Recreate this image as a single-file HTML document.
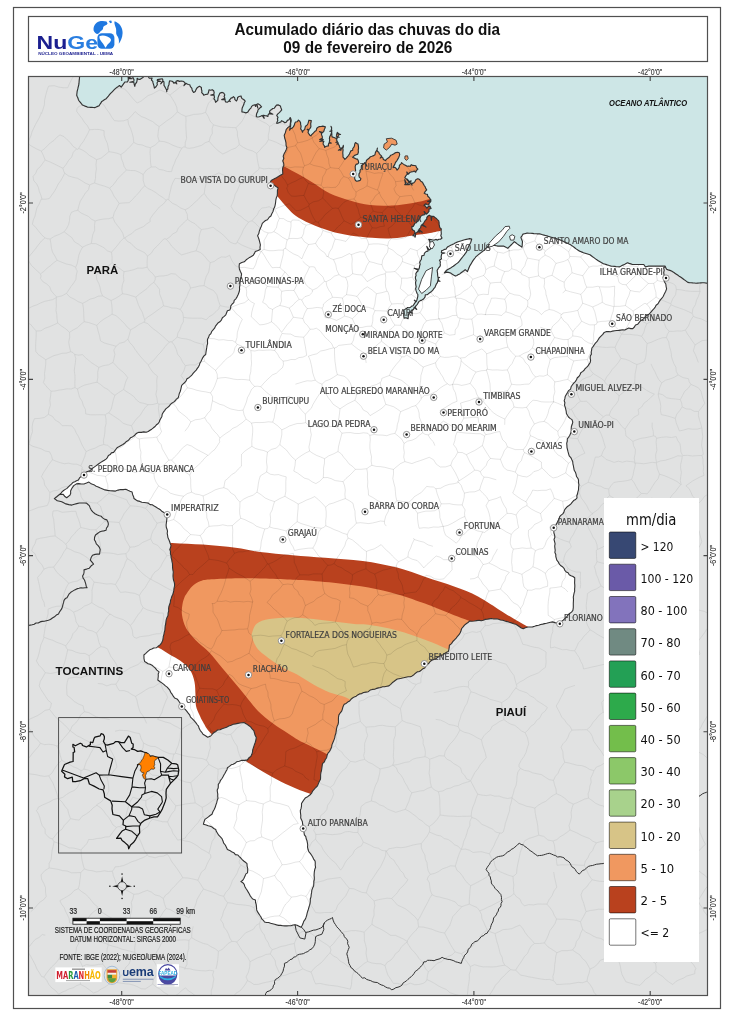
<!DOCTYPE html><html><head><meta charset="utf-8"><title>Acumulado diário das chuvas do dia</title>
<style>html,body{margin:0;padding:0;background:#fff;}svg{display:block}.lb{font-family:"DejaVu Sans","Liberation Sans",sans-serif;font-size:8px;fill:#3f3f3f;font-stretch:condensed;stroke:#3f3f3f;stroke-width:0.18px}.ar{font-family:"Liberation Sans",Arial,sans-serif}</style></head><body>
<svg width="736" height="1024" viewBox="0 0 736 1024">
<defs>
<clipPath id="frame"><rect x="28.5" y="76.5" width="679.5" height="919"/></clipPath>
<clipPath id="ma"><path d="M293 100 L664 100 L664.4 263.8 L665.5 266.5 L663.6 267.7 L664.2 270.2 L663.7 272.7 L664.1 275.2 L663.1 277.3 L663.9 279.5 L664.5 282 L665.8 284 L666.1 286.5 L666.6 288.9 L665.6 291.5 L664.3 293.9 L663.3 296.2 L661.9 298.2 L660.2 300.1 L659 301.9 L658 303.8 L656.1 305.2 L655.2 307.1 L654 308.7 L652.6 310.1 L651.3 311.7 L650 313.2 L648.6 314.6 L646.6 315.5 L645.3 317 L643.9 318.4 L642.4 319.8 L640.6 320.7 L639.2 322.4 L637.8 324.2 L635.5 325 L634.4 327 L632.8 328.6 L630.8 328.6 L628.7 328 L626.7 328.9 L624.8 330 L622.7 329.8 L620.7 330.1 L618.8 330.4 L616.7 330.5 L614.7 330.8 L612.6 331.1 L610.7 331.7 L608.6 331.6 L606.5 331.6 L604.2 332.4 L602.8 334.4 L601 336.1 L599.3 337.9 L598 340 L596.9 341.7 L595.4 343.1 L594.3 344.7 L593.2 346.4 L591.9 348 L591.6 350 L591.2 352 L591.4 354.1 L590.3 356 L590.2 358.2 L590.6 360.4 L590.2 362.5 L589.1 364.1 L588 365.9 L586.6 367.4 L585 368.7 L584.1 370.3 L582.5 371.6 L580.8 372.7 L580 374.7 L578.9 376.5 L577.3 377.8 L576.5 379.7 L575.3 381.6 L573.7 383.2 L572.3 385 L571.1 386.8 L570.6 389.1 L568.6 390.6 L567.5 392.6 L566.3 394.5 L565.2 396.5 L564.8 398.9 L564.2 400.7 L564.9 402.7 L564.5 405.1 L565.2 407.1 L565.7 409.2 L566.2 411.3 L566.4 413.5 L567.4 415.3 L568.5 417 L570 418.4 L572 419.6 L572.8 422.1 L572.2 424.3 L571.4 426.5 L571.2 428.8 L571.2 431.1 L570.7 433.3 L569.7 435.5 L568.4 437.5 L567.3 438.9 L567.3 441 L566.7 443.3 L566.9 445.4 L567 447.5 L567.5 449.6 L568 451.7 L568.6 453.8 L569.2 455.9 L570.8 457.6 L571.7 459.6 L572.7 461.5 L572.9 463.8 L573.4 465.9 L573.8 468.1 L574.2 470.3 L575.4 472.2 L576.1 474.3 L576.5 476.5 L577.8 478.3 L578.5 479.9 L578.5 482.4 L578.9 484.9 L578.6 487.4 L578.5 489.9 L577.9 491.8 L577.5 493.8 L576.8 495.7 L577 497.8 L575.6 499.5 L573.6 500.6 L572.1 502.3 L570.7 504.1 L569 505.5 L567.1 506.8 L565.7 508.4 L564.5 510 L563.9 512.1 L562.8 513.9 L561.1 515.1 L559.7 516.7 L559 518.9 L557.9 521 L557 523.1 L555.8 525.1 L554 526.5 L554.1 528.6 L553.8 530.8 L553.9 533 L554.6 535.1 L554.9 537.3 L554 539.5 L554.6 541.7 L555.1 543.8 L554.7 546 L554.9 548.1 L555.2 550.2 L554.9 552.4 L555.8 554.4 L555.8 556.5 L556.4 558.6 L556.8 560.2 L558.2 561.8 L559.2 563.9 L560.6 565.5 L562.4 566.7 L564 568.3 L564.8 570.4 L566.2 571.9 L568.1 572.8 L569.2 574.7 L571 575.7 L573 576.5 L574.7 577.8 L574.7 580.3 L574.6 582.9 L574.8 585 L574.8 587 L574.6 589.1 L574.7 591.2 L574.1 593.1 L573.7 595 L573.3 597.1 L573.5 599.2 L573.4 601.3 L573.3 603.4 L573.3 605.5 L573.3 607.6 L572.9 610.3 L571.5 612.1 L569.6 613.5 L567.9 615 L566.7 617 L565 618.4 L563.2 620.2 L561.1 621.7 L559.9 623.6 L557.4 623.1 L554.9 622.6 L552.5 621.9 L550.5 622.2 L548.5 622.7 L546.6 623.3 L544.6 623.6 L542.7 624.1 L540.6 624.5 L538.7 625.3 L536.6 625.6 L534.6 626.3 L532.6 626.9 L530.6 627 L527.9 627 L525.3 627.7 L523.3 628.8 L521.3 628 L519.5 626.7 L517.7 625.5 L515.8 624.3 L513.7 623.7 L511.5 622.9 L509.3 622.3 L507.1 621.6 L504.9 621 L502.8 620.2 L500.4 620 L498.7 619.3 L496.2 618.8 L493.8 619 L491.3 618.5 L489.1 618.9 L487.1 619.3 L485.1 619.4 L483.2 620.2 L481.2 620.8 L479.1 620.2 L476.7 620.6 L474.3 621 L471.8 621.2 L469.6 621.1 L468 622.5 L466.2 623.8 L464.5 625.1 L463.1 626.9 L461.7 628.5 L461 630.7 L460.2 632.8 L459 634.7 L457.5 636.3 L456.2 638.1 L454.5 639.8 L452.8 641.5 L451.5 643.6 L449.4 645.3 L449.2 647.4 L448.9 649.4 L448.4 651.4 L446.5 652.2 L444.8 653.4 L443.1 654.7 L441.2 655.6 L439.2 656.3 L437.5 657.5 L435.8 658.7 L433.8 659.4 L431.8 660.3 L430.1 661.5 L428.9 663.3 L427.3 664.6 L425.7 666 L424.7 667.9 L422.8 668.8 L421.2 670.2 L419.5 671.5 L417.2 671.9 L415.5 673.2 L413.9 674.7 L412.2 675.9 L410.4 676.8 L408.1 676.8 L405.8 677.2 L403.6 677.8 L401.4 678.3 L399.1 678.7 L397.3 679 L395.5 680.2 L393.9 681.5 L392.2 682.8 L390.7 684.3 L388.9 685.9 L386.8 686.2 L384.7 686.7 L382.6 686.7 L380.6 687.5 L378.5 687.9 L376.5 688.4 L374.6 689.3 L372.4 689.4 L370.2 690.1 L368.3 691.7 L366 692.1 L363.6 692.5 L361.6 693.6 L359.5 693.9 L357.7 694.9 L356.2 696.2 L354.3 696.9 L352.5 698 L351 699.2 L349.7 701 L347.7 702.1 L346.1 703.4 L344.2 704.3 L343.1 706.4 L342.5 708.6 L341.8 710.9 L340.3 712.8 L338.9 714.9 L338.5 717.2 L338.4 719.5 L338.5 721.9 L338.1 724.2 L337.1 726.3 L336.6 728.5 L336.2 730.9 L335.9 733.3 L335.1 735.5 L334.7 737.9 L333.9 740.1 L333 742.3 L332 744.6 L331.6 746.9 L330.7 749.2 L329.6 751.3 L328 753.1 L327.1 755.3 L326.6 757.7 L325.2 759.7 L324.4 761.9 L322.5 763.7 L322.1 766.2 L321.8 768.4 L321.5 770.5 L320.9 772.6 L320.6 774.8 L320.6 777 L320.5 779.3 L319.3 781.4 L318.4 783.6 L317.5 785.8 L315.8 787.5 L314.3 789.2 L312.8 790.8 L311.8 792.8 L310.5 794.5 L308.8 795.8 L307.1 797.1 L305.2 798.1 L303.9 799.8 L302.7 801.6 L301.5 803.5 L301.5 806 L301.1 808.4 L300.3 810.6 L300.5 813.1 L300.8 815.5 L300.7 817.9 L301.6 819.9 L302.4 821.8 L302.6 824 L303.2 826 L303.1 828.1 L303.6 830.1 L304 832.5 L304.4 834.9 L305.8 836.7 L306.2 838.8 L307 840.8 L307.4 842.9 L307.7 845 L307.5 847.2 L308 849.3 L308.8 851.6 L310.3 853.4 L311.6 855.3 L312.8 857.2 L313.8 859.4 L315.1 861.1 L315.3 863.1 L315.2 865.2 L315.6 867.3 L314.8 869.3 L314.4 871.3 L314.2 873.3 L314.1 875.4 L314.3 877.4 L314.3 879.5 L313.8 881.5 L313.8 883.7 L313.6 886 L312.6 888.1 L311.8 890.2 L311.6 892.4 L311.2 894.6 L311 896.8 L310.3 899 L310.3 901.1 L310.1 903.1 L309.6 905.2 L309 907 L308.4 909.2 L307.7 911.2 L307.1 913.4 L306.6 915.6 L305.9 917.7 L305 919.7 L303.7 921.3 L303.1 923.3 L302.3 925.2 L301 927.2 L299 926.2 L297.1 925.2 L295.1 924.8 L293 925 L291 925.7 L288.9 925.7 L286.8 925.9 L284.8 925.9 L282.7 925.8 L280.7 925.4 L278.7 925.4 L276.6 924.9 L274.6 924.3 L272.6 923.8 L270.6 923.3 L268.6 922.5 L266.5 922.5 L264.5 922 L263.4 920.3 L261.7 918.9 L261 917 L259.8 915.3 L258.7 913.6 L257.6 911.9 L256.7 909.9 L256.5 907.4 L256.3 904.9 L255.6 902.5 L255.4 899.9 L252.7 899 L251.3 897.3 L250.1 895.6 L249.2 893.7 L248.1 891.9 L247 890 L245.8 888.3 L244.8 886.4 L244.2 884.3 L242.8 882.7 L240.9 881.6 L242.8 880.2 L244 878.2 L245 876.1 L245.9 873.9 L247.5 872.9 L247.7 870.6 L247.7 868.3 L247.1 866.2 L247 863.6 L245.4 862.3 L243.7 861 L242.2 859.6 L240.8 858 L239.3 856.6 L237.9 855 L235.4 854.6 L233.8 852.7 L231.6 851.8 L229.7 850.4 L227.4 849.4 L226.4 847.2 L225.3 845 L223.7 843.1 L222.9 840.8 L222 838.6 L220.4 836.9 L218.7 835.2 L217.5 833.2 L216.3 831.3 L215.7 829.4 L213.8 828.5 L212.1 827.1 L210.2 826.3 L208.2 825.8 L206.2 825 L203.4 824.2 L204 822 L204.9 819.4 L206.7 818.1 L208.4 816.9 L210.1 815.5 L212 814.3 L212.9 811.8 L214.2 809.5 L215.3 807.1 L215.9 804.9 L216.7 802.7 L217.2 800.5 L218 798.3 L217.7 796.2 L217.8 794.1 L217.4 792 L217.2 790 L218.2 788.1 L218.3 786 L218.3 784.3 L219.7 782.5 L220.5 780.3 L222 778.5 L223 776.8 L223.9 775 L225 773.2 L225.9 771.4 L227 769.7 L227.4 767.8 L229.4 766.4 L231.2 764.8 L233.2 764.3 L235 763.3 L236.6 761.8 L239.3 761.3 L241.9 760.3 L244.7 760.4 L247.4 759.9 L248.9 757.7 L250.8 756.5 L251.8 754.3 L252.5 752.1 L252.7 749.8 L253.6 747.1 L254.5 744.4 L255.3 742.2 L255.9 740 L256.3 737.4 L255.1 735.3 L254.5 733 L253.8 730.6 L252.1 728.8 L250.6 726.9 L248.7 725.5 L246.4 723.9 L244 722.6 L241.9 722.7 L239.9 723 L237.9 723.4 L235.6 723.9 L233.3 724.3 L231.1 725.2 L228.8 726 L226.6 727.2 L224.3 728 L222.1 728.7 L220 729.8 L217.5 730 L215.9 731.4 L214 732.5 L212.5 733.9 L210.7 736 L207.7 737.3 L205.5 735.8 L203 734.3 L201.8 732.3 L200.3 730.6 L199.2 728.6 L198.5 726.2 L197.1 724.5 L195.8 722.6 L194.1 720.7 L192.4 718.8 L190.5 717.1 L189.6 714.8 L188 712.9 L186.7 711.1 L185.2 709.3 L183.4 707.8 L182.2 706.1 L180.9 704.4 L179.7 702.5 L178.5 700.7 L177 698.9 L174.6 698 L173.3 696.1 L172.1 694.2 L170.7 692.3 L169.8 690.2 L168.5 688.6 L167.2 687.1 L165.4 685.9 L164.1 684.6 L162.2 683.1 L160.1 681.8 L157.8 680 L158.1 678 L158.3 676 L158.2 674 L159.1 671.9 L156.9 670.1 L155.1 667.9 L153.5 666.6 L152 665.2 L150.1 664.3 L148.1 663.7 L146.3 662.5 L144.6 661.5 L144 658.7 L143.9 655 L145.8 653.4 L147.6 651.7 L149.7 649.8 L151.8 649.1 L153.7 648 L156.3 647.8 L158.1 646.3 L160 644.9 L161.5 643.1 L162.5 641 L163.1 638.7 L163.3 636.4 L164 634.1 L164.3 632.1 L164.9 630.1 L165 628 L165.2 626 L165.7 624 L165.9 621.9 L166.2 619.9 L166.9 617.7 L168 615.5 L168.1 613.2 L168.7 611 L168.6 608.6 L168.9 606.5 L169.6 604.5 L170.3 602.5 L170.5 600.4 L171.2 598.4 L171.8 596.4 L172.7 594.5 L173.4 592.5 L173.8 590.4 L174 588.3 L174.5 586.2 L174.6 584.1 L174.2 582.1 L173.5 580.1 L173.2 578.1 L173 576.1 L173.1 574 L173.3 572 L172.9 570.1 L172.6 568 L172.5 565.9 L172.5 563.8 L172 561.7 L171.7 559.7 L171.1 557.7 L171 555.6 L170.4 553.6 L170.5 551.5 L169.8 549.5 L170.6 547.5 L171 545.4 L170.2 543.5 L169.6 541.5 L168.8 539.5 L167.9 537.6 L167.6 535.4 L167.2 533.4 L167.5 531.2 L167 529.2 L166.3 527.2 L166.1 525 L166.4 522.8 L166.7 520.5 L166.9 518.3 L166.3 516 L166.3 514.2 L164.3 512.8 L162.2 511.6 L160.4 509.8 L158.3 508.6 L156.3 507.3 L154.2 506.1 L152.3 504.8 L150.1 504.6 L148.3 503.1 L146.2 502.8 L144.1 502.5 L141.8 502.3 L139.9 501.4 L137.7 500.9 L135.8 499.8 L134 498.5 L133.5 496.4 L132.6 494.4 L132.1 492 L130 491.2 L127.9 490.3 L125.8 489.3 L123.2 489.6 L120.6 489.5 L118.1 490.1 L115.5 491.1 L112.7 490.9 L110.1 490.8 L107.6 490.4 L105 489.9 L102.7 488.9 L100.4 488.1 L98.2 486.9 L96.2 486.2 L94.5 485.1 L92.5 484.3 L90.6 483.4 L88.9 482.1 L86.5 483.1 L84 484 L81.3 484 L78.9 483.6 L76.4 483.9 L73.8 485.6 L72.5 487.3 L71.4 489.2 L70.6 491 L70.7 493.2 L70 495.1 L66.7 497.8 L64.6 496.2 L63.2 494.3 L59.4 494.5 L57.8 495.9 L56 497.2 L54.4 498.6 L56.1 497.4 L57.6 496 L59.2 494.8 L60.8 493.5 L62 491.9 L63.6 490.5 L65.3 489.4 L67 488.4 L68.4 486.8 L69.9 485.4 L71.4 484.1 L72.8 482.6 L74.8 481.8 L76.5 480.8 L78.4 479.9 L79.5 477.9 L81 476.6 L83.1 475.9 L84.3 474.3 L85.6 472.6 L87.4 471.6 L89.5 470.9 L91.2 469.8 L92.5 468.2 L94.2 467.1 L95.9 465.9 L97.5 464.7 L99.1 463.5 L100.8 462.4 L102.6 461.3 L104.3 460.3 L106 459.1 L107.4 457.6 L108.4 455.6 L110.2 454.6 L111.4 452.9 L113.6 452.4 L114.9 450.7 L116.1 449 L117.4 447.4 L119.3 446.5 L121.1 445.5 L122.9 444.5 L124.6 443.3 L126 441.8 L127.8 440.8 L129.2 439.4 L130.5 437.8 L132.4 436.9 L134.2 435.8 L135.5 434.3 L137.1 433 L138.9 432.2 L141.3 432.4 L143.8 431.9 L146.2 432.3 L148.2 431.5 L150 430.3 L151.7 429.2 L153.4 427.8 L155.1 426.5 L156.4 424.8 L158 423.7 L159.2 422 L159.9 420 L160.9 418.2 L161.9 416.4 L162.2 414.2 L163.2 412.4 L164.6 410.6 L165.8 408.9 L167.4 407.6 L169.1 406.3 L170.3 404.6 L171.8 403.2 L173.6 402.1 L175.2 400.8 L176.4 399.1 L178.2 397.8 L178.8 395.7 L179.3 393.5 L180.2 391.5 L180.8 389.3 L181.3 387.1 L181.7 385.3 L183.2 383.9 L184.8 382.5 L186.1 380.8 L187 378.8 L188.9 377.7 L190.5 376.3 L192 374.8 L193.3 373.2 L194.7 371.6 L196.2 370.1 L197.3 368.4 L198.5 366.8 L199.4 364.9 L200 363 L201.1 361.2 L201.9 359.4 L202.8 357.6 L204 355.9 L205.7 354.5 L206 352.2 L206.3 350.1 L206.7 347.9 L207 345.7 L207.6 343.6 L207.5 341.3 L207.5 339.2 L208.6 337.3 L209.3 335.2 L210.9 333.6 L211.7 331.5 L213.1 329.8 L214.6 328.2 L215.5 326.1 L216.9 324.4 L218.3 322.7 L220.2 321.5 L221.5 319.8 L222.4 317.7 L224.2 316.4 L225.8 314.9 L226.6 312.8 L227.4 310.7 L229.8 310 L230.6 308.1 L230.8 305.8 L232.2 304 L233.8 302.6 L234.2 300.3 L235.9 298.8 L237.2 296.6 L238.3 294.2 L239.2 291.8 L239.6 289.6 L239.5 287.4 L239.9 285.2 L240 283 L240.2 280.8 L240.6 278.6 L241.2 276.4 L241.6 274 L240.3 271.3 L239.4 269 L239.1 266.3 L239.4 263.8 L241.8 262.6 L244.3 261.8 L246.2 259.8 L247.9 258.6 L249.6 257.4 L251.4 256.5 L253.3 255.2 L254.4 253.4 L255.3 251.6 L257.5 250.8 L260.2 249.6 L260 247.2 L260.4 244.9 L259.8 242.4 L259.2 240 L258.4 237.6 L257.6 235.8 L258.8 233.6 L259.3 231.1 L260.2 228.8 L261.4 226.1 L262.3 223.3 L263.9 221.9 L265.5 220.5 L267.5 219.7 L269.2 217.3 L270.9 216 L271.8 213.7 L273 211.5 L273.6 209.1 L274.7 207 L275.2 204.8 L275.6 202.5 L275.8 200.2 L276.3 197.9 L277.2 195.7 L277.4 193.3 L277.4 190.6 L278.1 187.9 L276 186.5 L274.2 185.1 L272.3 183.7 L270.2 182.7 L271.2 180.4 L273.8 179.1 L276.4 177.7 L278.4 176.5 L280.4 175.2 L282.8 174.1 L282.7 171.8 L282.5 169.4 L282.9 167.2 L283.9 165.2 L283.6 163 L282.7 160.9 L283.8 158.6 L283.2 156.3 L284 154.1 L285.1 152 L286.1 149.9 L286.9 147.6 L286 145.3 L286 142.9 L285.5 140.6 L284.7 138 L284.2 135.3 L285.4 132.6 L286.2 129.5 L287.8 127.6 L290 126 Z"/></clipPath>
</defs>
<rect x="13.5" y="7.5" width="707" height="1001" fill="#fff" stroke="#505050" stroke-width="1.2"/>
<rect x="28.5" y="16.5" width="679" height="45" fill="#fff" stroke="#505050" stroke-width="1.2"/>
<text class="ar" x="367.3" y="34.8" text-anchor="middle" font-size="15.8" font-weight="bold" fill="#111" textLength="265.5" lengthAdjust="spacingAndGlyphs">Acumulado diário das chuvas do dia</text>
<text class="ar" x="367.8" y="53" text-anchor="middle" font-size="15.8" font-weight="bold" fill="#111" textLength="169" lengthAdjust="spacingAndGlyphs">09 de fevereiro de 2026</text>
<text x="36.6" y="49" style="font-family:'Liberation Sans',Arial,sans-serif;font-weight:bold" font-size="17.5" textLength="61.5" lengthAdjust="spacingAndGlyphs"><tspan fill="#1b1f8f">Nu</tspan><tspan fill="#2a7ee0">Ge</tspan></text>
<path d="M93.6 30.5 C93.2 26 95.5 22.8 99 21.6 C101.5 20.8 104.5 21 106.5 21.6 L107.6 23.5 C106.5 25.5 104.8 25.2 103.6 26.6 C102.6 28 103.8 29.6 101.6 30.4 C100.2 31 99.8 32.6 98.6 33.6 C97 34.6 95 33.6 93.6 30.5 Z" fill="#1f78e0"/>
<path d="M108.8 21 L111.2 20.6 L112 22.4 L110.2 23.2 Z" fill="#1f78e0"/>
<path d="M114.6 21.2 C119.2 22.6 122.8 27.4 122.6 33 C122.4 38 120.6 41.4 118.8 43.8 C119.4 40 118.6 37.2 116.8 35.2 C115.6 33.4 116.6 31.4 116 28.6 C115.4 26 113.8 23.2 114.6 21.2 Z" fill="#1f78e0"/>
<rect x="97.4" y="33.3" width="17" height="15.4" rx="4.5" fill="#1f78e0"/>
<path d="M99.4 36.2 C101.5 35 104.5 35.2 107.2 36.4 C109.2 37.3 111.2 38.2 111 40.2 C110.6 42.2 108.6 43.4 107.4 44.8 C106.6 46 106.1 47.3 105.4 47.8 C104.6 46 103.6 44 102.1 42.4 C100.6 40.6 99.1 38.5 99.4 36.2 Z" fill="#fff"/>
<text x="38.2" y="54.6" style="font-family:'Liberation Sans',Arial,sans-serif;font-weight:bold;fill:#1b1f8f" font-size="4" textLength="75" lengthAdjust="spacingAndGlyphs">NÚCLEO GEOAMBIENTAL - UEMA</text>
<g clip-path="url(#frame)">
<rect x="28" y="76" width="681" height="921" fill="#e1e2e2"/>
<path d="M117.5 982.6l4 0.6 4.1 0.6 4.1 0.3 3.9 1.1 3.8 1.5 3.7 2 4.1 0.3M685.8 673.3l2.9-3.8 2-4.5 3.3-3.5 2.6-4 3.3-3.5M43.4 382.6l1.4-4.5 -0.3-4.7 0.7-4.5 0.5-4.6 0.1-4.6M45.8 359.7l-3.6-2.5 -3.6-2.4 -2.8-3.3M117.5 982.6l0.5-0.5 -0.6 0.5M117.4 982.6l-4.6 0.2 -4.1 1.6 -3.6 2.6 -3.9 2 -3.6 2.6 -4.1 1.4M145.2 989l3.8-2.4 3.7-2.5M170.8 998l-3-3.5 -4.1-2.2 -3.4-3.1 -4.1-2.2 -3.5-2.9M85.7 413.9l4.9 0.9 4.9 0 4.9-0.1 4.8 0.2M105.2 414.9l0.8 4.3 0.1 4.2 -1 4.2 -0.2 4.2 -0.5 4.3 -1 4.1 0.3 4.3M72 425.9l2.6 3.3 1.7 3.9 2.2 3.5 1.7 3.9 1.6 3.9 2 3.6 2.3 3.6M86.1 451.6l4.3-2 4.6-1.4 4.1-2.3 4.6-1.4M58.6 994.2l3.5-2 3.7-1.5 3.5-1.9 3.9-1 3.4-2.2 3.9-1.2M93.5 993l-4.1-3.2 -4.2-3 -4.7-2.4M247.4 980.6l-2.1 3.8 -2.6 3.4 -2.8 3.2 -3.9 2.2 -2.6 3.4 -3 3.1 -2.7 3.2 -3.7 2.4 -2.3 3.7 -3.2 2.8 -2.6 3.4M247.4 980.6l3.4 1.7 3.1 2.2M253.9 984.5l4.4-0.1 4.1-1.3 4.2-0.9 4.2-0.8 4.2-1.2 4.3-0.2M350.3 989.2l-4.3-1.1 -4.3-0.9 -4.3-1 -4.3-0.5 -4.4-0.5 -4.3-0.8 -4.3-1 -4.5 0.5M703.3 454.2l-0.7-4.4 -1-4.3 0.4-4.4 0.8-4.5 -0.6-4.4 -0.3-4.4M717 616.7l-4.4-1.4 -4.2-1.7 -4-2.2 -4.5-1 -4-2.2 -4.1-2 -3.8-2.4M688 603.8l0.9-4 0-4.2 1.9-3.6 0.6-4 0.9-3.9 2.1-3.6M713.5 101.3l-3.8-2.5 -4.1-2 -4.1-1.8M701.5 95l-4.6 1 -4.8-0.3 -4.6 1.6M680 75.7l1.3 4.4 1.2 4.4 2.5 4 0.9 4.5 1.6 4.3M702.3 125.1l1.9-3.9 2.2-3.8 2.2-3.8 1.4-4.2 2.5-3.7 1-4.4M703 130.8l0.1 4.1 1 4 0.7 4 0.2 4.1 0.7 4.1 1.8 3.8M117 767l-3 3.7 -3 3.8 -4 2.8M108.9 790.9l-0.3-4.6 -0.5-4.5 -1.1-4.5M106.4 742.4l2.6 3.8 1.7 4.1 2.2 3.9 1.9 4.1 1.1 4.3 1.1 4.4M106.4 742.4l-5.7 1.6 -5.5 1.9M107 777.3l-4-0.8 -3.6-2.1 -3.9-1.3 -3.8-1.4 -3.8-1.7 -4-0.9M95.2 745.9l-2.3 3.7 -2.2 3.7 -1.8 3.9 -2.3 3.7 -1.5 4.1 -1.2 4.1M18.9 773.2l4.2 0.7 4.4-0.3 4.2 0.6 4.3 0.5 4.2 1 4.3 0.7 4.3-0.6M38.2 807.3l3.8-2.1 3.9-1.7 4-1.7 3.7-2.3 4.3-1M57.9 798.5l-0.7-4.1 -1.4-3.9 -1.4-3.8 -1.5-3.8 -2.2-3.5 -1.9-3.6M18.2 772.7l2.5-3.3 1.9-3.6 2.7-3.1 2.5-3.2 2.5-3.3 2.5-3.2 2.7-3.2 2.8-3 2.1-3.5M40.4 743.3l4.1 1.3 4.3-0.3 4.2 0.4 4.1 1.4M57.1 746.1l2 4.6 1.2 4.9 1.5 4.8M48.8 775.8l3.1-2.7 2.1-3.5 2.2-3.4 2.5-3.1 3.1-2.7M270.3 953.9l2.7 3.3 2.2 3.5 0.6 4.4 1.7 3.7 1.7 3.8 2.4 3.4M270.3 953.9l-4.4 0.6 -3.9 1.9 -4.2 1.3 -3.9 2 -3.9 2M247.4 980.6l-0.5-1.9 -0.9-1.7M279.3 980l0.5-2.3 1.8-1.7M250 961.7l-0.3 5.4 -1.3 5.1 -2.4 4.8M117.4 982.6l0-0.5 -0.1-0.5M152.7 984.1l0.6-4.3 2.5-3.8 0.3-4.4 1.2-4.1M117.3 981.6l2.3-3.6 2.6-3.3 1.9-3.8 1.8-3.8 3.2-3 1.3-4.1 2.1-3.7 2.7-3.3M135.2 953l4.2 1.7 4 2 4.4 1 4.4 1.1M152.2 958.8l2.8 4.2 2.3 4.5M28.9 444l3.8 2.3 4.3 1.2 4.2 1.3 3.9 2.2 4.4 0.8M28.9 444l1.2-4.1 1-4.2 1.4-4.1 -0.4-4.6 0.7-4.2 1.6-4.1M62.2 425.7l-3-3.4 -4-2.2 -2.7-3.7 -4.1-2M34.4 418.7l5.1-0.3 4.8-0.9 4.1-3.1M41.5 476.6l1.8-3.7 2.2-3.3 2.2-3.4 2.3-3.3 2.5-3.2M52.5 459.7l-1-4.1 -2-3.8M52.5 459.7l3.9 1.7 3.9 1.3 4 1 4.4-0.5 4 0.9 4.2 0.1 3.9 1.7M80.8 465.9l2-4.6 1.9-4.8 1.4-4.9M72 425.9l-4.9-0.3 -4.9 0.1M43.4 382.6l3.6 4.5 4 4.1M51 391.2l-0.4 4.7 -0.7 4.6 0.5 4.7 -1.4 4.5 -0.6 4.7M171.6 460.1l3.2 3.5 3.5 3.3 4.2 2.3 3.4 3.3 4 2.6M171.6 460.1l3-3.3 3.2-3 2.6-3.6 3.2-3.1 3.5-2.6M189.9 475.1l1.9-4.3 3.3-2.9 3.4-3 3.2-3.1 2.8-3.5 3.3-3M187.1 444.5l4.5 1.6 3.9 2.6 4.1 2.2 4.1 2.1 4.1 2.3M171.6 460.1l-1.4-0.1 -1.4 0.2M161.5 431.5l-1.8 3.2 -2.9 2.3M156.8 437l1.4 4.1 2.9 3.5 1.2 4.2 2.2 3.8 2.2 3.8 2.1 3.8M274.5 501.6l5.1-2.9 5.3-2.4M274.5 501.6l-1.3 4.2 -1 4.1 -2.1 4 0.5 4.5 -0.2 4.3 -0.8 4.3M297.2 521.7l0.1-4.4 0.4-4.5 0.4-4.4 0.1-4.4M297.2 521.7l-3.8 3 -3.4 3.4 -4 2.8M286 530.9l-4.1-1 -4.1-1.1 -4.2-0.6 -4-1.2M284.9 496.3l4.3 2.6 4.6 2.4 4.4 2.7M295.5 460l-3.4-2.9 -2.8-3.3 -2.7-3.6 -3.4-2.8 -3.4-2.8M295.5 460l-0.5 5.6 -1.2 5.5M286.2 476.8l-3.9-0.9 -3.8-1.3 -4.2 0.3 -4-0.7 -3.6-2.2M266.7 472l0.5-5 -0.7-5 0.3-4.9 0.7-5M267.5 452.1l3.9-2.7 4.9-1.3 3.5-3.5M284.9 496.3l0.9-4.8 0-4.9 0-4.9 0.4-4.9M298.2 504l4.2-1.8 4-2.1 4.3-1.6 4-1.9M315.9 483.6l-3.8-1.8 -3.5-2.5 -4.2-1.2 -3.4-2.5 -3.5-2.6 -3.7-1.9M274.4 720.7l5-1.8 5.3-0.5 5-1.5M274.4 720.7l-1.5-4 -0.8-4.1 -1.1-4 -0.1-4.3 -1.3-4 -1.5-3.9 -0.2-4.3 -1.8-3.9 -0.6-4.1M289.7 716.9l2.6-3.3 1.2-3.9 1.4-3.8 1.6-3.7 1.7-3.7 1.5-3.8 2.2-3.5M301.9 691.2l-1.2-3.9 -1.7-3.7M299 683.6l-4-1 -4.3 0 -4-1.3 -4.2-0.4 -4-1.3 -4.1-1 -4.2-0.3M556.5 984.5l-1.3-2.1 -1.8-1.8M553.4 980.6l-4-1.2 -4.3 0.2 -4.1-0.6 -4.1-0.7 -4.1-0.8 -4.1-0.7 -4.1-1 -4.1-0.7M556.5 984.5l4.4-0.1 4.4-0.4 4.4-0.1 4.3-0.8 4.3-0.7 4.4 0.3 4.3-1.6M587 981.1l3 3.4 2.4 3.7 1.6 4.2 3 3.4 1.7 4.2 2 4M714 926.3l-4.1 1 -3.6 2.6 -3.8 1.9 -3.9 1.7 -4.4 0.3 -4.4 0.1 -4.1 0.9 -3.6 2.6 -4.2 0.8M677.9 938.2l-0.4 2.5 0 2.5M677.5 943.2l2.7 3.5 2.6 3.7 2.8 3.5 2.9 3.4 1.9 4.2 3.1 3.2 2.3 3.8M694.8 973.7l0-2.7 1-2.5M423.1 983.4l-4.3 1.1 -4.2 0.2 -4.3-1.5 -4.2 1.7 -4.3-0.1 -4.2-1.4 -4.2 0M97 804.5l-0.4 0.4 0.3 0.4M96.9 805.3l-3.8 2.6 -3.2 3.4 -3.7 2.7 -4.1 2.3 -2.9 3.8M77.3 787.7l-3.3 2.9 -4 1.7 -3.6 2.3 -3.5 2.7 -4.2 1.4M58.7 798.7l3.4 3.4 2.6 3.9 3 3.5 1.2 4.7 1.6 4.5M70.5 818.7l4.3 0.8 4.4 0.6M108.9 790.9l-2.2 4.1 -2.6 3.8 -3 3.3 -4.1 2.4M83.9 769.1l-1.3 1 -1.6 0.4M81 770.5l-0.3 4.4 -1 4.3 -0.4 4.4 -2 4.1M57.9 798.5l0.3 0.6 0.5-0.4M81 770.5l-3.7-2.2 -4.1-1.6 -3.7-2.3 -3.9-1.9 -3.8-2.1M314.5 882.5l-2.2 3.4 -2.1 3.6 -1.8 3.6 -2.4 3.3M314.5 882.5l4.4-0.7 4.3-1 4.2-1.6 4.3-0.6 4.4-0.5 4.4-0.7M306 896.4l2.2 4.2 2.3 4.1 2.7 3.8 2.4 4.1M333.2 912.4l-4.4 0.1 -4.4 0 -4.4 0.5 -4.4-0.4M333.2 912.4l3-3 1.4-4 2.7-3.2 2.6-3.2 2.8-3.1 1.9-3.7 1.8-3.8M349.4 888.4l-3-3.6 -2.9-3.7 -3-3.7M315.5 839.2l2.7 3.5 3.1 3.2 2 4.1 2.6 3.5 2.8 3.5 3.2 3.1 3.5 2.8 2.6 3.6 2.6 3.6M315.5 839.2l-3.7 3 -2.1 4.1 -2.3 4.1 -2.9 3.5 -2 4.3 -3 3.4M299.5 861.6l2.8 3.3 2.4 3.6 2.7 3.3 2.8 3.3 2.5 3.5 1.8 3.9M730.6 702.5l-4.2 2.3 -4.6 1.4 -4.3 2.1 -4.2 2.5 -4.2 2.1M685.8 673.3l-2.1 0.6 -2.1 0.7M681.6 674.6l-1.6 4.2 -0.3 4.7 -2.2 3.9 -1 4.4 -2.6 3.8 -1.7 4.1 -2.6 3.7M697 642.5l-3.7-2.3 -4-1.5 -3.9-1.7 -3.5-2.5 -4-1.6 -3.7-2.1M697 642.5l1.2 5.8 1.7 5.7M654.2 654.7l2.2-4 1.9-4.2 2.2-4.1 1.4-4.4 3-3.7M674.2 630.8l-4.5 2 -4.8 1.5M697 642.5l2.6-3.2 2.4-3.2 2.5-3.3 2.1-3.5 2.9-3 2.2-3.4 3-2.8 2.3-3.4M688 603.8l-1.3 1.1 -1.6 0.1M694.4 580.5l0.1-1.1 -0.9-0.7M693.6 578.7l1.8-3.7 0.9-4 0.2-4.1 0.9-3.9 1.2-3.9M729.4 261.3l-3.8-2.3 -4.2-1.5 -4.1-1.8 -3.6-2.7 -4.2-1.7 -4-1.8 -4.1-1.9M701.4 247.6l-1-4.5 1.1-4.3 1.4-4.3M722.5 223l-3.8 2.6 -4.3 1.6 -3.7 2.7 -3.9 2.3 -3.9 2.3M697.4 206l3.5 2.5 4.1 1.7 3.9 2 3.7 2.3 2.9 3.4 3.3 2.8 3.7 2.3M697.4 206l1.6-3.7 0.3-3.9M714.1 187.2l-3.4 3.2 -3.7 2.8 -4 2.4 -3.7 2.8M689.7 253.2l-1.6-4.7 -2.9-3.8 -2.2-4.2 -2.5-4.1 -2.2-4.2M702.9 234.5l-4.5-2.2 -4.3-2.5 -3.6-3.5 -4-3M678.3 232.2l3.3-2.4 2.6-3.1 2.3-3.4M686.5 223.3l-0.1-5.3 1.6-5.1M703 130.8l-4.2 2.3 -4.1 2.3 -4.5 1.6 -4.2 2 -4.5 1.5M707.5 154.9l-3.3 2.7 -3.6 2.3 -3.8 2M681.5 140.5l2.1 3.9 2.8 3.4 2.8 3.4 3.1 3.2 2.2 3.8 2.3 3.7M686.9 185.4l3.1 3.3 2.7 3.6 3.4 2.9 3.2 3.2M686.9 185.4l-0.4-4.9 1.6-4.4 1.8-4.4 1-4.6M714.1 187.2l-2.2-3.6 -2-3.9 -1.8-4 -3.6-2.5 -2.9-3.1 -2.8-3.2 -2.9-3.1M690.9 167.1l3-0.9 2-2.4M696.8 161.9l-0.4 1 -0.5 0.9M58.6 994.2l-2.9-3.5 -3.8-2.7 -3-3.4 -2.1-4.1 -2.9-3.4M41.7 976.7l1.1 0.1 1.1 0.3M41.7 976.7l-2.3-3.9 -2.5-3.8 -1.7-4.3 -2.1-4 -2.2-4 -2.4-3.9 -2-4.1M26.5 948.7l3.3-2.7 2.6-3.4 2.9-3.2 3.9-2 3.1-2.9M59.8 957.5l-2.4 3.5 -2.7 3.2 -3.2 2.8 -2.7 3.2 -2.6 3.4 -2.3 3.5M42.3 934.5l1.4 0.4 1.5 0.3M52.6 838.9l-2.6-0.7 -2.1-1.6M52.6 838.9l0.6 1.5 0.8 1.4M54 841.8l-0.8 4.3 -1.1 4.4 -0.5 4.4 -0.4 4.4 -2.1 4.2 0.1 4.5M41.1 874.9l3.5-4.1 4.6-2.8M36.4 810.6l1.3-1.4 0.5-1.9M36.4 810.6l2.2 3.5 1.3 3.8 1 4 1.4 3.8 2.8 3.3 0.1 4.3 2.7 3.3M70.5 818.7l-2.9 3.4 -3.2 3.2 -2.4 3.9 -3.8 2.7 -2.8 3.5 -2.8 3.5M88.6 839.5l-1.6 4.1 -3.2 3 -2.7 3.4M81.1 850l-3.9-1.1 -3.9-0.9 -4.2-0.1 -3.7-1.9 -3.7-1.6 -3.8-1.4 -3.9-1.2M81.1 850l0.2 4.8 0.6 4.8 1.1 4.6 1.3 4.7M84.3 868.9l-1.7 1.9 -1.9 1.7M80.7 872.5l-4.6 0.2 -4.6 0.1 -4.4-1.8 -4.5-0.4 -4.4-1.2 -4.5-0.8 -4.5-0.6M46.2 896.5l-2.7 3.4 -3.8 2.4 -2.8 3.2 -2.9 3.3 -3.2 2.9M46.2 896.5l-0.7-4.4 0-4.5 -1.7-4.2 -2.2-4 -0.5-4.5M143.5 743l-0.4 4.3 -1.6 4 0.2 4.4 -1.2 4.1 -1.3 4 -2.5 3.8M143.5 743l3.6 1.9 3.7 1.4 4.3 0.2 3.6 1.8 3.5 2.2 3.7 1.7 3.8 1.5 4.1 0.4M136.7 767.6l3.6 2.5 4.4 0.8 4.1 1.3 3.5 2.9 4.5 0.4 4.4 0.7 3.8 2.2M173.8 754.1l-1 4.2 -1.1 4.2 -1.7 4 -0.7 4.3 -0.4 4.4M132.8 797.2l4.3 1.3 4.3 1.2 4.4 0.9M135.7 768.3l0.3-0.7 0.7 0M145.8 800.6l4.2-2.6 4.3-2.6 3.6-3.6 4.7-2M162.6 789.8l1.7-5.6 0.7-5.8M270.3 953.9l0.8-2.1 1.1-2.1M250 961.7l-2.2-4.3 -3-3.7 -3.1-3.7 -2.5-4 -2.5-4.1M236.7 941.9l3.2-2.7 2.8-3.2 2.9-3.2 4-1.7 3.9-1.9 2.5-3.7 3.6-2.2M259.6 923.3l0.3 4.4 1.8 3.8 2.6 3.4 1.3 4 2.5 3.5 1.4 4 2.7 3.3M102.6 964l1-3.9 0.9-3.9 2.4-3.5 0.3-4 1.2-3.9M102.6 964l-4 0.4 -4 0.8 -4.1 0.1 -4.1-0.7 -3.9 1.8M82.5 937l-2.5 3.3 -1.7 3.8 -1.9 3.6 -0.4 4.3 -1.3 3.9M82.5 937l4.2 1.3 4.5 0.3 3.9 2.7 4.4 0.3 4.3 1.3 4.2 1.3M108 944.2l-0.2 0.5 0.6 0.1M82.5 966.4l-1.9-4 -2.3-3.7 -3.6-2.8M117.3 981.6l-2.1-4.2 -3.9-2.8 -2.7-3.7 -3.1-3.4 -2.9-3.5M135.2 953l-0.3-0.2 -0.1-0.4M134.8 952.4l-4.4-1.1 -4.5-1.2 -4.4-1 -4.3-1.8 -4.5-1.1 -4.3-1.4M80.5 984.4l-0.4-4.6 0.8-4.5 1.1-4.4 0.5-4.5M137.1 925.4l-4-2.7 -3.2-3.6M137.1 925.4l-0.1 4.5 -0.2 4.5 -0.7 4.5 -0.7 4.5 -0.7 4.5 0.1 4.5M115.1 921.7l5-0.4 4.9-1.2 4.9-1M115.1 921.7l-1.5 4.5 -1 4.6 -2.1 4.3 -1.7 4.4 -0.8 4.7M59.8 957.5l4.9-1.1 5 0.1 5-0.6M137.1 925.4l4.7-0.7 4.7-0.8 4.7-0.6 4.8-0.3M152.2 958.8l2.7-3.3 2-3.9 2.2-3.6 1.9-3.9 2.7-3.4M170.8 998l4.1-1.9 3.7-2.5 3.3-3.2 3.7-2.6M215.9 1015.2l-2.2-4 -1.5-4.3M212.2 1006.9l-2.6-3.5 -3.5-2 -2.7-3.3 -4-1.5 -4.3-1 -3.2-2.6 -3.5-2.1 -2.8-3.1M396.4 565.9l-4.3 1.7 -4.3 1.6 -4.6 0.9 -4.3 1.9 -4.2 2M396.4 565.9l0.4 4.2 1.5 3.9 0.2 4.2 2.2 3.6 1.7 3.8 0.6 4.1 1.4 3.9M374.7 574l1.3 4 1 4.1 -0.7 4.4 1 4.1 1 4.1M378.3 594.7l4.2 1.2 4.2-1.5 4.1-0.5 4.2-0.1 4.2 0.8 4.2 0M404.4 593.6l-0.5 0.5 -0.5 0.5M297.2 521.7l3.8 1.8 4 1.2 4 1.2 3.9 1.4 4.2 0.4 4.2 0.6M325.6 507.1l0.6 4.7 0 4.6 -0.5 4.7 0.1 4.7M325.6 507.1l-3.4-3.7 -3.6-3.6 -3.9-3.2M321.3 528.3l2.4-0.9 2.1-1.6M506.2 664.2l2.4 3.8 2.6 3.9 2.8 3.7 1.1 4.5 1.3 4.5M516.4 684.6l3.4-2.6 3.8-1.9 3.5-2.4 3.7-1.9 4.1-1.5 3.9-1.6 3.2-2.9 3.5-2.5M522.8 644.3l4 0.8 3.9 1.3 4 0.9 4.1 0.6 3.7 1.9 3.6 2.2M545.5 667.3l0.6-5.1 -0.2-5.1 0.2-5.1M485 625.7l4.1-0.3 3.9-1.8 4.1-0.3 4.1-0.5 4.1 0.3 4.2 0.2 4-1.2M485 625.7l-2.3 2.8 -2.2 2.8M513.5 622.1l1.4 3.8 1.7 3.6 1.6 3.7 1.8 3.6 1.4 3.8 1.4 3.7M506.2 664.2l-4.1-1.2 -4-1.3 -3.8-1.8 -4.2-0.8M490.1 659.1l-0.9-4.1 -2-3.8 -1.6-3.9 -1.1-4 -1.1-4.1 -1.3-4 -1.6-3.9M490.1 659.1l-3 3.3 -3.1 3.2 -3.1 3.2 -3 3.3 -3.8 2.5 -2.5 3.8 -3.2 3M480.5 631.3l-3.9 1.1 -4.3-0.7 -3.9 1.2 -3.9 1.2M447.2 654.5l2.7-3.6 2.8-3.4 3.4-3 3.2-3.1 3.2-3.1 2-4.2M461 597.7l-2.8 3.9 -3.1 3.5 -3.7 3 -2.6 4 -3.3 3.3M461 597.7l4.2 2.1 3.9 2.8 4.2 2.2 4.1 2.5 3.9 2.7M481.3 610l1.7 3.7 0.7 4 1.5 3.8 -0.2 4.2M464.5 634.1l-3.1-3.1 -2.9-3.5 -3.2-3 -2.8-3.5 -3.7-2.6 -3.3-3M676.9 518.8l-0.3-4.4 -1.2-4.2 -2-3.8 -2.3-3.8 -1.3-4.1M676.9 518.8l-4.7-0.4 -4.6 1.8 -4.6 0.5 -4.7-0.5 -4.7 0M653.6 520.2l0.2-4.6 -0.5-4.5 -0.6-4.5 -1-4.5 0.1-4.5M592 513.9l-3.7 3.4 -2.9 4M607.5 521.6l0.9 4.1 0.8 4 1.4 4 -0.1 4.1 0.2 4.2M610.7 542l-4.3 2.7 -4.3 2.7 -4.7 2.1M585.4 521.3l2 3.9 1.7 4 2.1 3.9 1.8 4 2.6 3.6 1.4 4.2 0.4 4.6M478.1 576.8l2.7 3.6 2.3 3.8 3.1 3.3 2.6 3.6M478.1 576.8l-3.9 1.8 -4.2 0.4M461 597.7l-0.8-0.4 0.5-0.7M481.3 610l2-3.6 0.6-4.1 1.9-3.6 1.2-3.9 1.8-3.7M432 604.3l2.5-3.7 3.5-2.8 2.2-4 3-3.2 1.9-4.1M432 604.3l2 4.6 1.5 4.8M435.5 613.7l4.9 1.1 5.1 0.6M460.7 596.6l-3.7-2.8 -3.6-3 -4.4-1.7 -3.9-2.6M243.1 410.1l-4.3 0.5 -3.9-0.8 -4-0.8 -3.7-1.6 -3.5-2.1 -3.9-1 -3.7-1.8 -3.6-1.7M243.1 410.1l1 4.7 2 4.3M204.8 417.7l2.6-3.9 3.3-3.6 0.7-4.8 1.1-4.6M204.8 417.7l2 3.7 3 3.1 2.1 3.8 2.6 3.2 3 3.1 2.4 3.5M219.9 438.1l3.1-2.6 3.3-2.3 3.4-2.2 3.1-2.7 3.9-1.6 3.2-2.4 3.3-2.3 2.9-2.9M272.7 422.2l4.8 3.5 4.3 4.1M272.7 422.2l-4.2-0.4 -4.3 0.6 -4.2 0.2 -4.3-0.1 -4.2 0.5M281.8 429.8l0 5 -1 4.9 -1 4.9M267.5 452.1l-3.8-1.6 -4.1-0.8 -4-1.2 -3.7-2.1M251.9 446.4l-0.1-4.7 0.4-4.6 0.5-4.7 0-4.7 -1.2-4.7M135.4 436.6l1.7 1.5 2.2 0.8M135.4 436.6l-3.3 2.4 -3.6 2.1 -3.1 2.6 -3.1 2.8 -3.6 1.9 -4.1 1.2M139.3 438.9l0.3 4.5 0.2 4.4 1.2 4.4 -0.4 4.5 0.5 4.5 0.2 4.4 0.9 4.4M114.6 449.6l1.2 4.4 0.7 4.5 0.4 4.5 1.5 4.3M118.4 467.3l4.1 1.3 4.2 1.2 4.3 0.8 3.9 2M142.2 470l-3.6 1.4 -3.7 1.2M105.2 414.9l1.6-1.4 2-0.6M103.7 444.5l4 0.9 3.2 2.7 3.7 1.5M108.8 412.9l3.7 2.4 3.6 2.4 3.6 2.4 3.3 3.1 4.1 1.5 4.4 1M131.5 425.7l1.9 5.5 2 5.4M156.8 437l-4.3 0.7 -4.5 0.2 -4.4 0.3 -4.3 0.7M168.8 460.2l-2.9 2.8 -2.9 2.7 -3.4 2.1 -2.6 3.2 -3.1 2.5M153.9 473.5l-4-0.9 -3.9-1.1 -3.8-1.5M80.8 465.9l1.5 1.2 -0.4 1.9M81.9 469l3.6 2.3 4 1.1 3.9 1.4 3.9 1.6 4.2 0.4 4.1 0.6M105.6 476.4l4.2-3.2 3.8-3.6 4.8-2.3M108.9 493.4l4.5 1.4 4.4 1.8 4.5 1.6 4.4 1.6M108.9 493.4l-1-4.2 -0.1-4.4 -1.4-4.2 -0.8-4.2M130.3 505.8l-2.1-2.8 -1.5-3.2M130.3 505.8l5.2 0.4 5.1 0.6 5 1.6M153.9 473.5l0.5 4.5 1.6 4.1 2.6 3.8M145.6 508.4l2.4-3.6 1.4-4.2 2.5-3.6 2-3.8 2.4-3.7 2.3-3.6M43.7 636.6l0.8-4.6 0.6-4.6 1.3-4.5 0.5-4.6 1.2-4.5 0-4.7M115 731.2l4.2-0.9 4.1 0.2 4.2 0.1 4 1.1 4 1.2 4.1 0.7M146.6 723.4l-1.7-3.8 -1.9-3.7 -2.6-3.5 -1.5-3.8 -1.1-4.1 -0.8-4.2 -1.5-3.9M135.5 696.4l-3.8-1.9 -3.6-2.5 -4.1-1.4 -4.6 0.1M143.5 743l-2.4-4.5 -1.5-4.9M160.7 682.6l1 4 1.6 3.7 2.6 3.2 1.7 3.7M160.7 682.6l-3.6 2.1 -3.4 2.3 -4.2 0.8 -3.6 2 -3.4 2.3 -3.5 2.1 -3.5 2.2M157.5 719.3l2.5-3.3 1.9-3.6 1.1-3.9 1.4-3.8 1.5-3.8 1.7-3.7M160.7 682.6l0.8-5.6 1.3-5.6M141.3 661.5l4.2 2.2 4.9 0.5 4.1 2.6 4.2 2.1 4.1 2.5M141.3 661.5l-3.2 3 -3.8 1.6 -3.9 1.6 -3.5 2.3 -3.5 2.2 -3.7 2M119.7 674.2l-0.8 5.4 -3 4.6M115.9 684.2l1.5 3.4 2 3.1M43.7 636.6l0 0.4 0.4 0.2M36.4 660.9l1.6-3.9 1.1-4 0.9-4 0.8-4.1 1.8-3.8 1.5-3.9M40.4 743.3l-2.6-3.3 -3.2-2.8 -2-3.7 -2.3-3.5 -2-3.8 -2.4-3.3M130.3 505.8l-3.1 3.9 -3.1 4 -2.3 4.5 -2.6 4.3M108.9 493.4l-4 3.1 -3.7 3.6 -4.2 2.9M119.2 522.5l-5-0.4 -4.9-0.4 -5-0.1M97 503l3.4 3 1.1 3.8 1.4 3.8 1 3.9 0.4 4.1M85.7 413.9l-0.3-4.5 -2.1-4 -1.2-4.2 -2.5-3.8 -1.1-4.2 -1.1-4.3M114.9 395.3l-1.5 4.4 -1 4.6 -1.1 4.6 -2.5 4M114.9 395.3l-3.7-2.5 -3.1-3.3 -4-2 -3.4-2.9 -3.7-2.4M97 382.2l-4.1 0.8 -4 1.1 -4.1 0.9 -3.8 1.7 -3.6 2.2M51 391.2l4-0.2 4-0.9 4-0.5 4-0.8 4.1 0.2 3.9-1.5M75 387.5l1.1 0.8 1.3 0.6M190.8 421.9l4.4-2.1 4.9-0.6 4.7-1.5M190.8 421.9l-2.7-3.2 -3.1-2.7 -3.4-2.6 -3.3-2.6 -2-3.8 -2.7-3.1M212.5 400.8l0.1-4.2 -2.1-3.7M210.5 392.9l-4.7-1 -4.7-0.7 -4.6-1 -4.5-1.5 -4.6-0.9M187.4 387.8l-2.7 3.3 -2.5 3.4 -2.8 3.2 -3.2 2.9 -2.6 3.3M161.5 431.5l-1.6-4.5 0-4.6 -0.2-4.5 -0.7-4.6 -0.6-4.5 0.6-4.7M184.9 431.3l3.4-4.4 2.5-5M173.6 403.9l-4.9-0.2 -4.8 0.3 -4.9 0.1M65.7 645.8l-4.3-1.9 -4.4-1.5 -4.2-2.1 -4.4-1.3 -4.3-1.8M65.7 645.8l2.9-3.7 2.7-3.9 1.7-4.6 3.4-3.4 2.4-4.1M61.3 606.1l-4.6 0.2 -4.4 1.1 -4.2 1.7M61.3 606.1l4.2 1.8 4.3 1.6 3.8 2.6M78.8 626.1l-2.7-4.2 -0.9-5 -1.6-4.8M157.5 719.3l4.1 1.4 4.1 1.4 4.3 1 3.8 2.3 3.9 1.9 3.8 2.3M173.8 754.1l1.1 0 0.4-1M175.3 753.1l1.3-3.9 1.6-3.7 1-3.9 1-4 0.2-4.1 1.1-3.9M189.9 475.1l0.8 4.3 0 4.3 0.2 4.3 0.7 4.2M158.6 485.9l3.9 2.4 4.1 1.7 3.6 3.1 4.3 1.4 4.5 1 4.6 0.7M191.6 492.2l-4.3 1.4 -3.7 2.6M145.6 508.4l3.2 3.4 3.2 3.5 2.2 4.1 2.8 3.8M157 523.2l4.2-1 4.3-0.4 4.1-1 4.1-1.3M183.6 496.2l-2.4 3.5 -1.4 4 -2 3.8 -1.4 4 -1.3 4 -1.4 4M157 523.2l-1.4 4 -2.5 3.5 -1.6 4 -0.8 4.2M119.2 522.5l1.6 4.2 1.6 4.2 1.9 4 1 4.5 2.4 3.9 2.2 3.9M150.7 538.9l-4.1 1.8 -4.1 1.8 -3.7 2.8 -4.2 1.5 -4.7 0.4M104.3 521.6l-4.2 4.1 -4.1 4.1M96 529.8l1.7 4.5 1.3 4.5 1.1 4.6 0.6 4.7 0.5 4.7M101.2 552.8l4.1 0 4.2 0.2 4.1 0.5 4.1 1.1 4.2-0.6 4.1-0.3M129.9 547.2l-1.3 3.7 -2.6 2.8M203.1 495.9l0.7 4.4 0.1 4.5 0.8 4.3 2 4.2 0.1 4.5 1.6 4.2 0.6 4.4M203.1 495.9l4.1-1.8 4-2 3.9-2.2 4.2-1.4 4.5-0.8M209 526.4l4.6-0.5 4.7-0.2 4.6-0.9 4.7 1 4.7-0.2M232.3 525.6l4.2-3.8 4.3-3.5M240.8 518.3l-1-4 -0.2-4.1 0.3-4 0-4.1M239.9 502.1l-2.9-3.2 -2.4-3.8 -3.8-2.2 -2.7-3.5 -4.3-1.7M274.5 501.6l-4.8-1.6 -4.5-2 -4-3.2 -4.2-2.7M269.6 527l-2.2 1.5 -2.6 0.4M264.8 528.9l-4.3-1.2 -4.1-1.5 -3.5-2.7 -4-1.8 -3.9-2 -4.2-1.4M239.9 502.1l3.9-3.1 4.5-2.2 4.8-1.6 3.9-3.1M266.7 472l-3.2 1.9 -3.2 2M260.3 475.9l-1.2 4 -0.8 4 -0.5 4.1 -0.8 4.1M416.1 592l-5.9 0.7 -5.8 0.9M403.4 594.6l1 4.2 -0.6 4.1 0.6 4.2 -1.1 4.1 -1.1 4 -0.5 4.2M435.5 613.7l-3.3 3.4 -3.5 3.1 -3.2 3.4 -3.9 2.7 -2.5 4.1 -2.3 4.1M401.7 619.4l2.8 3.3 2.7 3.3 2.8 3.2 3.8 2.3 3 3M430.5 655.2l4.1-0.5 4.2-0.2 4.2 0.1 4.2-0.1M430.5 655.2l-3-4 -2.9-4.1 -4.4-2.8 -3.2-3.8M416.8 634.5l0.1 3 0.1 3M313.9 779.5l0.6-4.6 0.3-4.6 1-4.6 0.6-4.6 0.9-4.5 -0.6-4.8M285.9 751.5l3.9-2.2 4.5-1.1 4.1-1.9 4-2.1 3.9-2.2M285.9 751.5l-0.3 4.8 -0.2 4.9 -0.7 4.8M284.7 766l3.9 1.3 3.9 1.5 3.2 2.5 3.7 1.6 3.7 1.7 2.6 3.4 3.4 2.2M316.7 751.8l-3.1-3.6 -3.1-3.7 -4.2-2.5M360.4 721.4l-3.9 1.6 -4.1 1 -3.8 1.6 -3.6 2 -4.1 0.9 -3.5 2.5M360.4 721.4l-0.7-4 -0.6-4 0-4 -0.2-4.1 0.2-4M346.4 690.8l-4 1.8 -3.9 1.9 -3.2 3.1 -3 3.4 -4.1 1.7 -4 1.8M337.4 731l-3.3-3.4 -3.7-2.8 -4.1-2.4 -3.5-3.1M324.2 704.5l-0.1 4.9 -1.3 4.9 0 5M312.4 665.4l3.7 1.6 4 1.2 3.8 1.3 3.6 2 3.3 2.5 3.4 2.2 3.4 2.5 4.1 0.9 3.5 1.9M301.9 691.2l3.8 2 3.6 2.5 4 1.7 3.6 2.4 3.2 3.1 4.1 1.6M345.2 681.5l-0.2 4.7 1.4 4.6M335.5 745.9l1.2-4.9 -0.2-5.1 0.9-4.9M335.5 745.9l-4.4 2.4 -4.5 1.9 -5.1 0.3 -4.8 1.3M307.3 728.6l0.9 4.6 -1.2 4.4 -0.7 4.4M307.3 728.6l4-2.1 4.1-2 3.6-2.9 3.8-2.3M249.1 653.2l-4.2 2.2 -4.1 2.3 -4.4 1.5 -4.2 2.2 -4.7 0.8M249.1 653.2l1.1-4.2 1-4.4 1.3-4.2 0.1-4.5M252.6 635.9l-3.7-2.8 -1.2-4.3M247.7 628.8l-4.3 0.4 -4.4 0 -4.3 0.7 -4.3 0.2 -4.3 0.3 -4.3 0.1M221.8 630.5l-1.6 4 -3.4 3.1 -1.6 4 -1.6 4 -2.4 3.6M227.5 662.2l-3.7-3.3 -3.8-3.2 -4.4-2.4 -4.2-2.7M269.2 672.6l-3-3.6 -3.4-3.2 -3.4-3.1 -3.8-2.8 -3.4-3.2 -3.1-3.5M269.2 672.6l0.9 2.8 0.1 2.9M265.5 684.1l-4.7 1.5 -4.6 2 -5 1M251.2 688.6l-4.2-1.6 -4.3-1.4 -4-1.9 -3-3.4 -2.8-3.8 -3.7-2.3M252.5 602.2l-4.4-0.9 -4.5 0.6 -4.4-0.4 -4.4-0.1 -4.5 0.7 -4.4-1.3 -4.4 0.7 -4.4-0.3M252.5 602.2l-0.8 4.5 -1.1 4.3 -1 4.4 -0.2 4.5 -0.7 4.5 -1 4.4M212.6 603.7l2.6-0.5 1.9-2M212.6 603.7l0.4 4.1 0 4.3 2.1 3.6 2.3 3.5 1.4 3.7 1.3 3.9 1.7 3.7M189.3 634.2l3.5 2.7 4 2 3.1 3.4 3.7 2.3 3.5 2.7 4.1 1.9M189.3 634.2l-3.7 1.7 -3.5 2.3 -3.5 2 -3.9 1.2 -3.7 1.8M192.1 670.5l-4.6-1 -4.7-0.3 -4.5-1.2 -4.7-0.6 -4.7-0.3M192.1 670.5l3.1-3.4 2.3-4.3 3.6-2.9 4.2-2.4 3.7-2.9 2.4-4M171 643.2l-1 3.9 1.1 4.1 0.2 4.1 -0.9 3.9 -0.8 4 -0.7 3.9M386.5 669.6l-2.4 3.9 -1.3 4.2 -0.7 4.5 -1.5 4.1 -0.7 4.5 -1.9 4M386.5 669.6l3.5 2.3 3.7 2 3.9 1.4 3.8 1.6 4.2 1 3.2 2.8 3.4 2.5 4 1.2M378 694.8l3.8 2.2 4 1.9 3.4 2.8 3.4 2.8 4 1.9 3.8 2.3M416.2 684.4l-2.4 3.4 -2.6 3.2 -2 3.7 -2.8 3.1 -2.5 3.3 -1.8 3.8 -1.7 3.8M353.4 667.1l4.3-1.1 4.3-1.7 4.4-0.3 4.2-1.3 4.5-0.2 4.5 0.9 4.4 0.2M384 663.6l0.8 3.2 1.7 2.8M359.1 701.3l4.8-1.4 4.3-2.8 4.8-1.3 5-1M420.9 682.8l0-4.5 1.2-4 1.1-4 2.8-3.4 0.2-4.3 1.7-3.8 2.6-3.6M420.9 682.8l-2.4 0.6 -2.3 1M384 663.6l2.1-4 0.7-4.5M386.8 655.1l4-1.2 3.3-3 3.5-2.3 3.9-1.6 3.5-2.4 3.9-1.5 4.1-1.3 4-1.3M515.7 970.1l-2.5 0 -2.5-0.5M515.7 970.1l2.4 2.5 2.4 2.5M510.7 969.6l-3.4 2.8 -2.9 3.2 -3.3 2.9 -2.5 3.5 -3.1 3.1 -2 3.7 -2.3 3.7 -2.4 3.6 -3.1 3 -2.7 3.4 -1.7 4 -2 3.9 -1.8 3.9 -2.4 3.6M145.8 800.6l0.1 5.2 2.1 4.5 2 4.6 2.5 4.3M175.8 805.8l-2.7-3.2 -2.5-3.3 -2.4-3.4 -2.2-3.5 -3.4-2.6M175.8 805.8l-1.1 4.5 -3 3.5 -2.2 4 -1.9 4.1M167.6 821.9l-5.1-0.2 -5-1.2 -5-1.3M288.5 806.2l-4.5-1.4 -4.7-1.3 -4.7-0.8 -4.5-1.9M284.7 766l-4.3 1.8 -4 2.2 -3.5 3.1M270.1 800.8l0.2-4.7 -0.1-4.6 -0.1-4.7 1.5-4.5 -0.3-4.7 1.6-4.5M298.3 823.5l-4.7 1 -3.6 2.7 -3.5 2.8 -3.6 2.7 -3.5 2.9 -3.5 2.8 -3.7 2.5M298.3 823.5l-2.8-4.1 -2.9-4.1 -1.7-4.7 -2.4-4.4M272.2 840.9l-5.2-1.8 -5.1-2.1M261.9 837l-1-4.2 0.4-4.2 0.6-4.1 0.6-4.1 0.1-4.1 -0.4-4.2 0.6-4.1 0.5-4.1M270.1 800.8l-3.5 1.4 -3.3 1.7M175.8 805.8l4.8-0.7 4.8-1.1 4.9-0.6 4.9-0.5M168.9 775.2l4.2 2.1 4.4 1.4 4.2 1.9 4.4 1.5 4.7 0.6M190.8 782.7l0.9 4 0.9 4 1 4.1 1 4 0.6 4.1M299.5 861.6l-4.4 0.6 -4.3 1.3 -4.3 0.9 -4.5 0.4M282 864.8l-2.5 3.5 -2.4 3.5 -2.4 3.6M306 896.4l-4.9-1.3 -4.8 1.5 -4.8 0.4M291.5 897l-3.9-2.7 -2.1-4.2 -2.6-3.7 -2.3-4 -3.7-2.9 -2.2-4.1M406.9 942.2l-3.2 2.4 -2.7 3 -2.1 3.6 -3.3 2.4 -2.1 3.5 -2.6 3 -3.6 2.1 -2.3 3.4M406.9 942.2l1-0.4 -0.9-0.5M385 965.6l-4.1-1.8 -4.6-0.2 -4.5-0.6 -4.2-1.5M371.9 924.3l3.6 2.4 4 1.8 3.8 2 3.7 2.4 3.6 2.5 4.8 0 4 1.8 3.9 1.8 3.7 2.3M371.9 924.3l-3.9 3.9 -3.8 4M364.2 932.2l0.2 4.2 0 4.3 1.2 4.1 0.9 4.1 -0.5 4.3 0.7 4.1 0.9 4.2M350.3 989.2l1.2-4.5 0.3-4.8 0.7-4.7 2-4.4M385 965.6l1.3 4.8 1.6 4.7 2.8 4.1 2.7 4.2M367.6 961.5l-3.5 2 -3.1 2.7 -3.1 2.4 -3.4 2.2M311.1 972.1l-4.3-1.4 -4-1.9M311.1 972.1l2.8-3.5 3.5-3 3.7-2.7 3-3.3 2.9-3.6 3.1-3.2M302.8 968.8l-2.5-3.8 -1.3-4.3 -1.4-4.2 -1.8-4.1 -0.8-4.5 -0.7-4.4M330.1 952.8l0.9-2.9 -1.1-2.9M329.9 947l-3.3-2.5 -3.5-2.2 -3.5-2.3 -3.3-2.4 -3.2-2.7 -3.4-2.4 -4.2-1M294.3 943.5l2.2-5.3 3-4.8M305.5 931.5l-3.3 0.1 -2.7 1.8M315.6 983.9l-1.7-3.8 -1.3-4.1 -1.5-3.9M281.6 976l4.4-1 4.2-1.7 4.4-1 4.2-1.5 4-2M354.5 970.8l-3-3.2 -4.2-1.7 -3.3-2.8 -3.9-2 -2.9-3.3 -4-1.9 -3.1-3.1M272.2 949.7l4.3-1.4 4.3-1.8 4.5-0.8 4.5-1.3 4.5-0.9M342.9 932l-3.2 3.8 -3.2 3.8 -3 4 -3.6 3.4M342.9 932l4.3-0.5 4.2-0.9 4.3 0 4.3 0.6 4.2 1M259.6 923.3l0.8-2.4 0.6-2.4M279.5 915.9l-4.7 0.2 -4.6 0.8 -4.5 1.5 -4.7 0.1M279.5 915.9l4.1 2 3.5 2.8 3.1 3.1 2.9 3.4 3 3.3 3.4 2.9M291.5 897l-2.4 3.8 -3.4 3.2 -2.3 3.8 -1.7 4.2 -2.2 3.9M468.2 687l-4.5-0.6 -4.4 0.5 -4.2 1 -4.3 1.2 -4.1 1.7 -4.4 0.1 -4.3 0.9 -4.3 0.9M468.2 687l1.5 2.3 1.2 2.5M470.9 691.8l-1.6 3.8 -1.1 4 -1.3 3.9 -2.2 3.6 -1.5 3.9 -2 3.7 -1 4 -1.4 3.8 -0.6 4.2M435.7 719.4l4.8 0.7 4.3 1.9 4.2 2.5 4.7 0.8 4.5 1.4M468.4 681.4l0.3 2.8 -0.5 2.8M402.1 720.5l4.4 2.1 4.7 1 4.5 1.6 4.5 1.5M402.1 720.5l-0.7-5.9 -1-5.9M516.4 684.6l0.5 1.8 -1.1 1.6M470.9 691.8l3.9 1 3.8 1.8 3.7 1.5 4 1.2 3.6 2 3.9 1 4 1.1 3.9 1.2M515.8 688l-2.5 3.1 -2.4 3.5 -2.3 3.4 -3.4 2.4 -3.5 2.2M402.1 720.5l-3.3 3.4 -3.6 2.9M360.4 721.4l2.6 3.1 3 2.7M366 727.2l4.2-0.4 4.1-0.1 4.2-1.1 4.2-0.3 4.1 0.9 4.2 0.3 4.2 0.3M418.6 926.9l-0.4-3.2 -0.4-3.3M418.6 926.9l4.6 0.2 4.3 1 4.3 1.1 4.1 1.7 4.3 1.4 4.4 0.7M444.6 933l2.5-3.7 2.6-3.8 1.6-4.3 1.4-4.5 3.1-3.4 3.1-3.4 3.1-3.3M462 906.6l-3.8-1.2 -3-3.5 -3.8-1.4 -3.8-1.4 -3.9-0.9 -4-1.1 -4-0.7 -3.7-1.7M417.8 920.4l2.3-3.5 1.9-3.8 1.9-3.7 2-3.7 2-3.7 1.8-3.8 2.3-3.5M703.3 454.2l-0.6 0.7 -0.8 0.5M701.9 427.8l0 0 -0.1 0M701.8 427.8l-4.4 1.3 -4.6 0.1 -4.6-0.5 -4.4 1.3 -4.4 1M701.9 455.4l-4.8 0.3 -4.8 0.3 -4.8-0.7 -4.8 0.3M682.7 455.6l-1.8-3.6 -0.3-4.2 -0.6-4 -2.4-3.4 -1.4-3.8M682.3 456.1l-4.6-0.3 -4.2 1.8 -4.2 1.4 -4.2 1.3 -4.4 0.6 -4.2 1.5M676.2 436.6l-4.9 0.9 -5-0.6 -4.9 0.4 -4.9 1M656.5 438.3l-0.4 4 0.4 4 0.4 4 -1.2 4.1 0.1 4 0.7 4M679.5 520.7l-1.1-1.2 -1.5-0.7M679.5 520.7l1.3 0.2 1.3-0.5M680.8 484.6l0.3 0.3 0-0.4M680.8 484.6l-2.8 3.4 -2.5 3.7 -3.2 3.1 -2.5 3.7M682.1 520.4l2.9-3.7 3.9-2.9 2.4-4.3 3.1-3.6 3.4-3.3M697.8 502.6l-2.2-3.5 -3-2.9 -1.6-3.9 -1.9-3.7 -3.2-2.8M681.1 484.5l-0.8-4.1 0.5-4.1 0.6-4 -0.8-4.1 0.1-4 1-4 0.6-4.1M701.9 455.4l1.1 3.9 0 4.1 0.7 3.9 -0.6 4.1 0.9 4M704 475.4l-3.9 1.5 -3.7 2 -3.7 2 -3.4 2.5 -3.4 2.4M654.2 654.7l-3 1.2 -3.1 0.6M648.1 656.5l-1.8 3.7 -2 3.5 -1.7 3.7 -2 3.5 -1.5 3.8 -2.6 3.2 -2.1 3.5M669.6 703.4l-4.1-0.6 -3.9-2 -4-1.1 -4.2 0 -4.3 0.2 -4-0.9M634.4 681.4l2.6 3.3 1.6 3.8 1.5 3.9 3.2 2.9 1.8 3.7M680 75.7l-4.2 1 -4 1.7 -3.9 1.9 -4.1 1.3 -4.3 0.6M345.6 277.3l-3.6-0.6 -3-2.1M345.6 277.3l1.8 4.3 0.5 4.3 -0.7 4.4 -0.7 4.4M332.5 297.3l5 0.2 4.9 0.5M332.5 297.3l-1.4-4 -2.5-3.5 -1.8-3.9 -0.7-4.2M346.5 294.7l-2.1 1.5 -2 1.8M326.1 281.7l4.4-2.2 3.8-3.3 4.7-1.6M159.1 126.6l-3.3-2.4 -3.1-2.6 -3.7-1.7 -3.6-1.9 -3.9-1.4 -3.3-2.3 -3-2.7M159.1 126.6l3.8-2.8 3.7-2.9 4-2.6 3.6-3 3.2-3.5M177.4 111.8l-0.7-4.7 -1.8-4.2 -2.4-3.9 -2.5-3.9M159.9 89.9l5.3 2.2 4.8 3M159.9 89.9l-3.9 2 -3.8 2.2 -4.2 1.5 -3.4 2.7 -3.5 2.8 -3.9 1.9M606.8 218.6l5.1 0.5 5.1 0.6 5.1 1M606.8 218.6l-3.5 3.9 -3.1 4.2 -2.1 4.8M598.1 231.5l4.2 2.4 4.2 2.6 3.6 3.2M624.2 223.8l-1.8-1 -0.3-2.1M688 212.9l-4.3-2.8 -4.5-2.1 -4.7-1.8M667.1 229.5l4 0.8 3.3 2.5M667.1 229.5l-1.5-4.1 -2.1-3.8 -1.2-4.3M674.5 206.2l-2.6 3.3 -3 2.8 -3.2 2.7 -3.4 2.3M78.3 888.7l3.3 2.9 3.8 2.4 3.2 3.1 2.8 3.5 2.8 3.5 3.5 2.7M78.3 888.7l-4.1 1.8 -3 3.4 -3.7 2.4 -3.8 2.2 -3.8 2.1M59.9 900.6l1.7 3.7 2.6 3.3 1.4 3.8 1.9 3.6 1.7 3.7 0.5 4.2M97.8 908.9l-1-1 0.9-1.1M97.8 908.9l-3.7 2.5 -3.2 2.8 -2.5 3.6 -3.5 2.6 -2.3 3.8 -3.2 2.8M79.4 927l-4.7-2.4 -5-1.7M84.3 868.9l3.9 1.4 4 0.4 4 1.1 4-0.2 4.1-0.8 4 0.7 4.1-0.3M80.7 872.5l-0.2 4.2 -0.7 4 -0.4 4.1 -1.1 3.9M112.4 871.2l1 4.5 1.7 4.3 1.3 4.4M115.1 921.7l-2.9-3.3 -3.8-2.1 -3.6-2.3 -3.7-2.3 -3.3-2.8M129.9 919.1l0.6-4.1 1-4.1 0.4-4.2 -0.6-4.3 1.7-4 0.8-4.1M133.8 894.3l-4.3-2.5 -4.5-2.4 -4.5-2.2 -4.1-2.8M82.5 937l-1.5-5 -1.6-5M57.1 746.1l3.3-3.7 3.1-3.9 3.3-3.7 3.2-3.9M25.9 722.9l3.2-3.5 4.2-1.9 4.2-1.9 3.9-2.4 3.6-2.8 4.6-1M49.6 709.4l2.6 3.4 2.5 3.4 3.1 2.9 3.3 2.7 3.2 2.8 3 3.1 2.7 3.2M97.8 683.5l4.5 0.4 4.5 2 4.5-1.6 4.6-0.1M109.6 719.5l-4.3-0.9 -4.4-0.6 -4.3-1 -3.9-2.1 -3.9-2.3 -4.3-0.9M84.5 711.7l-0.9-2.9 -0.5-3M95.2 745.9l-3.4-2.4 -3.6-2.2 -3.8-1.7 -3.6-2.1 -3.8-1.7 -3.3-2.5 -3.4-2.5M84.5 711.7l-3.8 3.1 -2.1 4.4 -2.9 3.8 -3.7 3.2 -1.7 4.6M70.3 730.8l-0.2-0.2 -0.1 0.3M68.4 678.3l-1.2 4.1 -0.6 4.3 0.2 4.3 0.2 4.2M60.9 671l-5.1 1.5 -5.2 1 -5.3-0.8M51.4 703l-3.4-2.7 -2.3-3.6 -2.3-3.5 -2.3-3.5 -1.9-3.8M45.3 672.7l-2.3 4.2 -2.6 4.2 -1.2 4.8M67.7 649.8l-1 4.4 -1 4.3 -1.2 4.3 -1.4 4.3 -2.2 3.9M67.7 649.8l4.4 0.6 4.1 1.9 4.3 1.1 4.6 0.1 4 2.2M89.1 655.7l0.6 4.9 -0.8 4.9 -0.4 4.8 0.1 5M88.6 675.3l-4 1.1 -3.9 1.4 -4.2-0.7 -4.1 0.5 -4 0.7M83.1 705.8l-4.6-1.8 -4.1-2.5 -3.6-3.3 -3.8-3M65.7 645.8l0.7 2.1 1.3 1.9M36.4 660.9l2.5 4.3 3.5 3.5 2.9 4M49.6 709.4l1.2-3.1 0.6-3.3M261.9 837l-4 1.1 -3.5 2.6 -4.3 0.2 -3.8 1.7M239 804.8l3.6-2.2 3.8-2M239 804.8l-1.2 4.6 -1.4 4.5 0.4 5 -1.6 4.5 -1.5 4.5M263.3 803.9l-4.2-0.9 -4.1-1.6 -4.3-0.3 -4.3-0.5M246.3 842.6l-2.7-4.1 -2.9-3.8 -3.9-3.1 -3.1-3.7M202.9 816.2l3 3.8 3.3 3.4 3.4 3.2 3.7 3.1M202.9 816.2l-0.1-4.5 -0.6-4.4M239 804.8l-4.4-1.4 -4.3-1.9 -4.2-2.4 -4.5-1.6 -5.1 1.2M216.5 798.7l-3.8 1.8 -3.3 2.6 -3.4 2.4 -3.8 1.8M191.6 937.6l-1.2 1.5 -1.4 1.2M191.6 937.6l3.7 2.3 3.9 1.8 4 1.7 4.3 1 3.6 2.4 3.9 1.8 3.4 2.7M189 940.3l-0.3 4 0.1 4.1 -1.2 3.9 -0.5 4 -0.2 4 0.1 4 -1.9 3.8M218.4 951.3l-0.3 4.5 -0.4 4.4 -0.7 4.4 -1 4.3M185.1 968.1l-0.6 1 1.1-0.5M185.6 968.6l4 0.1 4 1.1 4 0.6 4.1 0.3 4 0.2 4.1-0.6 4 0.6M231.9 941.4l-2.1-3.4 -1.3-3.9 -1.9-3.6 -2.6-3.3 -1-4 -2.4-3.4M231.9 941.4l-3.7 2 -2.9 3.1 -3.1 2.9 -3.8 1.9M193.2 926.4l-1.3 5.5 -0.3 5.7M157.3 967.5l4.6 0 4.7-0.5 4.6 0.3 4.7-0.3 4.6-0.2 4.6 1.3M163.7 940.7l4.2 0.6 4.2-0.8 4.2-0.1 4.2-0.4 4.3-0.2 4.2 0.5M236.7 941.9l-2.4-0.4 -2.4-0.1M212.2 1006.9l0.3-4 -0.8-4 -0.4-4 -0.1-4.1 1.4-3.9 0.5-4 0.8-3.9 -1.3-4.1 1.2-4M416.1 592l3.2-3.8 2.1-4.4 2.1-4.5 2.6-4.1M426.1 575.2l4.4 1.1 4.1 2.5 4.5 0.6 4.7-0.5M443.8 578.9l2.7-3.1 2.9-2.9 2.7-3.2M366.4 551.4l0.1 4.4 -0.3 4.3 -0.3 4.4 0.1 4.3M366.4 551.4l3.8-1.4 4-1.1 3.5-2.1 3.5-2.2M366 568.8l4 3.2 4.7 2M396.4 565.9l0.7-2.3 1.4-1.9M398.5 561.7l-3-2.7 -2.9-2.8 -2.7-3.1 -3.2-2.6 -2.8-2.9 -2.7-3M423.8 567.9l-3.2-3.9 -3.4-3.5 -5-1.3 -4.3-2.2M398.5 561.7l4.8-2.2 4.6-2.5M423.8 567.9l2.9-3.2 3.2-2.8 3.1-3.1 3.2-2.8M452.1 569.7l-0.2-4.5 -0.1-4.5M451.8 560.7l-3.9-1 -4.3 0 -3.5-2.5 -3.9-1.2M407.9 557l0.6-4.7 2.1-4.2 1.6-4.4 2-4.2M414.2 539.5l4.8 1.5 4.8 1.2 4.3 2.7 4.8 1.4M627 509.1l-3.9-2.3 -3.5-2.6 -2.9-3.4 -3.4-3 -3.8-2.2M592 513.9l1.1-0.1 -1.1-0.2M607.5 521.6l3.7-2 4.3-0.5 3.8-2 3.5-2.3 4-1.4M609.5 495.6l-2.9 3 -2 3.9 -3.3 2.6 -2.4 3.6 -3.3 2.6 -3.6 2.3M500.5 589.1l-5.8 1.1 -5.9 0.9M500.5 589.1l3.4 3.2 3.5 3.1 2.8 3.8 3.1 3.5 4.4 2.2 2.8 3.8M513.5 622.1l2.5-3.2 2.7-3.1 2.3-3.4M520.5 608.7l0.4 1.8 0.1 1.9M596.3 551.2l0.2 5.2 0.4 5.2M594.3 566.4l1.6-2.2 1-2.6M580.6 572.1l-4.5-0.1 -4.2-1.3 -3.9-2.3M571.3 547.2l-3.4 3 -2.5 3.4 -1.3 4.1 -0.6 4.4M563.5 562.1l2.5 3 2 3.3M208.4 455.2l3.1-3.1 3.5-2.8 2.4-3.7 2.4-3.7M225.1 480.6l3.4-2.7 3-3.2 3.8-2.2 2.9-3.4 3.2-2.9M241.5 454.4l-0.1 5.9 0 5.9M207.8 455.3l0.3 0.1 0.3-0.2M219.9 438.1l-0.6 1.9 0.5 1.9M191.6 492.2l3.7 1.8 4 0.7 3.8 1.2M223.8 487.7l0.6-3.5 0.7-3.6M251.9 446.4l-3.7 2.4 -3.6 2.5 -3.1 3.1M251.5 423l-2.7-2 -2.7-1.9M66.7 547.9l4.1 1.8 4 2.1 4.5 1.2 4 2.1 3.8 2.5 3.4 3.1M66.7 547.9l-2.7 3.8 -2.2 4.1 -2.5 3.9 -2.8 3.7 -2.9 3.7M53.6 567.1l2.3 3.9 2.9 3.3 3.5 2.8 3.4 2.9 2.9 3.3M68.6 583.3l4.2-1.4 4.3-0.8 3.9-2.2 4.2-1.4 4.3-0.8M61.3 606.1l0.4-4.9 1.6-4.5 1.2-4.7 1.8-4.4 2.3-4.3M91.8 602.7l-3.6 2 -3.8 1.4 -3.3 2.6 -3.6 1.9 -3.9 1.5M91.8 602.7l0.2-4.1 0.1-4.2 -0.1-4.1 0.9-4.1 1.2-4M94.1 582.2l-2.1-2.9 -2.5-2.6M94.1 582.2l4.3 0.5 4.2 0.7 4.3 0.6 4.3-0.3 4.3 0.8M115.5 584.5l2-3.6 2.2-3.4 1.1-4 1.5-3.7 1.9-3.6 1.2-3.9 1.9-3.6M101.2 552.8l-3.4 2.8 -3.8 2.3 -3.5 2.8M127.3 558.7l-1-2.4 -0.3-2.6M31.6 550.9l3.5 2.9 1.5 4.3 2.5 3.6 3 3.3 1.9 4.1M37.6 577.4l3.5-4 2.9-4.3M36.2 539.3l-1 4.1 -2.2 3.6 -1.4 3.9M44.8 606.9l-0.7-4.3 -2-4 -0.9-4.3 -1-4.2 -0.7-4.3 -1-4.2 -0.9-4.2M53.6 567.1l-4.9 0.2 -4.7 1.8M45.8 359.7l3.9-2 4-2 4.2-1.1 4.1-1.3 4.5-0.2 4.2-1.4M75 387.5l-0.2-4.2 0.2-4.1 -0.1-4.1 -0.6-4.2 0.4-4.1 0.7-4.1 0.3-4.2 -1.1-4.1M70.7 351.7l2.3 0.9 1.6 1.8M114.9 395.3l4.2-3 4.5-2.8M131.5 425.7l2.6-3.6 2.6-3.6 3.4-3 2.3-3.9 2.5-3.7 3.2-3.2M123.6 389.5l3.4 2.4 3.4 2.2 3.4 2.4 2.7 3.5 3.3 2.5 4.3 0.9 4 1.3M159 404.1l-0.7-0.4 -0.7-0.5M148.1 404.7l4.8-0.2 4.7-1.3M162.8 671.4l3.2-1.9 2.9-2.4M136.4 638.2l3.9-1.6 4.2-0.4 4.1-0.5 4-1.1 4-0.8 4.2-0.1M207.7 726.5l3.3-3.3 2.8-3.7 1.6-4.5 2.6-3.8 3-3.6 3-3.5M195 721.6l-1.1-4.5 -1.1-4.5 -2.2-4.2 -0.2-4.7M190.4 703.7l2.5-3.7 2.6-3.7 1.9-4.2 2.2-3.9M199.6 688.2l4.2 0.4 4.3 0.2 4.4 0 4.2 1.4M216.7 690.2l2 4.8 2.2 4.8 3.1 4.3M181.5 729.6l4.2-3.2 4.5-2.7 4.8-2.1M192.1 670.5l2.7 4 1.6 4.6 1.7 4.5 1.5 4.6M229.2 674.2l-1.9 3.7 -2.5 3.2 -1.7 3.8 -2.9 2.9 -3.5 2.4M240.5 706.1l-4.1-1.1 -4.1-0.5 -4.2 0.3 -4.1-0.7M240.5 706.1l1.4-3.9 2.2-3.5 2.4-3.4 2.1-3.5 2.6-3.2M175.3 753.1l4.3 1.4 4.4 1.3 4.5 0.9 4.5 0.6 4.5 0.8 4.6 0.4 4.3 1.7M207.7 726.5l2.2 1.7 0.8 2.6M210.7 730.8l-0.9 4.1 0.3 4.4 -0.4 4.2 0.7 4.4 -1.4 4.1 -0.8 4.1 -1.8 4.1M190.8 782.7l3-3.1 3.2-2.8 3.1-3 2.8-3.3 2.8-3.1 3.1-3M216.5 798.7l0.9-4.2 0.1-4.2 0.7-4.2 0-4.2 -0.7-4.3 0.6-4.2 -0.1-4.2M202.2 807.3l-3.5-2.2 -3.5-2.2M218 769.2l-4.7-2.3 -4.5-2.5M246.4 800.6l-0.5-4.4 -2.2-4.1 -1.2-4.3 -0.1-4.4 -0.7-4.4 -0.9-4.3 -0.9-4.4 0.2-4.5M218 769.2l4.4-1 4.5 0.1 4.6 0.2 4.3-1 4.3-1.7M206.4 760.2l1.4 2 1 2.2M173.7 519.5l3.8 2.6 3.5 2.9 2.8 3.7 3.6 2.8 3.3 3.1M209 526.4l-3.5 2.5 -2.2 3.8 -3.1 2.8M200.2 535.5l-4.7-0.5 -4.8-0.4M166.8 555.8l-2.3-4.2 -3.9-2.7 -3-3.6 -4.7-2 -2.2-4.4M166.8 555.8l2.5-0.4 2.4 0.8M190.7 534.6l-3.1 2.7 -2.1 3.6 -3.5 2.4 -2.7 3.2 -3 2.8 -3 2.9 -1.6 4M189.3 634.2l-1.3-4.1 -1.2-4 -0.2-4.1 2-4 0.7-4M212.6 603.7l-0.2-0.7 -0.5 0.6M209.1 559.3l-3.3 3 -3.3 3 -3.4 2.8 -3.4 2.9 -2.8 3.5M209.1 559.3l-1-4.1 -1.7-3.9 -1.7-3.9 -1.6-3.9 -1.1-4.1 -1.8-3.9M171.7 556.2l3.5 2.6 2.8 3.2 3.3 2.7 2.7 3.4 3.4 2.6 2.1 3.9M189.5 574.6l1.7-0.2 1.7 0.1M243.1 410.1l1.7-4.1 1.6-4 1.1-4.4 2.1-3.8 1.8-4.1 3.2-3.3M217.4 378.4l-1.3 3.8 -1.4 3.8 -1.8 3.6 -2.4 3.3M217.4 378.4l4.1-0.6 4-0.3 4 0.7 4.1 0.9 4 0.5 4-0.2 4.1 0.3 4 0.5M254.6 386.4l-2.8-2.9 -2.1-3.3M272.7 422.2l1.5-4.4 0.6-4.6 1.4-4.5 0-4.6 0.4-4.6M276.6 399.5l-3.3-2.4 -3.4-2.2 -3.2-2.4 -2.9-2.9 -3-2.8M254.6 386.4l3.1-0.2 3.1 0.6M276.6 399.5l4.6 0 4.1-2 4.4-1.1M260.8 386.8l2.7-3.3 2.8-3 3.1-2.8 3-2.8 4-1.7 3-2.9 3.1-2.7M306.7 355.3l-3.7 1.8 -4.1 0.5 -3.7 2 -4.2-0.1 -3.8 1.2 -4.1 0.4M295.4 384.2l3.9-1.2 3.9-1.2 3.9-1 4.2 0.2 4-0.8M315.3 380.2l-1.5-3.9 -1.2-3.9 -0.6-4.2 -0.9-4.1 -1-4 -1.7-3.9M283.1 361.1l0.4 3.3 -1 3.2M286 530.9l1.6 4 1.6 4 1.4 4.1 2.4 3.7 1.6 3.9M321.3 528.3l-2.6 3.6 -1 4.3 -1 4.2 -1.7 3.9 -2.1 3.8M312.9 548.1l-4.6 0.1 -4.6 0.6 -4.6 0.6 -4.5 1.2M406.9 942.2l2.1 3.5 2.3 3.4 2.9 2.9 2.6 3.1 2.2 3.4 2.9 2.9 2 3.6 1.7 3.8 2.7 3M407 941.3l2.5-3.9 2.9-3.6 3.3-3.3 2.9-3.6M444.6 933l1.9 3.9 2 3.8 2 3.8 2.2 3.7 2.4 3.7M455.1 951.9l-3 2.9 -4 1.7 -3.5 2.2 -3.1 2.9 -4 1.6 -3.1 2.8 -2.8 3.3 -3.3 2.5M423.1 983.4l2.4-1.4 1.4-2.4M475.1 1017.9l-1-4.2 -2-3.7 -0.6-4.4 -2.4-3.6 -2.7-3.4M466.4 998.6l-4-1.9 -4.1-1.5 -4.4-1.1 -4.1-1.5 -3.4-3.1 -4-1.6 -4-2 -3.7-2.4 -3.8-2.1 -4-1.8M426.9 979.6l0.5-3.9 0.9-3.9M668.4 790.4l-4.3-0.3 -4.4 0.1 -4.2-0.8 -4.2-1.4 -4.2-1 -4.3-0.1 -4.3-0.1 -4.2-0.9 -4.5 1M668.4 790.4l-1.8 4.1 -2.3 3.7 -1.7 4.1 -2.1 3.8 -2.4 3.7 -1.8 4 -2.4 3.7M626.2 795.9l1.8-4.5 1.8-4.5M626.2 795.9l1.9 4.2 3.2 3.5 2.3 4 2.7 3.8 1.9 4.3 1.5 4.4M711.6 881.3l-3.4-2.4 -2.9-3.2 -3.5-2.4 -3.2-2.7 -3.3-2.6 -3.1-3 -3.8-1.9M705.4 844.3l-3.3 3 -3 3.4 -3.7 2.7 -3.5 2.7 -3.1 3.3M688.4 863.1l0.3-1.8 0.1-1.9M695.2 816.9l1.2 4 1.4 3.9 1.6 3.9 0.7 4.2 1.7 3.8 1.7 3.8 1.9 3.8M714 926.3l-3.2-3.1 -1.7-4 -1.9-3.9 -2.8-3.4 -1.9-3.8 -2.5-3.5 -2-3.8M698 900.8l2.5-4.1 2.6-4 2.4-4.1 3.2-3.5 2.9-3.8M694.1 816.4l0.8-0.4 0.3 0.9M694.1 816.4l-3 3.3 -3.6 2.3 -3.1 3.1 -3.7 2.3 -3.7 2.3 -3.7 2.3 -3.2 2.9M669.9 837.9l0-1.5 0.2-1.5M669.9 837.9l3.1 2.7 2.7 3.1 2.5 3.2 2.4 3.4 2.6 3.2 2.5 3.2 3.1 2.7M639.9 985.4l3-3.1 2.8-3.1 3.7-2.3 3-3 3.4-2.5M655.8 971.4l3.2 2.8 3.7 2.3 3.1 3.1 3.3 2.6 3.7 2.3M625.9 981.8l4.6 1.4 4.7 1.3 4.7 0.9M677.5 943.2l-3.9 2.1 -2.8 3.2 -3.1 2.9 -2.3 3.8 -3.4 2.6 -3.3 2.7 -3.2 2.8M694.8 973.7l-4 1.2 -4 1.1 -3.5 2.2 -3.8 1.4 -3.7 1.9 -3 3M655.5 963.3l0.7 4 -0.4 4.1M625.9 981.8l-2-3.7 -1.9-3.6 -1-4 -0.6-4 -1.1-3.9 -0.6-4.1 -2.3-3.5 -0.3-4.2M655.5 963.3l-3.7-2.2 -3.4-2.5 -4.2-1.4 -3.5-2.5 -3.7-2.2 -3.9-1.9 -2.2-4.3M630.9 946.3l-4.5 1.4 -4.6 1.1 -4.7-0.1M616.1 950.8l0.8-0.9 0.2-1.2M587 981.1l0.7-4 1.4-3.9 0.9-4.1M616.1 950.8l-3.6 2.8 -3.5 2.9 -4 2.2 -4.6 1.5 -2.8 3.9 -3.5 3 -4.1 2M137.5 833.6l1.5 4.5 2.1 4.2 1.7 4.4 1.8 4.4 2.8 3.9M137.5 833.6l-4.8-0.7 -4.2-2.2 -4.5-1.7 -4.2-2.3M109.4 836.8l3.5-4.7 3.6-4.7M115 866.9l4.4-0.4 4.3-1 3.9-1.7 3.9-2 4.1-1.2 4-1.7 4-1.5 3.8-2.4M116.5 827.4l1.6-0.8 1.7 0.1M132.8 797.2l-2.1 3.4 -1.5 3.8 -1.3 3.9 -1.1 3.9 -0.8 4 -1.7 3.7 -1.7 3.6 -2.8 3.2M152.5 819.2l-2.8 3.1 -1.8 4.2 -3.5 2.2 -3.3 2.7 -3.6 2.2M88.6 839.5l4.2 0 4.1-1 4.2-0.3 4.1-1.2 4.2-0.2M96.9 805.3l3.7 2.4 2.9 3.1 2.4 3.5 2.8 3.1 2.2 3.7 2 3.8 3.6 2.5M112.4 871.2l1.5-2 1.1-2.3M254 907.7l2.7-3.7 1.3-4.1 1.7-4.1 1.6-4 0.8-4.4 0.8-4.3 0.5-4.5M254 907.7l-4.2-1.9 -4.4-0.6 -4.5-0.5 -4.5-0.3 -4.3-1.2 -4.5-0.5M227.6 902.7l-2.3-2.9 -1.6-3.5M223.7 896.3l2.1-3.9 3.1-3.4 2-4 1.4-4.3 2.5-3.7 2.3-3.8 1.5-4.3 2.3-3.8M240.9 865.1l3.8 2.2 3.6 2.5 4.3 1.3 3.8 2.1 3.8 2.2 3.2 3.2M261 918.5l-3.3-3 -2.3-3.6 -1.4-4.2M274.7 875.4l-5.6 1.8 -5.7 1.4M220.6 919.8l1.9-4.2 1.1-4.5 2.2-4.2 1.8-4.2M272.2 840.9l0.5 4.5 1.3 4.1 2 3.8 1.9 3.9 2.5 3.6 1.6 4M246.3 842.6l-1.4 3.8 -1.8 3.6 -1.6 3.7 -0.9 3.9 -1.4 3.8M239.2 861.4l0.2 2.1 1.5 1.6M335.5 745.9l2.6 3.5 3.6 2.5 2.4 3.7 3.2 2.9 3.2 2.9M366 727.2l0.3 4.1 1.4 4.1 -1.6 4 -1.4 3.9 -0.1 4.1 0.1 4 -1 4.1 1 4M350.5 761.4l4.9 0.7 4.6-1.7 4.7-0.9M313.9 779.5l4.1 1.9 3.8 2.7 4.3 1.5 4.2 1.7M350.5 761.4l-2.5 3.3 -2.1 3.5 -3.5 2.5 -2.6 3.2 -2.3 3.4 -2.1 3.6 -1.7 3.8 -3.4 2.6M417.8 920.4l-2.7-3.5 -3.2-2.8 -3.2-2.8 -3.4-2.6 -4-1.9 -4-1.8 -2.8-3.4 -2.9-3.1M427.2 879.2l2.2 3.5 0.4 4.2 0.7 4 1.5 3.8M391.6 898.5l3-2.8 2.8-3.1 2.3-3.6 3.1-2.8 2.7-3.1 2.5-3.4M371.9 924.3l0.6-4.7 1.6-4.5 -0.2-4.8 0.9-4.6 -0.7-4.8M391.6 898.5l-4.5-0.3 -4.4 0.7 -4.3 0.8 -4.3 1.2M349.4 888.4l4.5 0.4 4 1.9 4.1 1.7 4.4 0.5M366.4 892.9l3.7 4.1 4 3.9M701.8 427.8l-1.1-4.1 -1.2-3.9 -1.1-4 0.1-4.3M704.8 403.2l-3.1 4.2 -3.2 4.1M675.3 418.4l-4.6-1.5 -4.6-1.3 -4.8-0.9M675.3 418.4l1.5-4.3 2.9-3.5 2.5-3.7M682.2 406.9l-0.5-3.7 -1.4-3.6M680.3 399.6l-4.5-0.6 -4.6-0.4 -4.5-0.8 -3.9-3 -4.3-1.3M661.3 414.7l-0.8-4.1 0.3-4.4 -0.6-4.1 -1.3-4.1 -0.9-4.2M658 393.8l0.8 0.5 -0.3-0.8M679.4 431l-1.6-4.1 -1.6-4.1 -0.9-4.4M698.5 411.5l-4.3-0.2 -3.8-2.1 -4.3-0.3 -3.9-2M704.8 403.2l-1.6-3.9 -1.2-4 -1-4.1 -2.6-3.4M698.4 387.8l-3.7-1.8 -3.8-1.6M690.9 384.4l-2.6 3.8 -3.6 3.1 -2.2 4.2 -2.2 4.1M627 509.1l2.8-3.1 3-3.1 2.3-3.6 3.3-2.8 2.9-3.1M653.6 520.2l-2.3 2.4 -2.3 2.4M626.8 513.4l3.2 4.1 2.5 4.6M649 525l-4-1.5 -4.3 0 -4.1-0.5 -4.1-0.9M641.3 493.4l2.9 0.1 2.9 0.4M680.8 484.6l-3.8-3.1 -4.2-2.1 -4.3-2 -4.4-1.8 -4.6-1.4M647.1 493.9l3-3.6 2.4-4 2.5-3.9 3-3.6 1.5-4.6M656.5 462.4l-0.3 0.1 0.1 0.3M659.5 474.2l-2.2-5.6 -1-5.8M681.7 263.4l1.6-0.7 1.7-0.4M685 262.3l2.9 3.5 3.4 2.8 4.5 1.5 2.9 3.4 3.2 3.2M673.4 283.7l2.4 2.4 0.5 3.4M676.3 289.5l4.7 0.3 4.7 1 4.6 0.5 4.7 0.1 4.8-0.1M701.9 276.7l-1.1 4.8 -1.1 4.8 0.1 5M729.4 261.3l-4.1 1.8 -4 2 -4 2.1 -2.9 4.2 -4.6 1 -3.4 3 -4.5 1.3M689.7 253.2l-2.7 4.4 -2 4.7M700 291.7l0.3-0.4 -0.5 0M700 291.7l-1.5 4.4 -2 4.1 -1.1 4.5 -2.5 4.1 -0.7 4.6M670.8 303.7l1.8-4.7 3-4.3 0.7-5.2M670.8 303.7l0.1 0.6 0.1 0.5M671 304.8l4.2 1.8 4.3 1.5 4.4 1.5 4.2 1.9 4.1 1.9M695.1 344.9l3.5-2.2 3.6-2.1 4.2-0.4 3.9-1.3 3.7-1.8 4-1 3.7-1.8 3.8-1.5 3.6-1.9 4-1.1 3.9-1.2M695.1 344.9l-2.6-3.5 -2.4-3.7 -2.6-3.6 -2.1-4M737 328.6l-4.1-0.6 -4.1-0.7 -4.4 0.3 -4.1-0.8 -4.1-0.4 -3.7-2.2 -3.9-1.5 -3.7-2 -3.8-1.9 -4-0.9 -3.9-1.5M685.4 330.1l3.1-4.2 1.9-5.1 2.8-4.4M693.2 316.4l-0.3-1.6 -0.7-1.4M699.2 502.7l2.9-2.9 2.5-3.5 3.5-2.1 3.7-1.8 4-1.4 3.4-2.2 3.2-2.4M699.1 530.7l-3.7-3.5 -4.4-2.4 -4.9-1.5 -4-2.9M697.8 502.6l0.7 0.5 0.7-0.4M701.8 541.5l-1.5-5.3 -1.2-5.5M701.8 541.5l-1.6 3.8 -2.2 3.4 -2.2 3.4M695.8 552.1l1.7 3.4 1.1 3.6M693.6 578.7l-4.5-0.4 -3.8-2.3 -4.3-0.6 -4.1-1.4 -4.1-1.5 -4.1-1.4M695.8 552.1l-4.5-0.8 -4.6-0.7 -4.5-0.9 -4.6 0.2 -4.5-1.3M668.7 571.1l0.6-4.6 2.6-4.1 -0.4-4.8 0.9-4.5 0.7-4.5M685.1 605l-4.5-2 -4.8-1.5 -4.7-1.5 -4.3-2.7M666.8 597.3l1.3-4.3 -0.6-4.3 0.7-4.3 -0.9-4.3 0.4-4.3 0.4-4.3M668.7 571.1l-0.1 0.4 -0.5 0M679.5 520.7l-0.8 4.4 -1.2 4.3 -1.6 4.1 -1.8 4.1 -1.1 4.3 -1.7 4.1M649 525l1.4 4.4 0.9 4.6 1.7 4.3 0.9 4.5M671.3 546l1.1 1.2 0.7 1.4M653.4 600.9l-1.9-3.9 -2.1-3.9 -1.5-4.2 -2.4-3.6 -2.5-3.7M653.4 600.9l-1.6 4.2 -1.6 4.2 -3.5 3.1M643 581.6l-4.2 2.9 -4.7 1.5 -4.9 0.9M629.3 615.3l-2-2.7 -2.2-2.7M666.8 597.3l-4.4 1.4 -4.4 1.3 -4.6 0.9M668.1 571.5l-4.3 0.9 -4.3 0.1 -4.3 1.3 -4.3-1.3 -4.4-0.8M646.5 571.7l-2.5 4.7 -1 5.2M664.9 634.3l-3.2-2.6 -2.5-3.2 -2.3-3.4 -2.8-3 -2.2-3.4 -2.6-3.2 -2.6-3.1M648.1 656.5l-3.3-2.4 -3.4-2.3 -2.5-3.6 -3.7-1.8 -2.9-2.9 -3.6-2 -3.4-2.3 -4.1-1.1M621.2 638.1l1.1-3.9 0.4-4.1 1.3-3.9 1.1-3.9 3-3.2 1.2-3.8M601 585.9l2.4 1.4 2.5 1M601 585.9l-4.4 2.9 -4.9 1.9 -4.3 2.9M605.9 588.3l1 4.1 1.1 4 1.5 3.9 0.9 4.1M587.4 593.6l-0.2 4 -0.6 4 -0.4 4 0.3 4 0.4 4 0 4M618.7 568.6l-4.4-1.3 -4.2-1.7 -4.2-1.9 -4.6-0.8 -4.4-1.3M618.7 568.6l0.1 4.1 0.6 4.1 -0.2 4.1M619.2 580.9l-4.8 1.9 -4.1 3.1 -4.4 2.4M594.3 566.4l1.2 4 0.8 4.1 1.7 3.7 1.3 4 1.7 3.7M580.2 588.4l0.5-4.1 -0.3-4.1 -0.1-4 0.3-4.1M619.2 580.9l5 3 5 3M625.1 609.9l-5-1.6 -4.8-1.9 -4.9-2M621.2 638.1l-5.1 1.2 -4.8 2M590 629.9l3.6 1.8 3.3 2.4 3.5 2 3.5 1.9 3.8 1.5 3.6 1.8M590 629.9l-2.6-4.9 -1.8-5.4M585.6 619.6l0.8-0.9 0.5-1.1M590 629.9l-2.8 3.3 -3.3 3 -2.4 3.6 -3.1 3 -1.7 4.1 -2 3.9M611.3 641.3l-1.2 3.8 -0.6 4 -1.8 3.7 -2.3 3.5 -0.9 3.9 -0.1 4.1M574.7 650.8l2.2 3.4 2.3 3.4 1.5 3.8 2 3.5 0.9 4.1M583.6 669l4.2-0.9 4.1-1.1 4.2-0.8 4.1-1 4.2-0.9M634.4 681.4l-4 1.2 -4 0.3 -4-1 -4-0.3M618.4 681.6l-3.1-3.2 -2.5-3.7 -3.2-3.1 -2.6-3.7 -2.6-3.6M709.1 712.9l-2.2 3.8 -2.3 3.7 -2.2 3.7 -1.8 3.9 -3 3.2 -1.5 4.1 -0.8 4.5 -1.8 3.9M670.5 705.1l-0.4 4.6 -0.4 4.6 -0.1 4.7 -0.2 4.6 -0.3 4.7M693.5 743.7l-3-3 -4-1.3 -3.4-2.3 -3.5-2.2 -3.1-2.8 -3.6-2.1 -3.8-1.7M645.1 699l-2.4 3.4 -2.7 3.3 -2.4 3.4 -2.3 3.4 -1.8 3.9 -2.7 3.2 -2.1 3.6M628.7 723.2l1 3.1 0.9 3M630.6 729.3l4 1.5 2.8 3.1 3.8 1.6 3.7 1.9 3.1 2.7 3.2 2.5M669.1 728.3l-3.7 2.7 -3.7 2.7 -3.8 2.7 -3.2 3.3 -3.5 2.9M668.9 790.1l-0.2-4.4 -0.5-4.4 -0.6-4.4 -0.2-4.4 -0.1-4.4M668.9 790.1l5.1 1.2 4.8 2.1 4.7 2M667.3 768.1l3.2-2.7 3.9-1.8 3.4-2.3 2.5-3.8 3.6-2.1 3.8-1.9 4.3-1 3.5-2.3M720.6 767.9l-3.5-2.7 -3.3-2.9 -3.6-2.4 -3.7-2.5 -3.3-2.9 -3.9-2 -3.8-2.3M668.4 790.4l0.4 0.2 0.1-0.5M629.8 786.9l-1.9-4.6 -1-4.8 -1.4-4.8M652.1 754l2.6 3.2 2.9 3 2.6 3.3 3.9 1.9 3.2 2.7M694.1 816.4l-2.2-4.1 -1.9-4.4 -1.9-4.3 -2.9-3.7 -1.7-4.5M670.1 834.9l-3.4-3.3 -3.3-3.5 -2.8-3.8 -3.3-3.5 -3.4-3.3M693.5 743.7l0.9 3.3 1.1 3.2M651.2 742.6l0.2 5.7 0.7 5.7M674.4 232.8l-1.6 4.3 -2.2 4.1 -2.3 4 -2.4 3.9M681.7 263.4l-3.8-1.9 -4.1-1M673.8 260.5l-2.8-3.7 -2.4-3.9 -2.7-3.8M667.1 229.5l-5.6 1.8 -5.5 2M654.5 248.3l5.7 0 5.7 0.8M654.5 248.3l-0.2-1 -0.9-0.3M653.4 247l0.3-4.7 0.8-4.6 1.5-4.4M702.3 125.1l-3.7-1.8 -3.9-1.2 -2.8-3.1 -3.5-2.1 -2.9-2.9 -3.6-1.8M681.5 140.5l-2.8-0.7 -2.8-0.9M675.9 138.9l1-4.4 0.7-4.5 1.1-4.5 1.5-4.3 0-4.7 1.7-4.3M687.5 97.3l-2.9 2.8 -3.2 2.5 -2.1 3.6M681.9 112.2l-1.1-3.1 -1.5-2.9M659.5 82.2l-0.8 2.5 -1.3 2.3M657.4 87l3.4 2.8 3.6 2.6 2.5 3.6 3.2 3 3.2 3 2.3 3.9M679.3 106.2l-1.9 0.1 -1.8-0.4M657.4 87l-0.6-0.1 -0.3 0.4M662.9 113.4l3.8-3.2 4.4-2.2 4.5-2.1M662.9 113.4l-4.4-0.8 -4.5-0.7 -4.1-2 -4.1-2M645.8 107.9l1.7-4.4 2.2-4.1 2.3-3.9 2.5-4 2-4.2M656.5 87.3l-4.8-0.6 -4.6-1.3 -4.9 0.1 -4.7-1.3M276.7 89.2l3.3 3.4 3 3.7M283 96.3l4-1.4 4.2-0.7 4-1.4 4.3 0 4.2-0.8 4.1-0.8M334.4 89.3l-3 2.7 -2.1 3.3M329.3 95.3l-4.8 1 -4.8 1 -4.9 0.2M307.8 91.2l3.8 2.9 3.2 3.4M238 96.7l-4.1 1.1 -4 0.1 -4-1 -3.9-1 -4-0.4 -4-0.4M238 96.7l3.1 4.6 4.5 3.3M246.8 112.2l-2.2 4.2 -2.2 4.3 -3 3.7 -3.5 3.3M246.8 112.2l0.2-3.9 -1.4-3.7M235.9 127.7l-4.6-0.2 -4.5-0.3 -4.5-0.1 -4.5-1 -4.4-1.3M214 95.1l-1.9 4.4 -3.5 3.6 -1.8 4.4 -1.2 4.8M205.6 112.3l2.6 4.2 1.9 4.6 3.3 3.7M211.6 90.5l1.7 2 0.7 2.6M276.7 89.2l-3.9 1.9 -3.9 1.9 -3.7 2.3 -3.4 3 -3.9 1.9 -4.4 0.9 -3.9 1.8 -4 1.7M190.2 82.1l-3.8 1.5 -3.7 1.6 -3.3 2.4 -3.1 2.5 -3.2 2.5 -3.1 2.5M185.9 116.4l-4.4-1.9 -4.1-2.7M185.9 116.4l3.9-0.9 3.9-1.1 4.1-0.2 4-0.5 3.8-1.4M41.1 113.5l0-0.7 0.5 0.5M41.6 113.3l1.5-4.2 1.3-4.3 0.2-4.6 1-4.3 1.1-4.4 1.4-4.2M49.8 86l-1.2 0.2 -0.5 1.1M57.7 323l-0.7-4.2 -0.2-4.2 -0.8-4.2 0.4-4.3 -0.2-4.2 0.2-4.3M57.7 323l-4.2 2 -4.2 1.8 -4.3 1.4 -4 2.6 -4.8 0.2M56.4 297.6l-3.7 2 -4.1 0.9 -4.1 0.9 -3.8 1.5 -3.7 1.9 -3.9 1.3 -3.7 1.8 -4 1.2 -3.6 2 -3.6 2.1M36.2 331l-2.8-3.2 -2.7-3.3 -3.7-2.2 -2.8-3.1 -2.7-3.4 -3.3-2.6M35.8 351.5l-0.2-4.1 0.1-4.1 0.3-4.1 0.2-4.1 0-4.1M70.7 351.7l-1.2-4.8 -0.8-4.8 1-4.9 -0.2-4.9M69.5 332.3l-3.7-3.4 -4.2-2.8 -3.9-3.1M40.4 278.3l2.5 3.4 3.7 2.2 3.1 2.8 1.5 4.1 2.7 3.2 2.8 3M56.7 297l-0.4 0.2 0.1 0.4M26.8 258.7l3.2-3.3 3-3.5 2.8-3.6 2.8-3.7 2.9-3.6 3.5-3.1M32.4 224.1l3.3 3.3 2.9 3.7 3 3.6 3.4 3.2M40.4 278.3l0.7-2.2 -0.6-2.2M40.5 273.9l-3.1-2.7 -2.9-2.9 -3-2.8 -2.3-3.6 -2.4-3.2M40.7 200.3l-1.6 3.9 -2.2 3.7 -1 4.1 -0.9 4.1 -1.7 3.9 -0.9 4.1M40.5 273.9l3.4-2.6 3.1-3 3.4-2.6 3.2-2.9 3.5-2.5M50.1 239l0.8 4.5 0.5 4.6 1.2 4.3 2.5 3.9 2 4M50.1 239l-2.6-0.3 -2.5-0.8M124.5 88.9l-4.5-0.7 -4.4 0.7 -4.4 0.8 -4.5-0.1 -4.5 0.3M102.2 89.9l-1-4.2 -2.6-3.7 -1-4.2 -1-4.2 -1.9-3.9 -1.3-4.1 -1.6-4 -1.1-4.2 -1.8-3.9M137.2 103l-3.4-3.4 -3-3.6 -3-3.7 -3.3-3.4M67.7 87.8l-4.5-0.1 -4.5-0.6 -4.4-1.4 -4.5 0.3M67.7 87.8l1.6-3.8 1.8-3.6 2-3.5 2-3.5 1.8-3.7 2.1-3.4 2.8-3 2.3-3.3 2.2-3.4 2.6-3.1M185.9 116.4l0.1 4.4 -0.2 4.4 0.2 4.3 0.3 4.4 0.3 4.4 -1.3 4.3 -0.2 4.4M209.2 141.3l1-4.1 2.2-3.9 -0.3-4.5 1.3-4M209.2 141.3l-4 1.4 -3.5 2.6 -4 1.2 -4 1.2 -4.3 0.6M189.4 148.3l-2.2-0.2 -2.1-1.1M159.1 126.6l-0.8 4.9 -0.5 4.9 1.4 4.8M159.2 141.2l4.9 0.4 4.5 1.5 4.3 2.2 4.5 1.7 4.5 1.2M185.1 147l-1.8 0 -1.4 1.2M33.1 176.4l2.6-3.1 1.5-3.9 3.2-2.8 2.3-3.3 2.4-3.3M45.1 160l-1.7-4.5 -2.1-4.4M41.3 151.1l-4.9-2.3 -4.6-2.5 -4.5-3M40.7 200.3l0.3-1 1-0.1M42 199.2l-1.1-3.9 -1.6-3.8 -0.9-4 -1.8-3.7 -2.9-3.2 -0.6-4.2M41.1 113.5l-1.6 3.8 -2 3.6 -2 3.6 -1.8 3.7 -1.7 3.7 -1.1 4 -1.7 3.8 -1.9 3.6M441.4 77.2l-4.6 2.3 -4.5 2.5 -3.8 3.7M397.8 72.7l3.7 2.7 4 2.4 3.2 3.4 3.3 3.2 3.7 2.8M428.5 85.7l-4.3 0.4 -4.2 0.6 -4.3 0.5M397.8 72.7l-3.1 3.1 -2.2 3.9 -3.3 3 -2.2 3.9M387 86.6l-4-1 -4 0.3 -4.1-0.4 -4 0.1 -4 0.4 -4 0.3 -3.9 1.8M334.4 89.3l4.7-0.1 4.8-0.4 4.7 0.7 4.7 0.1 4.7-0.2M359 88.1l-0.4 0.7 -0.6 0.6M662.3 217.3l-3.4-0.8 -3.4-1.2M656 233.3l-3.5-2.2 -3.4-2.2 -3.2-2.5M655.5 215.3l-3.9 3.1 -3.1 3.8 -2.6 4.2M634.2 245.9l2-0.2 1.4-1.4M634.2 245.9l-3.4-2.5 -3.1-2.9 -3.1-2.8 -3.2-2.6M624.2 223.8l4.2-1.3 4.4-0.3 4.2-0.8M637 221.4l3.1 3.4 4.2 1.8M637.6 244.3l5.3 0.6 5.3 0.7 5.2 1.4M644.3 226.6l0.8 0 0.8-0.2M686.9 185.4l-4.8-0.2 -4.6 1.6 -4.5 1.5 -4.7 0.9M674.5 206.2l-2-3.9 -2-4 -2.7-3.5M668.3 189.2l-0.5 2.8 0 2.8M655.5 215.3l-2.5-5.3 -2.4-5.4M667.8 194.8l-4.5 2.1 -4.8 1.7 -3.8 3.2 -4.1 2.8M640 206.5l-1.1 4.9 -0.3 5.1 -1.6 4.9M640 206.5l3.1-2.4 4-0.6M647.1 203.5l1.9 0 1.6 1.1M506.6 219.2l-1.6-4.3 -2.7-3.8 -2.3-4M506.6 219.2l4.7 0.4 4.4-1.3M515.7 218.3l1.7-4.4 0.7-4.7 1.5-4.5M519.6 204.7l-1.5-1 -1.5-1M516.6 202.7l-5.2 0.6 -5.3-0.6 -5.1 1.6M500 207.1l-0.6-1.8 1.6-1M515.7 218.3l2.8 3.2 2.9 3M519.6 204.7l4.3-0.9 4.3 0.3M521.4 224.5l5.8-0.6 5.6-1.9M532.8 222l1-4 2.4-3.4M536.2 214.6l-2.4-3.7 -2.5-3.6 -3.1-3.2M133.8 894.3l4.7-0.5 4.3-1.8 4.4-1.6M147.4 855l1.3 1.5 2 0.2M381.8 378.4l-0.3 2.2 -1.2 1.9M344.1 376.2l3.7 2.9 2.4 3.7 1.6 4.3 2 3.9 2.7 3.6M380.3 382.5l-3.9 2 -4.4 1.4 -3.9 2.1 -4 1.8 -3.6 3 -4 1.8M480.3 471.6l2.9-3 2.9-3.1 1.5-4 2.8-3.1M480.3 471.6l-2.7-1.2 -2.9-0.2M490.4 458.4l-2.8-4.3 -2.7-4.3 -2.5-4.3M474.7 470.2l-2-3.9 -2.5-3.6 -1.9-4 -1.9-4M482.4 445.5l-3.9 2.6 -3.9 2.5 -4.2 1.9 -4 2.2M384.4 521.4l1.3-5.2 2.5-4.7 1.1-5.2M384.4 521.4l0.2 2.6 1.7 2.1M408.4 502.3l-5.8-0.9 -5.8-0.7M408.4 502.3l3.8 3 2.6 4 2.8 3.9M417.6 513.2l-0.1 5.1 0.6 5 1 5M389.3 506.3l4.3-2.1 3.2-3.5M366.4 551.4l-3.8-2.4 -3.2-3.3 -3.5-2.9 -3.5-2.9 -4.3-1.9M356.4 523.1l4-0.4 4 0.4 4.1 0.5 4-0.6 3.9-0.9 4-1.1 4 0.4M356.4 523.1l-3.2 3.6 -3.8 3.2 -2.1 4.6M347.3 534.5l0.1 1.8 0.7 1.7M414.2 539.5l-0.6-0.7 0.3-0.8M585.4 521.3l-3.3 0.9 -3.3 0.9M597.4 549.5l-1 0.6 -0.1 1.1M571.3 547.2l-0.8-2.6 -1.1-2.4M578.8 523.1l-1.7 3.9 -2 3.8 -1.8 3.8 -2.4 3.5 -1.5 4.1M478.1 576.8l1-4.3 1.8-4.1 2.2-3.9M483.1 564.5l2.9-0.5 2.9-1M500.5 589.1l1.7-4.4 2.6-4 1.3-4.6 3.2-3.7M509.3 572.4l-4.1-1.8 -4.4-1.3 -3.9-2.4 -4-2.1 -4-1.8M127.7 377.6l-1.9 3.8 -1.1 4 -1.1 4.1M157.6 403.2l-0.6-4.5 -1.1-4.5 0.9-4.6 0.1-4.5 -0.2-4.5 0.7-4.6M148.4 365.4l2.4 4.1 2.9 3.7 3.7 2.8M187.4 387.8l-2-4.2 -1.7-4.2 -2.6-3.8M478.6 397.6l-2-3.6 -1.1-4.1 -2.6-3.3 -2.7-3.2M478.6 397.6l2.7 0.9 2.8 1M470.2 383.4l1.8-3.9 1.8-3.9 2.3-3.6M490.6 393l-0.4-4.6 -0.2-4.7 -1-4.5 -1.1-4.5 -1.4-4.4M476.1 372l5.1-1.2 5.3-0.5M476.1 372l-4.1-2.2 -3.8-2.9 -3.7-2.9 -3.4-3.2M486.6 353.8l-2.1-2.7 -2.7-2.2M486.6 353.8l0.2 5.1 0.1 5.2 0.6 5.2M481.8 348.9l-4.4 1.9 -4.4 1.5 -4.2 2.2 -3.8 3.1 -4.9 0.4M487.5 369.3l-1 0 0 1M461.1 360.8l0.1-1.7 -1.1-1.1M470.2 383.4l-4.3 1.2 -4.3 0.8 -4.4-1.1 -4.4 0M461.1 360.8l-0.5 4.2 -1.2 4 -1.3 4 -2 3.7 -1.9 3.7 -1.4 3.9M351.5 254.6l0.8 4.7 -0.4 4.8 0.2 4.8 0.6 4.8M351.5 254.6l4.3-1.7 4.3-1.2 4.6 0.5M364.7 252.2l1.9 4.9 2.7 4.5M352.7 273.7l4.4 0.9 4.5 0.4M361.6 275l3.3-4.1 1.7-4.9 2.7-4.4M520.5 608.7l2.7-4.3 1.3-4.8 1.8-4.6 1.3-4.9M512.3 571.3l4.9 1.4 4.7 1.6M521.9 574.3l0.8 4.2 0.3 4.3 1 4.2 3.6 3.1M519 764.6l2.1-4.1 2.7-3.8 2.2-4.1 1.2-4.5 1.5-4.3M528.7 743.8l-1.1-5.8 -2.5-5.3M525.1 732.7l-3.7-1.8 -3.2-2.8 -3.3-2.7 -4.1-1.2 -3.6-2.1 -3.3-2.5M503.9 719.6l-4.2 1.8 -3.5 2.5 -3.9 2.2 -2.1 4.1 -3.4 2.6 -3 3.1 -2.3 3.9M481.5 739.8l0.9 4.5 1.4 4.4 1.5 4.4 1 4.5M515.8 688l3.5 2.3 4 1.3 4 1.4 3 3 3.8 1.6 2.9 3.2 3.6 2.1 3.5 2.2 3.3 2.4M501.7 702.6l0.1 4.3 1.1 4.2 0.7 4.2 0.3 4.3M547.4 707.5l-2.2 3.6 -3.4 2.6 -1.8 4.1 -3.4 2.6 -2.3 3.6 -3.6 2.4 -2.5 3.4 -3.1 2.9M458.2 726.7l0.9 1.7 0.8 1.6M459.9 730l4.2 2.2 4.7 1.1 4.3 2 4.1 2.5 4.3 2M444.3 756l0.9-4.5 2.3-3.7 2.4-3.6 3.1-3.2 2.6-3.4 2.3-3.7 2-3.9M444.3 756l2.5 3.2 3.9 1.8 3 2.6 3.7 2 3.2 2.3 1.3 4.6 2.7 2.9 2.1 3.6 4 1.6M470.7 780.6l2.1-4.2 2.2-4.1 2.9-3.6 2.4-4 3-3.5 3-3.6M567.9 592l-2.9-3.2 -3.7-2.2M561.3 586.6l-5.7 0.9 -5.7 0.6M549.9 588.1l-0.1 4.5 -0.9 4.5 -0.6 4.5 -0.3 4.6 0.1 4.5 0.1 4.6M568.1 615.8l-4.5 1.7 -4.7 0.9 -4.6 1.1M554.3 619.5l-3-2.2 -3.1-2M585.6 619.6l-4.4-0.8 -4.3-1.2 -4.6-0.2 -4.2-1.6M568 568.4l-2.4 4.3 -0.4 5 -2.9 4.1 -1 4.8M547.6 586.3l-4 1 -3.8 1.6 -4.2-0.1 -3.8 1.4 -4.2-0.1M550.5 648l4.2-0.9 3.9 1.4 4 1.3 4.1-0.3 3.9 1.1 4.1 0.2M550.5 648l-0.1-4.1 0.3-4.1 0.6-4.1 1.5-4 -0.1-4.1 1.2-4 0.4-4.1M621.6 543.2l0.4 4.1 0.4 4.1 1.4 3.9 -0.3 4.2 1.4 3.9M625 541.2l4.3 1.6 4.1 2 4.8 0.2 4.3 1.6 3.9 2.5M624.9 563.4l4.8 0.3 4.7 0.3 4.5 2.4 4.8 0.3M643.7 566.7l0.7-4.4 1.6-4.3 -0.4-4.5 0.8-4.4M610.7 542l5.4 1.1 5.5 0.1M632.5 522.1l-3 3.3 -1.2 3.9 -1.2 4 -0.6 4.1 -1.5 3.8M618.7 568.6l3.1-2.5 3.1-2.7M653.9 542.8l-3.5 3.4 -4 2.9M646.5 571.7l-1.8-2.3 -1-2.7M41.5 476.6l2.4 3.8 0.8 4.6 2.6 3.7 2.5 3.8M81.9 469l-0.7 5.2 -1.9 4.9 -2.1 4.8M77.2 483.9l-3.8 1.4 -4 1 -4.2 0.3 -3.9 1.4 -3.6 2.3 -4.1 0.5 -3.8 1.7M97 503l-4.5-0.2 -4.4-0.8 -4.4-1.2M77.2 483.9l0.9 4.5 2.2 4 0.9 4.5 2.5 3.9M17.5 514.7l4.1-2 4.4-0.7 4.3-1.4 4.1-1.6 4.2-1.7 4.4-0.8 4.3-1M49.8 492.5l-0.2 4.5 -0.5 4.4 -1.8 4.1M80.8 527.5l-1-4.1 -1.3-4.1 -1.6-3.9 -1-4.1M80.8 527.5l-3.6 2.8 -2.8 3.5 -3.1 3.2 -2.4 3.9 -3.1 3.3M65.8 544.2l-3.4-3 -3.7-2.6 -3.6-2.7M55.1 535.9l-0.2-4.1 -0.5-4.2 -0.3-4.1 -0.5-4.2 -1.1-4.1 0.5-4.2M75.9 511.3l-4.6 0.1 -4.6 0.5 -4.5 0.4 -4.6-1.7 -4.6 0.4M96 529.8l-5.2 0 -5-1.2 -5-1.1M66.7 547.9l0.1-2 -1-1.7M36.2 539.3l4.6-1.2 4.8-0.7 4.7-1 4.8-0.5M97 382.2l0.8-4.9 -0.1-5.1 1.1-4.8M74.6 354.4l4 0.8 4-0.6M98.8 367.4l-3.5-2.2 -3.5-2.3 -3.2-2.6 -3.2-2.6 -2.8-3.1M127.7 377.6l-2.5-3.4 -3.1-2.9 -3.4-2.7 -2.8-3.1 -2.9-3.1M98.8 367.4l4.7-1.8 5.1-0.8 4.4-2.4M132.9 635.4l-0.6-5.2 -1.9-4.8M130.4 625.4l-3.4-3.3 -3.9-2.5 -4.5-1.4 -4.4-1.6 -3.8-2.6M96.5 633.1l2.9-3.6 3.2-3.5 1.7-4.5 2.5-3.8 3.1-3.6M96.5 633.1l1.4 4.5 1 4.7 2 4.3M109.9 614.1l0.4 0.6 0.1-0.7M100.9 646.6l3.4 0.7 3.1 1.5M119.7 674.2l-0.6-4.2 -1.8-3.6 -1.8-3.6 -2.3-3.4 -2.5-3.2 -1.6-3.7 -1.7-3.7M136.4 638.2l-2.2-0.8 -1.3-2M91.8 602.7l3.6 2.4 3.7 2.1 4.1 1.4 3.2 2.9 3.5 2.6M78.8 626.1l4.8 1 3.9 2.8 4.7 1 4.3 2.2M89.1 655.7l4-2.9 3.5-3.6 4.3-2.6M120.4 592.4l-2.6-3.9 -2.3-4M230.8 734.3l1.6 4.1 2.1 4 2.6 3.7 0.9 4.4 1.4 4.3 1.8 4 2 4M230.8 734.3l3.2-2.7 2.6-3.4 3.5-2.3 2.8-3.2 4-1.7M246.9 721l4.4 0.9 4 2.1 4.2 1.4 4.5 0.8 3.9 2.3M246.5 761.9l-1.9-0.6 -1.4 1.5M246.5 761.9l2.6-3.2 2.5-3.3 3.4-2.6 1.8-3.7 2.4-3.3 2.3-3.4 2.2-3.5 2.1-3.5 2.4-3.3M267.9 728.5l0.2 1.8 0.1 1.8M210.7 730.8l4 1 4 0.7 4 0.9 3.9 1.5 4.2-0.6M240.1 765.8l1.3-1.7 1.8-1.3M240.5 706.1l1.5 3.8 1.1 3.9 1.8 3.6 2 3.6M274.4 720.7l-3.1 4 -3.4 3.8M272.9 773.1l-3.9-1.3 -3.9-1.3 -4.1-0.8 -3.7-1.6 -3.4-2.7 -3.8-1.5 -3.6-2M172.5 590.8l1.9 5 -0.2 5.2 -0.5 5.3M172.5 590.8l-3.7-1.8 -3.7-1.9 -3.6-2.1 -3.6-2 -3.7-1.8 -3.5-2.1M163.3 613.1l-4.3-0.1 -4.1-0.9 -4-1.2 -4-1.2 -3.8-2.1M150.2 579.2l0.2-0.2 0.3 0.1M150.2 579.2l-2.6 4.1 -2.4 4.2 -3.2 3.7 -2.6 4.2M139.4 595.4l0.8 4.2 0.8 4.2 2.1 3.8M189.3 614l-4.1-1.5 -3.7-2.4 -3.6-2.6 -4.2-1.2M189.5 574.6l-3.5 3.1 -3.6 3 -3.4 3.3 -3.4 3.2 -3.1 3.6M166.8 555.8l-2.1 3.5 -2.1 3.5 -1.8 3.7 -2.4 3.2 -3.6 2.4 -2.4 3.3 -1.7 3.7M160.8 633.7l1.8-4 -0.5-4.2 1-4.1 0.5-4.1 -0.3-4.2M130.4 625.4l3-3.3 2.2-3.7 2.5-3.7 2.8-3.3 2.2-3.8M127.3 558.7l3.9 2.3 3.4 2.7 2.2 4.1 3.2 3 3.1 3.2 3.5 2.6 3.6 2.6M120.4 592.4l5-0.5 4.7 0.8 4.7 0.7 4.6 2M259.8 550.8l-4.2-0.1 -4.3-0.2 -4.3 0.3 -4.1 1 -4.3 0 -4.1 1.5M259.8 550.8l2.5 4.3 2.7 4.3 2.4 4.3M267.4 563.7l-2.4 3.4 -3 2.8 -2.6 3.1 -3.3 2.6 -2.6 3.2 -3.4 2.4M250.1 581.2l-3.5-2.3 -3.3-2.5 -3.7-1.7 -3.7-2 -3.4-2.3 -3.5-2.2M234.5 553.3l-2.5 3.3 -3 2.9 -2.3 3.6M226.7 563.1l1.5 2.4 0.8 2.7M264.8 528.9l-1.4 4.3 -1.1 4.4 -1.1 4.3 -0.4 4.5 -1 4.4M232.3 525.6l0.5 4.6 -0.2 4.7 0.1 4.6 -0.1 4.6 -0.1 4.7 2 4.5M268.6 564l-0.7 0.1 -0.5-0.4M268.6 564l4.2-1.7 3.9-2.1 3.8-2.6 3.8-2.6 4.6-0.6 4.4-1.2M252.5 602.2l-0.1-0.5 0.5 0.1M217.1 601.2l1.7-4 2.1-3.9 1.7-4.1 1.5-4.1 1.2-4.3 1-4.3 1.6-4.1 1.1-4.2M252.9 601.8l-1.3-4 -1.8-4 1.2-4.3 -0.3-4.2 -0.6-4.1M209.1 559.3l4.5 0.5 4.5 0.7 4.3 1.2 4.3 1.4M325.8 525.8l4.3 1.8 4.1 2 4.4 1.6 4.2 2 4.5 1.3M348.1 538l-2.1 3.5 -1.2 4.2 -2.1 3.6 -2.1 3.6 -2.4 3.5 -2.2 3.5 -2 3.7M312.9 548.1l2.8 3.6 2.5 3.8 3.7 2.8 2.7 3.7 3.1 3.3M334 563.6l-3 1.4 -3.3 0.3M366 568.8l-4.7 1.6 -4.6 1.8 -4.2 2.6M334 563.6l3.4 2.6 4.2 1.5 3.5 2.6 3.8 2 3.6 2.5M470.3 966.5l-3-4.3 -3.3-4 -2.6-4.5M470.3 966.5l4.3-1.8 4.3 1.3 4.4 0.9 4.3-0.1 4.3 0.2 4.3-0.3 4.3-0.9 4.3-0.6M461.4 953.7l3.8-2.3 3.6-2.7 3.7-2.4 2.6-3.7 3.7-2.5 1.9-4.4 3.1-3.1 3.3-2.9M504.8 965.2l-2-3.7 -0.6-4.1 -2-3.8 -1-4 -1-4 -1.3-3.9 -1-4.1 -0.8-4.1M495.1 933.5l-4.2-1.4 -3.8-2.4M455.1 951.9l3.1 1 3.2 0.8M466.4 998.6l1-4 0.4-4 0.4-4 0.7-4 0.5-4 -0.2-4.1 1.3-3.9 -0.2-4.1M510.7 969.6l-2.8-2.5 -3.1-1.9M479.7 910.8l1.8 3.7 0.4 4.2 1.9 3.6 1.5 3.7 1.8 3.7M479.7 910.8l-2.7-3.3 -3.9-1.6 -3.8-1.8M469.3 904.1l-3.6 1.2 -3.7 1.3M515.7 970.1l2.1-3.5 2.4-3.3 2.2-3.4 2.1-3.5 3-2.9 1.6-3.8 2-3.6 3.4-2.6M534.5 943.5l-3-3.6 -3.3-3.4 -2.9-3.7 -2.4-4.1 -3-3.6M519.9 925.1l-4 1.6 -4 1.9 -4.4 0.7 -4.5 0.3 -3.9 2.1 -4 1.8M479.7 910.8l4-1.5 3.8-2 3.9-1.6 3.8-2 3.8-2 3.8-1.9 3.9-1.7 3.9-1.7 3.4-2.8M524.4 905.9l-2.8-2.9 -1.6-3.9 -3.5-2.3 -2.5-3.2M647.5 925.9l-2.1-4.1 -2.1-4.2 -2.5-4 -3.9-3.2 -1.7-4.4 -0.6-4.9M647.5 925.9l4.5 0.8 4.6 0.7 4.6-0.1 4.6-0.3 4.6 0.9M634.6 901.1l4.1-0.7 4.2-0.2 3.8-1.3 4.1-0.4 3.4-2.8 3.9-1.3 3.6-2.2 3.8-1.6 4.2-0.1M670.4 927.9l1.1-4 0.5-4 0.2-4.2 1.8-3.8 0.5-4.1 0.4-4.1 1.3-3.9M676.2 899.8l-3.1-4.8 -3.4-4.5M630.9 946.3l2.4-3.6 2.1-4 3.4-2.9 3-3.2 3.2-3.1 2.5-3.6M617.1 948.7l-0.9-1.1 -0.6-1.3M625.2 896.7l-3.2 3.6 -3.7 3.2 -2.9 3.9M625.2 896.7l4.3 3 5.1 1.4M677.9 938.2l-2.2-3.7 -1.9-3.9 -3.4-2.7M698 900.8l-4.4-0.3 -4.3-0.4 -4.4-0.8 -4.3 0.2 -4.4 0.3M670.3 878.9l-0.5 5.8 -0.1 5.8M670.3 878.9l2.9-4 4.4-2.2 3.3-3.5 3.6-3.2 3.9-2.9M580.5 921.8l0.9 3.8 1.3 3.6M580.5 921.8l-3.9-1.4 -3.9-0.6 -4.1-0.3 -3.9-0.4 -4.1 0.2 -4-0.3M582.7 929.2l-2.1 4.1 -1.3 4.5 -2.9 3.8 -1.1 4.6 -2.8 3.8M556.6 919l-1.5 4.3 -2.4 3.7 -2.8 3.6 -1.5 4.3 -1.8 4.1 -2.2 3.9M572.5 950l-5.3 0.6 -5.3 0 -5 2.1M556.9 952.7l-4.4-3 -4.5-2.8 -3.6-4M615.6 946.3l-3.9-1.4 -3.4-2.6 -3.8-1.6 -3.4-2.2 -4.3-0.8 -3.7-1.7 -3.5-2.2 -3.9-1.6 -3-3M586.1 911.6l4.1-1.1 4.2-0.5 4.2-0.8 4.2 0.1 4.3-0.3 4.1-0.8 4.2-0.8M586.1 911.6l-2.7 5.2 -2.9 5M590 969.1l-2.1-4 -2.2-3.8 -3.3-2.8 -2.5-3.6 -3.8-2.4 -3.6-2.5M534.5 943.5l5 0 4.9-0.6M524.4 905.9l4.4-1.3 4.6 0.3 4.5-0.9 4.5 0.1 4.5 0M546.9 904.1l2.9 3.4 2.7 3.6 1.7 4.1 2.4 3.8M553.4 980.6l-0.5-4.1 1.1-3.9 0.5-4 0.2-4 0.7-4 0.2-4 1.3-3.9M625.2 896.7l-1.2-4.9 -1.5-4.8 -1.2-4.8M621.3 882.2l3.7-2.1 2.3-3.8 3.4-2.4 3.4-2.5 2.7-3.3 3.7-2.1 3.3-2.5 3.4-2.4M669.9 837.9l-3.1 2.7 -2.5 3.4 -3.6 2 -3 2.8 -3.3 2.3 -3.5 2.1 -3.6 2M639.7 820.1l-2.4 3.7 -2.9 3.4 -2 3.9 -2.5 3.7M629.9 834.8l2.5 3.8 3.5 2.8 3.2 3.2 2.4 3.8 2.9 3.4 2.9 3.4M603.9 806.1l1.3 4.4 0.6 4.5 1.1 4.5 0.6 4.5 1.5 4.4 0.2 4.6 0.3 4.6M546.9 904.1l2.2-4.4 2.9-4 1.9-4.6 2.9-4M586.1 911.6l-1.3-4.2 -1.1-4.2 -1.6-4.1 -1.1-4.3M514 893.6l-0.6-4.2 0.4-4.4 -0.5-4.3 -0.3-4.2M513 876.5l1.9-1.4 1.7-1.7M556.8 887.1l-1.2-5 -1.1-5 -0.8-5.1M625.5 772.7l-3.4-2.8 -3.5-2.7 -4.4-1.3 -3.5-2.6 -3.8-2.3M603.9 806.1l-4.4-1 -3.9-1.8 -3.5-2.8 -3.6-2.4M588.5 798.1l-0.4-4.2 1.3-3.8 0.4-4 1.4-3.8 -0.5-4.2 1.8-3.7 1.5-3.8M594 770.6l2.4-3.5 3.9-1.5 3.4-2.1 3.2-2.5M630.6 729.3l-2.9 3.1 -1.7 4 -3.7 2.5 -2.1 3.7 -2.8 3.1 -1.9 3.9 -3.4 2.6 -2.8 3.2 -2.4 3.4M606.9 758.8l0.1 1.1 -0.1 1.1M461.3 849.3l-0.3-0.1 0.1 0.3M461.3 849.3l4.2-0.2 3.9 1.1 3.7 2.3 4.2-0.5 4.2-0.3 4 1.1 3.9 1M461.1 849.5l-1.8 4.1 -1.5 4.1 -1.2 4.2 -1.3 4.2M455.3 866.1l1.6 4.1 3.2 2.7 2.5 3.3 2.2 3.6 2.6 3.2 3.3 2.7M470.7 885.7l4-2 3.8-2 3.9-2.1 3.7-2.2 3.5-2.7 3.2-3.1 3.8-2.1M496.6 869.5l-1.7-4 -0.9-4.3 -2.7-3.5 -1.9-3.9M471.7 817.5l3.9 1.2 3.3 2.4 2.8 3.2 3.8 1.5 3.6 1.8 3.7 1.6 2.9 2.9 4.1 0.9M471.7 817.5l-1.8 3.9 -0.1 4.3 -1.9 3.8 -1.1 4 -1.3 4 -1.8 3.8 -0.9 4.1 -1.5 3.9M499.8 833l-1.9 4.2 -2.2 4.1 -1.7 4.4 -2.4 4.1 -2.2 4M430.3 874.4l4.3-1 4-1.9 3.8-2.6 4.1-1.4 4.1-1.7 4.7 0.3M430.3 874.4l-2.1-3.6 -0.8-3.9 -0.4-4.1 -1.7-3.7 -0.4-4 -2.1-3.6 -1.5-3.7 0-4.2M421.3 843.6l2.9-3.7 2.9-3.7 2.3-4.2M429.4 832l3.7 1.6 3.7 1.6 4.1 0.8 3.3 2.5 4 1 3.3 2.3 3 2.9 3.7 1.6 2.9 3.2M469.3 904.1l0-4.6 0.4-4.6 0.3-4.7 0.7-4.5M427.2 879.2l1.2-2.7 1.9-2.1M513 876.5l-4.4-1.2 -4.1-1.7 -4.1-1.7 -3.8-2.4M340.6 870.1l2.5-3.2 1.7-3.7 2.2-3.4 2.9-2.8 2.8-2.9 1.8-3.7 3-2.7 4-1.9 1.8-3.7M366.4 892.9l1.1-4.1 1.4-4 1.9-3.8 2.5-3.5 2.3-3.5 2.3-3.6 2.6-3.4 1.8-3.8 1.8-3.8 1.5-4 0.3-4.5M363.3 842.1l3.7 1.6 3.7 1.7 3.6 2 4 0.8 3.5 2.2 4.1 0.5M421.3 843.6l-4.1 0.6 -4.1 0.8 -4 1.2 -4 1 -4.2 0.5 -4.2-0.4 -4.1 0.9 -4.1 0.6M408 879.7l-3.1-2.6 -1.6-3.9 -3-2.8 -1.9-3.5 -2.5-3.2 -2-3.6 -3.5-2.3 -2.3-3.4 -1.9-3.5M388.5 848.8l-0.7 1.5 -1.6 0.6M386.2 850.9l0 0.6 -0.3-0.6M333.6 794.3l-1.5 3.9 -2 3.6 -2.5 3.4 -0.7 4.3 -2.7 3.3 -3.5 2.8 -1 4.1 -2.2 3.6 -2 3.6 -1.8 3.7M313.7 830.6l1.2 1.8 0.8 2.1M315.7 834.5l4.2-0.2 4.2-0.7 4.3 0.8 4.2 0.2 4.2-0.3 4.2-0.6 4.1-1.8 4.2-0.4 4.3 1 4.2 0M357.8 832.5l0.5-4.3 -0.1-4.4 0-4.4 1.7-4.1 0.6-4.3 0.5-4.4M330.3 787.3l2.3 3.2 1 3.8M315.5 839.2l0.3-2.4 -0.1-2.3M363.3 842.1l-2.4-5 -3.1-4.6M656.5 438.3l-1-2 -2.1-0.4M652.2 422.6l-0.1 4.4 1.2 4.4 0.1 4.5M634.7 383.4l3.6 2.8 4.3 1.4 3.8 2.6 3.9 2.2 4.1 1.8M634.7 383.4l-4 2.7 -3.8 3.1 -3.7 3.2 -3.7 3.1M654.4 394.2l-3.4 3 -3.1 3.2 -3.8 2.6 -2.4 4 -3.7 2.6M638.7 414.6l-0.1-2.5 -0.6-2.5M654.5 248.3l-0.5 4.9 -1.3 4.9 -1.3 4.8M673.8 260.5l-4.1 2.1 -4.2 1.8 -4.4 1.5 -4.2 1.9M656.9 267.8l-2.7-2.5 -2.8-2.4M673.4 283.7l-3.9-1.3 -4.1-0.5 -4.2-0.3 -3.9-1.2M656.9 267.8l0.4 4.2 -0.7 4.2 0.7 4.2M634.2 245.9l-0.2 0.8 -0.2 0.7M656.1 297.1l-0.2-4.7 -1.3-4.6 -0.9-4.5M656.1 297.1l3.5 2.1 3.7 1.4 3.8 1.6 3.7 1.5M657.3 280.4l-1.7 1.6 -1.9 1.3M610.1 239.7l-0.8 4.9 -1.1 4.8 0.2 4.9M633.8 247.4l-3.4 3 -3.7 2.5 -4.1 2 -3.6 2.9M608.4 254.3l5.3 1.8 5.3 1.7M639 264.4l-0.4 1.4 -1.1 0.9M637.5 266.7l-4.8-0.7 -4.7 0.1 -4.7 0.3M619 257.8l2.6 4.1 1.7 4.5M695.1 344.9l-0.9 2.9 -0.8 3M698.3 362.5l-1.4-4 -1.5-4 -2-3.7M690.9 384.4l-1.7-2.6 -0.7-3.1M661.7 382.9l-2.1 5.1 -1.1 5.5M661.7 382.9l3.8-2.7 4.4-1.2 4.3-1.7 3.9-2.4M678.1 374.9l4.9 2.7 5.5 1.1M671 304.8l-2.1 3.8 -2.2 3.7 -2.2 3.7 -2 3.8M685.4 330.1l-4 1 -4.1-0.2 -4 0.5 -4.1-0.1M669.2 331.3l-3.1-3.4 -1.6-4.2 -2-3.9M564.7 689.1l5.1-2 5.1-1.7M564.7 689.1l-1.7 4.4 -2.3 4.2 -2 4.2 -2.5 4.1M556.2 706l1.9 3.6 1.9 3.7 1.7 3.8 3 3 2.2 3.5 3.2 2.8 1.8 3.7M586.8 729.7l-5 0.1 -4.9 0.1 -5 0.2M586.8 729.7l3.6-3.1 2.6-4.2 3.2-3.5 2.9-3.8 4-2.9M603.1 712.2l-0.7-5 -0.7-5M618.4 681.6l-2.6 3.6 -3 3.2 -2.8 3.4 -3.1 3.2 -2.1 4 -3.1 3.2M561 747.1l2.1-3.5 2.9-2.9 2-3.5 1.4-3.9 2.5-3.2M564.7 762.2l4.3 0.8 4.2 1.2 4.2 1.1 4.4 0.3 4.1 1.5 3.9 2.4 4.2 1.1M564.7 762.2l-1.5-5 -0.3-5.3 -1.9-4.8M606.9 758.8l-3.2-3.2 -2.2-3.8 -2.7-3.5 -2.6-3.6 -2.6-3.6 -1.2-4.5 -2.1-3.9 -3.5-3M628.7 723.2l-4-2.4 -4.3-1.8 -4.5-1.3 -3.7-3.1 -4.9-0.3 -4.2-2.1M615.7 92l-0.8 4.1 -0.8 4 -1 3.9 -1.7 3.8M634.4 103.3l-2.8-4.4 -1.7-5M634.4 103.3l-3.3 3.9 -3.6 3.5 -3.8 3.3M623.7 114l-4.4-1.5 -3.8-2.7 -4.1-2M637.5 84.2l-2.3 3.4 -3.1 2.8 -2.2 3.5M612.2 87.9l1.4 2.4 2.1 1.7M643.9 108.5l1.1 0.1 0.8-0.7M643.9 108.5l-4.5-2.9 -5-2.3M318.2 222.1l1.9 4.5 2.8 3.9M318.2 222.1l3.7-3.2 3-4.1 3.8-3.2 3.9-3.2M332.6 208.4l2.9-0.4 2.9 0.4M338.4 208.4l1.9 4.1 1.7 4.2 2 4.1M322.9 230.5l4.1 1.4 4.1 1.1M344 220.8l-2.9 3.4 -3.4 2.8 -2.9 3.4 -3.7 2.6M336 187.2l-4.3 0.4 -4.3-0.4 -4.3 0.5M336 187.2l2.9-3.3 1.8-4.1 3-3.3M321.1 185.2l1.1 1.2 0.9 1.3M321.1 185.2l1.1-4 0.5-4.2 2.3-3.6 1.5-3.8M326.5 169.6l2-0.8 1.8-1.2M330.3 167.6l4.2 0.6 4.3 0.3M343.7 176.5l-2.2-4.1 -2.7-3.9M332.6 208.4l-3.3-3.4 -3.2-3.6 -3.4-3.3M344 202.2l-2.9 3 -2.7 3.2M322.7 198.1l1-5.2 -0.6-5.2M309.8 163.8l4.1 1.7 4.4 0.9 4.3 1 3.9 2.2M309.8 163.8l2.4-3.7 1.9-4 2.2-3.9 2.8-3.5M319.1 148.7l3.4 0.6 3.3 1.1M325.8 150.4l1 4.3 1.7 4.2 0.4 4.5 1.4 4.2M181.9 148.2l-2.2 3.7 -1.6 3.9 -2.3 3.7 -1.4 4 -1.8 3.9 -1 4.2M175.1 178.4l4.4 0.2 4.4-0.7 4.4 0.1 4.4 0.6 4.4 0 4.4 0.3 4.4-0.2M205.9 178.7l0.7-0.2 0-0.7M314.8 97.5l-1.2 4.8 -1 4.8 -1.1 4.7M335.8 111.3l-4.4 2.1 -4.4 2.2 -4.1 2.9M311.5 111.8l4.2 1.6 3.3 3.1 3.9 2M333.2 132.1l3.4-3.3 3.1-3.7M333.2 132.1l-4-2 -4.5-0.3M339.7 125.1l-1.1-4.3 -0.7-4.3 -0.6-4.4M337.3 112.1l-0.9-0.1 -0.6-0.7M324.7 129.8l-0.6-5.7 -1.2-5.6M42 199.2l3.7 0 3.6-0.7M49.3 198.5l2.5-3.5 2.5-3.4 2.1-3.7 1.8-3.8 2.5-3.4 2.1-3.7 1.9-3.8M45.1 160l4.6 1.8 4.5 2.1 4.4 2.2 4.4 2.2M64.7 173.2l-1.1-2.3 -0.6-2.6M41.3 151.1l3.3-2.5 2.9-2.9 2.9-2.9 3.5-2.3 2.8-3.1 3.3-2.5M63 168.3l3-3.7 2.5-4.1 3.2-3.5 1.6-4.7 3.3-3.5M60 134.9l4.1 1.8 3.1 3.1 3.2 2.9 2.6 3.6 3.6 2.5M50.1 239l4.5-2.8 4.9-1.9 4.7-2.5M64.2 231.8l2.5-3.5 1.9-3.7 0.9-4.1 0.3-4.3 1.6-3.8M64.7 173.2l3.9 2.7 4.4 1.4 4.6 1 4 2.4 3.9 2.5 4.2 1.8M89.7 185l-1.2 4.6 -3.2 3.6 -2.5 4 -2.5 4 -1.4 4.5 -1.1 4.6M77.8 210.3l-3.3 0.7 -3.1 1.4M104.1 130.7l-4.8-1.2 -4.9-0.1 -4.9 0.4M114.3 120.6l-2.7-3.7 -2.3-4 -2.8-3.6 -2.3-4 -3.7-2.9 -3.1-3.3M89.5 129.8l-2.1-4.1 -3-3.4 -2.4-3.9 -2.8-3.5 -2.6-3.7M97.4 99.1l-3.5 2.3 -3.7 1.8 -4.1 0.8 -3.9 1.2 -3.8 1.5M78.4 106.7l-1.4 2 -0.4 2.5M135.2 111.6l-3.5 4 -3.8 3.8M127.9 119.4l-4.4 1.4 -4.6 0.3 -4.6-0.5M102.2 89.9l-2.6 4.5 -2.2 4.7M78.6 148.4l-0.8 1.1 -1.2-0.7M78.6 148.4l2.2-3.7 2.7-3.4 2.1-3.8 2.1-3.8 1.8-3.9M159.2 141.2l-4 3.8 -4.8 2.7M171.6 171.6l-4.3-0.1 -3.9-1.4 -4.2-0.7 -3.7-2.5 -4.3 0.1M150.4 147.7l-0.4 4.9 0.4 4.8 0.1 4.8 0.7 4.8M127.9 119.4l0.6 4.7 2.1 4.4 1.5 4.5 1.2 4.6 0.4 4.8M150.4 147.7l-4.3-1 -4-1.8 -4.5-0.5 -3.9-2M462 107l-0.5-4.8 -1.4-4.7 0.3-4.7 1.1-4.8M462 107l-5 1.4 -4.5 2.5 -4.9 1.6M451.4 85.6l-1.5 3.9 -1.1 4.1 -1.8 3.8 -2 3.7 -1.8 3.8 -1.2 4M451.4 85.6l4.9 2 5.2 0.4M447.6 112.5l-3.2-1.1 -2.4-2.5M358 89.4l0 4.6 0.6 4.5M353.9 108.5l1.8-5.2 2.9-4.8M354.1 198.9l1.8-3.2 0.1-3.6M354.1 198.9l-5.4 0.7 -4.7 2.6M343.7 176.5l2.4 0.8 2.4 0.8M348.5 178.1l2.7 4.5 1.6 5.2 3.2 4.3M497.4 195.6l1.5 4.5 2.1 4.2M514.9 188.4l-4.6-0.6 -4.6-0.4 -4.7 0M622.1 220.7l0.8-4.4 -0.4-4.5 -0.2-4.4 -0.3-4.4M640 206.5l-4.3-1.3 -4.3-1.5 -3.7-2.6M622 203l2.8-1.2 2.9-0.7M647.1 203.5l-1.5-4.5 -1.3-4.6 -0.3-4.8 -0.1-4.8M643.9 184.8l-3.9 1 -3.4 2.5 -4.1 0.4M627.7 201.1l3-3.5 0.9-4.4 0.9-4.5M506.6 219.2l-2.8 5.3 -2.9 5.2M521.4 224.5l-0.7 3.8 -2 3.4M500.9 229.7l2.6 2.9 3.5 1.8M518.7 231.7l-4 0.2 -3.9 1 -3.8 1.5M547.2 212.8l-0.4-4.1 0.2-4 0.8-4 0.8-3.9M528.2 204.1l3.5-3.6 1-5M548.6 196.8l0.1-0.2 -0.1 0.1M548.6 196.7l-5.3-0.3 -5.3-0.6 -5.3-0.3M590.4 93.3l1.6 3.5 0.1 3.8M590.4 93.3l-4.6-2.5 -3.9-3.5M592.1 100.6l-2.2 4.7 -2.4 4.6 -1.8 4.8M581.9 87.3l-4.7 0.7 -4.4 1.2M585.7 114.7l-3.5 0.7 -3.1 1.6M579.1 117l-1.4-4.6 -2-4.2 -2.6-4 -2.2-4.2M572.8 89.2l-0.5 5.5 -1.4 5.3M612.2 87.9l-4.5 0.5 -4.6 0.3 -4.2 1.8 -4 2.2 -4.5 0.6M607 110.9l2-1.8 2.4-1.3M607 110.9l-4.9-0.9 -2.7-4.1 -3.9-2.3 -3.4-3M553.2 63l2.2 3.4 2.7 3.1 2.2 3.4 2.4 3.3 3.1 2.8 2.5 3.2 1.6 4 2.8 3M572.7 89.2l-0.2 0.4 0.3-0.4M575.5 122.7l2-2.7 1.6-3M558.6 110.6l3.2-2.4 2.9-2.9 3.2-2.6 3-2.7M223.7 896.3l-4.2-1 -3.8-2 -4-1.5 -4.1-1.3 -4-1.5M203.6 889l-2.4 3.3 -2.1 3.5 -2 3.5 -1.1 4.1 -1.4 3.8 -2.2 3.4 -1.8 3.7 -1.7 3.7M156 923l2.4-3.7 2.7-3.6 2.3-3.8 2.8-3.4M188.9 918l-3.4-2.3 -4.1-1 -4.2-0.6 -3.4-2.4 -3.6-2.1 -4-1.1M147.2 890.4l4.2 1.7 3.6 2.8 4.5 1.1 3.8 2.5M166.2 908.5l-1.8-4.9 -1.1-5.1M322 384.2l3.4-3.1 4.3-1.6 3.9-2.3 3.8-2.5M322 384.2l0.2 3.4 0.4 3.4M344.1 376.2l-3.3-0.7 -3.4-0.8M356.5 394.6l-0.6 2.9 -1 2.8M354.9 400.3l-3.9 1.9 -3.8 1.9 -3.6 2.4 -3.6 2.3M322.6 391l3.2 2.7 2.2 3.7 2.6 3.2 2.4 3.5 3.5 2.4 3.5 2.3M289.7 396.4l3.4 3.3 3.3 3.4 2.7 4 3 3.7 3.3 3.4M315.3 380.2l3.1 2.5 3.6 1.5M322.6 391l-3 2.8 -2.3 3.5 -2.2 3.5 -2.1 3.6 -1.7 3.9 -3.1 2.8 -2.8 3.1M281.8 429.8l3.9-1.7 3.7-2.1 3.9-1.3 3.9-1.2 4.3-0.1 4.2-0.7M305.4 414.2l0.1 4.3 0.2 4.2M308.4 356.2l4.2-1.4 4.3-1 3.7-2.8 4.4-0.8 4.3-1.3 4.3-1M337.4 374.7l-1.2-4.4 -0.5-4.4 -0.7-4.4 -0.3-4.5 -0.2-4.5 0-4.5M333.6 347.9l0.4 0.4 0.5-0.3M295.5 460l3.3-2.6 3.4-2.3 3.6-2.2 3.8-1.8M305.7 422.7l2.1 2 2.5 1.8M309.6 451.1l-0.7-4.1 0.9-4.1 0.7-4.1 0.8-4.1 -0.8-4.1 -0.2-4.1M340 408.8l-0.5 4.6 -0.6 4.6 -1.2 4.4 -1.3 4.4M310.3 426.5l4.3-0.8 4.4 1.2 4.3 0 4.4-0.2 4.3-0.2 4.4 0.3M356.4 523.1l-0.9-3.9 -0.4-4 -0.1-4.1 -1.2-3.9 -0.8-3.9M389.3 506.3l-4.4-1.8 -4.1-2.3 -4.2-2.2 -3.9-2.6 -4.2-2.2M325.6 507.1l3.4-2.9 4.2-1.1 4-1.6 4.1-1.5 4-1.4M345.3 498.6l4 2.1 3.7 2.6M396.8 500.7l-1-4.5 -0.4-4.4 -0.4-4.5 -1.2-4.4 -1-4.4 0.7-4.6 -0.1-4.5M366.8 468.7l0.7 4.4 -0.1 4.4 0.4 4.4 -0.3 4.5 0.8 4.3 0.2 4.5M366.8 468.7l2.5-1.9 2.6-1.5M371.9 465.3l4.3 1.1 4.4 0.3 4.3 0.6 4.3 1.2 4.2 0.9M408.4 502.3l3.3-2.4 2.6-3.2 3.5-2.1 3.5-2.1 2.7-3 2.7-3.1M411.9 463.6l-3.5-1 -3.5-1M393.4 469.4l3.6-3 3.6-2.9 4.3-1.9M450.8 465.2l2.3 3.8 2.3 3.8 1.9 4 1.8 4M450.8 465.2l-5.1 1.7 -5.4 0.1M458.7 482.4l-1.1-1.1 1.5-0.5M458.7 482.4l-4.6 1.3 -4.7 0.6 -4.5 1.5 -4.2 2.4 -4.8 0.5M435.9 488.7l-1.2-0.8 -1.2-0.9M474.7 470.2l-3.8 2.8 -3.9 2.7 -3.9 2.6 -4 2.5M466.4 454.7l-4.1-2.1 -4.5-0.3M457.8 452.3l-2.4 4.3 -3 3.9 -1.6 4.7M457.8 452.3l-1.6-4.2 -2.7-3.5M429.3 457.3l4.3 2.5 2.7 4.4 4 2.8M429.3 457.3l-4.3 1.6 -4.4 1.6 -4.4 1.4 -4.3 1.7M426.7 486.4l3.4 0.5 3.4 0.1M464.4 493.1l5.1-1.1 5.3-0.2 4.9-2M464.4 493.1l-1.8-3.7 -1.3-3.8 -2.6-3.2M480.3 471.6l1.2 3.1 2.4 2.4M479.7 489.8l1.1-4.3 1.6-4.2 1.5-4.2M592 513.6l-3.2-3.6 -2-4.3 -2.6-3.9 -2.9-3.8 -1.7-4.5M578.8 523.1l-4-1.5 -3.9-1.6 -3.7-2.1M567.2 517.9l-2-4 -1.1-4.1 -0.9-4.2 -0.5-4.4M562.7 501.2l4.7-0.8 4.1-2.2 4.1-2.3 4-2.4M490.4 458.4l5 0.6 5 0.3M483.9 477.1l4.3 0.3 4 1.2 4.1 1.2M500.4 459.3l1.5 4 1.7 4 3.4 2.8M500.4 459.3l2.2-4.2 1.7-4.4 3.1-3.8M507.4 446.9l3.9 1.3 3.9 1.4 4.1 0 4.1-0.1M523.4 449.5l0.1 1.6 1 1.4M524.5 452.5l-1.9 3.9 -1.2 4.2 -3.1 3.4 -1.5 4 -1.5 4.1M507 470.1l4.2 0.8 4.1 1.2M464.4 493.1l-0.2 4 -0.9 3.9 -1.1 3.9M435.9 488.7l1.3 5.2 1.9 5 2 4.9M462.2 504.9l-4.2 0 -4.2-0.3 -4.2-0.9 -4.2 0.1 -4.3 0M417.6 513.2l4.2-1.2 4.2-0.9 4.4 0 4.4-0.4 3.9-2.2M441.1 503.8l-0.8 2.5 -1.6 2.2M419.1 528.3l4.8-0.6 4.8 0.3 4.7-1 4.8 0.2 4.8-0.9M438.7 508.5l1 4.5 0.2 4.6 1.5 4.4 1.6 4.3M445.6 535.3l-1.6-4.3 -0.8-4.5M443 526.3l0.3-0.2 -0.1 0.4M483.1 564.5l-3.3-5 -4.6-4M451.8 560.7l3.2-4 3.1-4.2M475.2 555.5l-4.3-0.5 -4.2-1 -4.2-1.4 -4.4-0.1M445.6 535.3l3.6 2.5 3.6 2.6 3.5 2.8M479.7 489.8l3.2 3.5 3.4 3.3 2.5 4.1M488.8 500.7l-1.4 2.5 -1.4 2.6M462.2 504.9l1.4 2.5 1.5 2.5M443.2 526.5l4.7-1.1 4.3-2.1 4.1-2.4 4.1-2.5 4.4-1.9M465.1 509.9l-0.6 3.3 0.3 3.3M456.3 543.2l2.9-3.2 2.1-4 3.7-2.4 2.8-3.3 4-2.1M464.8 516.5l1.7 4.3 2.8 3.6 2.5 3.8M475.2 555.5l0.8-4.1 0.6-4.1 0.7-4.1 1.8-3.7 1.8-3.8 1.7-3.8M471.8 528.2l5.2 2.6 5.6 1.1M517.7 474.9l-1.1-1.4 -1.3-1.4M517.7 474.9l-0.8 4.7 -0.9 4.6 -1.4 4.5 -1.9 4.4M488.8 500.7l4-1.2 3.9-1.1 3.8-1.7M500.5 496.7l0-0.1 0.1 0M512.7 493.1l4.2 3.2 4.4 3 4.7 2.5M526 501.8l1 1.7 -0.1 2.1M526.9 505.6l-4.4 2.2 -3.7 3 -2.7 4.2M500.5 496.7l1.4 4.3 2 4 2.4 3.8 0.7 4.5M507 513.3l4.7 0.3 4.4 1.4M540.6 513.5l-4.9-2.1 -4.6-2.5 -4.2-3.3M540.6 513.5l0.6 3.5 1 3.4M518.7 527.7l-1-4.2 -0.6-4.3 -1-4.2M542.2 520.4l-3.6 2.2 -4 1.8 -2.7 3.5 -3.4 2.4M567.2 517.9l-4 2.8 -4.4 2.1 -4.7 1.8 -4.3 2.2M562.7 501.2l-4.3-1.4 -4.2-1.5M540.6 513.5l2.7-3 2.9-2.9 2.7-3.1 2.8-3 2.5-3.2M569.4 542.2l-4.6-1.4 -4.5-1.7 -4.3-2.3 -4.4-2M549.8 526.8l0.7 4 1.1 4M232.9 340.6l-4.7-0.1 -4.7-0.8 -4.8 0.3 -4.6-1.3 -4.8-0.2M218.9 308.7l-3 3 -3.1 2.9 -3.7 2.1 -2.9 3.1M507.9 347.1l-4.4 1 -4.2 1.4 -4.5 0.7 -4 2.1 -4.2 1.5M507.9 347.1l3.4 4.9 4.4 4.1M487.5 369.3l4.9 0.7 5-0.1 5 0.4 5-0.4M515.7 356.1l-1.9 3.5 -1.6 3.8 -2.7 3.1 -2.1 3.4M507.6 390.7l-4.3 0.8 -4.2 0.3 -4.4 0 -4.1 1.2M507.6 390.7l2.2-3.1 1.7-3.4M507.4 369.9l1.9 4.6 0.8 4.9 1.4 4.8M568.7 251.8l2.4-4.6 1.7-4.9M568.7 251.8l0.5 2.3 0.6 2.4M572.8 242.3l3.7-1.7 3.8-1.5 3.9-1.1 4.2-0.1M588.4 237.9l0.7 5.3 0.3 5.4M569.8 256.5l5.4 0.1 5.4 0.4M589.4 248.6l-3.3 2.4 -2.7 3.1 -2.8 2.9M568.1 339.5l-4.6 0.1 -4.5-1 -4.4-1.1M568.1 339.5l2.5-1.6 2.2-1.9M554.6 337.5l-1.9-3.5 -1.8-3.6M572.8 336l-0.1-2.1 0.2-2.2M550.9 330.4l1.6-4.1 3.2-2.9 3.2-2.8 2.3-3.6M572.9 331.7l-2.8-3.8 -2.5-4 -3.8-3 -2.6-3.9M587.4 359.5l1.6 4.9 1 5.1 3.3 4.1M587.4 359.5l-4.5 0.4 -4.6 0.4 -4.5 0.6M593.3 373.6l-3 2.9 -4.1 1.2 -3.7 1.7 -3.1 2.8 -3.7 1.7M573.8 360.9l-1.6 4.6 -1.3 4.7 -1.7 4.5 -1.4 4.7M575.7 383.9l-4.3-1.7 -3.6-2.8M568.1 339.5l0.1 4.2 0.9 4.3 -1.4 4.2 -0.4 4.3M572.8 336l4.4 0.4 4.1 1.1 3.4 3.1 3.7 2.2 4 1.2M567.3 356.5l3 2.6 3.5 1.8M587.4 359.5l1.8-4.5 2.7-3.9 2.2-4.3M592.4 344l1 1.4 0.7 1.4M604.6 381.1l-3.5-2.8 -3.9-2.3 -3.9-2.4M604.6 381.1l2.1-4.2 3-3.6 2.5-3.9 3.3-3.4 3-3.6 2.4-4M620.9 358.4l-2-3.6 -2.4-3.5 -1.4-4M594.1 346.8l4.2-0.1 4.2 0.5 4.2 0.3 4.2-0.4 4.2 0.2M604.6 381.1l0.4 0.9 0.1 0.9M580.5 401.3l2.9 0.1 2.9-0.2M580.5 401.3l-2-4.2 -1.4-4.2 -0.4-4.6 -1-4.4M636.9 364.5l-0.8 4.7 -1 4.7 -0.2 4.7 -0.2 4.8M636.9 364.5l-3.9-1.7 -3.8-2.2 -4-1.4 -4.3-0.8M619.5 395.5l-0.2-0.4 -0.2 0.5M605.1 382.9l3.7 2.9 3.4 3.4 3.3 3.3 3.6 3.1M641.3 493.4l-3-3.1 -2.1-3.7 -2-3.8 -2.6-3.4M656.3 462.8l-4.2-0.5 -4.1 0.8 -4.2 0.7 -4.1-0.5 -4.2-0.3M631.6 479.4l1.4-4 0.7-4.1 1.1-4.1 0.7-4.2M529.8 432.1l0.1 1.8 0.5 1.8M530.4 435.7l-1.8 4.8 -2.1 4.8 -3.1 4.2M507.4 446.9l-1.5-4.1 -3.3-3.1 -1.6-4.1 -1.2-4.1M507.6 390.7l0.9 4.4 2.1 3.8 2.4 3.8 1 4.3M484.1 399.5l-0.5 2.2 1.3 1.8M514 407l-3.4 3.7 -3 4.1 -2.7 4.3M504.9 419.1l-3.9-1.8 -3.9-2 -3.5-2.4 -3.1-2.9 -2.7-3.3 -2.9-3.2M529.8 432.1l1.9-4.3 2.7-3.8M514 407l4.2 0.7 4.2 0.2 4.2-0.6M504.7 424.8l0.1-2.9 0.1-2.8M534.4 424l-2.1-4.1 -2.3-4 -1.2-4.6 -2.2-4M569.7 409.2l-1.2 4.1 -2.2 3.6 -1.6 3.9 -2 3.6 -2.4 3.5 -2.4 3.5M569.7 409.2l-4.1-1.8 -3.8-2.3 -4-1.8 -4.1-1.5M557.9 431.4l-3.5-2.4 -3.4-2.6 -3.1-3 -3.8-2M544.1 421.4l2.3-3.7 1.6-4.1 1-4.3 1.9-4 2.8-3.5M529 277.8l-3.5-1.9 -3.8-1.4M529 277.8l0.3 4.1 -0.2 4.2 1 4.1 0.6 4.1 -1.2 4.2M510 293.2l4.5 1.6 4.9 0.6 4.1 2.5 4.1 2.5M529.5 298.5l-0.8 1.1 -1.1 0.8M538.7 275.9l-0.6-5.2 0.3-5.2 0.8-5.2M538.7 275.9l-4.9 1 -4.8 0.9M520.6 272.8l1.1 0.5 0 1.2M520.6 272.8l1.7-3.7 2.5-3.3 1.1-3.9 1.6-3.8M527.5 258.1l5.9 1.1 5.8 1.1M520.6 272.8l-4.1-2.6 -4.7-1.4M511.8 268.8l-0.3-4.5 -0.4-4.5 -1.9-4.2 -0.1-4.6M509.1 251l4.7-1.1 4.8 0 4.6-1.4M527.5 258.1l-2.4-4.7 -1.9-4.9M518.7 231.7l2.6 4 2.1 4.3 2.9 3.8M507 234.4l0.9 4.1 0.9 4 0.1 4.2 0 4.2M509.1 251l0.4-0.9 -0.6 0.8M523.2 248.5l1-2.7 2.1-2M502.4 334.1l1.8 1.7 2.1 1.4M506.3 337.2l3.7-3.3 4.3-2.5 3.8-3.2 4-2.8M501.6 315.5l2-2 2.3-1.6M505.9 311.9l4.9 1.4 4.6 2.1 4.9 1.5M522.1 325.4l-0.3-4.4 -1.5-4.1M507.9 347.1l-1.2-4.9 -0.4-5M490.2 332.8l-4.7 3.2 -4.6 3.4M527.5 306.4l-2 3.7 -3.3 2.9 -1.9 3.9M527.5 306.4l3.4 2.3 4.1 1 3.5 2 3 2.9M429.4 241.4l0.7-0.3 -0.3 0.7M429.4 241.4l3.6-2.9 3.3-3.1 2.6-3.8 2.4-4M429.8 241.8l4.5 0.7 4.6 0.5 4.1 2 4 2.6 4.7 0M446 227.7l-2.3 0 -2.4-0.1M446 227.7l2.3 3.6 0.8 4.2 2.1 3.6 2.2 3.6M453.4 242.7l-0.7 2.5 -1 2.4M416.6 227.5l2.4-4 4-2.4 3.8-2.6 3.1-3.2M416.6 227.5l2.8 3.8 3 3.4 3.3 3.3 3.2 3.3M429.9 215.3l3.3 2.7 2.6 3.3 3 2.9 2.5 3.4M428.9 241.3l0.3 0.1 0.2 0M452.5 221.1l-2.2 4.3 -4.3 2.3M452.5 221.1l3.7 2.3 4 1.8 3.7 2.2M463.9 227.4l-0.6 5.1 -1.2 5.1M462.1 237.6l-4.1 3 -4.6 2.1M452.4 250.8l-0.2-1.6 -0.5-1.6M452.4 250.8l4.3 0.9 3.9 1.8 3.8 2.4 4.2 1.3M468.6 257.2l3.2-1.9 3.5-1.1M475.3 254.2l-0.9-5.9 0.4-5.9M474.8 242.4l-4.1-2 -4.3-1.3 -4.3-1.5M432.8 256.7l-3.5 4.2 -4.3 3.3M432.8 256.7l4.7 1 4.4 2 4.6 1M446.5 260.7l0.8 5.6 -0.1 5.6M447.2 271.9l-2.6 1.7 -2.9 1M428.9 241.3l-4.1 2.9 -3.6 3.5 -4.1 3M417.1 250.7l0.6 4 1.8 3.9 0.2 4.2M419.7 262.8l2.4 1.5 2.9-0.1M429.8 241.8l0.5 5.1 1.5 4.9 1 4.9M452.4 250.8l-2.3 5.3 -3.6 4.6M423.2 281.7l2.4 3.7 2.9 3.3 2.2 3.8 3 3.2M435.3 295.8l-0.9 0.7 -0.7-0.8M559.4 562l-3.1 3.3 -4.2 1.9 -3.9 2.4 -2.8 3.7M545.4 573.3l-3.9-2.6 -4.2-2.2 -4.4-1.7M532.9 566.8l0.8-4 0.2-4.1 0.4-4 1.1-4M543 548.6l-4 0.5 -3.6 1.6M563.5 562.1l-2 0.1 -2.1-0.2M547.6 586.3l0.1-4.4 -1.4-4.3 -0.9-4.3M551.6 534.8l-3 2.9 -2.2 3.4 -1.3 4 -2.1 3.5M521.9 574.3l3.7-2.6 3.9-2.1 3.4-2.8M512.3 571.3l-0.1-4.5 -0.6-4.4 0.3-4.5 0.3-4.4 1.1-4.4M513.3 549.1l4.5-0.5 4.4-0.7 4.5 0.5 4.5-0.3M531.2 548.1l2.3 1 1.9 1.6M528.5 530.3l-0.2 4.6 1 4.4 1.1 4.3 0.8 4.5M471.2 816.1l0.4-4.7 1.3-4.3 1.8-4.3 1.3-4.3 1.7-4.3M471.2 816.1l-4.5 0.2 -4.4 0 -4.5 0.2 -4.4-0.3 -4.5-0.1 -4.4-0.5 -4.4-0.6M438.4 791.6l1.1 4.7 0.3 4.6 0 4.7 0.3 4.7 0 4.7M438.4 791.6l4.3-0.6 3.8-2.1 4.1-0.9 3.9-1.9 4.2-0.7 3.9-1.9 4.1-1.2 4-1.3M470.7 781l2.3 4.4 2.3 4.4 2.4 4.4M429.4 832l0.4-2.7 -0.6-2.7M471.7 817.5l0-0.8 -0.5-0.6M429.2 826.6l4.3-3.2 3.6-4 3-4.4M519 764.6l0.1 2.1 1.3 1.7M477.7 794.2l4.2 0.9 4.3 0.5 4.4-0.7 4.2 1.3 4.3-0.1 4.2 1.5 4.2 0.9 4.4-0.8M511.9 797.7l1.4-4.1 1-4.3 1.8-4 0.7-4.3 0.2-4.5 0.8-4.4 2.6-3.7M564.7 762.2l-2.5 3.4 -2.5 3.6 -1.6 4 -2.8 3.3 -1.8 3.9M520.4 768.4l3.9 2 4.5 0.7 4 1.8 4.3 0.9 4.4 0.8 3.8 2.6 3.8 2.4 4.4 0.8M573.3 804.1l3.8-1.4 3.7-1.8 3.7-1.8 4-1M573.3 804.1l-4.5-2.1 -3.7-3.5 -4.1-2.8 -4.6-2M556.4 793.7l-0.4-4.6 -1.5-4.3 -1-4.4M503.3 831.8l1.2-4.2 0.9-4.3 1.4-4.1 1.3-4.2 1.4-4.1 0.4-4.4 1.3-4.1 0.9-4.3M538.8 835.2l-4.8 1.7 -4.9 1.5 -4.4 2.4M538.8 835.2l-0.7-4.5 -0.3-4.5 -0.8-4.5 -1-4.5 -0.8-4.5 -0.4-4.6M534.8 808.1l-4-1.1 -4.2-0.7 -3.8-1.6 -4-1.3 -3.3-2.8 -3.4-2.5M499.8 833l2 0.1 1.5-1.3M511.9 797.7l0.3 0.1 -0.1 0.3M516.6 873.4l0.3-4.2 0.7-4.2 0.9-4.1 0.9-4.1 0.8-4.1 1.4-4 1.2-4 1.9-3.9M553 841l1.4 3.9 0.5 4.1 0.4 4.1 1 4 0.2 4.2 0.6 4M553 841l-5.1-1 -4.1-3.6 -5-1.2M553 841l3.9-1.4 3.1-2.8 3.5-2 3.3-2.3 3.2-2.5M570 830l-1-4.5 1.5-4.2 1-4.3 -0.4-4.4 0.8-4.3 1.4-4.2M556.4 793.7l-3.9 2 -3.4 2.7 -3.3 2.9 -4 1.8 -3.7 2.3 -3.3 2.7M66.5 293.4l3.3 3.6 4.3 2.1 4 2.5 4.5 1.8M66.5 293.4l-4.6 2.5 -5.2 1.1M69.5 332.3l3.8-2.4 4.1-2.2 3.3-3.2 3.5-2.8M82.6 303.4l0.8 4.6 0.3 4.5 0.1 4.6 0.4 4.6M378.3 594.7l-3.7 3.7 -2.9 4.3 -3.9 3.4M352.5 574.8l-0.3 4.7 -1.5 4.4 -1.2 4.6 0.4 4.7 -0.4 4.6M349.5 597.8l4.1 0.6 3.5 2.1 3.2 2.7 3.7 1.5 3.8 1.4M401.7 619.4l-4.3-0.3 -4.2 1 -4.2 1.1 -4.2 1 -4.2 0.9 -4.4-0.8 -4.3 1M367.8 606.1l0 4.6 1.9 4 1.1 4.3 1.1 4.3M386.8 655.1l-2.1-4 -2.8-3.5 -2.5-3.7 -2.9-3.5 -2-4.1 -3-3.4 -1.8-4.2M371.9 623.3l-0.8 2.8 -1.4 2.6M269.2 672.6l3-2.9 1.8-3.5 2-3.5 1.1-4 2.3-3.3 1.5-3.7 1.5-3.7 1.8-3.6M252.6 635.9l4-0.4 4.1-0.3 4.1 0.5 4.1 0.8 4-0.5 4.1-0.2 4.1-0.1M281.1 635.7l2.1 4.1 1 4.6M284.2 644.4l3.9 1.9 3.8 2.2 4.3 1.1 3.9 1.9 4.1 1.5 4 1.9 3.9 2M268.6 564l1.9 3.8 2.5 3.4 2.6 3.2 2 3.8 2.8 3.1 2.5 3.4M282.9 584.7l-2.9 3.7 -3.4 3.5 -3.9 2.8 -2.4 4.2 -3.3 3.5M281.1 635.7l2.5-4.6 1.6-5.1 1.9-4.8M267 602.4l3.5 2.9 3.1 3.4 3.6 2.9 3.1 3.4 3.9 2.6 2.9 3.6M621 882l-4-1.3 -4.2 1.1 -4.1-0.5 -4.2 0.2 -4.1-0.1 -4.1-0.7 -4.1-0.9M592.2 879.8l-2.5-3.3 -1.9-3.7 -1.6-3.9 -1.9-3.6M584.3 865.3l1.1-4.2 2.6-3.5 1.7-3.9 3-3.3 1.5-4 2.2-3.6M596.4 842.8l5.1-1.4 5.1-0.8M621.3 882.2l-0.2 0 -0.1-0.2M609.5 837.6l-1.7 1.2 -1.2 1.8M581 894.8l1.8-4.5 3.7-3.1 2.7-3.8 3-3.6M557.1 865.3l4.5-0.5 4.5 0.1 4.6-0.3 4.5 0.2 4.5 0.4 4.6 0.1M570 830l3.9 1.6 3.8 1.7 3.7 2.1 3.9 1.6 4 1.4 3.3 2.7 3.8 1.7M361 806.6l4.7-3.7 5.7-1.9M371.4 801l4.4 1.2 3.8 2.6 4.2 1.5 3.7 2.7 4.1 1.7 4.2 1.6M364.7 759.5l3.6 2.7 4.2 1.8 3.7 2.5 3.9 2.4M371.4 801l0.5-4.1 1.3-4 1.1-4 1.4-3.9 2-3.8 1-4 1-4.1 0.4-4.2M429.2 826.6l-3.6-2.2 -2.9-3.1 -3.7-2.1 -3.1-2.9 -3.4-2.5 -3.4-2.5 -3.8-1.9M405.3 809.4l-4.8 1.4 -4.7 1.5M637.5 266.7l0.3 3.4 0 3.5M653.7 283.3l-2.7 0.2 -2.7-0.1M648.3 283.4l-3.7-3.1 -3.5-3.2 -3.3-3.5M589.4 248.6l3.6 2.2 3.1 3.3 3.6 2.4 4.1 1.6M580.6 257l2.8 3.3 2.8 3.4 2.8 3.4M603.8 258.1l-1 3.8 -1.6 3.5M589 267.1l4-1.1 4.2 0.2 4-0.8M666.4 337.6l-4.1 0.2 -3.8 1.3 -3.8 1.6 -3.7 1.7 -3.9 1.1M666.4 337.6l2.3 4.2 0.7 4.6 1.4 4.5 0.8 4.6M671.3 356l-0.2-0.4 0.5-0.1M647.1 343.5l-0.6 4.5 -0.2 4.6 -0.6 4.6 -1.4 4.4M669.2 331.3l-1.8 3 -1 3.3M678.1 374.9l-1.9-3.6 -0.3-4.1 -2-3.5 -1.4-3.8 -1.2-3.9M661.7 382.9l-3-3.4 -2-3.8 -1.8-4 -2.1-3.8 -1.8-4M636.9 364.5l3.8-1.2 3.6-1.7M656.1 297.1l-4.6 3.5 -4.7 3.5M656.9 319l-3.2-3.3 -2.4-3.8 -1.7-4.3 -2.8-3.5M345.9 241.4l-5.3-1.3 -5.5-1M335.1 239.1l-1.6 4.5 -1.4 4.6 -2.7 4 -1.4 4.6M349.4 253.5l-3.8 1.9 -3.8 1.9 -4.2 1 -4.1 1.3M333.5 259.6l-2.9-1.1 -2.6-1.7M344 220.8l3.6 1.7 3.4 1.9M353.3 233l-3.9 4 -3.5 4.4M331.1 233l1.9 3.2 2.1 2.9M351.5 254.6l-1.1-0.4 -1-0.7M364.7 252.2l2.3-3.7 1.7-4.1M368.7 244.4l-0.9-3.1 -1.3-2.9M366.5 238.4l-5.2 0.2 -3.8-3.3 -4.2-2.3M322.9 230.5l-1.6 4.7 -3.2 3.8 -2.5 4.3M327.1 256.9l-2.3-4 -3.8-2.6 -3.2-3.1 -2.2-3.9M327.1 256.9l0.4-0.6 0.5 0.5M345.6 277.3l3.9-1.2 3.2-2.4M339 274.6l-2.3-4.8 -1-5.3 -2.2-4.9M326.1 281.7l-0.8-0.3 -0.8-0.1M324.5 281.3l-1.5-4.2 -3.1-3.2 -3.4-3 -1.9-3.9M354.1 198.9l0.5 1.2 1.3 0.4M351 224.4l5.1-3 4.5-3.9M355.9 200.5l0.3 4.5 1.9 4 1 4.4 1.5 4.1M366.5 238.4l2.7-5.4 2.9-5.2M372.1 227.8l-2.5-4.7 -2.8-4.5M360.6 217.5l3.1 0.3 3.1 0.8M209.2 141.3l3 3.5 3.2 3.5 3.5 3 3.9 2.7M235.9 127.7l1.5 4.1 0.1 4.4 1.1 4.1 0.7 4.3M222.8 154l4.3-2 4.2-2.3 4.5-1.7 3.5-3.4M206.6 177.8l4.1-1.7 4.1-1.2 4-2M318.2 222.1l-1.3 0 -1.1-0.7M315.6 243.3l-3.5 0.8 -3.6 0.4M308.5 244.5l-4.1-2.8 -2.7-4.1M301.7 237.6l1.9-4 0.5-4.5 2.1-4M315.8 221.4l-4.5 2.7 -5.1 1M283 96.3l0.5 2.2 -0.1 2.2M246.8 112.2l3.7 2.5 4.1 1.9 3.6 2.7 3.9 2.2 4.1 1.9 3.4 2.9M269.6 126.3l2.3-0.8 1.6-1.9M441.4 77.2l3.1 3.1 4.2 1.8 2.7 3.5M442 108.9l-3.1 0.2 -3 0.3M435 108.8l0.4 0.4 0.5 0.2M339.7 125.1l5.2 1.2 5.3 0.8M353.9 108.5l1.6 5.7 1.8 5.6M350.2 127.1l3.8-3.4 3.3-3.9M384.4 226.2l-1-4.5 0-4.7 -1.1-4.5M384.4 226.2l-4.1 0.4 -4 1.5 -4.2-0.3M366.8 218.6l2.9-4 3.5-3.4M382.3 212.5l-4.6-0.2 -4.5-1.1M388 228.5l3.9-2.5 3.1-3.4 3.3-3.3 3.8-2.6M402.1 216.7l-2.6-3.3 -3.3-2.7 -2-3.7M394.2 207l-3.1 0.6 -3.1-0.8M382.3 212.5l2.6-3.1 3.1-2.6M373.2 211.2l-1.4-4.2 -1.6-4.2M444.9 190.6l-3.7 3.2 -3.9 3.2 -3.9 2.9M444.9 190.6l4.7 3.8 3.8 4.6M453.4 199l-1.3 5.3 1 5.5M453.1 209.8l-4.2-0.4 -4.3-0.2 -4.1-1.8 -4.2-0.1 -4.3 0.4M433.4 199.9l0.1 4.1 -1.5 3.7M452.5 221.1l1.2-5.4 -0.3-5.6M429.9 215.3l0.6-3.4 0.6-3.4M453.1 209.8l0.3 0 0 0.3M414.4 227.4l-3.7-2.7 -2.6-3.6 -2.6-3.7M405.5 217.4l2.3-3.7 2.4-3.5 2.8-3.3 1.9-3.9M431.1 208.5l-3.9-1.9 -4.3-0.5 -4.1-1.3 -3.9-1.8M402.1 216.7l1.6 0.6 1.8 0.1M394.2 207l2.7-5.3 3-5M399.9 196.7l5.8-0.8 5.7-0.5M414.9 203l-1.6-3.9 -1.9-3.7M624.8 182.1l-4.3 0.6 -4 1.6 -3.9 2M624.8 182.1l1.8-4.4 1.4-4.6 0.3-4.7M608.6 168.5l0.1 4.7 1.4 4.3 0.9 4.5 1.6 4.3M608.6 168.5l4.2-1.2 4.3-0.7 4.3-0.8 4.3-0.8M625.7 165l1 1.9 1.6 1.5M594.4 186.5l-2.7 4.1 -2.9 3.9 -2.6 4.1M589.6 205.1l-1.7-3.3 -1.7-3.2M603 206.5l3.6-2.3 3.1-2.9 3.6-2.4M613.3 198.9l-1.2-4.9 -0.8-5M592.3 177.3l1.8 4.4 0.3 4.8M592.3 177.3l3.8-2.5 3.9-2.1 3.7-2.4 3.7-2.4M607.4 167.9l0.3 0.8 0.9-0.2M612.6 186.3l-0.1 1.6 -1.2 1.1M606.8 218.6l-1.8-3.9 -1.6-3.9 -0.4-4.3M622 203l-4.2-2.3 -4.5-1.8M632.5 188.7l-3.8-3.4 -3.9-3.2M474.8 242.4l2.5-3 2.3-3M463.9 227.4l2.7-2.2 3.3-0.7M479.6 236.4l0.1-2.4 -0.4-2.4M469.9 224.5l4.5 3.7 4.9 3.4M453.4 210.1l4.8-1.2 4.8 0.4 4.8-0.1 4.9 0.4M469.9 224.5l1.4-4.9 0.3-5 1.1-5M500.3 229.7l-3.6 3 -2.3 3.9 -2.6 3.7M500.3 229.7l-3.4-3.4 -4.2-2.1 -4.2-2.1M491.8 240.3l-3.8-2.2 -4.1-1.2 -4.3-0.5M479.3 231.6l2.7-3.6 3.8-2.4 2.7-3.5M500.9 229.7l-0.4-0.5 -0.2 0.5M500 207.1l-4.3 2.5 -4.6 1.9 -3.9 3.2M487.2 214.7l1.3 3.6 0 3.8M476.7 254.8l3 3.3 2.4 3.6 2.7 3.5 1 4.5M494.2 249.8l1.6 1.2 1.8 1.1M497.6 252.1l-1.1 4.7 -1.5 4.5 -0.8 4.8M485.8 269.7l3.9-2.4 4.5-1.2M475.3 254.2l0.5 0.8 0.9-0.2M491.8 240.3l0.5 4.9 1.9 4.6M508.9 250.9l-5.5 2.3 -5.8-1.1M504.7 271.5l3.9-0.4 3.2-2.3M504.7 271.5l-5.5-2.3 -5-3.1M504.7 271.5l-2.4 5.2 -1.4 5.6M500.9 282.3l3.1 3.6 2.6 3.9 3.2 3.4M527.6 300.4l0.3 3 -0.4 3M505.9 311.9l0.6-4.3 -0.5-4.3 -1.2-4.1M504.8 299.2l2.2-3.2 2.8-2.8M485.8 269.7l-0.5 3.2 -1.7 2.6M500.9 282.3l-5.4 0.2 -5.3 0.6M483.6 275.5l3.5 3.6 3.1 4M451.6 274.5l1.5 4.2 0.2 4.4 1.5 4.3 0.1 4.5 0.6 4.4M451.6 274.5l4.4-0.3 4.3-1.1 4.3-0.7M455.5 296.3l4.5-2 3.8-3.2 4.3-2.4 3.5-3.5M464.6 272.4l4.4 3.1 3.9 3.7M472.9 279.2l-1.5 2.8 0.2 3.2M455.3 296.8l0.7 0 -0.5-0.5M455.3 296.8l-4 0.4 -4 0.8 -4 0.4 -4 0.1M439.3 298.5l-1.8-1.6 -2.2-1.1M447.2 271.9l2.2 1.3 2.2 1.3M468.6 257.2l-0.5 5.3 -1.9 4.9 -1.6 5M483.6 275.5l-5.4 1.8 -5.3 1.9M501.6 315.5l-4-0.7 -4-0.3 -4.1 0 -4 0.2M504.8 299.2l-4.5-0.5 -4.4-0.6 -4.5 0.1M485.5 314.7l0.8-4.4 1.9-3.9 1.9-4 1.3-4.2M485.5 314.7l-0.4-0.5 0.3 0.5M490.2 283.1l-1.3 5.7 -0.6 5.8M471.6 285.2l3.6 4.8 2.9 5.2M478.1 295.2l5.1-1 5.1 0.4M460.1 358l-1.5-0.5 -0.8-1.4M480.9 339.4l-3.8-2.3 -3.6-2.4M473.5 334.7l-4.7 1.6 -4.5 1.7 -4.7 1.4M587.2 211.3l-3.5 2.7 -3.7 2.3 -3.7 2.5 -3.6 2.6M587.2 211.3l0.8 4.7 2.3 4 2.1 3.9 2.4 3.9 2.7 3.7M572.7 221.4l4.1 2.1 2.8 3.5 3.1 3.2 3 3.3 3.8 2.5M597.5 231.5l-4 2.3 -4 2.2M598.1 231.5l-0.3 0.5 -0.3-0.5M589.6 205.1l-1.4 3 -1 3.2M588.4 237.9l0.4-1 0.7-0.9M567.1 230.8l1.7-4.5 0.9-4.8M569.7 221.5l1.5 0.2 1.5-0.3M608.4 254.3l-2.1 2.2 -2.5 1.6M570.7 163l-2.9-4.3 -3.2-4.1M548.8 165.9l0.4-4.6 0.6-4.6M548.8 165.9l4 0.7 3.4 2.4 3.7 1.7 4 1M564.6 154.6l-5 0.3 -4.9 1.1 -4.9 0.7M570.2 166l-2.6 3.4 -3.7 2.3M197.9 880.2l-5-1.2 -5-1 -5.1-0.2M197.9 880.2l1.7-4.1 1.8-4 3.7-3 1.6-4.1 1.9-4 2.3-3.8M182.8 877.8l-2-3.5 -2.2-3.4 -2.3-3.3 -2.4-3.1 -2.4-3.2 -1.8-3.7 -2.4-3.2M209 853.2l1.6 1.7 0.3 2.3M209 853.2l-3.9-2.2 -3.9-2.1 -3.6-2.8 -3.8-2.4 -4.1-2 -4.6-0.7 -4.3-1.4M180.8 839.6l-1.6 0.2 -1.6 0.3M203.6 889l-2.8-4.5 -2.9-4.3M163.3 898.5l2.3-3.4 3.4-2.4 2.4-3.3 2.8-2.9 2.9-2.9 2.6-3.1 3.1-2.7M150.7 856.7l4.4 1.1 4-1.4 4.2-0.3 4-1.7M216.3 829.7l-1.1 4 -0.5 4.1 -2.5 3.5 -1.2 4 -0.9 4 -1.1 3.9M202.9 816.2l-2.7 3 -2.2 3.5 -2.7 2.9 -2.7 3.1 -2.5 3.1 -2.8 2.9 -2.2 3.4 -4.3 1.5M167.6 821.9l1.6 3.9 2.3 3.5 1.4 4 2.5 3.3 2.2 3.5M447.3 383.8l2.5 1.4 2.7-0.7M447.3 383.8l-2.8-3.1 -1.6-3.7 -2.3-3.3 -2-3.5 -2.2-3.3 -0.9-4.1M452.8 384.3l-0.4-0.2 0.1 0.4M457.8 356.1l-4.4 0.2 -4.3 0.9 -4.4 0.2 -4.4-0.8M435.5 362.8l2.2-3.2 2.6-3M418.9 393.3l0.9-4.4 0.2-4.5 0.7-4.3 0.2-4.5 1.3-4.3 1.1-4.3M418.9 393.3l2.1 2.1 0.1 3M421.1 398.4l3.3-2.9 4.6-0.5 3.8-2 3.9-1.8 3.2-3 3.6-2.4 3.8-2M435.5 362.8l-4 1.4 -4.1 1.3 -4.1 1.5M338.7 345.4l4.3-0.5 4.2-0.5 4.3-0.4M351.5 344l2-3.9 0.7-4.4 2.2-3.8 1.3-4.2M357.7 327.7l-3.2-4.2 -2.2-4.8M352.3 318.7l-3.7-1.6 -4-1M344.6 316.1l-3.9 2.3 -4.1 2M333.6 347.9l-1.9-4.2 -3-3.2 -3.3-2.9 -2.7-3.4 -2.7-3.5 -3.7-2.5M334.5 348l2.3-0.9 1.9-1.7M325 317.6l6 0.7 5.6 2.1M366.2 362.9l-0.7-4.2 -0.2-4.2M365.3 354.5l-3.2-2.9 -3.8-2.2 -3.4-2.7 -3.4-2.7M346.5 294.7l5.3 0.6 5.2 1.1M342.4 298l1 4.5 -0.3 4.6 0.8 4.5 0.7 4.5M357 296.4l2.3 3.3 1.9 3.6 1.5 3.7M362.7 307l-3.2 4.1 -3.4 4 -3.8 3.6M343.1 481.7l2.9-3.3 3.4-2.8 3.1-3.1 2.9-3.2M343.1 481.7l-4-0.6 -4-0.5 -3.8-1.9 -3.9-1.2 -4.2 0.2M355.4 469.3l-2.9-3 -3.5-2.4 -2.4-3.4 -2.8-3.1 -2.4-3.5 -3.4-2.4M323.2 477.7l0.4-4.8 -0.1-4.7 0.9-4.7 0.2-4.8M324.6 458.7l4.2-2.9 4.7-1.9 4.5-2.4M366.8 468.7l-5.7 0.6 -5.7 0M345.3 498.6l-0.4-4.2 0.4-4.4 -0.7-4.2 -1.5-4.1M315.9 483.6l4-2.5 3.3-3.4M309.6 451.1l3.5 2.4 3.7 2 3.9 1.5 3.9 1.7M341.9 433.2l-1.1 4.5 -1.2 4.5 -1.1 4.6 -0.5 4.7M341.9 433.2l-2.7-3.3 -2.8-3.1M380.3 382.5l0.6 4.5 1 4.4 1.2 4.3 1.3 4.3 1.4 4.4M354.9 400.3l3.2 2.9 3 3.1 2.3 3.8 4.1 2 2.6 3.5M385.8 404.4l-3.4 3.5 -4 2.7 -4.1 2.5 -4.2 2.5M341.9 433.2l4.3-0.5 4.3-0.1 4.3 0.8 4.3 0.1 4.3-0.7 4.3 0.4M371.9 465.3l-0.8-4.3 0.4-4.3 -1-4.2 -0.6-4.3 0-4.3 0.4-4.3 -0.4-4.3M367.7 433.2l1 1.2 1.2 0.9M482.4 445.5l1.3-4.8 0.9-4.8M453.5 444.6l1.4-4.2 0.6-4.4 1.7-4M457.2 432l4.5 0.6 4.6 0.5 4.7 0.2 4.6 0.4 4.7 0 4.3 2.2M499.8 431.5l-4.7 0.9 -4.6 1.4 -4.7 0.8M478.1 417.2l0.5 5 3.4 3.7 1.1 4.7 2.7 4M484.6 435.9l0.7-0.6 0.5-0.7M439.7 410.8l4.3-2.5 4.2-2.6 4.3-2.6 4.6-1.8M443.5 421.1l4.3 2.6 4.2 2.6 4.3 2.5M460.5 403.1l1.1 5 0.9 5 1.3 5M463.8 418.1l-2 3.9 -2.9 3.3 -2.6 3.5M421.1 398.4l-0.2 0.5 0.1 0.5M452.5 384.5l0.8 4.3 2.1 4 0.9 4.2 0.8 4.3M434.9 445.7l-1.6-4 -3.1-3.1 -2.1-3.7M428.1 434.9l3.7-2.1 3.1-2.7 2.5-3.5 2.9-2.9 3.2-2.6M478.6 397.6l-4.6 1 -4.4 1.9 -4.6 1.2 -4.5 1.4M478.1 417.2l-4.8 0.1 -4.7 0.5 -4.8 0.3M511.6 547.5l-1.4-4.4 0.4-4.4 0.7-4.4M511.3 534.3l-4.5-2.1 -4.3-2.7 -4.2-2.6 -4.8-1.6M486.1 531.2l3.5-2.3 2.5-3.4M488.9 563l2.9-3.1 1.6-3.9 2.2-3.5 1.9-3.7M513.3 549.1l-0.6-1 -1.1-0.6M518.7 527.7l-4.1 2.8 -3.3 3.8M507 513.3l-3.2 3.2 -3.5 2.9 -3 3.4 -3.8 2.5M482.6 531.9l2 0.6 1.5-1.3M486 505.8l1.8 3.7 1.3 4 0.9 4 0.4 4.2 1.7 3.8M171.8 341.8l2.7 3.7 1.9 4.2 1.2 4.6 3 3.5 2 4.2 2.8 3.7M171.8 341.8l2.8-2.3 2.6-2.4M177.2 337.1l4.3 1.3 4.6 0.5 4.3 1.2 4.1 1.9 4.3 1.3 4.4 1.1M185.4 365.7l4.8-0.9 5.1 0.2 4.4-2.6 4.8-1.1M204.5 361.3l-0.6-4.2 0.6-4.3 -0.4-4.2 -0.9-4.2M148.4 365.4l0.3-0.2 -0.2-0.4M181.1 375.6l2.8-4.7 1.5-5.2M148.5 364.8l3.3-2.9 3.2-3.1 2.7-3.5 3.1-3.1 2.7-3.5 2.7-3.5 3.2-3M169.4 342.2l1.1-0.5 1.3 0.1M209.3 338.5l-3.3 2.7 -2.8 3.2M206.2 319.8l-4.4-1.6 -4.6 0 -4.7 0 -4.6-0.2 -4.5-0.7M183.4 317.3l0 4.4 -2.1 3.7 -1.2 3.9 -2.2 3.7 -0.7 4.1M217.4 378.4l-0.2-4.2 -1.6-3.8M215.6 370.4l-3.8-3 -3.7-3 -3.6-3.1M215.6 370.4l2.8-3.2 3-3 2.8-3.2 3.1-2.9 3.8-2.4 2.7-3.3 1.1-4.6 2.4-3.5M232.9 340.6l1.2 1.1 1.5 0.4M237.3 344.3l-1.1-0.9 -0.6-1.3M175.1 178.4l-2.2 4 -1.6 4.2 -0.9 4.4 -1.1 4.3 -0.6 4.6M151.2 167l-4.7 3 -3.3 4.5M144.7 185.8l-1.5-5.5 0-5.8M144.7 185.8l3.4 2.7 4 1.8 3.7 2.3 3.5 2.7 3.7 2.3 3.3 2.8M168.7 199.9l-1.5-0.9 -0.9 1.4M144.7 185.8l-3.2 3.3 -2.7 3.7 -3.3 3.2 -3 3.5 -3.4 3.2M166.3 200.4l-3 3.7 -4 2.9 -3 3.7 -3.1 3.7 -2.8 3.9M571.3 409.1l3.4-2.3 2.5-3.2 3.3-2.3M571.3 409.1l-0.8 0.5 -0.8-0.4M567.8 379.4l-4.3 0.8 -4.3 1.1 -4.4 0.6M553.7 401.8l0.3-0.2 -0.4 0.2M554.8 381.9l-0.6 4.9 0.7 5.1 -1.5 4.9 0.2 5M511.5 384.2l4.4 0.6 4.5 0 4.4-0.6 4.5-0.1M526.6 407.3l2.9-3.8 3.5-3.3M534.4 424l4.7-1.9 5-0.7M553.6 401.8l-4.1 0.2 -4.2 0 -4.1-0.2 -4.1-1.2 -4.1-0.4M538.7 275.9l2.5 1.9 3.1 0.6M555.9 263.4l-1.5 3.9 -1.1 4 -1.3 4M555.9 263.4l-2.9-3.6 -3.5-2.7 -4.2-1.9M545.3 255.2l-3.4 2.1 -2.7 3M544.3 278.4l3.7-2 4-1.1M544.3 278.4l0.3 4.2 -0.6 4.3 1.7 4 0.3 4.1M572.9 331.7l2.6-3.7 3.4-3.1 2.7-3.7M592.4 344l1.4-4.7 -0.3-4.9 0.8-4.7 0.1-4.9M581.6 321.2l4 2 4.2 1.7 4.6-0.1M610.5 320.5l-4.5 0.7 -4.5 0.2 -4.4 0.8M610.5 320.5l2.5 3.6 3 3.2 3.1 3.1 2.2 3.9M621.3 334.3l-1.9 4.4 -2.4 4.2 -1.9 4.4M594.4 324.8l2.1-0.6 0.6-2M609.5 495.6l-0.6-3.3 -0.1-3.3M631.6 479.4l-4.4 1.2 -4.5 0.7 -4.5 0.4 -4.4 0.8M608.8 489l2.3-3.4 2.7-3.1M638.7 414.6l-4.7 2.5 -3.3 3.7 -2.9 4.1 -2.7 4.3M619.1 395.6l-0.6 4.6 -2.3 3.7 -3 3.4 -2.5 3.7 -1.5 4.1M625.1 429.2l-3.3-2.8 -2.5-3.5 -2.7-3.3 -4.3-1.6 -3.1-2.9M586.3 401.2l3.5 3 3 3.5 3.6 3 3.4 3.1 3.6 3M609.2 415.1l-3.2 0 -2.6 1.7M538 233.4l5.4-1.5 5.6-0.4M538 233.4l-1.9 3.6 -1.2 3.9M534.9 240.9l3.1 3.8 3.6 3.2 3.9 3M545.5 250.9l4.8-3.6 4.7-3.5M549 231.5l3.1 3 3.1 2.9M555 243.8l0.1-3.2 0.1-3.2M553.5 216.5l-1.5 5 -0.8 5.2 -2.2 4.8M553.5 216.5l-3.1-2 -3.2-1.7M532.8 222l2 3.6 2 3.8 1.2 4M526.3 243.8l4.3-1.5 4.3-1.4M545.3 255.2l-1.1-2.2 1.3-2.1M568.7 251.8l-4.2-3.2 -4.4-3 -5.1-1.8M569.8 256.5l-0.6 1.7 -1.2 1.3M555.9 263.4l4.1-1 4.1-1.1 3.9-1.8M567.1 230.8l-4.3 1.6 -3.8 2.5 -3.8 2.5M563.5 216l2.5 3.4 3.7 2.1M423.2 281.7l-3.2 0.5 -3.2-0.2M433.7 295.7l-4.1 1.1 -3.6 2.3 -3.6 2.2M422.4 301.3l-4-1.5 -3.4-2.7 -3.5-2.5M411.5 294.6l2.5-3.9 1.9-4.1 0.9-4.6M410.1 248.5l-3.5 5 -5.2 3.2M401.4 256.7l-4.5-2.7 -3.9-3.7 -4.7-2.4M405.9 237.4l-4.8 1.2 -4.9 0.6 -5-0.5M391.2 238.7l-2.6 3.1 -0.9 3.9M387.7 245.7l0.1 1.1 0.5 1.1M414.4 227.4l-3.8 2.5 -2.2 3.9 -2.5 3.6M417.1 250.7l-3.5-1.2 -3.5-1M388 228.5l1.2 5.2 2 5M368.7 244.4l4.8-0.5 4.8 0 4.7 0.5 4.7 1.3M382 264.7l-4.2-0.8 -4.2-1.3 -4.3-1M382 264.7l0.6-4.6 2.1-4 2.8-3.8 0.8-4.4M96.8 325.4l3.3-3.5 3.8-2.8 4.2-2.4 4-2.5M96.8 325.4l1.2 5.2 1.5 5.1 1 5.2M112.1 314.2l4 1.5 3.1 2.7 2.9 2.8 2.8 2.9 2.5 3.2 3.2 2.5M100.5 340.9l3.7 2 3.9 1.2 4 1 3.9 1.2M116 346.3l3.6-3 4.6-1.2 3.7-2.9M127.9 339.2l1.5-4.7 1.2-4.7M82.6 303.4l3.8-2 3.7-2.3 4.2-1 3.8-1.9 4.5-0.3M84.2 321.7l4.3 0.8 4.2 1.4 4.1 1.5M102.6 295.9l4.2 2.4 4.3 2.2M111.1 300.5l0.7 4.6 0.4 4.5 -0.1 4.6M113 362.4l1-4 0.9-4 -1.1-4.3 2.2-3.8M148.5 364.8l-3.1-2.7 -2.7-3.1 -2.8-3.1 -2.5-3.3 -2.4-3.3 -2.2-3.5 -2.9-3 -2-3.6M169.4 342.2l-3.1-2.6 -3-2.8 -3.1-2.6 -3.1-2.6 -3.3-2.4 -3.2-2.6 -2.8-3 -4-1.4M143.8 322.2l-4.6 2.2 -4.1 2.9 -4.5 2.5M392.9 765.2l-0.2-0.2 0.2 0.2M392.9 765.2l4.2-0.5 4-1.1 3.9-1.2 4.2-0.6 3.6-2.6 4-1.2 4.1-0.6 4.1-0.7M392.9 765.2l3.5 2.6 1.5 4.1 2.9 3.1 2.3 3.5 1.7 3.9 2.2 3.5 1.9 3.8 2.9 3.1M429.7 759.2l-2.2-1.6 -2.5-0.9M429.7 759.2l0 4.6 -0.1 4.7 -0.5 4.7 0.9 4.6 0.4 4.6 1 4.6M431.4 787l-3.9 1.4 -3.6 2.1 -4.1 0.5 -4 0.9 -4 0.9M395.2 726.8l0.3 4.3 -0.2 4.3 -1.5 4.2 -0.1 4.2 0.1 4.3 -0.3 4.3 -0.2 4.2 0.7 4.4 -1.1 4.2M380.1 768.9l4.3-0.9 4.4-0.9 4.1-1.9M420.2 726.7l1.3 4.2 0.1 4.4 1.6 4.1 -0.1 4.4 1.6 4.2 0.7 4.2 -0.4 4.5M405.3 809.4l1.8-4.1 1.8-4 1.2-4.3 1.7-4.2M444.3 756l-5.2-0.3 -4.7 1.9 -4.7 1.6M438.4 791.6l-4-1.6 -3-3M623.3 266.4l-2.6 5.2 -3 5M601.2 265.4l0.9 0.1 -0.5 0.7M601.6 266.2l3.9 2.7 4.2 2.4 3.6 3.3 4.4 2M637.8 273.6l-2.9 2.9 -3 2.6 -2.8 2.9 -3 2.8M626.1 284.8l-3.8-0.4 -3.3-1.9M617.7 276.6l0.6 3 0.7 2.9M641.7 336.3l2.2-4 1.1-4.5 1.9-4.2M641.7 336.3l-4-1.1 -4-0.3 -4-0.6 -4.1 0.1 -4-0.3M646.9 323.6l-3.7-1.7 -2.9-2.7 -3.2-2.5 -3.5-2M621.6 334.1l2.9-3.6 2.6-3.7 2.1-4.1 2-4.1 2.4-3.9M647.1 343.5l-2.8-3.5 -2.6-3.7M656.9 319l-5 2.3 -5 2.3M621.3 334.3l0.2 0.1 0.1-0.3M625.4 305.6l1.2-5.2 2.3-4.8 1.4-5.1M625.4 305.6l3.9 2.7 3.8 2.7M633.1 311l3.7-2.4 3.7-2.4 3.7-2.6M639.6 291.9l-4.7-0.4 -4.6-1M646.8 304.1l-1.3-0.6 -1.3 0.1M633.6 314.7l-0.3-1.8 -0.2-1.9M648.3 283.4l-2.8 3 -2.8 2.8 -3.1 2.7M626.1 284.8l1.9 2.9 2.3 2.8M332.5 297.3l-4.8 3 -4.3 3.8M325 317.6l-1.4-4.7 -1.4-4.8M323.4 304.1l-0.1 2.2 -1.1 1.8M218.9 308.7l0.2-1.7 1.1-1.3M235.6 342.1l1.4-4.5 0.3-4.9 1.3-4.5 1.6-4.5 2.1-4.4M220.2 305.7l5.2 1.1 5.4 0.7M242.3 319.3l-2.8-3.1 -3.3-2.5 -2.4-3.3 -3-2.9M291.3 127.1l3.2-3.9 4-2.9 3.7-3.4M291.3 127.1l2 3.8 1.8 3.9 0.9 4.2 1.7 3.9M297.7 142.9l5-1.1 4.8-1.4 4.6-2.3M305 116.9l0.7 4.4 1 4.3 1.5 4.2 1.7 4 2.4 3.8M305 116.9l-1.4-0.4 -1.4 0.4M312.1 138.1l0.5-0.1 -0.3-0.4M283.4 100.7l2.5 3.5 3.1 2.7 3.4 2.4 3.6 2.2 4 1.7 2.2 3.7M273.5 123.6l4.7-0.1 4.5 0.4 4.3 1.5 4.3 1.7M309.8 163.8l-2.7 1.1 -2.7 0.8M319.1 148.7l-2.6-3.3 -2.7-3.3 -1.7-4M304.4 165.7l-1.4-4.1 -1.1-4.3 -1.4-4.2 -2.6-3.6 -2.2-3.9M295.7 145.6l0.6-1.6 1.4-1.1M311.5 111.8l-3.5 2.3 -3 2.8M324.7 129.8l-4.6 1.9 -3.6 3.4 -4.2 2.5M337.8 144.3l-3.6 2.9 -4.3 1.5 -4.1 1.7M337.8 144.3l-1.8-3.9 -1.5-4.1 -1.3-4.2M94.5 183l1-4.6 0.1-4.7 0.8-4.6 -0.4-4.7 0.6-4.7M94.5 183l5 1.7 5.1 1.5 5 1.9M109.6 188.1l3.2-2.7 2.5-3.2 2.4-3.4 2.8-3 3.1-2.8 2.8-3M96.6 159.7l4.7-1.7 3.8-3.1 3.8-3.2M126.4 170l-2.3-3.5 -1.1-3.9 -1.5-3.8 -0.7-4.2M108.9 151.7l4.1 0.6 4 0.9 3.8 1.4M89.7 185l2.3-1.2 2.5-0.8M78.6 148.4l4 1.7 3.5 2.3 3.2 3 3.7 2 3.6 2.3M95.1 221l-3.6-1.8 -3.1-2.8 -3.7-1.7 -3.7-1.7 -3.2-2.7M95.1 221l4.4-1.3 4.5-0.7 4.6-0.3 4.4-1.2M113 217.5l1.3-5 2.5-4.5 2.3-4.6M119.1 203.4l-2.5-3.8 -2.7-3.6 -1.9-4.1 -2.4-3.8M143.2 174.5l-3.9-2.2 -4.1-1.7 -4.5-0.1 -4.3-0.5M119.1 203.4l5-0.5 5-0.2M104.1 130.7l0 4.4 1.3 4.1 1.9 4 0.9 4.2 0.7 4.3M133.7 142.4l-2.9 3.4 -3.1 3.2 -3.2 3 -3.7 2.6M415.7 87.2l-0.9 4.9 -1.4 4.8 0 5.1M435 108.8l-5.3 0.2 -5.3-0.3 -5.2-0.4M413.4 102l2.1 3.9 3.7 2.4M337.8 144.3l0.5 0.6 0.7-0.1M350.2 127.1l1 4.5 0.7 4.5M351.9 136.1l-3.8 3.6 -4.5 2.6 -4.6 2.5M338.8 168.5l2.8-4 2.6-4.2 2.4-4.2M346.6 156.1l-2-4.1 -2.7-3.6 -2.9-3.6M449.9 120.7l-1.4 4 -2.4 3.4 -2.4 3.4M449.9 120.7l5 1.3 4.7 2.4 5 1.3M464.6 125.7l-0.1 4.3 -1.9 3.8M462.6 133.8l-3.9 1.6 -4 1.5 -4.3 0.3M443.7 131.5l3 3.3 3.7 2.4M462 107l2.9 2.7 3.1 2.5M447.6 112.5l1.5 4 0.8 4.2M464.6 125.7l0.2-0.1 0.1-0.2M468 112.2l-1.7 4.3 -1.5 4.2 0.1 4.7M464.1 147.6l0.4-3.8 2.1-3.1M466.6 140.7l4.8-0.5 4.9-0.3 4.9 0.7M470 155.7l4.1-0.2 4.2 0.4M478.3 155.9l2.8-2.7 2.6-2.9M483.7 150.3l1.5-3.4 -1.3-3.4M483.9 143.5l-2-0.9 -0.7-2M462.6 133.8l2.2 3.3 1.8 3.6M464.9 125.4l5.2 0.3 5 1.2 5 1.2M480.1 128.1l1.6 4 0.9 4.2 -1.4 4.3M461.5 88l4.9-1.1 5-1.2 4.4-2.7M463.2 164.6l3.9-4.1 2.9-4.8M463.2 164.6l3.3 4.1 3.2 4.2M478.3 155.9l0.5 4 0.9 4 0.7 4M469.7 172.9l5.5-2.2 5.2-2.8M492.8 173.6l1.6-4.8 1.5-4.9 1.7-4.8M492.8 173.6l-0.9-0.7 -0.7 0.9M497.6 159.1l-3.5-2.2 -3.3-2.5 -3.5-2.1 -3.6-2M491.2 173.8l-3.5-2.2 -3.8-1.6 -3.5-2.1M514.9 188.4l1.5-2.5 2.5-1.4M501 187.4l-1.6-4.9 -1.6-5M497.8 177.5l4.7-1.2 4.3-2 4.9-0.6 4.1-2.8M515.8 170.9l0.9 4.6 0.5 4.7 1.7 4.3M547.2 182.1l-0.5-4.1 0.4-4 1.7-3.9 -0.1-4.1M548.7 166l-4.2 0.6 -4.2 0.4 -4.2-0.1 -4 1.6M532.1 168.5l0.8 4.6 1 4.6 0 4.7M532.7 195.5l-1-4.5 -1.1-4.4M518.9 184.5l5.8 1.6 5.9 0.5M548.6 196.7l-0.6-4.1 0.8-4.1 0.6-4.1M547.2 182.1l1.1 1.2 1.1 1.1M530.6 186.6l1.6-2.2 1.7-2M570.7 163l4.2-2.7 4-3.3 4.8-2.1M567.8 142.8l5.5 1.2 5.4 1.2M586.7 174l-2.1 0.3 -2 0.4M586.7 174l-0.1-4.4 0.9-4.3 -0.2-4.3 1.4-4.3M582.6 174.7l-4.3-2.7 -4.1-2.9 -4-3.1M583.7 154.9l2.7 0.4 2.3 1.4M592.3 177.3l-2.7-1.9 -2.9-1.4M607.4 167.9l-2.4-2.6 -0.4-3.5M604.6 161.8l-4.7-2.1 -4.7-1.9 -4.9-1.5M641.3 122.3l-4 0.7 -3.6 1.9 -4 0.7 -3.7 1.6M623.7 114l1 4.3 0.7 4.5 0.6 4.4M626 127.2l-0.2 0.3 0.2-0.3M662.9 113.4l-1.2 4.3 -1.1 4.3 -1.1 4.3 -0.7 4.5M669.1 141.2l-3.3-3.6 -2.9-4.1 -4.1-2.7M641.3 122.3l4.2 3.9 3.9 4.2M649.4 130.4l4.7 0.3 4.7 0.1M690.9 167.1l-4.5-0.7 -4.5-1.3 -4.6 0.1 -4.7 0.4 -4.6-0.3M669.1 141.2l-0.9 2 -0.9 2M668 165.3l0.7-4.1 -0.2-4 -0.4-4 -0.8-4 0-4M644.4 184.2l4.6 0.1 4.7-0.2 4.6 0.6 4.5 0.7 4.4 2M643.4 173.2l2.8-3.3 3.3-2.9M649.5 167l4.3 0.5 4.3-0.3 4.2-0.4 4.3 0M667.2 187.4l0.8-4.1 0.1-4.2 0.3-4.1 -0.8-4.1 -1-4.1M643.9 184.8l0.4-0.2 0.1-0.4M628.3 168.4l5 1.6 4.9 2 5.2 1.2M668.3 189.2l-0.4-1 -0.7-0.8M668 165.3l-1.2 0.3 -0.2 1.2M667.3 145.2l-4.7 1.1 -4.8 0.4 -4.5 1.7 -4.6 1.4 -4.5 1.4M644.2 151.2l0.4 4.3 1.3 4 1.9 3.7 1.7 3.8M477 208.8l-1.8 0.1 -1.8 0.2M477 208.8l3.4-4.2 2.3-4.9 2.6-4.6M473.4 209.1l-1.7-3.8 -1.7-3.7 -0.6-4.2 -1.8-3.8 -1.5-3.8M485.3 195.1l-2.9-4.2 -2.5-4.5M479.9 186.4l-4.1-1.4 -4.3 0.5 -4.2-0.5M466.1 189.8l1.3-2.2 -0.1-2.6M472.7 209.6l0.3-0.3 0.4-0.2M497.4 195.6l-4-0.5 -4-0.2 -4.1 0.2M453.4 199l3.9-3.5 4.5-2.7 4.3-3M492.8 173.6l2.8 1.6 2.2 2.3M469.7 172.9l-1.4 3.9 -0.7 4 -0.3 4.2M467.3 185l0.1-0.1 -0.1 0.1M473.4 303.6l1.7 5.5 2.2 5.3M473.4 303.6l-4.4-1.1 -3.9-2.6 -4.3-1.5 -4.6-0.2M456.2 298.2l0.9 4.2 -1 4.4 0 4.2 0.9 4.3M477.3 314.4l-2.7 2.4 -2.8 2.2M471.8 319l-5.8 0.3 -5.8-1.1M457 315.3l0.8 2.3 2.4 0.6M485.4 314.7l-4-0.6 -4.1 0.3M478.1 295.2l-2.6 4 -2.1 4.4M455.3 296.8l-0.3 1.1 1.2 0.3M473.5 334.7l0.1-5.3 -0.9-5.2 -0.9-5.2M455.1 334.5l0.1-4.5 2.7-3.6 1.1-4.2 1.2-4M563.4 182.2l0.3-0.3 0.2-0.3M563.4 182.2l1.3 5.2 -0.3 5.2 -0.5 5.3M563.9 181.6l3.9 1.6 4.3-0.4 3.9 1.3M576 184.1l2 4.2 2.1 4.2 1.5 4.4M581.6 196.9l-4.7 2.3 -5.1 0.6 -5 1.1M549.4 184.4l4.7-0.6 4.6-0.9 4.7-0.7M548.6 196.8l5.1 0 5.1 0.3 5.1 0.8M582.6 174.7l-3.5 4.6 -3.1 4.8M586.2 198.6l-2.1-1.4 -2.5-0.3M563.5 216l1.6-5 0.7-5 1-5.1M435.7 344l-4.3-1.8 -4.4-1.6 -3.9-2.5 -4.4-1.5M435.7 344l2.6-3.9 3-3.6 3.1-3.6M418.7 336.6l1.2-4.3 2.1-3.8 1.6-4.1 2.9-3.5M444.4 332.9l-1.3-4.7 -1.3-4.8 -2.8-4.2M426.5 320.9l4-1 4.1-0.3 4-0.6M439 319.2l0.3-0.9 -0.7 0.7M455.1 334.5l-5.6 0.7 -5.1-2.3M440.3 356.6l-1.9-4 -1.7-4.2 -1-4.4M457 315.3l-4.6 0.3 -4.3 1.9 -4.5 1.1 -4.6 0.6M439.3 298.5l-0.4 4.1 0.2 4.1 -0.5 4.1 -0.3 4.1 0.3 4.1M422.4 301.3l0.4 6 -2.7 5.3M420.1 312.6l3.3 4.1 3.1 4.2M413.9 338.4l-2.6-4 -3.6-3.1 -3.8-2.8 -3.4-3.2M401.8 356.8l2.6 0 2.1-1.7M401.8 356.8l-3.5-2.5 -3.8-2.1 -3-3.1 -3.4-2.6 -3.3-2.7 -3.3-2.6M381.8 336.1l-0.3 2.5 0 2.6M381.8 336.1l3.4-2.7 3.3-2.7 3.5-2.4 2.9-3.2M394.9 325.1l2.8 0.1 2.8 0.1M423.3 367l-3.4-2.2 -2.9-3.1 -3.5-2.3 -3.4-2.2 -3.6-2.1M418.7 336.6l-2.5 0.7 -2.3 1.1M420.1 312.6l-4.1 1.2 -4.3-0.6 -4.2 0.5M407.5 313.7l-2.9 3.5 -2.6 3.8 -1.5 4.3M418.9 393.3l-3.9-1.9 -3.2-3 -3.5-2.6 -3.3-2.8 -3.4-2.6 -4.1-1.7 -4.1-1.5 -4-1.7M389.4 375.5l1.8-4.2 2.6-3.7 2.7-3.5 3.1-3.4 2.2-3.9M381.8 378.4l3.8-1.5 3.8-1.4M365.3 354.5l3.1-2.9 3-2.9 3.8-2 3.1-2.8 3.2-2.7M371.6 326.2l-4.7 0.1 -4.6 1.1 -4.6 0.3M371.6 326.2l3.7 2.9 3.3 3.5 3.2 3.5M371.6 326.2l1.2-5.1 0.1-5.4 2-5M394.9 325.1l-2.3-3.3 -1.9-3.6 -1.2-4 -2.6-3.1M386.9 311.1l-6-0.3 -6-0.1M362.7 307l5.5 0.2 5.2 1.8M374.9 310.7l-0.8-0.9 -0.7-0.8M415.8 405.6l2.2 3.6 1.1 3.8 0.2 4.1 1.5 3.8 1.7 3.7 0 4.2 0.2 4M415.8 405.6l-4 1.1 -3.6 1.8 -3.7 1.5 -3.8 1.6M400.7 411.6l-1.4 4.2 -0.6 4.6 -1.4 4.3 -0.5 4.5 -1.9 4.2M422.7 432.8l-3.5 2.5 -3.3 3.1 -3.9 1.8 -4.4 0.9 -3.6 2.4M404 443.5l-2.1-4.2 -3.5-3 -3.5-2.9M421 399.4l-2.4 3.3 -2.8 2.9M428.1 434.9l-2.9-0.5 -2.5-1.6M385.8 404.4l4 1.1 4 1.3 3.5 2.3 3.4 2.5M369.9 435.3l4.1-0.8 4.2 0.5 4.3 0.1 4.2 0.6 4.1-1.5 4.1-0.8M404.9 461.6l-1.2-4.5 0.6-4.6 -0.7-4.5 0.4-4.5M541.9 468l3.7 3.4 3.4 3.7 4 2.9M541.9 468l-3.6 2.4 -4.5 1.2 -3.1 3.3 -3.8 2.1M532.7 490.1l4.5 0.6 4.5-0.4 4.5 0 4.3-1.5M524.5 452.5l4.3 2.3 4.3 2.2 4.2 2.5 4.1 2.6M517.7 474.9l4.5 1.4 4.7 0.7M541.4 462.1l0 2.9 0.5 3M526 501.8l2.2-3.9 2.6-3.7 1.9-4.1M554.2 498.3l-1.5-4.9 -2.2-4.6M113 217.5l1.7 4.4 2.8 3.7 2.9 3.7 2.4 4 1.2 4.6M150.4 218.3l-0.5 1.6 0.4 1.6M150.3 221.5l-3.6 2.4 -3.4 2.8 -4 1.7 -4.1 1.8 -3.1 3.2 -3.8 2.1 -3.6 2.4M124 237.9l0.3 0.4 0.4-0.4M91.3 243.5l-4.5 1.6 -4.3 2.1M91.3 243.5l4.7 0.2 4 2 3.9 2 3.4 3.1 4.2 1.5M82.5 247.2l-2 3.8 -1.6 3.9 -0.8 4.2 -0.8 4.3 -1.6 3.9M111.5 252.3l0.6 5.1 -0.1 5.2M112 262.6l-2.9 2.9 -2.5 3.3 -4 1.5 -3.4 2.2 -3 2.7M77.3 271l-1.1-1.7 -0.5-2M64.2 231.8l3.7 2.9 3.9 2.9 2.7 4.2 4.2 2.5 3.8 2.9M95.1 221l-0.6 4.5 0.2 4.7 -1.9 4.3 -0.8 4.5 -0.7 4.5M124 237.9l-3.4 3.4 -2.9 3.8 -3.1 3.6 -3.1 3.6M57.1 260.3l4.6 1.9 4.6 1.8 4.9 1 4.5 2.3M102.6 295.9l-1.7-4 -0.8-4.3 -1.3-4.1 -2-3.9 -0.6-4.4M111.1 300.5l4-1.9 3.8-2.3 3.6-2.6M122.5 293.7l-0.7-4.5 0.6-4.4 1.5-4.3 -0.5-4.4 0.6-4.4M124 271.7l-4-3 -4.2-2.8 -3.8-3.3M66.5 293.4l2.3-3.5 2.3-3.5 2.6-3.4 2.2-3.5 0.4-4.4 1-4.1M547.4 374.8l-3.8 1.4 -4.2-0.3 -3.8 1.2M547.4 374.8l0.1-5.2 1.5-5 1.2-5M535.6 377.1l-2.9-3.3 -2.2-4 -1.8-4.2 -3.3-3 -2.1-4 -3.9-2.6M546 352.8l1.8 3.6 2.4 3.2M546 352.8l-4.8-0.9 -4.5-1.9 -4.5-1.8M532.2 348.2l-3.8 3.4 -4.7 1.8 -4.3 2.6M554.8 381.9l-3.2-4.1 -4.2-3M529.3 384.1l2.8-3.8 3.5-3.2M567.3 356.5l-4.3 0.2 -4.4 0.4 -4.3 0.6 -4.1 1.9M515.7 356.1l1.9 0.1 1.8-0.2M554.6 337.5l-2.3 3.8 -2.3 3.7 -1.2 4.4 -2.8 3.4M550.9 330.4l-5.4-1.4 -5.3-1.8M532.2 331.2l-0.5 4.2 1.8 4.3 0.3 4.2 -1.6 4.3M561.2 317l-0.4-1.3 0.6-1.3M541.5 314.6l3.3-3.3 4.3-1.8M549.1 309.5l4.4 0.8 4 1.9 3.9 2.2M546 295l0 0.3 0.3 0M549.1 309.5l0-4.9 -1.6-4.7 -1.2-4.6M579.6 493.5l0.2-3.8 1.6-3.4M553 478l4.5-1 4.1-2.1 4.1-1.9M581.4 486.3l-3-2.8 -3.2-2.6 -2.8-3 -3.5-2.2 -3.2-2.7M608.8 489l-4.3-0.7 -3.9-2.1 -4.3-0.7 -3.9-2.1 -4.3-1M581.4 486.3l3.3-2 3.4-1.9M653.4 435.9l-4.1 1 -4.2 0.9 -4.3 0.5 -4 1.4 -3.9 1.7M625.1 429.2l0.5 3.2 0.3 3.4M632.9 441.4l-3.5-2.8 -3.5-2.8M635.5 463l-1.2 0.2 0.6-1.1M632.9 441.4l0.6 4.1 1.9 4 -0.2 4.2 -1 4.3 0.7 4.1M634.9 462.1l-4.1-0.5 -4.1-0.5 -4.3 1.1 -4-1 -4.3 1.2 -4-1.6 -4-1.3M571.3 409.1l2.1 3.9 2 4 3.4 3.2 2.5 3.6 1.7 4.3M603.4 416.8l-3.5 3.7 -2.3 4.4M583 428.1l4.9-1.1 4.8-1.2 4.9-0.9M597.6 424.9l1.3 4.6 2.1 4.2 1.7 4.5 1.3 4.6 1.4 4.5M588.1 482.4l1.3-4.2 1.8-4.1 0.6-4.3 1.6-4.1 0.8-4.3 1.1-4.3M606.1 459.5l-2.1-2.2 -2.6-1.6M595.3 457.1l3.2 0 2.9-1.4M601.4 455.7l1.6-4.4 2.4-4M403.1 303.9l-5.7-0.3 -5.7 0.4M403.1 303.9l1.4-4.9 3.7-3.6M408.2 295.4l-3.9-3.7 -4.1-3.3M387.9 291.7l1.3 4.1 0.5 4.4 2 3.8M407.5 313.7l-1.7-5.1 -2.7-4.7M386.9 311.1l2.3-3.7 2.5-3.4M411.5 294.6l-1.7 0.4 -1.6 0.4M402.3 261.5l4 1.6 4.1 1.4 4.1 1.3M402.3 261.5l-1.9 3.7 -2.6 3.2 -2.7 3.1M395.1 271.5l3.2 3.3 3.4 3.3M401.7 278.1l5.4 0.1 5.2-1M414.5 265.8l-1.6 5.6 -0.6 5.8M419.7 262.8l-2.9 1 -2.3 2M401.4 256.7l1.3 2.3 -0.4 2.5M382 264.7l1.4 4.1 2.8 3.3M386.2 272.1l4.4-0.1 4.5-0.5M416.8 282l-2.8-1.9 -1.7-2.9M400.2 288.4l1.2-5.1 0.3-5.2M335.4 622.1l-4.2 0.6 -4.1 0.3 -4.2 0.2 -4.2 0.5 -3.9 1.7M335.4 622.1l2.7 3.2 2.5 3.4 2.7 3.2 3.5 2.5 2.5 3.5M346.5 644.7l0.8-3.7 2-3.1M346.5 644.7l-3.9 0.7 -3.8 1.5 -3.7 1.5 -4 0.6 -4 0.5 -4 0.5 -4 0.6 -3.7 1.7M369.7 628.7l-4.1 1.7 -3.9 2.2 -4.1 1.8 -4.2 1.6 -4.1 1.9M340.4 600.9l-0.9 4.3 -0.1 4.4 -1.4 4.2 -1.4 4.1 -1.2 4.2M353.4 667.1l-1.7-4.4 -1.7-4.4 -2.2-4.2 -0.9-4.6 -0.4-4.8M312.1 656.9l1.9-2.1 1.4-2.5M287.1 621.2l3.7-2.1 4-1.4 4.4-0.4 3.5-2.5M302.7 614.8l3.4 2.2 3.1 2.6 3.1 2.5 2.5 3.3M322.1 574l0.5 4.9 0 4.9 0.6 4.9 1.6 4.8M322.1 574l-4.4-0.1 -4.4 0 -4.5 1.1 -4.4-0.2 -4.5 0.1M324.8 593.5l-3.7 2.7 -4.1 2.1 -3.4 3.2 -4.2 1.9 -4 2.2M305.4 605.6l-1.3-4 -1.5-3.9 -3.3-2.7 -1.5-3.9 -3.5-2.6 -1.7-3.8M299.9 574.9l-3.2 2.7 -2 3.6 -2.1 3.5M327.7 565.3l-2.8 4.3 -2.8 4.4M340.4 600.9l-3.9-1.9 -4.3-0.9 -4-1.9 -3.4-2.7M293.3 553.2l0.8 4.5 0.2 4.7 1.9 4.1 1.6 4.3 2.1 4.1M302.7 614.8l1-4.7 1.7-4.5M282.9 584.7l4.8-0.7 4.9 0.7M599.3 286.8l5.1 0.2 5.2 0 5.1-0.8M599.3 286.8l1.6 5.1 1.2 5.1 0.2 5.3M614.7 286.2l-0.2 4 0.1 4.1 -0.5 4 0 4.1 0.1 4M602.3 302.3l3.5 2.2 4 1 4 1.2M613.8 306.7l0.2-0.1 0.2-0.2M598.3 286.2l0.4 0.5 0.6 0.1M625.4 305.6l-5.6 0.7 -5.6 0.1M610.5 320.5l1-4.6 1.6-4.5 0.7-4.7M597.1 322.2l-1.1-5.2 -1.2-5.2 -2.1-4.9M592.7 306.9l4.9-2.1 4.7-2.5M279.9 305.5l4.7 1 4.6 1.5M279.9 305.5l1.6-4.6 -0.4-4.9 0.6-4.7M281.7 291.3l4.1-0.7 4.1-0.2 4.1 0M289.2 308l3.6-2.6 2.8-3.3 3.5-2.7M294 290.4l2.6 4.5 2.5 4.5M324.5 281.3l-3.6 3.3 -3.6 3.3 -4.5 2.1M312.8 290l-0.8 0.9 0.6 1.1M322.2 308.1l-5-0.7 -5 0.8 -5 0.4M307.2 308.6l-3.2-4 -2.3-4.6M312.6 292l-3.2 3.2 -4.5 1.5 -3.2 3.3M249.7 380.2l0-4.3 1.1-4.1 0.2-4.3 0.6-4.2 -0.4-4.2 0.1-4.2 -0.5-4.3M283.1 361.1l-3.4-3 -2.1-4 -2.8-3.5M274.8 350.6l-4-0.6 -4 0.1 -4 0.3 -4-0.3 -4 0.9 -4-0.4M237.3 344.3l5.2 2.2 5.5 1.5M250.8 350.6l-1.3-1.4 -1.5-1.2M272.6 309.4l-0.4 4.1 -0.3 4.2 -0.4 4.1M272.6 309.4l-3.9-1.6 -2.5-3.5 -3.6-2M251.2 316.7l0.6-4.5 1.1-4.4 1.5-4.3M251.2 316.7l4.3 4 4.1 4.2M259.6 324.9l4.1-0.4 4-1 3.8-1.7M230.8 307.5l4.5-1.8 4.5-1.8 4.8-1.2 3.9-3.2M248.5 299.5l2.7 2.3 3.2 1.7M314.6 267l-2.6-0.3 -2.5 0.2M312.8 290l-3.9-2.3 -3-3.3 -2.1-4M309.5 266.9l-2 4.5 -2.3 4.3 -1.4 4.7M294 290.4l1.9-3.6 1.3-3.9M299.1 299.4l1.4-0.1 1.2 0.7M303.8 280.4l-3.4 1.2 -3.2 1.3M309.5 266.9l-3.6-2.6 -3.2-3.1M297.2 282.9l-3-2.8 -3.5-2.1 -2.9-2.9 -2.6-3.1M287.2 239.8l1-0.3 0.5-0.9M287.2 239.8l-1 4.3 -0.6 4.3M288.7 238.6l4.4-0.2 4.3 0.2 4.3-1M308.5 244.5l-2.4 4.7 -2.3 4.7 -1.9 4.9M285.6 248.4l3.8 2.9 4.1 2.6 4.6 1.9 3.8 3M216.9 294.8l1.4 5.5 1.9 5.4M248.5 299.5l-2-3.7 0.2-4.2 -0.7-3.9M246 287.7l-3.8-2 -4-1.4 -3.7-2.2M269.6 126.3l-0.3 4.5 -1 4.4 0.1 4.4M239.3 144.6l4.1 2.8 4.3 2.1 4.8 1.4 4.2 2.5M256.7 153.4l3.2-3.2 2.8-3.5 3.4-3 2.3-4.1M295.7 145.6l-3.8 1 -3.9 0.8M268.4 139.6l4 1.2 4 1.6 3.7 1.9 3.9 1.7 4 1.4M433.4 199.9l-2.3-3.7 -2.5-3.7 -2.6-3.6 -1.5-4.2M467.3 185l-4-1.2 -3.9-1.3 -3.9-1.7 -3.9-1.2 -3.9-1.5M447.7 178.1l-1.3 1.2 -1.1 1.5M424.5 184.7l0.3-2.1 1.5-1.6M445.3 180.8l-4.8 0.5 -4.7-1.2 -4.8 0.8 -4.7 0.1M553.2 63l-2.1 3.8 -2.7 3.6 -2.8 3.4 -2 4 -3.3 3.1 -1.7 4.2 -2.2 3.8M546.7 96.2l-2.8-3.3 -3.8-1.9 -3.7-2.1M558.6 110.6l-3.8 0.1 -3.7-0.7M546.7 96.2l1.5 4.6 2.7 4.2 0.2 5M575.5 122.7l2.8 3.1 2.9 3.1 3.2 2.7 2.6 3.3M569.8 124.7l-3.8 3.6 -2.8 4.4M567.8 142.8l-1.9-3.6 -2.7-3.1M587 134.9l-2.2 3.9 -3.1 3.1 -3 3.3M563.2 132.7l0 1.7 0 1.7M607.6 142.9l1-4.9 1-4.8 0.4-5M607.6 142.9l-5.4-0.2 -5.3 0.2M590 135l3.2 4.1 3.7 3.8M590 135l2.2-3.6 2.9-3 2.3-3.4 3.4-2.7M610 128.2l-3.9-2.6 -2.8-3.8M600.8 122.3l1.1-0.9 1.4 0.4M604.6 161.8l1.6-3.7 2.1-3.5 0.4-4.3 2.1-3.5M590.3 156.3l1.9-4.6 3.5-3.8 1.2-5M610.8 146.8l-1.1-2.4 -2.1-1.5M587 134.9l1.5 0.6 1.5-0.5M585.7 114.7l3.4 2.6 4.1 1.2 3.5 2.6 4.1 1.2M607 110.9l-2.7 5.2 -1 5.7M626 127.2l-5.3 0.3 -5.3 0.9 -5.4-0.2M625.7 165l3-3.3 3.1-3 3.1-3.1 3.2-3 2.3-3.8M625.7 165l-1.7-4.4 -2-4.2 -2.6-4 -0.8-4.8M618.6 147.6l3.6-2.1 3.1-2.9 3.3-2.4M628.6 140.2l5.1 3.3 5.5 2.4M639.2 145.9l0.9 1.4 0.3 1.5M625.7 165l0 0 0 0M644.2 151.2l-2.1-0.9 -1.7-1.5M610.8 146.8l3.9 0.8 3.9 0M649.4 130.4l-2 4.2 -4 2.9 -1.9 4.4 -2.3 4M385.3 273.7l0.5 4.4 -0.5 4.5 0.3 4.3 1.4 4.3M385.3 273.7l-4.9 1.2 -4.6 1.8 -4.4 2.5 -4.3 2.4M387 291.2l-5.2 1.5 -5.4 1M376.4 293.7l-4.3-3.8 -4.8-3.1M386.2 272.1l-0.7 0.7 -0.2 0.9M387.9 291.7l-0.5-0.2 -0.4-0.3M361.6 275l2.9 3.1 2.6 3.5M373.4 309l1.5-5 0.6-5.2 0.9-5.1M357 296.4l3-3.7 3.3-3.4 4-2.5M153.9 282.3l-3.8 2.7 -3.1 3.6 -3.8 2.7 -3.8 2.8 -3.6 3M153.9 282.3l2.9 3.4 2.7 3.5 0.1 4.6 1.5 3.9 1.6 4 0.8 4.2M135.8 297.1l1.3 3.8 1.3 3.8 1.7 3.7 2.1 3.6 1.2 3.8 1.2 3.9M163.5 305.9l-3.8 2.8 -3.8 2.7 -3.7 2.8 -4 2.5 -3.6 3M143.8 322.2l1.3-1 -0.5-1.5M122.5 293.7l4.5 0.7 4.4 1.3 4.4 1.4M180.3 309.4l-4.1-1.3 -4.4-0.1 -4.1-1.4 -4.2-0.7M180.3 309.4l2.5 3.6 0.6 4.3M124 271.7l4.7-0.8 4.6-1.1 4.5-1.7 4.8 0.1 4.6-1M153.9 282.3l1.2-2.5 0.2-2.8M155.3 277l-2.6-3.4 -3.2-2.8 -2.3-3.6M124.7 237.9l2.6 3.4 3.7 2 2.8 3.2 3.3 2.6 3.9 1.8 3.8 1.9 2.7 3.3M147.2 267.2l-0.1-5.6 0.4-5.5M147.5 256.1l3.8-2.9 2.6-4.1 3.4-3.2 3.2-3.4 3.2-3.5M205.9 178.7l0.2 5 -1.3 4.9 -0.5 4.9M231 206.3l1.8-3.9 1.4-3.9 1-4.2 2.1-3.7 1.6-3.9 1.8-3.8M218.8 172.9l3.6 1.6 3.7 1.7 3.7 1.4 3.8 1.3 3.4 2.3 3.7 1.7M204.3 193.5l2.6 3.8 3 3.4 3 3.4 4.1 2.2 3.5 2.9M168.7 199.9l3.6 3.3 4.4 2 3.9 2.8 4.6 1.8M204.3 193.5l-3.3 2.6 -2.7 3.3 -3.2 2.7 -3 2.9 -3.2 2.8 -3.7 2M163.7 239l1.3-0.3 1.3 0.5M166.3 239.2l3.6-2.2 2.8-3.1 3.9-1.9 1.8-4.1 3.2-2.8 2.7-3.1 3.3-2.6M185.2 209.8l2.1 4.6 0.3 5M568 259.5l1.9 4.2 1.5 4.3 0.5 4.7M552 275.3l3.9 2.6 4 2.5 4.3 1.8M564.2 282.2l2.2-3.5 2.9-2.9 2.6-3.1M589 267.1l-3.1 4.3 -3.1 4.3M598.3 286.2l-5.7 1 -5.9 0M586.7 287.2l-1.6-3.7 -1-4 -1.3-3.8M571.9 272.7l5.4 1.7 5.5 1.3M577.8 310.3l2.7-3.4 2.2-3.7M577.8 310.3l-4.9 1.2 -5 0.8 -5 0.7M582.7 303.2l-0.9-4.4 -0.9-4.4M580.9 294.4l-5-1.3 -5.1-1.2 -5-1.5M562.8 293.2l1.2-1.7 1.8-1.1M581.6 321.2l-2.4-5.3 -1.4-5.6M592.7 306.9l-5-1.9 -5-1.8M561.4 314.4l1.1-0.3 0.4-1.1M586.7 287.2l-2.6 3.8 -3.2 3.4M564.2 282.2l0.1 4.3 1.5 3.9M577.7 438.6l1.6 3.8 2.2 3.4 1.6 3.8 1.8 3.6M577.7 438.6l-4.6-0.3 -4.5-0.6 -4.5-1.2 -4.6 0.8M584.9 453.2l-4.4 2 -4.1 2.5 -3.9 2.8 -4 2.6M568.5 463.1l-3.5-2.9 -3.1-3.2 -4.1-2.2 -2.9-3.4 -2.3-4.1M559.5 437.3l-3.2 4.9 -3.7 4.6M552.6 446.8l-0.1 0.2 0.1 0.3M583 428.1l-2.9 5.1 -2.4 5.4M557.9 431.4l0.2 3.1 1.4 2.8M565.7 473l1.1-5 1.7-4.9M530.4 435.7l3.9 1.6 3.6 2 4.1 0.9 3.6 2 3.4 2.5 3.6 2.1M293.3 317.2l4.8 0.7 4.8 0.6M293.3 317.2l-2.8 3.9 -3.3 3.5 -2.8 3.9 -2.8 3.9M281.9 333.5l4.4 0.4 4.5 0.2 4.1 2.3 4.4 0.5 4.4 0.3M302.9 318.5l1.6 4.1 3.1 3.1 2.5 3.5M303.7 337.2l3.4-3.8 3-4.2M307.2 308.6l-2.5 4.8 -1.8 5.1M289.2 308l2.2 4.5 1.9 4.7M279.9 305.5l-3.8 1.6 -3.5 2.3M271.5 321.8l3.9 3 3.3 3.6 2.9 4M274.8 350.6l1.4-4.5 2.2-4 1.7-4.3 1.8-4.3M306.7 355.3l-0.7-4.6 -0.7-4.5 -0.9-4.5 -0.7-4.5M316.3 328.2l-3 1 -3.2 0M281.7 291.3l-1.8-2 -1.7-2.1M285.2 272l-0.1 0.1 -0.1-0.2M278.2 287.2l1.2-4 0.9-4.2 2.3-3.5 2.4-3.6M262.6 302.3l1.5-3.9 0.8-4.1 0.5-4.1 1.6-3.9M278.2 287.2l-5.6-0.2 -5.6-0.7M288.7 238.6l0.9-4.1 0.8-4.1 0.6-4.2 0-4.2M306.2 225.1l-3.9-1.6 -3.2-3.2 -4.5-0.3M291 222l1.3-2 2.3 0M287.2 239.8l-4.6-2.4 -4.2-3.2 -4.5-2.6M273.9 231.6l2.6-4.1 1-4.7 1.9-4.4M291 222l-3.9-1 -3.5-2.3 -4.2-0.3M387 86.6l0.2 4.5 0.9 4.4M358.6 98.5l3.5 3 3.2 3.4 4.4 1.7 4.1 2.1 3.6 2.8M377.4 111.5l2.2-4.3 2.6-4.1 3.4-3.5 2.5-4.1M413.4 102l-4.2 2.3 -4.2 2.2 -4.4 1.9M388.1 95.5l2.9 3.5 2.9 3.4 3.9 2.4 2.8 3.6M357.3 119.8l3.6 2.1 4.1 0.8 3.7 1.8M377.4 111.5l-0.1 3.4 1.1 3.2M368.7 124.5l4.6-3.6 5.1-2.8M400.6 108.4l-0.4 1.4 -0.2 1.5M400 111.3l-3.4 2.7 -3.8 2.2 -3.9 2 -2.5 3.9M378.4 118.1l4.2 1.6 3.8 2.4M413.6 190.4l-2.1-3.8 -2.9-3.1 -2.6-3.3M426.3 181l-1.3-4.9 -1.7-4.7M423.3 171.4l-4.5-1.2 -4.5-0.2 -4.5 0.4M406 180.2l0.9-5.3 2.9-4.5M348.5 178.1l3.8-2.4 4.2-1.6 3.8-2.5 3.7-2.5M356 192.1l3.6-2.2 3.9-1.7 3.5-2.3M364 169.1l1.7 0.3 0.3 1.7M367 185.9l0.8-5 -1-4.9 -0.8-4.9M438.1 151.4l-4.1 4.1 -3.9 4.3M438.1 151.4l6 0.8 5.9-1.3M430.1 159.8l3.8 2.1 3.1 3.1 3.5 2.6 3.5 2.6 3.8 2.2M450.9 151.5l0-0.8 -0.9 0.2M450.9 151.5l1.8 4 0.3 4.4 1.3 4.1M454.3 164l-3 4.3 -3.5 4.1M447.7 178.1l-0.4-2.9 0.5-2.8M429.2 160l0.4-0.4 0.5 0.2M429.2 160l-1.8 3.9 -2.4 3.6 -1.7 3.9M450.4 137.2l-0.4 4.6 -0.6 4.5 0.6 4.6M464.1 147.6l-4.3 1.4 -4.4 1.6 -4.5 0.9M463.2 164.6l-4.4-0.4 -4.5-0.2M478.5 109.8l1.7 0.7 1.5 0.9M478.5 109.8l0.3-4.4 -1.4-4.3 -0.1-4.4 0.8-4.5 -1.2-4.3 -0.8-4.4M481.7 111.4l3.8-1.9 3.7-2 3.8-1.7M476.1 83.5l3.1 3.4 4.4 1.8 3.1 3.4 3.5 2.9 3 3.6M493.2 98.6l-0.8 3.5 0.6 3.7M468 112.2l5.1-1.8 5.4-0.6M480.1 128.1l2.8-2.3 1.9-3M484.8 122.8l-0.6-5.9 -2.5-5.5M475.8 83l0.1 0.3 0.2 0.2M563.2 136.1l-4.2 1.8 -3.5 2.8 -3.1 3.5 -4.2 1.9M518.2 165.8l4.4-0.4 4.3-0.9M518.2 165.8l-3.7-3.1 -2.6-4.2M511.9 158.5l1.2-4.8 1.7-4.7 2.3-4.4 2.2-4.4M526.9 164.5l1.3-4.4 1.2-4.5 2.6-4M532 151.6l-3-4 -2.1-4.6M519.3 140.2l3.8 1.3 3.8 1.5M515.8 170.9l1.7-2.3 0.7-2.8M532.1 168.5l-2.4-2.1 -2.8-1.9M497.6 159.1l2.1-1.5 2.4-0.9M502.1 156.7l4.8 1.7 5 0.1M546.8 151.4l-4.9-0.3 -5-0.1 -4.9 0.6M539.7 133.3l2.4 4.6 2.5 4.5 3.6 3.7M539.7 133.3l-3 2.7 -3.5 2 -2.9 2.8 -3.4 2.2M563.2 132.7l-4.2-1.2 -4.1-1.4 -3.3-3.1M539.7 133.3l0.1-0.3 0-0.3M539.8 132.7l3.7-2.4 4.1-1.5 4-1.8M551.1 110l-1.2 1.7 -1.2 1.7M155.3 277l4-0.9 4.1-0.2 4-0.6 3.8-1.7 4.2 0.5M166.3 239.2l2.9 3.3 2.5 3.7 3.2 3 3.1 3.1 3.6 2.6M180.3 309.4l2.4-4.1 1.8-4.4 2.3-4.2 1.7-4.5 2.1-4.2M175.4 274.1l3.1 2.7 3.2 2.6 4.3 1.4 3 2.8 1.6 4.4M216.9 294.8l-3.4-4.3 -4.9-2.2 -4.5-2.7M204.1 285.6l-4.6 0.4 -4.4 1.1 -4.5 0.9M246 287.7l3.5-2.3 3.2-2.8 3.7-1.9 3.6-2.1M235.4 265.7l4.2 2.1 4.7-0.5 4.5 0.9 4.5 0.7M267 286.3l-3.2-3.5 -2.7-4M260 278.6l0.5 0.5 0.6-0.3M304 195.4l-4.2 0.3 -4.2 0.6 -4.2-0.2M304 195.4l2.3 4.6 2.8 4.3M309.1 204.3l-0.1 0.9 -0.3 0.8M308.7 206l-4.1 2.2 -4 2 -4.6 0.6M296 210.8l-3.3-3.6 -3.6-3.5M322.7 198.1l-4.3 2.7 -5 1 -4.3 2.5M321.1 185.2l-4.2-0.6 -4.3-0.1 -4.2-1.2M308.4 183.3l-1.4 4 -1.6 4 -1.4 4.1M315.8 221.4l-2.3-3.6 -1.9-3.8 -1.5-4 -1.4-4M279.4 218.4l-2.3-4.5 -2.4-4.6M274.7 209.3l4.7-2.1 4.9-1.8 4.8-1.7M282 166.5l-1.6 1.5 -2 0.8M282 166.5l4.3 0.1 4.3 1 4.3-0.7 4.3 0.1 4.3 0.2M278.4 168.8l1.7 4.4 2.3 4 2.9 3.6 2.2 4.1M287.5 184.9l4-2.1 4.1-1.7 3.9-2.2 4.2-1.6M303.5 167.2l-1.1 5.1 1.3 5M256.7 153.4l0.5 4.8 0.8 4.8 1.1 4.7M288 147.4l-1 3.9 -1.9 3.6 -1.1 3.8 -1 3.9 -1 3.9M259.1 167.7l4.7 1.2 4.9-0.5 4.8 0.5 4.9-0.1M304.4 165.7l-0.2 0.9 -0.7 0.6M308.4 183.3l-2.7-2.7 -2-3.3M286.6 187.8l1.4-1.2 -0.5-1.7M286.6 187.8l1.6 4.6 3.2 3.7M245.6 181.7l2.9-3 3-2.8 2.9-3 3.3-2.5M261.9 208l3.7-0.4 3.7-0.9M240.7 182.9l2.6 0.2 2.3-1.4M259.1 167.7l-0.2 1.6 -1.2 1.1M248.6 222.1l1.7-0.8 1.7-0.5M248.6 222.1l-4.1-2.6 -3.5-3.1 -4.1-2.5 -3.4-3.3 -2.5-4.3M252 220.8l2.5-3.1 2.8-3 1.8-3.8 2.8-2.9M274.7 209.3l-2.8-1 -2.6-1.6M252 220.8l3.3 2.4 2.8 3 3 2.8 3 2.6 4.1 1.3M273.9 231.6l-2.7 1.2 -3 0.1M351.9 136.1l3.4 1.7 3.4 1.7M346.6 156.1l4.5 0.2 4.6 0 4.5-0.4M360.2 155.9l-1-4.1 0.4-4.1 0-4.1 -0.9-4.1M364 169.1l-0.3-5.9 -1-5.7M360.2 155.9l1.1 1 1.4 0.6M368.7 124.5l0.1 4.5 -0.6 4.4M358.7 139.5l4.8-2.9 4.7-3.2M387.6 170.6l2.6 3.8 3.1 3.3 2.2 4M383.1 173.1l-1.5 4.2 -1.5 4.2 -1.1 4.4 -1.6 4.2M393.9 188.9l2.2-3.3 -0.6-3.9M377.4 190.1l1.4 1.1 0.3 1.8M379.1 193l0.4-0.4 0 0.6M367 185.9l5.2 2.2 5.2 2M366 171.1l4.3 1 4.1 1.3 4.4-0.6 4.3 0.3M399.9 196.7l-3.9-3.2 -2.1-4.6M388 206.8l-2.2-3.3 -2.2-3.4 -2.4-3.2 -1.7-3.7M406 180.2l-5.2 0.9 -5.3 0.6M370.2 202.8l3-3.3 2.3-3.8 3.6-2.7M419.2 108.3l-0.1 4.1 -1.2 3.9 -0.8 3.9M400 111.3l2.5 3.7 2.1 4 3.2 3.2M417.1 120.2l-4.7 1.2 -4.6 0.8M362.7 157.5l3.6-2 3.7-1.7 3.9-1.4 3.9-1.2M368.2 133.4l2.5 3.7 3.3 3.1 4.1 2.1 2.8 3.5M377.8 151.2l1-3 2.1-2.4M387.6 170.6l0.6-0.2 -0.3-0.5M377.8 151.2l3.2 3.1 3.1 3.2 2 3.7 0.9 4.4 0.9 4.3M409.8 170.4l-3.6-4.7 -3.8-4.6M387.9 169.9l4.5-0.7 3.4-2.6 3.7-2.1 2.9-3.4M429.2 160l-3.3-3.5 -3.5-3.2 -4.1-2.3M418.3 151l-4.1 0.8 -3.6 1.9 -3.6 1.8 -3.7 1.7M498.7 109.6l5.1-1.3 4.7-2.4M498.7 109.6l-3.1-1.6 -2.6-2.2M508.5 105.9l-0.2-4.3 -0.4-4.3 0.7-4.3 -0.1-4.3M536.4 88.9l-2.5 1.2 -2.8-0.1M531.1 90l-3.1-2.8 -3.7-1.8 -4.1-1.2 -4.1-1 -3.2-2.9M512.9 80.3l-2.9 3.8 -1.5 4.6M484.8 122.8l4.2 2 4.5 0.2 4.4 0.5M498.7 109.6l0.8 4.6 -0.4 4.7 1.1 4.6M497.9 125.5l1.5-0.6 0.8-1.4M497.9 125.5l-0.3 4.1 0.5 4.1 -0.1 4.1M502.1 156.7l1.6-4.1 0-4 -1.3-4 -0.8-4M498 137.8l1.5 1.8 2.1 1M519.3 140.2l-0.1-0.7 -0.6-0.3M196.1 250.8l4.5 1.8 3.5 3 2.9 3.7 3.2 3.3M196.1 250.8l1.4-4.2 1.6-4.1 -0.1-4.5 0.8-4.3 1.6-4.2M213.1 227.2l-5.8 1.5 -5.9 0.8M213.1 227.2l3.5 2.8 3.7 2.5 3.3 2.9 3.2 3.1 3 3.5 4.2 1.7M210.2 262.6l4-1.1 3.5-2.6 3.7-2 4.5 0.3 3.7-1.9M204.1 285.6l0.8-4.7 1.4-4.6 2.4-4.3 0.8-4.7 0.7-4.7M181.6 254.9l4.8-1.4 4.8-1.5 4.9-1.2M187.6 219.4l3.5 2.4 3.9 1.9 3 3.1 3.4 2.7M237.1 242.1l-1 1.7 -2.1-0.1M237.1 242.1l2.3-4 2.2-4.1 1.8-4.3 2.5-3.9 2.7-3.7M235.4 265.7l-3.4-4.9 -2.4-5.5M237.1 242.1l3.7 2.4 3.9 1.8 4 1.6 4 1.5 4.3 0.7 4.1 1.4M253.3 268.9l2.3-4.2 1.3-4.6 1.9-4.4 2.3-4.2M280 267.6l-3.9-0.2 -3.9 0.4M280 267.6l1-4.3 1.1-4.4 1.1-4.3 0.2-4.5M272.2 267.8l-2.8-4 -2.7-4.1 -2.4-4.2 -2.7-4M283.4 250.1l-4.9 0 -4.8 0.6 -4.8 0 -4.8-1.2M264.1 249.5l-1.6 0.6 -0.9 1.4M285 271.9l-2.6-2 -2.4-2.3M285.6 248.4l-1.6 0.3 -0.6 1.4M261.1 251.5l0.2 0.1 0.3-0.1M268.2 232.9l-2 3.9 -2.2 3.9 0.2 4.4 -0.1 4.4M423.5 126.4l-1.2 5.2 -0.8 5.4M423.5 126.4l4.2-1.6 3.9-2.1M421.5 137l4.4 1 4.2 1.8 4.7 0M431.6 122.7l3.3 3.3 3.8 2.5 3.4 3.2M442.1 131.7l-3.5 4.2 -3.8 3.9M435.9 109.4l-1.3 4.5 -1.4 4.5 -1.6 4.3M417.1 120.2l2.9 3.4 3.5 2.8M418.3 151l0.6-5.8 -0.1-5.9M438.1 151.4l-1.3-3.8 -1-3.9 -1-3.9M418.8 139.3l1-1.6 1.7-0.7M443.7 131.5l-0.8 0.6 -0.8-0.4M383 144.8l4.7 1 4.7 0.6 4.7 1.2M383 144.8l2.2-4.3 1.4-4.5 -0.1-5 1.9-4.4M388.4 126.6l3.9 1.4 4 0.7 3.9 1.1 3.6 2.2M403.8 132l0.1 1.5 1 1.1M380.9 145.8l0.8-1.1 1.3 0.1M386.4 122.1l1.4 2.1 0.6 2.4M418.8 139.3l-4.7-1.4 -4.5-2.1 -4.7-1.2M407.8 122.2l-1.9 4.9 -2.1 4.9M514.2 109.8l4.4-2.6 4.5-2.7 4.8-2M514.2 109.8l-1.2 4.4 0.2 4.2 1.2 4.3M518.4 125.9l-2-1.6 -2-1.6M518.4 125.9l4.5-1.8 4.4-2.3 4.6-1.5M527.9 102.5l1.6 5 1.8 4.9 2 4.8M531.9 120.3l1.4-1.2 0-1.9M508.5 105.9l3.1 1.6 2.6 2.3M531.1 90l-1 4.2 -1.4 4.1 -0.8 4.2M500.2 123.5l4.7 0 4.8-0.6 4.7-0.2M518.6 139.2l0.9-4.5 0-4.4 -1.1-4.4M539.8 132.7l-2.7-4.1 -2.4-4.2 -2.8-4.1M548.7 113.4l-5.1 1.5 -5 1.9 -5.3 0.4" fill="none" stroke="#cbcccc" stroke-width="0.65"/>
<path d="M293 100 L664 100 L664.4 263.8 L665.5 266.5 L663.6 267.7 L664.2 270.2 L663.7 272.7 L664.1 275.2 L663.1 277.3 L663.9 279.5 L664.5 282 L665.8 284 L666.1 286.5 L666.6 288.9 L665.6 291.5 L664.3 293.9 L663.3 296.2 L661.9 298.2 L660.2 300.1 L659 301.9 L658 303.8 L656.1 305.2 L655.2 307.1 L654 308.7 L652.6 310.1 L651.3 311.7 L650 313.2 L648.6 314.6 L646.6 315.5 L645.3 317 L643.9 318.4 L642.4 319.8 L640.6 320.7 L639.2 322.4 L637.8 324.2 L635.5 325 L634.4 327 L632.8 328.6 L630.8 328.6 L628.7 328 L626.7 328.9 L624.8 330 L622.7 329.8 L620.7 330.1 L618.8 330.4 L616.7 330.5 L614.7 330.8 L612.6 331.1 L610.7 331.7 L608.6 331.6 L606.5 331.6 L604.2 332.4 L602.8 334.4 L601 336.1 L599.3 337.9 L598 340 L596.9 341.7 L595.4 343.1 L594.3 344.7 L593.2 346.4 L591.9 348 L591.6 350 L591.2 352 L591.4 354.1 L590.3 356 L590.2 358.2 L590.6 360.4 L590.2 362.5 L589.1 364.1 L588 365.9 L586.6 367.4 L585 368.7 L584.1 370.3 L582.5 371.6 L580.8 372.7 L580 374.7 L578.9 376.5 L577.3 377.8 L576.5 379.7 L575.3 381.6 L573.7 383.2 L572.3 385 L571.1 386.8 L570.6 389.1 L568.6 390.6 L567.5 392.6 L566.3 394.5 L565.2 396.5 L564.8 398.9 L564.2 400.7 L564.9 402.7 L564.5 405.1 L565.2 407.1 L565.7 409.2 L566.2 411.3 L566.4 413.5 L567.4 415.3 L568.5 417 L570 418.4 L572 419.6 L572.8 422.1 L572.2 424.3 L571.4 426.5 L571.2 428.8 L571.2 431.1 L570.7 433.3 L569.7 435.5 L568.4 437.5 L567.3 438.9 L567.3 441 L566.7 443.3 L566.9 445.4 L567 447.5 L567.5 449.6 L568 451.7 L568.6 453.8 L569.2 455.9 L570.8 457.6 L571.7 459.6 L572.7 461.5 L572.9 463.8 L573.4 465.9 L573.8 468.1 L574.2 470.3 L575.4 472.2 L576.1 474.3 L576.5 476.5 L577.8 478.3 L578.5 479.9 L578.5 482.4 L578.9 484.9 L578.6 487.4 L578.5 489.9 L577.9 491.8 L577.5 493.8 L576.8 495.7 L577 497.8 L575.6 499.5 L573.6 500.6 L572.1 502.3 L570.7 504.1 L569 505.5 L567.1 506.8 L565.7 508.4 L564.5 510 L563.9 512.1 L562.8 513.9 L561.1 515.1 L559.7 516.7 L559 518.9 L557.9 521 L557 523.1 L555.8 525.1 L554 526.5 L554.1 528.6 L553.8 530.8 L553.9 533 L554.6 535.1 L554.9 537.3 L554 539.5 L554.6 541.7 L555.1 543.8 L554.7 546 L554.9 548.1 L555.2 550.2 L554.9 552.4 L555.8 554.4 L555.8 556.5 L556.4 558.6 L556.8 560.2 L558.2 561.8 L559.2 563.9 L560.6 565.5 L562.4 566.7 L564 568.3 L564.8 570.4 L566.2 571.9 L568.1 572.8 L569.2 574.7 L571 575.7 L573 576.5 L574.7 577.8 L574.7 580.3 L574.6 582.9 L574.8 585 L574.8 587 L574.6 589.1 L574.7 591.2 L574.1 593.1 L573.7 595 L573.3 597.1 L573.5 599.2 L573.4 601.3 L573.3 603.4 L573.3 605.5 L573.3 607.6 L572.9 610.3 L571.5 612.1 L569.6 613.5 L567.9 615 L566.7 617 L565 618.4 L563.2 620.2 L561.1 621.7 L559.9 623.6 L557.4 623.1 L554.9 622.6 L552.5 621.9 L550.5 622.2 L548.5 622.7 L546.6 623.3 L544.6 623.6 L542.7 624.1 L540.6 624.5 L538.7 625.3 L536.6 625.6 L534.6 626.3 L532.6 626.9 L530.6 627 L527.9 627 L525.3 627.7 L523.3 628.8 L521.3 628 L519.5 626.7 L517.7 625.5 L515.8 624.3 L513.7 623.7 L511.5 622.9 L509.3 622.3 L507.1 621.6 L504.9 621 L502.8 620.2 L500.4 620 L498.7 619.3 L496.2 618.8 L493.8 619 L491.3 618.5 L489.1 618.9 L487.1 619.3 L485.1 619.4 L483.2 620.2 L481.2 620.8 L479.1 620.2 L476.7 620.6 L474.3 621 L471.8 621.2 L469.6 621.1 L468 622.5 L466.2 623.8 L464.5 625.1 L463.1 626.9 L461.7 628.5 L461 630.7 L460.2 632.8 L459 634.7 L457.5 636.3 L456.2 638.1 L454.5 639.8 L452.8 641.5 L451.5 643.6 L449.4 645.3 L449.2 647.4 L448.9 649.4 L448.4 651.4 L446.5 652.2 L444.8 653.4 L443.1 654.7 L441.2 655.6 L439.2 656.3 L437.5 657.5 L435.8 658.7 L433.8 659.4 L431.8 660.3 L430.1 661.5 L428.9 663.3 L427.3 664.6 L425.7 666 L424.7 667.9 L422.8 668.8 L421.2 670.2 L419.5 671.5 L417.2 671.9 L415.5 673.2 L413.9 674.7 L412.2 675.9 L410.4 676.8 L408.1 676.8 L405.8 677.2 L403.6 677.8 L401.4 678.3 L399.1 678.7 L397.3 679 L395.5 680.2 L393.9 681.5 L392.2 682.8 L390.7 684.3 L388.9 685.9 L386.8 686.2 L384.7 686.7 L382.6 686.7 L380.6 687.5 L378.5 687.9 L376.5 688.4 L374.6 689.3 L372.4 689.4 L370.2 690.1 L368.3 691.7 L366 692.1 L363.6 692.5 L361.6 693.6 L359.5 693.9 L357.7 694.9 L356.2 696.2 L354.3 696.9 L352.5 698 L351 699.2 L349.7 701 L347.7 702.1 L346.1 703.4 L344.2 704.3 L343.1 706.4 L342.5 708.6 L341.8 710.9 L340.3 712.8 L338.9 714.9 L338.5 717.2 L338.4 719.5 L338.5 721.9 L338.1 724.2 L337.1 726.3 L336.6 728.5 L336.2 730.9 L335.9 733.3 L335.1 735.5 L334.7 737.9 L333.9 740.1 L333 742.3 L332 744.6 L331.6 746.9 L330.7 749.2 L329.6 751.3 L328 753.1 L327.1 755.3 L326.6 757.7 L325.2 759.7 L324.4 761.9 L322.5 763.7 L322.1 766.2 L321.8 768.4 L321.5 770.5 L320.9 772.6 L320.6 774.8 L320.6 777 L320.5 779.3 L319.3 781.4 L318.4 783.6 L317.5 785.8 L315.8 787.5 L314.3 789.2 L312.8 790.8 L311.8 792.8 L310.5 794.5 L308.8 795.8 L307.1 797.1 L305.2 798.1 L303.9 799.8 L302.7 801.6 L301.5 803.5 L301.5 806 L301.1 808.4 L300.3 810.6 L300.5 813.1 L300.8 815.5 L300.7 817.9 L301.6 819.9 L302.4 821.8 L302.6 824 L303.2 826 L303.1 828.1 L303.6 830.1 L304 832.5 L304.4 834.9 L305.8 836.7 L306.2 838.8 L307 840.8 L307.4 842.9 L307.7 845 L307.5 847.2 L308 849.3 L308.8 851.6 L310.3 853.4 L311.6 855.3 L312.8 857.2 L313.8 859.4 L315.1 861.1 L315.3 863.1 L315.2 865.2 L315.6 867.3 L314.8 869.3 L314.4 871.3 L314.2 873.3 L314.1 875.4 L314.3 877.4 L314.3 879.5 L313.8 881.5 L313.8 883.7 L313.6 886 L312.6 888.1 L311.8 890.2 L311.6 892.4 L311.2 894.6 L311 896.8 L310.3 899 L310.3 901.1 L310.1 903.1 L309.6 905.2 L309 907 L308.4 909.2 L307.7 911.2 L307.1 913.4 L306.6 915.6 L305.9 917.7 L305 919.7 L303.7 921.3 L303.1 923.3 L302.3 925.2 L301 927.2 L299 926.2 L297.1 925.2 L295.1 924.8 L293 925 L291 925.7 L288.9 925.7 L286.8 925.9 L284.8 925.9 L282.7 925.8 L280.7 925.4 L278.7 925.4 L276.6 924.9 L274.6 924.3 L272.6 923.8 L270.6 923.3 L268.6 922.5 L266.5 922.5 L264.5 922 L263.4 920.3 L261.7 918.9 L261 917 L259.8 915.3 L258.7 913.6 L257.6 911.9 L256.7 909.9 L256.5 907.4 L256.3 904.9 L255.6 902.5 L255.4 899.9 L252.7 899 L251.3 897.3 L250.1 895.6 L249.2 893.7 L248.1 891.9 L247 890 L245.8 888.3 L244.8 886.4 L244.2 884.3 L242.8 882.7 L240.9 881.6 L242.8 880.2 L244 878.2 L245 876.1 L245.9 873.9 L247.5 872.9 L247.7 870.6 L247.7 868.3 L247.1 866.2 L247 863.6 L245.4 862.3 L243.7 861 L242.2 859.6 L240.8 858 L239.3 856.6 L237.9 855 L235.4 854.6 L233.8 852.7 L231.6 851.8 L229.7 850.4 L227.4 849.4 L226.4 847.2 L225.3 845 L223.7 843.1 L222.9 840.8 L222 838.6 L220.4 836.9 L218.7 835.2 L217.5 833.2 L216.3 831.3 L215.7 829.4 L213.8 828.5 L212.1 827.1 L210.2 826.3 L208.2 825.8 L206.2 825 L203.4 824.2 L204 822 L204.9 819.4 L206.7 818.1 L208.4 816.9 L210.1 815.5 L212 814.3 L212.9 811.8 L214.2 809.5 L215.3 807.1 L215.9 804.9 L216.7 802.7 L217.2 800.5 L218 798.3 L217.7 796.2 L217.8 794.1 L217.4 792 L217.2 790 L218.2 788.1 L218.3 786 L218.3 784.3 L219.7 782.5 L220.5 780.3 L222 778.5 L223 776.8 L223.9 775 L225 773.2 L225.9 771.4 L227 769.7 L227.4 767.8 L229.4 766.4 L231.2 764.8 L233.2 764.3 L235 763.3 L236.6 761.8 L239.3 761.3 L241.9 760.3 L244.7 760.4 L247.4 759.9 L248.9 757.7 L250.8 756.5 L251.8 754.3 L252.5 752.1 L252.7 749.8 L253.6 747.1 L254.5 744.4 L255.3 742.2 L255.9 740 L256.3 737.4 L255.1 735.3 L254.5 733 L253.8 730.6 L252.1 728.8 L250.6 726.9 L248.7 725.5 L246.4 723.9 L244 722.6 L241.9 722.7 L239.9 723 L237.9 723.4 L235.6 723.9 L233.3 724.3 L231.1 725.2 L228.8 726 L226.6 727.2 L224.3 728 L222.1 728.7 L220 729.8 L217.5 730 L215.9 731.4 L214 732.5 L212.5 733.9 L210.7 736 L207.7 737.3 L205.5 735.8 L203 734.3 L201.8 732.3 L200.3 730.6 L199.2 728.6 L198.5 726.2 L197.1 724.5 L195.8 722.6 L194.1 720.7 L192.4 718.8 L190.5 717.1 L189.6 714.8 L188 712.9 L186.7 711.1 L185.2 709.3 L183.4 707.8 L182.2 706.1 L180.9 704.4 L179.7 702.5 L178.5 700.7 L177 698.9 L174.6 698 L173.3 696.1 L172.1 694.2 L170.7 692.3 L169.8 690.2 L168.5 688.6 L167.2 687.1 L165.4 685.9 L164.1 684.6 L162.2 683.1 L160.1 681.8 L157.8 680 L158.1 678 L158.3 676 L158.2 674 L159.1 671.9 L156.9 670.1 L155.1 667.9 L153.5 666.6 L152 665.2 L150.1 664.3 L148.1 663.7 L146.3 662.5 L144.6 661.5 L144 658.7 L143.9 655 L145.8 653.4 L147.6 651.7 L149.7 649.8 L151.8 649.1 L153.7 648 L156.3 647.8 L158.1 646.3 L160 644.9 L161.5 643.1 L162.5 641 L163.1 638.7 L163.3 636.4 L164 634.1 L164.3 632.1 L164.9 630.1 L165 628 L165.2 626 L165.7 624 L165.9 621.9 L166.2 619.9 L166.9 617.7 L168 615.5 L168.1 613.2 L168.7 611 L168.6 608.6 L168.9 606.5 L169.6 604.5 L170.3 602.5 L170.5 600.4 L171.2 598.4 L171.8 596.4 L172.7 594.5 L173.4 592.5 L173.8 590.4 L174 588.3 L174.5 586.2 L174.6 584.1 L174.2 582.1 L173.5 580.1 L173.2 578.1 L173 576.1 L173.1 574 L173.3 572 L172.9 570.1 L172.6 568 L172.5 565.9 L172.5 563.8 L172 561.7 L171.7 559.7 L171.1 557.7 L171 555.6 L170.4 553.6 L170.5 551.5 L169.8 549.5 L170.6 547.5 L171 545.4 L170.2 543.5 L169.6 541.5 L168.8 539.5 L167.9 537.6 L167.6 535.4 L167.2 533.4 L167.5 531.2 L167 529.2 L166.3 527.2 L166.1 525 L166.4 522.8 L166.7 520.5 L166.9 518.3 L166.3 516 L166.3 514.2 L164.3 512.8 L162.2 511.6 L160.4 509.8 L158.3 508.6 L156.3 507.3 L154.2 506.1 L152.3 504.8 L150.1 504.6 L148.3 503.1 L146.2 502.8 L144.1 502.5 L141.8 502.3 L139.9 501.4 L137.7 500.9 L135.8 499.8 L134 498.5 L133.5 496.4 L132.6 494.4 L132.1 492 L130 491.2 L127.9 490.3 L125.8 489.3 L123.2 489.6 L120.6 489.5 L118.1 490.1 L115.5 491.1 L112.7 490.9 L110.1 490.8 L107.6 490.4 L105 489.9 L102.7 488.9 L100.4 488.1 L98.2 486.9 L96.2 486.2 L94.5 485.1 L92.5 484.3 L90.6 483.4 L88.9 482.1 L86.5 483.1 L84 484 L81.3 484 L78.9 483.6 L76.4 483.9 L73.8 485.6 L72.5 487.3 L71.4 489.2 L70.6 491 L70.7 493.2 L70 495.1 L66.7 497.8 L64.6 496.2 L63.2 494.3 L59.4 494.5 L57.8 495.9 L56 497.2 L54.4 498.6 L56.1 497.4 L57.6 496 L59.2 494.8 L60.8 493.5 L62 491.9 L63.6 490.5 L65.3 489.4 L67 488.4 L68.4 486.8 L69.9 485.4 L71.4 484.1 L72.8 482.6 L74.8 481.8 L76.5 480.8 L78.4 479.9 L79.5 477.9 L81 476.6 L83.1 475.9 L84.3 474.3 L85.6 472.6 L87.4 471.6 L89.5 470.9 L91.2 469.8 L92.5 468.2 L94.2 467.1 L95.9 465.9 L97.5 464.7 L99.1 463.5 L100.8 462.4 L102.6 461.3 L104.3 460.3 L106 459.1 L107.4 457.6 L108.4 455.6 L110.2 454.6 L111.4 452.9 L113.6 452.4 L114.9 450.7 L116.1 449 L117.4 447.4 L119.3 446.5 L121.1 445.5 L122.9 444.5 L124.6 443.3 L126 441.8 L127.8 440.8 L129.2 439.4 L130.5 437.8 L132.4 436.9 L134.2 435.8 L135.5 434.3 L137.1 433 L138.9 432.2 L141.3 432.4 L143.8 431.9 L146.2 432.3 L148.2 431.5 L150 430.3 L151.7 429.2 L153.4 427.8 L155.1 426.5 L156.4 424.8 L158 423.7 L159.2 422 L159.9 420 L160.9 418.2 L161.9 416.4 L162.2 414.2 L163.2 412.4 L164.6 410.6 L165.8 408.9 L167.4 407.6 L169.1 406.3 L170.3 404.6 L171.8 403.2 L173.6 402.1 L175.2 400.8 L176.4 399.1 L178.2 397.8 L178.8 395.7 L179.3 393.5 L180.2 391.5 L180.8 389.3 L181.3 387.1 L181.7 385.3 L183.2 383.9 L184.8 382.5 L186.1 380.8 L187 378.8 L188.9 377.7 L190.5 376.3 L192 374.8 L193.3 373.2 L194.7 371.6 L196.2 370.1 L197.3 368.4 L198.5 366.8 L199.4 364.9 L200 363 L201.1 361.2 L201.9 359.4 L202.8 357.6 L204 355.9 L205.7 354.5 L206 352.2 L206.3 350.1 L206.7 347.9 L207 345.7 L207.6 343.6 L207.5 341.3 L207.5 339.2 L208.6 337.3 L209.3 335.2 L210.9 333.6 L211.7 331.5 L213.1 329.8 L214.6 328.2 L215.5 326.1 L216.9 324.4 L218.3 322.7 L220.2 321.5 L221.5 319.8 L222.4 317.7 L224.2 316.4 L225.8 314.9 L226.6 312.8 L227.4 310.7 L229.8 310 L230.6 308.1 L230.8 305.8 L232.2 304 L233.8 302.6 L234.2 300.3 L235.9 298.8 L237.2 296.6 L238.3 294.2 L239.2 291.8 L239.6 289.6 L239.5 287.4 L239.9 285.2 L240 283 L240.2 280.8 L240.6 278.6 L241.2 276.4 L241.6 274 L240.3 271.3 L239.4 269 L239.1 266.3 L239.4 263.8 L241.8 262.6 L244.3 261.8 L246.2 259.8 L247.9 258.6 L249.6 257.4 L251.4 256.5 L253.3 255.2 L254.4 253.4 L255.3 251.6 L257.5 250.8 L260.2 249.6 L260 247.2 L260.4 244.9 L259.8 242.4 L259.2 240 L258.4 237.6 L257.6 235.8 L258.8 233.6 L259.3 231.1 L260.2 228.8 L261.4 226.1 L262.3 223.3 L263.9 221.9 L265.5 220.5 L267.5 219.7 L269.2 217.3 L270.9 216 L271.8 213.7 L273 211.5 L273.6 209.1 L274.7 207 L275.2 204.8 L275.6 202.5 L275.8 200.2 L276.3 197.9 L277.2 195.7 L277.4 193.3 L277.4 190.6 L278.1 187.9 L276 186.5 L274.2 185.1 L272.3 183.7 L270.2 182.7 L271.2 180.4 L273.8 179.1 L276.4 177.7 L278.4 176.5 L280.4 175.2 L282.8 174.1 L282.7 171.8 L282.5 169.4 L282.9 167.2 L283.9 165.2 L283.6 163 L282.7 160.9 L283.8 158.6 L283.2 156.3 L284 154.1 L285.1 152 L286.1 149.9 L286.9 147.6 L286 145.3 L286 142.9 L285.5 140.6 L284.7 138 L284.2 135.3 L285.4 132.6 L286.2 129.5 L287.8 127.6 L290 126 Z" fill="#fff"/>
<g clip-path="url(#ma)">
<path d="M255 90 L470 90 L470 226 C465.8 226.7 451.7 228.8 445 230 C438.3 231.2 435.3 232.1 430 233 C424.7 233.9 419.3 234.5 413 235.4 C406.7 236.3 398.8 237.9 392 238.3 C385.2 238.7 379 238.3 372 237.8 C365 237.3 357 236.6 350 235.5 C343 234.4 336.7 233 330 231 C323.3 229 315.7 226 310 223.5 C304.3 221 299.8 218.7 296 216 C292.2 213.3 290 210.7 287 207.5 C284 204.3 281.2 200.8 278 197 C274.8 193.2 269.7 187 268 185 L255 170 Z" fill="#b9411e"/>
<path d="M255 90 L470 90 L470 189 C465.8 189.8 451.7 192.3 445 194 C438.3 195.7 435.3 197.5 430 199 C424.7 200.5 419.3 201.9 413 203 C406.7 204.1 399.2 205.2 392 205.5 C384.8 205.8 377 205.8 370 205 C363 204.2 356.7 202.4 350 200.5 C343.3 198.6 335.8 196.2 330 193.5 C324.2 190.8 320 187.1 315 184 C310 180.9 305.3 178 300 175 C294.7 172 288.3 168.7 283 166 C277.7 163.3 270.5 160.2 268 159 L255 150 Z" fill="#f09860"/>
<path d="M140 541 C145.3 541.3 161.5 542.3 172 542.9 C182.5 543.5 192.4 543.8 203 544.6 C213.6 545.4 226.1 546.6 235.6 547.8 C245.1 549 250.5 550.8 260 552 C269.5 553.2 281.7 554.2 292.6 555.2 C303.5 556.2 313.5 556.8 325.2 557.8 C336.9 558.8 350.8 559.4 362.8 561 C374.8 562.6 386.6 564.9 397.1 567.6 C407.6 570.3 416.1 573.9 425.6 577.1 C435.1 580.3 445.4 583.4 454.1 586.6 C462.8 589.8 470.2 592.4 478 596.5 C485.8 600.6 495.2 607.3 501.1 611 C507 614.7 509.3 616.1 513.4 618.5 C517.5 620.9 520.3 622.4 525.6 625.5 C530.9 628.6 541.8 635.1 545 637 L560 650 L560 820 L360 810 C355 808.3 338.2 802.7 330 800 C321.8 797.3 316 795.6 310.7 793.9 C305.4 792.1 303.3 791.6 298.3 789.5 C293.3 787.4 286.5 784.5 280.6 781.5 C274.7 778.5 268.7 775.2 263 771.8 C257.3 768.4 251.7 765 246.2 761.2 C240.7 757.4 235.9 753.7 230 749 C224.1 744.3 215 737.5 210.5 733 C206 728.5 204.8 725 203 722 C201.2 719 200.7 717.7 199.5 715 C198.3 712.3 196.7 709.3 196 706 C195.3 702.7 195.8 699 195.5 695 C195.2 691 195.4 686.2 194.5 682 C193.6 677.8 192.4 673.6 190 670 C187.6 666.4 183.3 663 180 660.5 C176.7 658 173.7 656.9 170 654.7 C166.3 652.5 163 650 158 647.5 C153 645 143 641.2 140 640 Z" fill="#b9411e"/>
<path d="M185 596 C186.2 594.4 189.4 589 192 586.5 C194.6 584 197.4 582.3 200.7 581.1 C203.9 579.9 205.2 579.8 211.5 579.3 C217.8 578.8 229.6 578.3 238.7 578.2 C247.8 578.1 256.8 578.3 265.9 578.6 C274.9 578.9 286.4 579.5 293 579.8 C299.6 580.1 297.7 579.7 305.2 580.3 C312.7 580.9 327.2 582.1 337.8 583.3 C348.4 584.5 358.6 585.8 368.5 587.6 C378.4 589.4 387.6 591.5 397.1 594.2 C406.6 596.9 418.5 601.2 425.6 603.8 C432.8 606.4 435.2 607.7 440 609.6 C444.8 611.5 449.2 613.3 454.1 615.2 C459 617.1 463.4 618.5 469.4 621 C475.4 623.5 486.6 628.5 490 630 L500 640 L500 700 L360 775 L345 765 C341.9 763.2 332.6 757.4 326.6 754.1 C320.6 750.8 313.6 747.6 308.9 745.3 C304.2 742.9 301.9 742.1 298.3 740 C294.7 737.9 291.7 735.7 287.4 732.9 C283.1 730.1 277.6 726.9 272.7 723.2 C267.8 719.5 262.5 715.4 258 710.9 C253.5 706.4 249.9 701.1 245.8 696.2 C241.7 691.3 237.7 686.5 233.6 681.6 C229.5 676.7 225.5 671.8 221.4 666.9 C217.3 662 213.4 656.7 209.1 652.2 C204.8 647.7 199.3 644 195.5 640 C191.7 636 188.2 632.1 186 628 C183.8 623.9 182.6 619.1 182 615.1 C181.4 611.1 182 607.2 182.5 604 C183 600.8 184.6 597.3 185 596 Z" fill="#f09860"/>
<path d="M251.4 635.4 C252.2 633.5 253.3 626.7 256.3 624 C259.3 621.3 263.9 620.2 269.3 619.1 C274.7 618 282.9 617.6 288.9 617.5 C294.9 617.4 299.8 617.9 305.2 618.3 C310.6 618.7 316.1 619.4 321.5 620 C326.9 620.6 332.4 621.4 337.8 622.1 C343.2 622.8 349 623.5 354.1 624 C359.2 624.5 361.3 623.7 368.5 624.8 C375.7 625.9 387.6 627.9 397.1 630.4 C406.6 632.9 417.1 636.7 425.6 639.9 C434.2 643.1 440.2 645.7 448.4 649.4 C456.6 653.1 470.6 659.9 475 662 L480 700 L380 712 L360 706 C357.7 704.6 351.1 699.6 346 697.4 C340.9 695.1 335.1 694.7 329.7 692.5 C324.3 690.3 318.8 687.4 313.4 684.4 C308 681.4 302.5 677.6 297.1 674.6 C291.7 671.6 286.2 669.7 280.8 666.4 C275.4 663.1 268.6 658.2 264.5 655 C260.4 651.8 258.5 650.2 256.3 646.9 C254.1 643.6 252.2 637.3 251.4 635.4 Z" fill="#d7c487"/>
<path d="M117.5 982.6l4 0.6 4.1 0.6 4.1 0.3 3.9 1.1 3.8 1.5 3.7 2 4.1 0.3M685.8 673.3l2.9-3.8 2-4.5 3.3-3.5 2.6-4 3.3-3.5M43.4 382.6l1.4-4.5 -0.3-4.7 0.7-4.5 0.5-4.6 0.1-4.6M45.8 359.7l-3.6-2.5 -3.6-2.4 -2.8-3.3M117.5 982.6l0.5-0.5 -0.6 0.5M117.4 982.6l-4.6 0.2 -4.1 1.6 -3.6 2.6 -3.9 2 -3.6 2.6 -4.1 1.4M145.2 989l3.8-2.4 3.7-2.5M170.8 998l-3-3.5 -4.1-2.2 -3.4-3.1 -4.1-2.2 -3.5-2.9M85.7 413.9l4.9 0.9 4.9 0 4.9-0.1 4.8 0.2M105.2 414.9l0.8 4.3 0.1 4.2 -1 4.2 -0.2 4.2 -0.5 4.3 -1 4.1 0.3 4.3M72 425.9l2.6 3.3 1.7 3.9 2.2 3.5 1.7 3.9 1.6 3.9 2 3.6 2.3 3.6M86.1 451.6l4.3-2 4.6-1.4 4.1-2.3 4.6-1.4M58.6 994.2l3.5-2 3.7-1.5 3.5-1.9 3.9-1 3.4-2.2 3.9-1.2M93.5 993l-4.1-3.2 -4.2-3 -4.7-2.4M247.4 980.6l-2.1 3.8 -2.6 3.4 -2.8 3.2 -3.9 2.2 -2.6 3.4 -3 3.1 -2.7 3.2 -3.7 2.4 -2.3 3.7 -3.2 2.8 -2.6 3.4M247.4 980.6l3.4 1.7 3.1 2.2M253.9 984.5l4.4-0.1 4.1-1.3 4.2-0.9 4.2-0.8 4.2-1.2 4.3-0.2M350.3 989.2l-4.3-1.1 -4.3-0.9 -4.3-1 -4.3-0.5 -4.4-0.5 -4.3-0.8 -4.3-1 -4.5 0.5M703.3 454.2l-0.7-4.4 -1-4.3 0.4-4.4 0.8-4.5 -0.6-4.4 -0.3-4.4M717 616.7l-4.4-1.4 -4.2-1.7 -4-2.2 -4.5-1 -4-2.2 -4.1-2 -3.8-2.4M688 603.8l0.9-4 0-4.2 1.9-3.6 0.6-4 0.9-3.9 2.1-3.6M713.5 101.3l-3.8-2.5 -4.1-2 -4.1-1.8M701.5 95l-4.6 1 -4.8-0.3 -4.6 1.6M680 75.7l1.3 4.4 1.2 4.4 2.5 4 0.9 4.5 1.6 4.3M702.3 125.1l1.9-3.9 2.2-3.8 2.2-3.8 1.4-4.2 2.5-3.7 1-4.4M703 130.8l0.1 4.1 1 4 0.7 4 0.2 4.1 0.7 4.1 1.8 3.8M117 767l-3 3.7 -3 3.8 -4 2.8M108.9 790.9l-0.3-4.6 -0.5-4.5 -1.1-4.5M106.4 742.4l2.6 3.8 1.7 4.1 2.2 3.9 1.9 4.1 1.1 4.3 1.1 4.4M106.4 742.4l-5.7 1.6 -5.5 1.9M107 777.3l-4-0.8 -3.6-2.1 -3.9-1.3 -3.8-1.4 -3.8-1.7 -4-0.9M95.2 745.9l-2.3 3.7 -2.2 3.7 -1.8 3.9 -2.3 3.7 -1.5 4.1 -1.2 4.1M18.9 773.2l4.2 0.7 4.4-0.3 4.2 0.6 4.3 0.5 4.2 1 4.3 0.7 4.3-0.6M38.2 807.3l3.8-2.1 3.9-1.7 4-1.7 3.7-2.3 4.3-1M57.9 798.5l-0.7-4.1 -1.4-3.9 -1.4-3.8 -1.5-3.8 -2.2-3.5 -1.9-3.6M18.2 772.7l2.5-3.3 1.9-3.6 2.7-3.1 2.5-3.2 2.5-3.3 2.5-3.2 2.7-3.2 2.8-3 2.1-3.5M40.4 743.3l4.1 1.3 4.3-0.3 4.2 0.4 4.1 1.4M57.1 746.1l2 4.6 1.2 4.9 1.5 4.8M48.8 775.8l3.1-2.7 2.1-3.5 2.2-3.4 2.5-3.1 3.1-2.7M270.3 953.9l2.7 3.3 2.2 3.5 0.6 4.4 1.7 3.7 1.7 3.8 2.4 3.4M270.3 953.9l-4.4 0.6 -3.9 1.9 -4.2 1.3 -3.9 2 -3.9 2M247.4 980.6l-0.5-1.9 -0.9-1.7M279.3 980l0.5-2.3 1.8-1.7M250 961.7l-0.3 5.4 -1.3 5.1 -2.4 4.8M117.4 982.6l0-0.5 -0.1-0.5M152.7 984.1l0.6-4.3 2.5-3.8 0.3-4.4 1.2-4.1M117.3 981.6l2.3-3.6 2.6-3.3 1.9-3.8 1.8-3.8 3.2-3 1.3-4.1 2.1-3.7 2.7-3.3M135.2 953l4.2 1.7 4 2 4.4 1 4.4 1.1M152.2 958.8l2.8 4.2 2.3 4.5M28.9 444l3.8 2.3 4.3 1.2 4.2 1.3 3.9 2.2 4.4 0.8M28.9 444l1.2-4.1 1-4.2 1.4-4.1 -0.4-4.6 0.7-4.2 1.6-4.1M62.2 425.7l-3-3.4 -4-2.2 -2.7-3.7 -4.1-2M34.4 418.7l5.1-0.3 4.8-0.9 4.1-3.1M41.5 476.6l1.8-3.7 2.2-3.3 2.2-3.4 2.3-3.3 2.5-3.2M52.5 459.7l-1-4.1 -2-3.8M52.5 459.7l3.9 1.7 3.9 1.3 4 1 4.4-0.5 4 0.9 4.2 0.1 3.9 1.7M80.8 465.9l2-4.6 1.9-4.8 1.4-4.9M72 425.9l-4.9-0.3 -4.9 0.1M43.4 382.6l3.6 4.5 4 4.1M51 391.2l-0.4 4.7 -0.7 4.6 0.5 4.7 -1.4 4.5 -0.6 4.7M171.6 460.1l3.2 3.5 3.5 3.3 4.2 2.3 3.4 3.3 4 2.6M171.6 460.1l3-3.3 3.2-3 2.6-3.6 3.2-3.1 3.5-2.6M189.9 475.1l1.9-4.3 3.3-2.9 3.4-3 3.2-3.1 2.8-3.5 3.3-3M187.1 444.5l4.5 1.6 3.9 2.6 4.1 2.2 4.1 2.1 4.1 2.3M171.6 460.1l-1.4-0.1 -1.4 0.2M161.5 431.5l-1.8 3.2 -2.9 2.3M156.8 437l1.4 4.1 2.9 3.5 1.2 4.2 2.2 3.8 2.2 3.8 2.1 3.8M274.5 501.6l5.1-2.9 5.3-2.4M274.5 501.6l-1.3 4.2 -1 4.1 -2.1 4 0.5 4.5 -0.2 4.3 -0.8 4.3M297.2 521.7l0.1-4.4 0.4-4.5 0.4-4.4 0.1-4.4M297.2 521.7l-3.8 3 -3.4 3.4 -4 2.8M286 530.9l-4.1-1 -4.1-1.1 -4.2-0.6 -4-1.2M284.9 496.3l4.3 2.6 4.6 2.4 4.4 2.7M295.5 460l-3.4-2.9 -2.8-3.3 -2.7-3.6 -3.4-2.8 -3.4-2.8M295.5 460l-0.5 5.6 -1.2 5.5M286.2 476.8l-3.9-0.9 -3.8-1.3 -4.2 0.3 -4-0.7 -3.6-2.2M266.7 472l0.5-5 -0.7-5 0.3-4.9 0.7-5M267.5 452.1l3.9-2.7 4.9-1.3 3.5-3.5M284.9 496.3l0.9-4.8 0-4.9 0-4.9 0.4-4.9M298.2 504l4.2-1.8 4-2.1 4.3-1.6 4-1.9M315.9 483.6l-3.8-1.8 -3.5-2.5 -4.2-1.2 -3.4-2.5 -3.5-2.6 -3.7-1.9M274.4 720.7l5-1.8 5.3-0.5 5-1.5M274.4 720.7l-1.5-4 -0.8-4.1 -1.1-4 -0.1-4.3 -1.3-4 -1.5-3.9 -0.2-4.3 -1.8-3.9 -0.6-4.1M289.7 716.9l2.6-3.3 1.2-3.9 1.4-3.8 1.6-3.7 1.7-3.7 1.5-3.8 2.2-3.5M301.9 691.2l-1.2-3.9 -1.7-3.7M299 683.6l-4-1 -4.3 0 -4-1.3 -4.2-0.4 -4-1.3 -4.1-1 -4.2-0.3M556.5 984.5l-1.3-2.1 -1.8-1.8M553.4 980.6l-4-1.2 -4.3 0.2 -4.1-0.6 -4.1-0.7 -4.1-0.8 -4.1-0.7 -4.1-1 -4.1-0.7M556.5 984.5l4.4-0.1 4.4-0.4 4.4-0.1 4.3-0.8 4.3-0.7 4.4 0.3 4.3-1.6M587 981.1l3 3.4 2.4 3.7 1.6 4.2 3 3.4 1.7 4.2 2 4M714 926.3l-4.1 1 -3.6 2.6 -3.8 1.9 -3.9 1.7 -4.4 0.3 -4.4 0.1 -4.1 0.9 -3.6 2.6 -4.2 0.8M677.9 938.2l-0.4 2.5 0 2.5M677.5 943.2l2.7 3.5 2.6 3.7 2.8 3.5 2.9 3.4 1.9 4.2 3.1 3.2 2.3 3.8M694.8 973.7l0-2.7 1-2.5M423.1 983.4l-4.3 1.1 -4.2 0.2 -4.3-1.5 -4.2 1.7 -4.3-0.1 -4.2-1.4 -4.2 0M97 804.5l-0.4 0.4 0.3 0.4M96.9 805.3l-3.8 2.6 -3.2 3.4 -3.7 2.7 -4.1 2.3 -2.9 3.8M77.3 787.7l-3.3 2.9 -4 1.7 -3.6 2.3 -3.5 2.7 -4.2 1.4M58.7 798.7l3.4 3.4 2.6 3.9 3 3.5 1.2 4.7 1.6 4.5M70.5 818.7l4.3 0.8 4.4 0.6M108.9 790.9l-2.2 4.1 -2.6 3.8 -3 3.3 -4.1 2.4M83.9 769.1l-1.3 1 -1.6 0.4M81 770.5l-0.3 4.4 -1 4.3 -0.4 4.4 -2 4.1M57.9 798.5l0.3 0.6 0.5-0.4M81 770.5l-3.7-2.2 -4.1-1.6 -3.7-2.3 -3.9-1.9 -3.8-2.1M314.5 882.5l-2.2 3.4 -2.1 3.6 -1.8 3.6 -2.4 3.3M314.5 882.5l4.4-0.7 4.3-1 4.2-1.6 4.3-0.6 4.4-0.5 4.4-0.7M306 896.4l2.2 4.2 2.3 4.1 2.7 3.8 2.4 4.1M333.2 912.4l-4.4 0.1 -4.4 0 -4.4 0.5 -4.4-0.4M333.2 912.4l3-3 1.4-4 2.7-3.2 2.6-3.2 2.8-3.1 1.9-3.7 1.8-3.8M349.4 888.4l-3-3.6 -2.9-3.7 -3-3.7M315.5 839.2l2.7 3.5 3.1 3.2 2 4.1 2.6 3.5 2.8 3.5 3.2 3.1 3.5 2.8 2.6 3.6 2.6 3.6M315.5 839.2l-3.7 3 -2.1 4.1 -2.3 4.1 -2.9 3.5 -2 4.3 -3 3.4M299.5 861.6l2.8 3.3 2.4 3.6 2.7 3.3 2.8 3.3 2.5 3.5 1.8 3.9M730.6 702.5l-4.2 2.3 -4.6 1.4 -4.3 2.1 -4.2 2.5 -4.2 2.1M685.8 673.3l-2.1 0.6 -2.1 0.7M681.6 674.6l-1.6 4.2 -0.3 4.7 -2.2 3.9 -1 4.4 -2.6 3.8 -1.7 4.1 -2.6 3.7M697 642.5l-3.7-2.3 -4-1.5 -3.9-1.7 -3.5-2.5 -4-1.6 -3.7-2.1M697 642.5l1.2 5.8 1.7 5.7M654.2 654.7l2.2-4 1.9-4.2 2.2-4.1 1.4-4.4 3-3.7M674.2 630.8l-4.5 2 -4.8 1.5M697 642.5l2.6-3.2 2.4-3.2 2.5-3.3 2.1-3.5 2.9-3 2.2-3.4 3-2.8 2.3-3.4M688 603.8l-1.3 1.1 -1.6 0.1M694.4 580.5l0.1-1.1 -0.9-0.7M693.6 578.7l1.8-3.7 0.9-4 0.2-4.1 0.9-3.9 1.2-3.9M729.4 261.3l-3.8-2.3 -4.2-1.5 -4.1-1.8 -3.6-2.7 -4.2-1.7 -4-1.8 -4.1-1.9M701.4 247.6l-1-4.5 1.1-4.3 1.4-4.3M722.5 223l-3.8 2.6 -4.3 1.6 -3.7 2.7 -3.9 2.3 -3.9 2.3M697.4 206l3.5 2.5 4.1 1.7 3.9 2 3.7 2.3 2.9 3.4 3.3 2.8 3.7 2.3M697.4 206l1.6-3.7 0.3-3.9M714.1 187.2l-3.4 3.2 -3.7 2.8 -4 2.4 -3.7 2.8M689.7 253.2l-1.6-4.7 -2.9-3.8 -2.2-4.2 -2.5-4.1 -2.2-4.2M702.9 234.5l-4.5-2.2 -4.3-2.5 -3.6-3.5 -4-3M678.3 232.2l3.3-2.4 2.6-3.1 2.3-3.4M686.5 223.3l-0.1-5.3 1.6-5.1M703 130.8l-4.2 2.3 -4.1 2.3 -4.5 1.6 -4.2 2 -4.5 1.5M707.5 154.9l-3.3 2.7 -3.6 2.3 -3.8 2M681.5 140.5l2.1 3.9 2.8 3.4 2.8 3.4 3.1 3.2 2.2 3.8 2.3 3.7M686.9 185.4l3.1 3.3 2.7 3.6 3.4 2.9 3.2 3.2M686.9 185.4l-0.4-4.9 1.6-4.4 1.8-4.4 1-4.6M714.1 187.2l-2.2-3.6 -2-3.9 -1.8-4 -3.6-2.5 -2.9-3.1 -2.8-3.2 -2.9-3.1M690.9 167.1l3-0.9 2-2.4M696.8 161.9l-0.4 1 -0.5 0.9M58.6 994.2l-2.9-3.5 -3.8-2.7 -3-3.4 -2.1-4.1 -2.9-3.4M41.7 976.7l1.1 0.1 1.1 0.3M41.7 976.7l-2.3-3.9 -2.5-3.8 -1.7-4.3 -2.1-4 -2.2-4 -2.4-3.9 -2-4.1M26.5 948.7l3.3-2.7 2.6-3.4 2.9-3.2 3.9-2 3.1-2.9M59.8 957.5l-2.4 3.5 -2.7 3.2 -3.2 2.8 -2.7 3.2 -2.6 3.4 -2.3 3.5M42.3 934.5l1.4 0.4 1.5 0.3M52.6 838.9l-2.6-0.7 -2.1-1.6M52.6 838.9l0.6 1.5 0.8 1.4M54 841.8l-0.8 4.3 -1.1 4.4 -0.5 4.4 -0.4 4.4 -2.1 4.2 0.1 4.5M41.1 874.9l3.5-4.1 4.6-2.8M36.4 810.6l1.3-1.4 0.5-1.9M36.4 810.6l2.2 3.5 1.3 3.8 1 4 1.4 3.8 2.8 3.3 0.1 4.3 2.7 3.3M70.5 818.7l-2.9 3.4 -3.2 3.2 -2.4 3.9 -3.8 2.7 -2.8 3.5 -2.8 3.5M88.6 839.5l-1.6 4.1 -3.2 3 -2.7 3.4M81.1 850l-3.9-1.1 -3.9-0.9 -4.2-0.1 -3.7-1.9 -3.7-1.6 -3.8-1.4 -3.9-1.2M81.1 850l0.2 4.8 0.6 4.8 1.1 4.6 1.3 4.7M84.3 868.9l-1.7 1.9 -1.9 1.7M80.7 872.5l-4.6 0.2 -4.6 0.1 -4.4-1.8 -4.5-0.4 -4.4-1.2 -4.5-0.8 -4.5-0.6M46.2 896.5l-2.7 3.4 -3.8 2.4 -2.8 3.2 -2.9 3.3 -3.2 2.9M46.2 896.5l-0.7-4.4 0-4.5 -1.7-4.2 -2.2-4 -0.5-4.5M143.5 743l-0.4 4.3 -1.6 4 0.2 4.4 -1.2 4.1 -1.3 4 -2.5 3.8M143.5 743l3.6 1.9 3.7 1.4 4.3 0.2 3.6 1.8 3.5 2.2 3.7 1.7 3.8 1.5 4.1 0.4M136.7 767.6l3.6 2.5 4.4 0.8 4.1 1.3 3.5 2.9 4.5 0.4 4.4 0.7 3.8 2.2M173.8 754.1l-1 4.2 -1.1 4.2 -1.7 4 -0.7 4.3 -0.4 4.4M132.8 797.2l4.3 1.3 4.3 1.2 4.4 0.9M135.7 768.3l0.3-0.7 0.7 0M145.8 800.6l4.2-2.6 4.3-2.6 3.6-3.6 4.7-2M162.6 789.8l1.7-5.6 0.7-5.8M270.3 953.9l0.8-2.1 1.1-2.1M250 961.7l-2.2-4.3 -3-3.7 -3.1-3.7 -2.5-4 -2.5-4.1M236.7 941.9l3.2-2.7 2.8-3.2 2.9-3.2 4-1.7 3.9-1.9 2.5-3.7 3.6-2.2M259.6 923.3l0.3 4.4 1.8 3.8 2.6 3.4 1.3 4 2.5 3.5 1.4 4 2.7 3.3M102.6 964l1-3.9 0.9-3.9 2.4-3.5 0.3-4 1.2-3.9M102.6 964l-4 0.4 -4 0.8 -4.1 0.1 -4.1-0.7 -3.9 1.8M82.5 937l-2.5 3.3 -1.7 3.8 -1.9 3.6 -0.4 4.3 -1.3 3.9M82.5 937l4.2 1.3 4.5 0.3 3.9 2.7 4.4 0.3 4.3 1.3 4.2 1.3M108 944.2l-0.2 0.5 0.6 0.1M82.5 966.4l-1.9-4 -2.3-3.7 -3.6-2.8M117.3 981.6l-2.1-4.2 -3.9-2.8 -2.7-3.7 -3.1-3.4 -2.9-3.5M135.2 953l-0.3-0.2 -0.1-0.4M134.8 952.4l-4.4-1.1 -4.5-1.2 -4.4-1 -4.3-1.8 -4.5-1.1 -4.3-1.4M80.5 984.4l-0.4-4.6 0.8-4.5 1.1-4.4 0.5-4.5M137.1 925.4l-4-2.7 -3.2-3.6M137.1 925.4l-0.1 4.5 -0.2 4.5 -0.7 4.5 -0.7 4.5 -0.7 4.5 0.1 4.5M115.1 921.7l5-0.4 4.9-1.2 4.9-1M115.1 921.7l-1.5 4.5 -1 4.6 -2.1 4.3 -1.7 4.4 -0.8 4.7M59.8 957.5l4.9-1.1 5 0.1 5-0.6M137.1 925.4l4.7-0.7 4.7-0.8 4.7-0.6 4.8-0.3M152.2 958.8l2.7-3.3 2-3.9 2.2-3.6 1.9-3.9 2.7-3.4M170.8 998l4.1-1.9 3.7-2.5 3.3-3.2 3.7-2.6M215.9 1015.2l-2.2-4 -1.5-4.3M212.2 1006.9l-2.6-3.5 -3.5-2 -2.7-3.3 -4-1.5 -4.3-1 -3.2-2.6 -3.5-2.1 -2.8-3.1M396.4 565.9l-4.3 1.7 -4.3 1.6 -4.6 0.9 -4.3 1.9 -4.2 2M396.4 565.9l0.4 4.2 1.5 3.9 0.2 4.2 2.2 3.6 1.7 3.8 0.6 4.1 1.4 3.9M374.7 574l1.3 4 1 4.1 -0.7 4.4 1 4.1 1 4.1M378.3 594.7l4.2 1.2 4.2-1.5 4.1-0.5 4.2-0.1 4.2 0.8 4.2 0M404.4 593.6l-0.5 0.5 -0.5 0.5M297.2 521.7l3.8 1.8 4 1.2 4 1.2 3.9 1.4 4.2 0.4 4.2 0.6M325.6 507.1l0.6 4.7 0 4.6 -0.5 4.7 0.1 4.7M325.6 507.1l-3.4-3.7 -3.6-3.6 -3.9-3.2M321.3 528.3l2.4-0.9 2.1-1.6M506.2 664.2l2.4 3.8 2.6 3.9 2.8 3.7 1.1 4.5 1.3 4.5M516.4 684.6l3.4-2.6 3.8-1.9 3.5-2.4 3.7-1.9 4.1-1.5 3.9-1.6 3.2-2.9 3.5-2.5M522.8 644.3l4 0.8 3.9 1.3 4 0.9 4.1 0.6 3.7 1.9 3.6 2.2M545.5 667.3l0.6-5.1 -0.2-5.1 0.2-5.1M485 625.7l4.1-0.3 3.9-1.8 4.1-0.3 4.1-0.5 4.1 0.3 4.2 0.2 4-1.2M485 625.7l-2.3 2.8 -2.2 2.8M513.5 622.1l1.4 3.8 1.7 3.6 1.6 3.7 1.8 3.6 1.4 3.8 1.4 3.7M506.2 664.2l-4.1-1.2 -4-1.3 -3.8-1.8 -4.2-0.8M490.1 659.1l-0.9-4.1 -2-3.8 -1.6-3.9 -1.1-4 -1.1-4.1 -1.3-4 -1.6-3.9M490.1 659.1l-3 3.3 -3.1 3.2 -3.1 3.2 -3 3.3 -3.8 2.5 -2.5 3.8 -3.2 3M480.5 631.3l-3.9 1.1 -4.3-0.7 -3.9 1.2 -3.9 1.2M447.2 654.5l2.7-3.6 2.8-3.4 3.4-3 3.2-3.1 3.2-3.1 2-4.2M461 597.7l-2.8 3.9 -3.1 3.5 -3.7 3 -2.6 4 -3.3 3.3M461 597.7l4.2 2.1 3.9 2.8 4.2 2.2 4.1 2.5 3.9 2.7M481.3 610l1.7 3.7 0.7 4 1.5 3.8 -0.2 4.2M464.5 634.1l-3.1-3.1 -2.9-3.5 -3.2-3 -2.8-3.5 -3.7-2.6 -3.3-3M676.9 518.8l-0.3-4.4 -1.2-4.2 -2-3.8 -2.3-3.8 -1.3-4.1M676.9 518.8l-4.7-0.4 -4.6 1.8 -4.6 0.5 -4.7-0.5 -4.7 0M653.6 520.2l0.2-4.6 -0.5-4.5 -0.6-4.5 -1-4.5 0.1-4.5M592 513.9l-3.7 3.4 -2.9 4M607.5 521.6l0.9 4.1 0.8 4 1.4 4 -0.1 4.1 0.2 4.2M610.7 542l-4.3 2.7 -4.3 2.7 -4.7 2.1M585.4 521.3l2 3.9 1.7 4 2.1 3.9 1.8 4 2.6 3.6 1.4 4.2 0.4 4.6M478.1 576.8l2.7 3.6 2.3 3.8 3.1 3.3 2.6 3.6M478.1 576.8l-3.9 1.8 -4.2 0.4M461 597.7l-0.8-0.4 0.5-0.7M481.3 610l2-3.6 0.6-4.1 1.9-3.6 1.2-3.9 1.8-3.7M432 604.3l2.5-3.7 3.5-2.8 2.2-4 3-3.2 1.9-4.1M432 604.3l2 4.6 1.5 4.8M435.5 613.7l4.9 1.1 5.1 0.6M460.7 596.6l-3.7-2.8 -3.6-3 -4.4-1.7 -3.9-2.6M243.1 410.1l-4.3 0.5 -3.9-0.8 -4-0.8 -3.7-1.6 -3.5-2.1 -3.9-1 -3.7-1.8 -3.6-1.7M243.1 410.1l1 4.7 2 4.3M204.8 417.7l2.6-3.9 3.3-3.6 0.7-4.8 1.1-4.6M204.8 417.7l2 3.7 3 3.1 2.1 3.8 2.6 3.2 3 3.1 2.4 3.5M219.9 438.1l3.1-2.6 3.3-2.3 3.4-2.2 3.1-2.7 3.9-1.6 3.2-2.4 3.3-2.3 2.9-2.9M272.7 422.2l4.8 3.5 4.3 4.1M272.7 422.2l-4.2-0.4 -4.3 0.6 -4.2 0.2 -4.3-0.1 -4.2 0.5M281.8 429.8l0 5 -1 4.9 -1 4.9M267.5 452.1l-3.8-1.6 -4.1-0.8 -4-1.2 -3.7-2.1M251.9 446.4l-0.1-4.7 0.4-4.6 0.5-4.7 0-4.7 -1.2-4.7M135.4 436.6l1.7 1.5 2.2 0.8M135.4 436.6l-3.3 2.4 -3.6 2.1 -3.1 2.6 -3.1 2.8 -3.6 1.9 -4.1 1.2M139.3 438.9l0.3 4.5 0.2 4.4 1.2 4.4 -0.4 4.5 0.5 4.5 0.2 4.4 0.9 4.4M114.6 449.6l1.2 4.4 0.7 4.5 0.4 4.5 1.5 4.3M118.4 467.3l4.1 1.3 4.2 1.2 4.3 0.8 3.9 2M142.2 470l-3.6 1.4 -3.7 1.2M105.2 414.9l1.6-1.4 2-0.6M103.7 444.5l4 0.9 3.2 2.7 3.7 1.5M108.8 412.9l3.7 2.4 3.6 2.4 3.6 2.4 3.3 3.1 4.1 1.5 4.4 1M131.5 425.7l1.9 5.5 2 5.4M156.8 437l-4.3 0.7 -4.5 0.2 -4.4 0.3 -4.3 0.7M168.8 460.2l-2.9 2.8 -2.9 2.7 -3.4 2.1 -2.6 3.2 -3.1 2.5M153.9 473.5l-4-0.9 -3.9-1.1 -3.8-1.5M80.8 465.9l1.5 1.2 -0.4 1.9M81.9 469l3.6 2.3 4 1.1 3.9 1.4 3.9 1.6 4.2 0.4 4.1 0.6M105.6 476.4l4.2-3.2 3.8-3.6 4.8-2.3M108.9 493.4l4.5 1.4 4.4 1.8 4.5 1.6 4.4 1.6M108.9 493.4l-1-4.2 -0.1-4.4 -1.4-4.2 -0.8-4.2M130.3 505.8l-2.1-2.8 -1.5-3.2M130.3 505.8l5.2 0.4 5.1 0.6 5 1.6M153.9 473.5l0.5 4.5 1.6 4.1 2.6 3.8M145.6 508.4l2.4-3.6 1.4-4.2 2.5-3.6 2-3.8 2.4-3.7 2.3-3.6M43.7 636.6l0.8-4.6 0.6-4.6 1.3-4.5 0.5-4.6 1.2-4.5 0-4.7M115 731.2l4.2-0.9 4.1 0.2 4.2 0.1 4 1.1 4 1.2 4.1 0.7M146.6 723.4l-1.7-3.8 -1.9-3.7 -2.6-3.5 -1.5-3.8 -1.1-4.1 -0.8-4.2 -1.5-3.9M135.5 696.4l-3.8-1.9 -3.6-2.5 -4.1-1.4 -4.6 0.1M143.5 743l-2.4-4.5 -1.5-4.9M160.7 682.6l1 4 1.6 3.7 2.6 3.2 1.7 3.7M160.7 682.6l-3.6 2.1 -3.4 2.3 -4.2 0.8 -3.6 2 -3.4 2.3 -3.5 2.1 -3.5 2.2M157.5 719.3l2.5-3.3 1.9-3.6 1.1-3.9 1.4-3.8 1.5-3.8 1.7-3.7M160.7 682.6l0.8-5.6 1.3-5.6M141.3 661.5l4.2 2.2 4.9 0.5 4.1 2.6 4.2 2.1 4.1 2.5M141.3 661.5l-3.2 3 -3.8 1.6 -3.9 1.6 -3.5 2.3 -3.5 2.2 -3.7 2M119.7 674.2l-0.8 5.4 -3 4.6M115.9 684.2l1.5 3.4 2 3.1M43.7 636.6l0 0.4 0.4 0.2M36.4 660.9l1.6-3.9 1.1-4 0.9-4 0.8-4.1 1.8-3.8 1.5-3.9M40.4 743.3l-2.6-3.3 -3.2-2.8 -2-3.7 -2.3-3.5 -2-3.8 -2.4-3.3M130.3 505.8l-3.1 3.9 -3.1 4 -2.3 4.5 -2.6 4.3M108.9 493.4l-4 3.1 -3.7 3.6 -4.2 2.9M119.2 522.5l-5-0.4 -4.9-0.4 -5-0.1M97 503l3.4 3 1.1 3.8 1.4 3.8 1 3.9 0.4 4.1M85.7 413.9l-0.3-4.5 -2.1-4 -1.2-4.2 -2.5-3.8 -1.1-4.2 -1.1-4.3M114.9 395.3l-1.5 4.4 -1 4.6 -1.1 4.6 -2.5 4M114.9 395.3l-3.7-2.5 -3.1-3.3 -4-2 -3.4-2.9 -3.7-2.4M97 382.2l-4.1 0.8 -4 1.1 -4.1 0.9 -3.8 1.7 -3.6 2.2M51 391.2l4-0.2 4-0.9 4-0.5 4-0.8 4.1 0.2 3.9-1.5M75 387.5l1.1 0.8 1.3 0.6M190.8 421.9l4.4-2.1 4.9-0.6 4.7-1.5M190.8 421.9l-2.7-3.2 -3.1-2.7 -3.4-2.6 -3.3-2.6 -2-3.8 -2.7-3.1M212.5 400.8l0.1-4.2 -2.1-3.7M210.5 392.9l-4.7-1 -4.7-0.7 -4.6-1 -4.5-1.5 -4.6-0.9M187.4 387.8l-2.7 3.3 -2.5 3.4 -2.8 3.2 -3.2 2.9 -2.6 3.3M161.5 431.5l-1.6-4.5 0-4.6 -0.2-4.5 -0.7-4.6 -0.6-4.5 0.6-4.7M184.9 431.3l3.4-4.4 2.5-5M173.6 403.9l-4.9-0.2 -4.8 0.3 -4.9 0.1M65.7 645.8l-4.3-1.9 -4.4-1.5 -4.2-2.1 -4.4-1.3 -4.3-1.8M65.7 645.8l2.9-3.7 2.7-3.9 1.7-4.6 3.4-3.4 2.4-4.1M61.3 606.1l-4.6 0.2 -4.4 1.1 -4.2 1.7M61.3 606.1l4.2 1.8 4.3 1.6 3.8 2.6M78.8 626.1l-2.7-4.2 -0.9-5 -1.6-4.8M157.5 719.3l4.1 1.4 4.1 1.4 4.3 1 3.8 2.3 3.9 1.9 3.8 2.3M173.8 754.1l1.1 0 0.4-1M175.3 753.1l1.3-3.9 1.6-3.7 1-3.9 1-4 0.2-4.1 1.1-3.9M189.9 475.1l0.8 4.3 0 4.3 0.2 4.3 0.7 4.2M158.6 485.9l3.9 2.4 4.1 1.7 3.6 3.1 4.3 1.4 4.5 1 4.6 0.7M191.6 492.2l-4.3 1.4 -3.7 2.6M145.6 508.4l3.2 3.4 3.2 3.5 2.2 4.1 2.8 3.8M157 523.2l4.2-1 4.3-0.4 4.1-1 4.1-1.3M183.6 496.2l-2.4 3.5 -1.4 4 -2 3.8 -1.4 4 -1.3 4 -1.4 4M157 523.2l-1.4 4 -2.5 3.5 -1.6 4 -0.8 4.2M119.2 522.5l1.6 4.2 1.6 4.2 1.9 4 1 4.5 2.4 3.9 2.2 3.9M150.7 538.9l-4.1 1.8 -4.1 1.8 -3.7 2.8 -4.2 1.5 -4.7 0.4M104.3 521.6l-4.2 4.1 -4.1 4.1M96 529.8l1.7 4.5 1.3 4.5 1.1 4.6 0.6 4.7 0.5 4.7M101.2 552.8l4.1 0 4.2 0.2 4.1 0.5 4.1 1.1 4.2-0.6 4.1-0.3M129.9 547.2l-1.3 3.7 -2.6 2.8M203.1 495.9l0.7 4.4 0.1 4.5 0.8 4.3 2 4.2 0.1 4.5 1.6 4.2 0.6 4.4M203.1 495.9l4.1-1.8 4-2 3.9-2.2 4.2-1.4 4.5-0.8M209 526.4l4.6-0.5 4.7-0.2 4.6-0.9 4.7 1 4.7-0.2M232.3 525.6l4.2-3.8 4.3-3.5M240.8 518.3l-1-4 -0.2-4.1 0.3-4 0-4.1M239.9 502.1l-2.9-3.2 -2.4-3.8 -3.8-2.2 -2.7-3.5 -4.3-1.7M274.5 501.6l-4.8-1.6 -4.5-2 -4-3.2 -4.2-2.7M269.6 527l-2.2 1.5 -2.6 0.4M264.8 528.9l-4.3-1.2 -4.1-1.5 -3.5-2.7 -4-1.8 -3.9-2 -4.2-1.4M239.9 502.1l3.9-3.1 4.5-2.2 4.8-1.6 3.9-3.1M266.7 472l-3.2 1.9 -3.2 2M260.3 475.9l-1.2 4 -0.8 4 -0.5 4.1 -0.8 4.1M416.1 592l-5.9 0.7 -5.8 0.9M403.4 594.6l1 4.2 -0.6 4.1 0.6 4.2 -1.1 4.1 -1.1 4 -0.5 4.2M435.5 613.7l-3.3 3.4 -3.5 3.1 -3.2 3.4 -3.9 2.7 -2.5 4.1 -2.3 4.1M401.7 619.4l2.8 3.3 2.7 3.3 2.8 3.2 3.8 2.3 3 3M430.5 655.2l4.1-0.5 4.2-0.2 4.2 0.1 4.2-0.1M430.5 655.2l-3-4 -2.9-4.1 -4.4-2.8 -3.2-3.8M416.8 634.5l0.1 3 0.1 3M313.9 779.5l0.6-4.6 0.3-4.6 1-4.6 0.6-4.6 0.9-4.5 -0.6-4.8M285.9 751.5l3.9-2.2 4.5-1.1 4.1-1.9 4-2.1 3.9-2.2M285.9 751.5l-0.3 4.8 -0.2 4.9 -0.7 4.8M284.7 766l3.9 1.3 3.9 1.5 3.2 2.5 3.7 1.6 3.7 1.7 2.6 3.4 3.4 2.2M316.7 751.8l-3.1-3.6 -3.1-3.7 -4.2-2.5M360.4 721.4l-3.9 1.6 -4.1 1 -3.8 1.6 -3.6 2 -4.1 0.9 -3.5 2.5M360.4 721.4l-0.7-4 -0.6-4 0-4 -0.2-4.1 0.2-4M346.4 690.8l-4 1.8 -3.9 1.9 -3.2 3.1 -3 3.4 -4.1 1.7 -4 1.8M337.4 731l-3.3-3.4 -3.7-2.8 -4.1-2.4 -3.5-3.1M324.2 704.5l-0.1 4.9 -1.3 4.9 0 5M312.4 665.4l3.7 1.6 4 1.2 3.8 1.3 3.6 2 3.3 2.5 3.4 2.2 3.4 2.5 4.1 0.9 3.5 1.9M301.9 691.2l3.8 2 3.6 2.5 4 1.7 3.6 2.4 3.2 3.1 4.1 1.6M345.2 681.5l-0.2 4.7 1.4 4.6M335.5 745.9l1.2-4.9 -0.2-5.1 0.9-4.9M335.5 745.9l-4.4 2.4 -4.5 1.9 -5.1 0.3 -4.8 1.3M307.3 728.6l0.9 4.6 -1.2 4.4 -0.7 4.4M307.3 728.6l4-2.1 4.1-2 3.6-2.9 3.8-2.3M249.1 653.2l-4.2 2.2 -4.1 2.3 -4.4 1.5 -4.2 2.2 -4.7 0.8M249.1 653.2l1.1-4.2 1-4.4 1.3-4.2 0.1-4.5M252.6 635.9l-3.7-2.8 -1.2-4.3M247.7 628.8l-4.3 0.4 -4.4 0 -4.3 0.7 -4.3 0.2 -4.3 0.3 -4.3 0.1M221.8 630.5l-1.6 4 -3.4 3.1 -1.6 4 -1.6 4 -2.4 3.6M227.5 662.2l-3.7-3.3 -3.8-3.2 -4.4-2.4 -4.2-2.7M269.2 672.6l-3-3.6 -3.4-3.2 -3.4-3.1 -3.8-2.8 -3.4-3.2 -3.1-3.5M269.2 672.6l0.9 2.8 0.1 2.9M265.5 684.1l-4.7 1.5 -4.6 2 -5 1M251.2 688.6l-4.2-1.6 -4.3-1.4 -4-1.9 -3-3.4 -2.8-3.8 -3.7-2.3M252.5 602.2l-4.4-0.9 -4.5 0.6 -4.4-0.4 -4.4-0.1 -4.5 0.7 -4.4-1.3 -4.4 0.7 -4.4-0.3M252.5 602.2l-0.8 4.5 -1.1 4.3 -1 4.4 -0.2 4.5 -0.7 4.5 -1 4.4M212.6 603.7l2.6-0.5 1.9-2M212.6 603.7l0.4 4.1 0 4.3 2.1 3.6 2.3 3.5 1.4 3.7 1.3 3.9 1.7 3.7M189.3 634.2l3.5 2.7 4 2 3.1 3.4 3.7 2.3 3.5 2.7 4.1 1.9M189.3 634.2l-3.7 1.7 -3.5 2.3 -3.5 2 -3.9 1.2 -3.7 1.8M192.1 670.5l-4.6-1 -4.7-0.3 -4.5-1.2 -4.7-0.6 -4.7-0.3M192.1 670.5l3.1-3.4 2.3-4.3 3.6-2.9 4.2-2.4 3.7-2.9 2.4-4M171 643.2l-1 3.9 1.1 4.1 0.2 4.1 -0.9 3.9 -0.8 4 -0.7 3.9M386.5 669.6l-2.4 3.9 -1.3 4.2 -0.7 4.5 -1.5 4.1 -0.7 4.5 -1.9 4M386.5 669.6l3.5 2.3 3.7 2 3.9 1.4 3.8 1.6 4.2 1 3.2 2.8 3.4 2.5 4 1.2M378 694.8l3.8 2.2 4 1.9 3.4 2.8 3.4 2.8 4 1.9 3.8 2.3M416.2 684.4l-2.4 3.4 -2.6 3.2 -2 3.7 -2.8 3.1 -2.5 3.3 -1.8 3.8 -1.7 3.8M353.4 667.1l4.3-1.1 4.3-1.7 4.4-0.3 4.2-1.3 4.5-0.2 4.5 0.9 4.4 0.2M384 663.6l0.8 3.2 1.7 2.8M359.1 701.3l4.8-1.4 4.3-2.8 4.8-1.3 5-1M420.9 682.8l0-4.5 1.2-4 1.1-4 2.8-3.4 0.2-4.3 1.7-3.8 2.6-3.6M420.9 682.8l-2.4 0.6 -2.3 1M384 663.6l2.1-4 0.7-4.5M386.8 655.1l4-1.2 3.3-3 3.5-2.3 3.9-1.6 3.5-2.4 3.9-1.5 4.1-1.3 4-1.3M515.7 970.1l-2.5 0 -2.5-0.5M515.7 970.1l2.4 2.5 2.4 2.5M510.7 969.6l-3.4 2.8 -2.9 3.2 -3.3 2.9 -2.5 3.5 -3.1 3.1 -2 3.7 -2.3 3.7 -2.4 3.6 -3.1 3 -2.7 3.4 -1.7 4 -2 3.9 -1.8 3.9 -2.4 3.6M145.8 800.6l0.1 5.2 2.1 4.5 2 4.6 2.5 4.3M175.8 805.8l-2.7-3.2 -2.5-3.3 -2.4-3.4 -2.2-3.5 -3.4-2.6M175.8 805.8l-1.1 4.5 -3 3.5 -2.2 4 -1.9 4.1M167.6 821.9l-5.1-0.2 -5-1.2 -5-1.3M288.5 806.2l-4.5-1.4 -4.7-1.3 -4.7-0.8 -4.5-1.9M284.7 766l-4.3 1.8 -4 2.2 -3.5 3.1M270.1 800.8l0.2-4.7 -0.1-4.6 -0.1-4.7 1.5-4.5 -0.3-4.7 1.6-4.5M298.3 823.5l-4.7 1 -3.6 2.7 -3.5 2.8 -3.6 2.7 -3.5 2.9 -3.5 2.8 -3.7 2.5M298.3 823.5l-2.8-4.1 -2.9-4.1 -1.7-4.7 -2.4-4.4M272.2 840.9l-5.2-1.8 -5.1-2.1M261.9 837l-1-4.2 0.4-4.2 0.6-4.1 0.6-4.1 0.1-4.1 -0.4-4.2 0.6-4.1 0.5-4.1M270.1 800.8l-3.5 1.4 -3.3 1.7M175.8 805.8l4.8-0.7 4.8-1.1 4.9-0.6 4.9-0.5M168.9 775.2l4.2 2.1 4.4 1.4 4.2 1.9 4.4 1.5 4.7 0.6M190.8 782.7l0.9 4 0.9 4 1 4.1 1 4 0.6 4.1M299.5 861.6l-4.4 0.6 -4.3 1.3 -4.3 0.9 -4.5 0.4M282 864.8l-2.5 3.5 -2.4 3.5 -2.4 3.6M306 896.4l-4.9-1.3 -4.8 1.5 -4.8 0.4M291.5 897l-3.9-2.7 -2.1-4.2 -2.6-3.7 -2.3-4 -3.7-2.9 -2.2-4.1M406.9 942.2l-3.2 2.4 -2.7 3 -2.1 3.6 -3.3 2.4 -2.1 3.5 -2.6 3 -3.6 2.1 -2.3 3.4M406.9 942.2l1-0.4 -0.9-0.5M385 965.6l-4.1-1.8 -4.6-0.2 -4.5-0.6 -4.2-1.5M371.9 924.3l3.6 2.4 4 1.8 3.8 2 3.7 2.4 3.6 2.5 4.8 0 4 1.8 3.9 1.8 3.7 2.3M371.9 924.3l-3.9 3.9 -3.8 4M364.2 932.2l0.2 4.2 0 4.3 1.2 4.1 0.9 4.1 -0.5 4.3 0.7 4.1 0.9 4.2M350.3 989.2l1.2-4.5 0.3-4.8 0.7-4.7 2-4.4M385 965.6l1.3 4.8 1.6 4.7 2.8 4.1 2.7 4.2M367.6 961.5l-3.5 2 -3.1 2.7 -3.1 2.4 -3.4 2.2M311.1 972.1l-4.3-1.4 -4-1.9M311.1 972.1l2.8-3.5 3.5-3 3.7-2.7 3-3.3 2.9-3.6 3.1-3.2M302.8 968.8l-2.5-3.8 -1.3-4.3 -1.4-4.2 -1.8-4.1 -0.8-4.5 -0.7-4.4M330.1 952.8l0.9-2.9 -1.1-2.9M329.9 947l-3.3-2.5 -3.5-2.2 -3.5-2.3 -3.3-2.4 -3.2-2.7 -3.4-2.4 -4.2-1M294.3 943.5l2.2-5.3 3-4.8M305.5 931.5l-3.3 0.1 -2.7 1.8M315.6 983.9l-1.7-3.8 -1.3-4.1 -1.5-3.9M281.6 976l4.4-1 4.2-1.7 4.4-1 4.2-1.5 4-2M354.5 970.8l-3-3.2 -4.2-1.7 -3.3-2.8 -3.9-2 -2.9-3.3 -4-1.9 -3.1-3.1M272.2 949.7l4.3-1.4 4.3-1.8 4.5-0.8 4.5-1.3 4.5-0.9M342.9 932l-3.2 3.8 -3.2 3.8 -3 4 -3.6 3.4M342.9 932l4.3-0.5 4.2-0.9 4.3 0 4.3 0.6 4.2 1M259.6 923.3l0.8-2.4 0.6-2.4M279.5 915.9l-4.7 0.2 -4.6 0.8 -4.5 1.5 -4.7 0.1M279.5 915.9l4.1 2 3.5 2.8 3.1 3.1 2.9 3.4 3 3.3 3.4 2.9M291.5 897l-2.4 3.8 -3.4 3.2 -2.3 3.8 -1.7 4.2 -2.2 3.9M468.2 687l-4.5-0.6 -4.4 0.5 -4.2 1 -4.3 1.2 -4.1 1.7 -4.4 0.1 -4.3 0.9 -4.3 0.9M468.2 687l1.5 2.3 1.2 2.5M470.9 691.8l-1.6 3.8 -1.1 4 -1.3 3.9 -2.2 3.6 -1.5 3.9 -2 3.7 -1 4 -1.4 3.8 -0.6 4.2M435.7 719.4l4.8 0.7 4.3 1.9 4.2 2.5 4.7 0.8 4.5 1.4M468.4 681.4l0.3 2.8 -0.5 2.8M402.1 720.5l4.4 2.1 4.7 1 4.5 1.6 4.5 1.5M402.1 720.5l-0.7-5.9 -1-5.9M516.4 684.6l0.5 1.8 -1.1 1.6M470.9 691.8l3.9 1 3.8 1.8 3.7 1.5 4 1.2 3.6 2 3.9 1 4 1.1 3.9 1.2M515.8 688l-2.5 3.1 -2.4 3.5 -2.3 3.4 -3.4 2.4 -3.5 2.2M402.1 720.5l-3.3 3.4 -3.6 2.9M360.4 721.4l2.6 3.1 3 2.7M366 727.2l4.2-0.4 4.1-0.1 4.2-1.1 4.2-0.3 4.1 0.9 4.2 0.3 4.2 0.3M418.6 926.9l-0.4-3.2 -0.4-3.3M418.6 926.9l4.6 0.2 4.3 1 4.3 1.1 4.1 1.7 4.3 1.4 4.4 0.7M444.6 933l2.5-3.7 2.6-3.8 1.6-4.3 1.4-4.5 3.1-3.4 3.1-3.4 3.1-3.3M462 906.6l-3.8-1.2 -3-3.5 -3.8-1.4 -3.8-1.4 -3.9-0.9 -4-1.1 -4-0.7 -3.7-1.7M417.8 920.4l2.3-3.5 1.9-3.8 1.9-3.7 2-3.7 2-3.7 1.8-3.8 2.3-3.5M703.3 454.2l-0.6 0.7 -0.8 0.5M701.9 427.8l0 0 -0.1 0M701.8 427.8l-4.4 1.3 -4.6 0.1 -4.6-0.5 -4.4 1.3 -4.4 1M701.9 455.4l-4.8 0.3 -4.8 0.3 -4.8-0.7 -4.8 0.3M682.7 455.6l-1.8-3.6 -0.3-4.2 -0.6-4 -2.4-3.4 -1.4-3.8M682.3 456.1l-4.6-0.3 -4.2 1.8 -4.2 1.4 -4.2 1.3 -4.4 0.6 -4.2 1.5M676.2 436.6l-4.9 0.9 -5-0.6 -4.9 0.4 -4.9 1M656.5 438.3l-0.4 4 0.4 4 0.4 4 -1.2 4.1 0.1 4 0.7 4M679.5 520.7l-1.1-1.2 -1.5-0.7M679.5 520.7l1.3 0.2 1.3-0.5M680.8 484.6l0.3 0.3 0-0.4M680.8 484.6l-2.8 3.4 -2.5 3.7 -3.2 3.1 -2.5 3.7M682.1 520.4l2.9-3.7 3.9-2.9 2.4-4.3 3.1-3.6 3.4-3.3M697.8 502.6l-2.2-3.5 -3-2.9 -1.6-3.9 -1.9-3.7 -3.2-2.8M681.1 484.5l-0.8-4.1 0.5-4.1 0.6-4 -0.8-4.1 0.1-4 1-4 0.6-4.1M701.9 455.4l1.1 3.9 0 4.1 0.7 3.9 -0.6 4.1 0.9 4M704 475.4l-3.9 1.5 -3.7 2 -3.7 2 -3.4 2.5 -3.4 2.4M654.2 654.7l-3 1.2 -3.1 0.6M648.1 656.5l-1.8 3.7 -2 3.5 -1.7 3.7 -2 3.5 -1.5 3.8 -2.6 3.2 -2.1 3.5M669.6 703.4l-4.1-0.6 -3.9-2 -4-1.1 -4.2 0 -4.3 0.2 -4-0.9M634.4 681.4l2.6 3.3 1.6 3.8 1.5 3.9 3.2 2.9 1.8 3.7M680 75.7l-4.2 1 -4 1.7 -3.9 1.9 -4.1 1.3 -4.3 0.6M345.6 277.3l-3.6-0.6 -3-2.1M345.6 277.3l1.8 4.3 0.5 4.3 -0.7 4.4 -0.7 4.4M332.5 297.3l5 0.2 4.9 0.5M332.5 297.3l-1.4-4 -2.5-3.5 -1.8-3.9 -0.7-4.2M346.5 294.7l-2.1 1.5 -2 1.8M326.1 281.7l4.4-2.2 3.8-3.3 4.7-1.6M159.1 126.6l-3.3-2.4 -3.1-2.6 -3.7-1.7 -3.6-1.9 -3.9-1.4 -3.3-2.3 -3-2.7M159.1 126.6l3.8-2.8 3.7-2.9 4-2.6 3.6-3 3.2-3.5M177.4 111.8l-0.7-4.7 -1.8-4.2 -2.4-3.9 -2.5-3.9M159.9 89.9l5.3 2.2 4.8 3M159.9 89.9l-3.9 2 -3.8 2.2 -4.2 1.5 -3.4 2.7 -3.5 2.8 -3.9 1.9M606.8 218.6l5.1 0.5 5.1 0.6 5.1 1M606.8 218.6l-3.5 3.9 -3.1 4.2 -2.1 4.8M598.1 231.5l4.2 2.4 4.2 2.6 3.6 3.2M624.2 223.8l-1.8-1 -0.3-2.1M688 212.9l-4.3-2.8 -4.5-2.1 -4.7-1.8M667.1 229.5l4 0.8 3.3 2.5M667.1 229.5l-1.5-4.1 -2.1-3.8 -1.2-4.3M674.5 206.2l-2.6 3.3 -3 2.8 -3.2 2.7 -3.4 2.3M78.3 888.7l3.3 2.9 3.8 2.4 3.2 3.1 2.8 3.5 2.8 3.5 3.5 2.7M78.3 888.7l-4.1 1.8 -3 3.4 -3.7 2.4 -3.8 2.2 -3.8 2.1M59.9 900.6l1.7 3.7 2.6 3.3 1.4 3.8 1.9 3.6 1.7 3.7 0.5 4.2M97.8 908.9l-1-1 0.9-1.1M97.8 908.9l-3.7 2.5 -3.2 2.8 -2.5 3.6 -3.5 2.6 -2.3 3.8 -3.2 2.8M79.4 927l-4.7-2.4 -5-1.7M84.3 868.9l3.9 1.4 4 0.4 4 1.1 4-0.2 4.1-0.8 4 0.7 4.1-0.3M80.7 872.5l-0.2 4.2 -0.7 4 -0.4 4.1 -1.1 3.9M112.4 871.2l1 4.5 1.7 4.3 1.3 4.4M115.1 921.7l-2.9-3.3 -3.8-2.1 -3.6-2.3 -3.7-2.3 -3.3-2.8M129.9 919.1l0.6-4.1 1-4.1 0.4-4.2 -0.6-4.3 1.7-4 0.8-4.1M133.8 894.3l-4.3-2.5 -4.5-2.4 -4.5-2.2 -4.1-2.8M82.5 937l-1.5-5 -1.6-5M57.1 746.1l3.3-3.7 3.1-3.9 3.3-3.7 3.2-3.9M25.9 722.9l3.2-3.5 4.2-1.9 4.2-1.9 3.9-2.4 3.6-2.8 4.6-1M49.6 709.4l2.6 3.4 2.5 3.4 3.1 2.9 3.3 2.7 3.2 2.8 3 3.1 2.7 3.2M97.8 683.5l4.5 0.4 4.5 2 4.5-1.6 4.6-0.1M109.6 719.5l-4.3-0.9 -4.4-0.6 -4.3-1 -3.9-2.1 -3.9-2.3 -4.3-0.9M84.5 711.7l-0.9-2.9 -0.5-3M95.2 745.9l-3.4-2.4 -3.6-2.2 -3.8-1.7 -3.6-2.1 -3.8-1.7 -3.3-2.5 -3.4-2.5M84.5 711.7l-3.8 3.1 -2.1 4.4 -2.9 3.8 -3.7 3.2 -1.7 4.6M70.3 730.8l-0.2-0.2 -0.1 0.3M68.4 678.3l-1.2 4.1 -0.6 4.3 0.2 4.3 0.2 4.2M60.9 671l-5.1 1.5 -5.2 1 -5.3-0.8M51.4 703l-3.4-2.7 -2.3-3.6 -2.3-3.5 -2.3-3.5 -1.9-3.8M45.3 672.7l-2.3 4.2 -2.6 4.2 -1.2 4.8M67.7 649.8l-1 4.4 -1 4.3 -1.2 4.3 -1.4 4.3 -2.2 3.9M67.7 649.8l4.4 0.6 4.1 1.9 4.3 1.1 4.6 0.1 4 2.2M89.1 655.7l0.6 4.9 -0.8 4.9 -0.4 4.8 0.1 5M88.6 675.3l-4 1.1 -3.9 1.4 -4.2-0.7 -4.1 0.5 -4 0.7M83.1 705.8l-4.6-1.8 -4.1-2.5 -3.6-3.3 -3.8-3M65.7 645.8l0.7 2.1 1.3 1.9M36.4 660.9l2.5 4.3 3.5 3.5 2.9 4M49.6 709.4l1.2-3.1 0.6-3.3M261.9 837l-4 1.1 -3.5 2.6 -4.3 0.2 -3.8 1.7M239 804.8l3.6-2.2 3.8-2M239 804.8l-1.2 4.6 -1.4 4.5 0.4 5 -1.6 4.5 -1.5 4.5M263.3 803.9l-4.2-0.9 -4.1-1.6 -4.3-0.3 -4.3-0.5M246.3 842.6l-2.7-4.1 -2.9-3.8 -3.9-3.1 -3.1-3.7M202.9 816.2l3 3.8 3.3 3.4 3.4 3.2 3.7 3.1M202.9 816.2l-0.1-4.5 -0.6-4.4M239 804.8l-4.4-1.4 -4.3-1.9 -4.2-2.4 -4.5-1.6 -5.1 1.2M216.5 798.7l-3.8 1.8 -3.3 2.6 -3.4 2.4 -3.8 1.8M191.6 937.6l-1.2 1.5 -1.4 1.2M191.6 937.6l3.7 2.3 3.9 1.8 4 1.7 4.3 1 3.6 2.4 3.9 1.8 3.4 2.7M189 940.3l-0.3 4 0.1 4.1 -1.2 3.9 -0.5 4 -0.2 4 0.1 4 -1.9 3.8M218.4 951.3l-0.3 4.5 -0.4 4.4 -0.7 4.4 -1 4.3M185.1 968.1l-0.6 1 1.1-0.5M185.6 968.6l4 0.1 4 1.1 4 0.6 4.1 0.3 4 0.2 4.1-0.6 4 0.6M231.9 941.4l-2.1-3.4 -1.3-3.9 -1.9-3.6 -2.6-3.3 -1-4 -2.4-3.4M231.9 941.4l-3.7 2 -2.9 3.1 -3.1 2.9 -3.8 1.9M193.2 926.4l-1.3 5.5 -0.3 5.7M157.3 967.5l4.6 0 4.7-0.5 4.6 0.3 4.7-0.3 4.6-0.2 4.6 1.3M163.7 940.7l4.2 0.6 4.2-0.8 4.2-0.1 4.2-0.4 4.3-0.2 4.2 0.5M236.7 941.9l-2.4-0.4 -2.4-0.1M212.2 1006.9l0.3-4 -0.8-4 -0.4-4 -0.1-4.1 1.4-3.9 0.5-4 0.8-3.9 -1.3-4.1 1.2-4M416.1 592l3.2-3.8 2.1-4.4 2.1-4.5 2.6-4.1M426.1 575.2l4.4 1.1 4.1 2.5 4.5 0.6 4.7-0.5M443.8 578.9l2.7-3.1 2.9-2.9 2.7-3.2M366.4 551.4l0.1 4.4 -0.3 4.3 -0.3 4.4 0.1 4.3M366.4 551.4l3.8-1.4 4-1.1 3.5-2.1 3.5-2.2M366 568.8l4 3.2 4.7 2M396.4 565.9l0.7-2.3 1.4-1.9M398.5 561.7l-3-2.7 -2.9-2.8 -2.7-3.1 -3.2-2.6 -2.8-2.9 -2.7-3M423.8 567.9l-3.2-3.9 -3.4-3.5 -5-1.3 -4.3-2.2M398.5 561.7l4.8-2.2 4.6-2.5M423.8 567.9l2.9-3.2 3.2-2.8 3.1-3.1 3.2-2.8M452.1 569.7l-0.2-4.5 -0.1-4.5M451.8 560.7l-3.9-1 -4.3 0 -3.5-2.5 -3.9-1.2M407.9 557l0.6-4.7 2.1-4.2 1.6-4.4 2-4.2M414.2 539.5l4.8 1.5 4.8 1.2 4.3 2.7 4.8 1.4M627 509.1l-3.9-2.3 -3.5-2.6 -2.9-3.4 -3.4-3 -3.8-2.2M592 513.9l1.1-0.1 -1.1-0.2M607.5 521.6l3.7-2 4.3-0.5 3.8-2 3.5-2.3 4-1.4M609.5 495.6l-2.9 3 -2 3.9 -3.3 2.6 -2.4 3.6 -3.3 2.6 -3.6 2.3M500.5 589.1l-5.8 1.1 -5.9 0.9M500.5 589.1l3.4 3.2 3.5 3.1 2.8 3.8 3.1 3.5 4.4 2.2 2.8 3.8M513.5 622.1l2.5-3.2 2.7-3.1 2.3-3.4M520.5 608.7l0.4 1.8 0.1 1.9M596.3 551.2l0.2 5.2 0.4 5.2M594.3 566.4l1.6-2.2 1-2.6M580.6 572.1l-4.5-0.1 -4.2-1.3 -3.9-2.3M571.3 547.2l-3.4 3 -2.5 3.4 -1.3 4.1 -0.6 4.4M563.5 562.1l2.5 3 2 3.3M208.4 455.2l3.1-3.1 3.5-2.8 2.4-3.7 2.4-3.7M225.1 480.6l3.4-2.7 3-3.2 3.8-2.2 2.9-3.4 3.2-2.9M241.5 454.4l-0.1 5.9 0 5.9M207.8 455.3l0.3 0.1 0.3-0.2M219.9 438.1l-0.6 1.9 0.5 1.9M191.6 492.2l3.7 1.8 4 0.7 3.8 1.2M223.8 487.7l0.6-3.5 0.7-3.6M251.9 446.4l-3.7 2.4 -3.6 2.5 -3.1 3.1M251.5 423l-2.7-2 -2.7-1.9M66.7 547.9l4.1 1.8 4 2.1 4.5 1.2 4 2.1 3.8 2.5 3.4 3.1M66.7 547.9l-2.7 3.8 -2.2 4.1 -2.5 3.9 -2.8 3.7 -2.9 3.7M53.6 567.1l2.3 3.9 2.9 3.3 3.5 2.8 3.4 2.9 2.9 3.3M68.6 583.3l4.2-1.4 4.3-0.8 3.9-2.2 4.2-1.4 4.3-0.8M61.3 606.1l0.4-4.9 1.6-4.5 1.2-4.7 1.8-4.4 2.3-4.3M91.8 602.7l-3.6 2 -3.8 1.4 -3.3 2.6 -3.6 1.9 -3.9 1.5M91.8 602.7l0.2-4.1 0.1-4.2 -0.1-4.1 0.9-4.1 1.2-4M94.1 582.2l-2.1-2.9 -2.5-2.6M94.1 582.2l4.3 0.5 4.2 0.7 4.3 0.6 4.3-0.3 4.3 0.8M115.5 584.5l2-3.6 2.2-3.4 1.1-4 1.5-3.7 1.9-3.6 1.2-3.9 1.9-3.6M101.2 552.8l-3.4 2.8 -3.8 2.3 -3.5 2.8M127.3 558.7l-1-2.4 -0.3-2.6M31.6 550.9l3.5 2.9 1.5 4.3 2.5 3.6 3 3.3 1.9 4.1M37.6 577.4l3.5-4 2.9-4.3M36.2 539.3l-1 4.1 -2.2 3.6 -1.4 3.9M44.8 606.9l-0.7-4.3 -2-4 -0.9-4.3 -1-4.2 -0.7-4.3 -1-4.2 -0.9-4.2M53.6 567.1l-4.9 0.2 -4.7 1.8M45.8 359.7l3.9-2 4-2 4.2-1.1 4.1-1.3 4.5-0.2 4.2-1.4M75 387.5l-0.2-4.2 0.2-4.1 -0.1-4.1 -0.6-4.2 0.4-4.1 0.7-4.1 0.3-4.2 -1.1-4.1M70.7 351.7l2.3 0.9 1.6 1.8M114.9 395.3l4.2-3 4.5-2.8M131.5 425.7l2.6-3.6 2.6-3.6 3.4-3 2.3-3.9 2.5-3.7 3.2-3.2M123.6 389.5l3.4 2.4 3.4 2.2 3.4 2.4 2.7 3.5 3.3 2.5 4.3 0.9 4 1.3M159 404.1l-0.7-0.4 -0.7-0.5M148.1 404.7l4.8-0.2 4.7-1.3M162.8 671.4l3.2-1.9 2.9-2.4M136.4 638.2l3.9-1.6 4.2-0.4 4.1-0.5 4-1.1 4-0.8 4.2-0.1M207.7 726.5l3.3-3.3 2.8-3.7 1.6-4.5 2.6-3.8 3-3.6 3-3.5M195 721.6l-1.1-4.5 -1.1-4.5 -2.2-4.2 -0.2-4.7M190.4 703.7l2.5-3.7 2.6-3.7 1.9-4.2 2.2-3.9M199.6 688.2l4.2 0.4 4.3 0.2 4.4 0 4.2 1.4M216.7 690.2l2 4.8 2.2 4.8 3.1 4.3M181.5 729.6l4.2-3.2 4.5-2.7 4.8-2.1M192.1 670.5l2.7 4 1.6 4.6 1.7 4.5 1.5 4.6M229.2 674.2l-1.9 3.7 -2.5 3.2 -1.7 3.8 -2.9 2.9 -3.5 2.4M240.5 706.1l-4.1-1.1 -4.1-0.5 -4.2 0.3 -4.1-0.7M240.5 706.1l1.4-3.9 2.2-3.5 2.4-3.4 2.1-3.5 2.6-3.2M175.3 753.1l4.3 1.4 4.4 1.3 4.5 0.9 4.5 0.6 4.5 0.8 4.6 0.4 4.3 1.7M207.7 726.5l2.2 1.7 0.8 2.6M210.7 730.8l-0.9 4.1 0.3 4.4 -0.4 4.2 0.7 4.4 -1.4 4.1 -0.8 4.1 -1.8 4.1M190.8 782.7l3-3.1 3.2-2.8 3.1-3 2.8-3.3 2.8-3.1 3.1-3M216.5 798.7l0.9-4.2 0.1-4.2 0.7-4.2 0-4.2 -0.7-4.3 0.6-4.2 -0.1-4.2M202.2 807.3l-3.5-2.2 -3.5-2.2M218 769.2l-4.7-2.3 -4.5-2.5M246.4 800.6l-0.5-4.4 -2.2-4.1 -1.2-4.3 -0.1-4.4 -0.7-4.4 -0.9-4.3 -0.9-4.4 0.2-4.5M218 769.2l4.4-1 4.5 0.1 4.6 0.2 4.3-1 4.3-1.7M206.4 760.2l1.4 2 1 2.2M173.7 519.5l3.8 2.6 3.5 2.9 2.8 3.7 3.6 2.8 3.3 3.1M209 526.4l-3.5 2.5 -2.2 3.8 -3.1 2.8M200.2 535.5l-4.7-0.5 -4.8-0.4M166.8 555.8l-2.3-4.2 -3.9-2.7 -3-3.6 -4.7-2 -2.2-4.4M166.8 555.8l2.5-0.4 2.4 0.8M190.7 534.6l-3.1 2.7 -2.1 3.6 -3.5 2.4 -2.7 3.2 -3 2.8 -3 2.9 -1.6 4M189.3 634.2l-1.3-4.1 -1.2-4 -0.2-4.1 2-4 0.7-4M212.6 603.7l-0.2-0.7 -0.5 0.6M209.1 559.3l-3.3 3 -3.3 3 -3.4 2.8 -3.4 2.9 -2.8 3.5M209.1 559.3l-1-4.1 -1.7-3.9 -1.7-3.9 -1.6-3.9 -1.1-4.1 -1.8-3.9M171.7 556.2l3.5 2.6 2.8 3.2 3.3 2.7 2.7 3.4 3.4 2.6 2.1 3.9M189.5 574.6l1.7-0.2 1.7 0.1M243.1 410.1l1.7-4.1 1.6-4 1.1-4.4 2.1-3.8 1.8-4.1 3.2-3.3M217.4 378.4l-1.3 3.8 -1.4 3.8 -1.8 3.6 -2.4 3.3M217.4 378.4l4.1-0.6 4-0.3 4 0.7 4.1 0.9 4 0.5 4-0.2 4.1 0.3 4 0.5M254.6 386.4l-2.8-2.9 -2.1-3.3M272.7 422.2l1.5-4.4 0.6-4.6 1.4-4.5 0-4.6 0.4-4.6M276.6 399.5l-3.3-2.4 -3.4-2.2 -3.2-2.4 -2.9-2.9 -3-2.8M254.6 386.4l3.1-0.2 3.1 0.6M276.6 399.5l4.6 0 4.1-2 4.4-1.1M260.8 386.8l2.7-3.3 2.8-3 3.1-2.8 3-2.8 4-1.7 3-2.9 3.1-2.7M306.7 355.3l-3.7 1.8 -4.1 0.5 -3.7 2 -4.2-0.1 -3.8 1.2 -4.1 0.4M295.4 384.2l3.9-1.2 3.9-1.2 3.9-1 4.2 0.2 4-0.8M315.3 380.2l-1.5-3.9 -1.2-3.9 -0.6-4.2 -0.9-4.1 -1-4 -1.7-3.9M283.1 361.1l0.4 3.3 -1 3.2M286 530.9l1.6 4 1.6 4 1.4 4.1 2.4 3.7 1.6 3.9M321.3 528.3l-2.6 3.6 -1 4.3 -1 4.2 -1.7 3.9 -2.1 3.8M312.9 548.1l-4.6 0.1 -4.6 0.6 -4.6 0.6 -4.5 1.2M406.9 942.2l2.1 3.5 2.3 3.4 2.9 2.9 2.6 3.1 2.2 3.4 2.9 2.9 2 3.6 1.7 3.8 2.7 3M407 941.3l2.5-3.9 2.9-3.6 3.3-3.3 2.9-3.6M444.6 933l1.9 3.9 2 3.8 2 3.8 2.2 3.7 2.4 3.7M455.1 951.9l-3 2.9 -4 1.7 -3.5 2.2 -3.1 2.9 -4 1.6 -3.1 2.8 -2.8 3.3 -3.3 2.5M423.1 983.4l2.4-1.4 1.4-2.4M475.1 1017.9l-1-4.2 -2-3.7 -0.6-4.4 -2.4-3.6 -2.7-3.4M466.4 998.6l-4-1.9 -4.1-1.5 -4.4-1.1 -4.1-1.5 -3.4-3.1 -4-1.6 -4-2 -3.7-2.4 -3.8-2.1 -4-1.8M426.9 979.6l0.5-3.9 0.9-3.9M668.4 790.4l-4.3-0.3 -4.4 0.1 -4.2-0.8 -4.2-1.4 -4.2-1 -4.3-0.1 -4.3-0.1 -4.2-0.9 -4.5 1M668.4 790.4l-1.8 4.1 -2.3 3.7 -1.7 4.1 -2.1 3.8 -2.4 3.7 -1.8 4 -2.4 3.7M626.2 795.9l1.8-4.5 1.8-4.5M626.2 795.9l1.9 4.2 3.2 3.5 2.3 4 2.7 3.8 1.9 4.3 1.5 4.4M711.6 881.3l-3.4-2.4 -2.9-3.2 -3.5-2.4 -3.2-2.7 -3.3-2.6 -3.1-3 -3.8-1.9M705.4 844.3l-3.3 3 -3 3.4 -3.7 2.7 -3.5 2.7 -3.1 3.3M688.4 863.1l0.3-1.8 0.1-1.9M695.2 816.9l1.2 4 1.4 3.9 1.6 3.9 0.7 4.2 1.7 3.8 1.7 3.8 1.9 3.8M714 926.3l-3.2-3.1 -1.7-4 -1.9-3.9 -2.8-3.4 -1.9-3.8 -2.5-3.5 -2-3.8M698 900.8l2.5-4.1 2.6-4 2.4-4.1 3.2-3.5 2.9-3.8M694.1 816.4l0.8-0.4 0.3 0.9M694.1 816.4l-3 3.3 -3.6 2.3 -3.1 3.1 -3.7 2.3 -3.7 2.3 -3.7 2.3 -3.2 2.9M669.9 837.9l0-1.5 0.2-1.5M669.9 837.9l3.1 2.7 2.7 3.1 2.5 3.2 2.4 3.4 2.6 3.2 2.5 3.2 3.1 2.7M639.9 985.4l3-3.1 2.8-3.1 3.7-2.3 3-3 3.4-2.5M655.8 971.4l3.2 2.8 3.7 2.3 3.1 3.1 3.3 2.6 3.7 2.3M625.9 981.8l4.6 1.4 4.7 1.3 4.7 0.9M677.5 943.2l-3.9 2.1 -2.8 3.2 -3.1 2.9 -2.3 3.8 -3.4 2.6 -3.3 2.7 -3.2 2.8M694.8 973.7l-4 1.2 -4 1.1 -3.5 2.2 -3.8 1.4 -3.7 1.9 -3 3M655.5 963.3l0.7 4 -0.4 4.1M625.9 981.8l-2-3.7 -1.9-3.6 -1-4 -0.6-4 -1.1-3.9 -0.6-4.1 -2.3-3.5 -0.3-4.2M655.5 963.3l-3.7-2.2 -3.4-2.5 -4.2-1.4 -3.5-2.5 -3.7-2.2 -3.9-1.9 -2.2-4.3M630.9 946.3l-4.5 1.4 -4.6 1.1 -4.7-0.1M616.1 950.8l0.8-0.9 0.2-1.2M587 981.1l0.7-4 1.4-3.9 0.9-4.1M616.1 950.8l-3.6 2.8 -3.5 2.9 -4 2.2 -4.6 1.5 -2.8 3.9 -3.5 3 -4.1 2M137.5 833.6l1.5 4.5 2.1 4.2 1.7 4.4 1.8 4.4 2.8 3.9M137.5 833.6l-4.8-0.7 -4.2-2.2 -4.5-1.7 -4.2-2.3M109.4 836.8l3.5-4.7 3.6-4.7M115 866.9l4.4-0.4 4.3-1 3.9-1.7 3.9-2 4.1-1.2 4-1.7 4-1.5 3.8-2.4M116.5 827.4l1.6-0.8 1.7 0.1M132.8 797.2l-2.1 3.4 -1.5 3.8 -1.3 3.9 -1.1 3.9 -0.8 4 -1.7 3.7 -1.7 3.6 -2.8 3.2M152.5 819.2l-2.8 3.1 -1.8 4.2 -3.5 2.2 -3.3 2.7 -3.6 2.2M88.6 839.5l4.2 0 4.1-1 4.2-0.3 4.1-1.2 4.2-0.2M96.9 805.3l3.7 2.4 2.9 3.1 2.4 3.5 2.8 3.1 2.2 3.7 2 3.8 3.6 2.5M112.4 871.2l1.5-2 1.1-2.3M254 907.7l2.7-3.7 1.3-4.1 1.7-4.1 1.6-4 0.8-4.4 0.8-4.3 0.5-4.5M254 907.7l-4.2-1.9 -4.4-0.6 -4.5-0.5 -4.5-0.3 -4.3-1.2 -4.5-0.5M227.6 902.7l-2.3-2.9 -1.6-3.5M223.7 896.3l2.1-3.9 3.1-3.4 2-4 1.4-4.3 2.5-3.7 2.3-3.8 1.5-4.3 2.3-3.8M240.9 865.1l3.8 2.2 3.6 2.5 4.3 1.3 3.8 2.1 3.8 2.2 3.2 3.2M261 918.5l-3.3-3 -2.3-3.6 -1.4-4.2M274.7 875.4l-5.6 1.8 -5.7 1.4M220.6 919.8l1.9-4.2 1.1-4.5 2.2-4.2 1.8-4.2M272.2 840.9l0.5 4.5 1.3 4.1 2 3.8 1.9 3.9 2.5 3.6 1.6 4M246.3 842.6l-1.4 3.8 -1.8 3.6 -1.6 3.7 -0.9 3.9 -1.4 3.8M239.2 861.4l0.2 2.1 1.5 1.6M335.5 745.9l2.6 3.5 3.6 2.5 2.4 3.7 3.2 2.9 3.2 2.9M366 727.2l0.3 4.1 1.4 4.1 -1.6 4 -1.4 3.9 -0.1 4.1 0.1 4 -1 4.1 1 4M350.5 761.4l4.9 0.7 4.6-1.7 4.7-0.9M313.9 779.5l4.1 1.9 3.8 2.7 4.3 1.5 4.2 1.7M350.5 761.4l-2.5 3.3 -2.1 3.5 -3.5 2.5 -2.6 3.2 -2.3 3.4 -2.1 3.6 -1.7 3.8 -3.4 2.6M417.8 920.4l-2.7-3.5 -3.2-2.8 -3.2-2.8 -3.4-2.6 -4-1.9 -4-1.8 -2.8-3.4 -2.9-3.1M427.2 879.2l2.2 3.5 0.4 4.2 0.7 4 1.5 3.8M391.6 898.5l3-2.8 2.8-3.1 2.3-3.6 3.1-2.8 2.7-3.1 2.5-3.4M371.9 924.3l0.6-4.7 1.6-4.5 -0.2-4.8 0.9-4.6 -0.7-4.8M391.6 898.5l-4.5-0.3 -4.4 0.7 -4.3 0.8 -4.3 1.2M349.4 888.4l4.5 0.4 4 1.9 4.1 1.7 4.4 0.5M366.4 892.9l3.7 4.1 4 3.9M701.8 427.8l-1.1-4.1 -1.2-3.9 -1.1-4 0.1-4.3M704.8 403.2l-3.1 4.2 -3.2 4.1M675.3 418.4l-4.6-1.5 -4.6-1.3 -4.8-0.9M675.3 418.4l1.5-4.3 2.9-3.5 2.5-3.7M682.2 406.9l-0.5-3.7 -1.4-3.6M680.3 399.6l-4.5-0.6 -4.6-0.4 -4.5-0.8 -3.9-3 -4.3-1.3M661.3 414.7l-0.8-4.1 0.3-4.4 -0.6-4.1 -1.3-4.1 -0.9-4.2M658 393.8l0.8 0.5 -0.3-0.8M679.4 431l-1.6-4.1 -1.6-4.1 -0.9-4.4M698.5 411.5l-4.3-0.2 -3.8-2.1 -4.3-0.3 -3.9-2M704.8 403.2l-1.6-3.9 -1.2-4 -1-4.1 -2.6-3.4M698.4 387.8l-3.7-1.8 -3.8-1.6M690.9 384.4l-2.6 3.8 -3.6 3.1 -2.2 4.2 -2.2 4.1M627 509.1l2.8-3.1 3-3.1 2.3-3.6 3.3-2.8 2.9-3.1M653.6 520.2l-2.3 2.4 -2.3 2.4M626.8 513.4l3.2 4.1 2.5 4.6M649 525l-4-1.5 -4.3 0 -4.1-0.5 -4.1-0.9M641.3 493.4l2.9 0.1 2.9 0.4M680.8 484.6l-3.8-3.1 -4.2-2.1 -4.3-2 -4.4-1.8 -4.6-1.4M647.1 493.9l3-3.6 2.4-4 2.5-3.9 3-3.6 1.5-4.6M656.5 462.4l-0.3 0.1 0.1 0.3M659.5 474.2l-2.2-5.6 -1-5.8M681.7 263.4l1.6-0.7 1.7-0.4M685 262.3l2.9 3.5 3.4 2.8 4.5 1.5 2.9 3.4 3.2 3.2M673.4 283.7l2.4 2.4 0.5 3.4M676.3 289.5l4.7 0.3 4.7 1 4.6 0.5 4.7 0.1 4.8-0.1M701.9 276.7l-1.1 4.8 -1.1 4.8 0.1 5M729.4 261.3l-4.1 1.8 -4 2 -4 2.1 -2.9 4.2 -4.6 1 -3.4 3 -4.5 1.3M689.7 253.2l-2.7 4.4 -2 4.7M700 291.7l0.3-0.4 -0.5 0M700 291.7l-1.5 4.4 -2 4.1 -1.1 4.5 -2.5 4.1 -0.7 4.6M670.8 303.7l1.8-4.7 3-4.3 0.7-5.2M670.8 303.7l0.1 0.6 0.1 0.5M671 304.8l4.2 1.8 4.3 1.5 4.4 1.5 4.2 1.9 4.1 1.9M695.1 344.9l3.5-2.2 3.6-2.1 4.2-0.4 3.9-1.3 3.7-1.8 4-1 3.7-1.8 3.8-1.5 3.6-1.9 4-1.1 3.9-1.2M695.1 344.9l-2.6-3.5 -2.4-3.7 -2.6-3.6 -2.1-4M737 328.6l-4.1-0.6 -4.1-0.7 -4.4 0.3 -4.1-0.8 -4.1-0.4 -3.7-2.2 -3.9-1.5 -3.7-2 -3.8-1.9 -4-0.9 -3.9-1.5M685.4 330.1l3.1-4.2 1.9-5.1 2.8-4.4M693.2 316.4l-0.3-1.6 -0.7-1.4M699.2 502.7l2.9-2.9 2.5-3.5 3.5-2.1 3.7-1.8 4-1.4 3.4-2.2 3.2-2.4M699.1 530.7l-3.7-3.5 -4.4-2.4 -4.9-1.5 -4-2.9M697.8 502.6l0.7 0.5 0.7-0.4M701.8 541.5l-1.5-5.3 -1.2-5.5M701.8 541.5l-1.6 3.8 -2.2 3.4 -2.2 3.4M695.8 552.1l1.7 3.4 1.1 3.6M693.6 578.7l-4.5-0.4 -3.8-2.3 -4.3-0.6 -4.1-1.4 -4.1-1.5 -4.1-1.4M695.8 552.1l-4.5-0.8 -4.6-0.7 -4.5-0.9 -4.6 0.2 -4.5-1.3M668.7 571.1l0.6-4.6 2.6-4.1 -0.4-4.8 0.9-4.5 0.7-4.5M685.1 605l-4.5-2 -4.8-1.5 -4.7-1.5 -4.3-2.7M666.8 597.3l1.3-4.3 -0.6-4.3 0.7-4.3 -0.9-4.3 0.4-4.3 0.4-4.3M668.7 571.1l-0.1 0.4 -0.5 0M679.5 520.7l-0.8 4.4 -1.2 4.3 -1.6 4.1 -1.8 4.1 -1.1 4.3 -1.7 4.1M649 525l1.4 4.4 0.9 4.6 1.7 4.3 0.9 4.5M671.3 546l1.1 1.2 0.7 1.4M653.4 600.9l-1.9-3.9 -2.1-3.9 -1.5-4.2 -2.4-3.6 -2.5-3.7M653.4 600.9l-1.6 4.2 -1.6 4.2 -3.5 3.1M643 581.6l-4.2 2.9 -4.7 1.5 -4.9 0.9M629.3 615.3l-2-2.7 -2.2-2.7M666.8 597.3l-4.4 1.4 -4.4 1.3 -4.6 0.9M668.1 571.5l-4.3 0.9 -4.3 0.1 -4.3 1.3 -4.3-1.3 -4.4-0.8M646.5 571.7l-2.5 4.7 -1 5.2M664.9 634.3l-3.2-2.6 -2.5-3.2 -2.3-3.4 -2.8-3 -2.2-3.4 -2.6-3.2 -2.6-3.1M648.1 656.5l-3.3-2.4 -3.4-2.3 -2.5-3.6 -3.7-1.8 -2.9-2.9 -3.6-2 -3.4-2.3 -4.1-1.1M621.2 638.1l1.1-3.9 0.4-4.1 1.3-3.9 1.1-3.9 3-3.2 1.2-3.8M601 585.9l2.4 1.4 2.5 1M601 585.9l-4.4 2.9 -4.9 1.9 -4.3 2.9M605.9 588.3l1 4.1 1.1 4 1.5 3.9 0.9 4.1M587.4 593.6l-0.2 4 -0.6 4 -0.4 4 0.3 4 0.4 4 0 4M618.7 568.6l-4.4-1.3 -4.2-1.7 -4.2-1.9 -4.6-0.8 -4.4-1.3M618.7 568.6l0.1 4.1 0.6 4.1 -0.2 4.1M619.2 580.9l-4.8 1.9 -4.1 3.1 -4.4 2.4M594.3 566.4l1.2 4 0.8 4.1 1.7 3.7 1.3 4 1.7 3.7M580.2 588.4l0.5-4.1 -0.3-4.1 -0.1-4 0.3-4.1M619.2 580.9l5 3 5 3M625.1 609.9l-5-1.6 -4.8-1.9 -4.9-2M621.2 638.1l-5.1 1.2 -4.8 2M590 629.9l3.6 1.8 3.3 2.4 3.5 2 3.5 1.9 3.8 1.5 3.6 1.8M590 629.9l-2.6-4.9 -1.8-5.4M585.6 619.6l0.8-0.9 0.5-1.1M590 629.9l-2.8 3.3 -3.3 3 -2.4 3.6 -3.1 3 -1.7 4.1 -2 3.9M611.3 641.3l-1.2 3.8 -0.6 4 -1.8 3.7 -2.3 3.5 -0.9 3.9 -0.1 4.1M574.7 650.8l2.2 3.4 2.3 3.4 1.5 3.8 2 3.5 0.9 4.1M583.6 669l4.2-0.9 4.1-1.1 4.2-0.8 4.1-1 4.2-0.9M634.4 681.4l-4 1.2 -4 0.3 -4-1 -4-0.3M618.4 681.6l-3.1-3.2 -2.5-3.7 -3.2-3.1 -2.6-3.7 -2.6-3.6M709.1 712.9l-2.2 3.8 -2.3 3.7 -2.2 3.7 -1.8 3.9 -3 3.2 -1.5 4.1 -0.8 4.5 -1.8 3.9M670.5 705.1l-0.4 4.6 -0.4 4.6 -0.1 4.7 -0.2 4.6 -0.3 4.7M693.5 743.7l-3-3 -4-1.3 -3.4-2.3 -3.5-2.2 -3.1-2.8 -3.6-2.1 -3.8-1.7M645.1 699l-2.4 3.4 -2.7 3.3 -2.4 3.4 -2.3 3.4 -1.8 3.9 -2.7 3.2 -2.1 3.6M628.7 723.2l1 3.1 0.9 3M630.6 729.3l4 1.5 2.8 3.1 3.8 1.6 3.7 1.9 3.1 2.7 3.2 2.5M669.1 728.3l-3.7 2.7 -3.7 2.7 -3.8 2.7 -3.2 3.3 -3.5 2.9M668.9 790.1l-0.2-4.4 -0.5-4.4 -0.6-4.4 -0.2-4.4 -0.1-4.4M668.9 790.1l5.1 1.2 4.8 2.1 4.7 2M667.3 768.1l3.2-2.7 3.9-1.8 3.4-2.3 2.5-3.8 3.6-2.1 3.8-1.9 4.3-1 3.5-2.3M720.6 767.9l-3.5-2.7 -3.3-2.9 -3.6-2.4 -3.7-2.5 -3.3-2.9 -3.9-2 -3.8-2.3M668.4 790.4l0.4 0.2 0.1-0.5M629.8 786.9l-1.9-4.6 -1-4.8 -1.4-4.8M652.1 754l2.6 3.2 2.9 3 2.6 3.3 3.9 1.9 3.2 2.7M694.1 816.4l-2.2-4.1 -1.9-4.4 -1.9-4.3 -2.9-3.7 -1.7-4.5M670.1 834.9l-3.4-3.3 -3.3-3.5 -2.8-3.8 -3.3-3.5 -3.4-3.3M693.5 743.7l0.9 3.3 1.1 3.2M651.2 742.6l0.2 5.7 0.7 5.7M674.4 232.8l-1.6 4.3 -2.2 4.1 -2.3 4 -2.4 3.9M681.7 263.4l-3.8-1.9 -4.1-1M673.8 260.5l-2.8-3.7 -2.4-3.9 -2.7-3.8M667.1 229.5l-5.6 1.8 -5.5 2M654.5 248.3l5.7 0 5.7 0.8M654.5 248.3l-0.2-1 -0.9-0.3M653.4 247l0.3-4.7 0.8-4.6 1.5-4.4M702.3 125.1l-3.7-1.8 -3.9-1.2 -2.8-3.1 -3.5-2.1 -2.9-2.9 -3.6-1.8M681.5 140.5l-2.8-0.7 -2.8-0.9M675.9 138.9l1-4.4 0.7-4.5 1.1-4.5 1.5-4.3 0-4.7 1.7-4.3M687.5 97.3l-2.9 2.8 -3.2 2.5 -2.1 3.6M681.9 112.2l-1.1-3.1 -1.5-2.9M659.5 82.2l-0.8 2.5 -1.3 2.3M657.4 87l3.4 2.8 3.6 2.6 2.5 3.6 3.2 3 3.2 3 2.3 3.9M679.3 106.2l-1.9 0.1 -1.8-0.4M657.4 87l-0.6-0.1 -0.3 0.4M662.9 113.4l3.8-3.2 4.4-2.2 4.5-2.1M662.9 113.4l-4.4-0.8 -4.5-0.7 -4.1-2 -4.1-2M645.8 107.9l1.7-4.4 2.2-4.1 2.3-3.9 2.5-4 2-4.2M656.5 87.3l-4.8-0.6 -4.6-1.3 -4.9 0.1 -4.7-1.3M276.7 89.2l3.3 3.4 3 3.7M283 96.3l4-1.4 4.2-0.7 4-1.4 4.3 0 4.2-0.8 4.1-0.8M334.4 89.3l-3 2.7 -2.1 3.3M329.3 95.3l-4.8 1 -4.8 1 -4.9 0.2M307.8 91.2l3.8 2.9 3.2 3.4M238 96.7l-4.1 1.1 -4 0.1 -4-1 -3.9-1 -4-0.4 -4-0.4M238 96.7l3.1 4.6 4.5 3.3M246.8 112.2l-2.2 4.2 -2.2 4.3 -3 3.7 -3.5 3.3M246.8 112.2l0.2-3.9 -1.4-3.7M235.9 127.7l-4.6-0.2 -4.5-0.3 -4.5-0.1 -4.5-1 -4.4-1.3M214 95.1l-1.9 4.4 -3.5 3.6 -1.8 4.4 -1.2 4.8M205.6 112.3l2.6 4.2 1.9 4.6 3.3 3.7M211.6 90.5l1.7 2 0.7 2.6M276.7 89.2l-3.9 1.9 -3.9 1.9 -3.7 2.3 -3.4 3 -3.9 1.9 -4.4 0.9 -3.9 1.8 -4 1.7M190.2 82.1l-3.8 1.5 -3.7 1.6 -3.3 2.4 -3.1 2.5 -3.2 2.5 -3.1 2.5M185.9 116.4l-4.4-1.9 -4.1-2.7M185.9 116.4l3.9-0.9 3.9-1.1 4.1-0.2 4-0.5 3.8-1.4M41.1 113.5l0-0.7 0.5 0.5M41.6 113.3l1.5-4.2 1.3-4.3 0.2-4.6 1-4.3 1.1-4.4 1.4-4.2M49.8 86l-1.2 0.2 -0.5 1.1M57.7 323l-0.7-4.2 -0.2-4.2 -0.8-4.2 0.4-4.3 -0.2-4.2 0.2-4.3M57.7 323l-4.2 2 -4.2 1.8 -4.3 1.4 -4 2.6 -4.8 0.2M56.4 297.6l-3.7 2 -4.1 0.9 -4.1 0.9 -3.8 1.5 -3.7 1.9 -3.9 1.3 -3.7 1.8 -4 1.2 -3.6 2 -3.6 2.1M36.2 331l-2.8-3.2 -2.7-3.3 -3.7-2.2 -2.8-3.1 -2.7-3.4 -3.3-2.6M35.8 351.5l-0.2-4.1 0.1-4.1 0.3-4.1 0.2-4.1 0-4.1M70.7 351.7l-1.2-4.8 -0.8-4.8 1-4.9 -0.2-4.9M69.5 332.3l-3.7-3.4 -4.2-2.8 -3.9-3.1M40.4 278.3l2.5 3.4 3.7 2.2 3.1 2.8 1.5 4.1 2.7 3.2 2.8 3M56.7 297l-0.4 0.2 0.1 0.4M26.8 258.7l3.2-3.3 3-3.5 2.8-3.6 2.8-3.7 2.9-3.6 3.5-3.1M32.4 224.1l3.3 3.3 2.9 3.7 3 3.6 3.4 3.2M40.4 278.3l0.7-2.2 -0.6-2.2M40.5 273.9l-3.1-2.7 -2.9-2.9 -3-2.8 -2.3-3.6 -2.4-3.2M40.7 200.3l-1.6 3.9 -2.2 3.7 -1 4.1 -0.9 4.1 -1.7 3.9 -0.9 4.1M40.5 273.9l3.4-2.6 3.1-3 3.4-2.6 3.2-2.9 3.5-2.5M50.1 239l0.8 4.5 0.5 4.6 1.2 4.3 2.5 3.9 2 4M50.1 239l-2.6-0.3 -2.5-0.8M124.5 88.9l-4.5-0.7 -4.4 0.7 -4.4 0.8 -4.5-0.1 -4.5 0.3M102.2 89.9l-1-4.2 -2.6-3.7 -1-4.2 -1-4.2 -1.9-3.9 -1.3-4.1 -1.6-4 -1.1-4.2 -1.8-3.9M137.2 103l-3.4-3.4 -3-3.6 -3-3.7 -3.3-3.4M67.7 87.8l-4.5-0.1 -4.5-0.6 -4.4-1.4 -4.5 0.3M67.7 87.8l1.6-3.8 1.8-3.6 2-3.5 2-3.5 1.8-3.7 2.1-3.4 2.8-3 2.3-3.3 2.2-3.4 2.6-3.1M185.9 116.4l0.1 4.4 -0.2 4.4 0.2 4.3 0.3 4.4 0.3 4.4 -1.3 4.3 -0.2 4.4M209.2 141.3l1-4.1 2.2-3.9 -0.3-4.5 1.3-4M209.2 141.3l-4 1.4 -3.5 2.6 -4 1.2 -4 1.2 -4.3 0.6M189.4 148.3l-2.2-0.2 -2.1-1.1M159.1 126.6l-0.8 4.9 -0.5 4.9 1.4 4.8M159.2 141.2l4.9 0.4 4.5 1.5 4.3 2.2 4.5 1.7 4.5 1.2M185.1 147l-1.8 0 -1.4 1.2M33.1 176.4l2.6-3.1 1.5-3.9 3.2-2.8 2.3-3.3 2.4-3.3M45.1 160l-1.7-4.5 -2.1-4.4M41.3 151.1l-4.9-2.3 -4.6-2.5 -4.5-3M40.7 200.3l0.3-1 1-0.1M42 199.2l-1.1-3.9 -1.6-3.8 -0.9-4 -1.8-3.7 -2.9-3.2 -0.6-4.2M41.1 113.5l-1.6 3.8 -2 3.6 -2 3.6 -1.8 3.7 -1.7 3.7 -1.1 4 -1.7 3.8 -1.9 3.6M441.4 77.2l-4.6 2.3 -4.5 2.5 -3.8 3.7M397.8 72.7l3.7 2.7 4 2.4 3.2 3.4 3.3 3.2 3.7 2.8M428.5 85.7l-4.3 0.4 -4.2 0.6 -4.3 0.5M397.8 72.7l-3.1 3.1 -2.2 3.9 -3.3 3 -2.2 3.9M387 86.6l-4-1 -4 0.3 -4.1-0.4 -4 0.1 -4 0.4 -4 0.3 -3.9 1.8M334.4 89.3l4.7-0.1 4.8-0.4 4.7 0.7 4.7 0.1 4.7-0.2M359 88.1l-0.4 0.7 -0.6 0.6M662.3 217.3l-3.4-0.8 -3.4-1.2M656 233.3l-3.5-2.2 -3.4-2.2 -3.2-2.5M655.5 215.3l-3.9 3.1 -3.1 3.8 -2.6 4.2M634.2 245.9l2-0.2 1.4-1.4M634.2 245.9l-3.4-2.5 -3.1-2.9 -3.1-2.8 -3.2-2.6M624.2 223.8l4.2-1.3 4.4-0.3 4.2-0.8M637 221.4l3.1 3.4 4.2 1.8M637.6 244.3l5.3 0.6 5.3 0.7 5.2 1.4M644.3 226.6l0.8 0 0.8-0.2M686.9 185.4l-4.8-0.2 -4.6 1.6 -4.5 1.5 -4.7 0.9M674.5 206.2l-2-3.9 -2-4 -2.7-3.5M668.3 189.2l-0.5 2.8 0 2.8M655.5 215.3l-2.5-5.3 -2.4-5.4M667.8 194.8l-4.5 2.1 -4.8 1.7 -3.8 3.2 -4.1 2.8M640 206.5l-1.1 4.9 -0.3 5.1 -1.6 4.9M640 206.5l3.1-2.4 4-0.6M647.1 203.5l1.9 0 1.6 1.1M506.6 219.2l-1.6-4.3 -2.7-3.8 -2.3-4M506.6 219.2l4.7 0.4 4.4-1.3M515.7 218.3l1.7-4.4 0.7-4.7 1.5-4.5M519.6 204.7l-1.5-1 -1.5-1M516.6 202.7l-5.2 0.6 -5.3-0.6 -5.1 1.6M500 207.1l-0.6-1.8 1.6-1M515.7 218.3l2.8 3.2 2.9 3M519.6 204.7l4.3-0.9 4.3 0.3M521.4 224.5l5.8-0.6 5.6-1.9M532.8 222l1-4 2.4-3.4M536.2 214.6l-2.4-3.7 -2.5-3.6 -3.1-3.2M133.8 894.3l4.7-0.5 4.3-1.8 4.4-1.6M147.4 855l1.3 1.5 2 0.2M381.8 378.4l-0.3 2.2 -1.2 1.9M344.1 376.2l3.7 2.9 2.4 3.7 1.6 4.3 2 3.9 2.7 3.6M380.3 382.5l-3.9 2 -4.4 1.4 -3.9 2.1 -4 1.8 -3.6 3 -4 1.8M480.3 471.6l2.9-3 2.9-3.1 1.5-4 2.8-3.1M480.3 471.6l-2.7-1.2 -2.9-0.2M490.4 458.4l-2.8-4.3 -2.7-4.3 -2.5-4.3M474.7 470.2l-2-3.9 -2.5-3.6 -1.9-4 -1.9-4M482.4 445.5l-3.9 2.6 -3.9 2.5 -4.2 1.9 -4 2.2M384.4 521.4l1.3-5.2 2.5-4.7 1.1-5.2M384.4 521.4l0.2 2.6 1.7 2.1M408.4 502.3l-5.8-0.9 -5.8-0.7M408.4 502.3l3.8 3 2.6 4 2.8 3.9M417.6 513.2l-0.1 5.1 0.6 5 1 5M389.3 506.3l4.3-2.1 3.2-3.5M366.4 551.4l-3.8-2.4 -3.2-3.3 -3.5-2.9 -3.5-2.9 -4.3-1.9M356.4 523.1l4-0.4 4 0.4 4.1 0.5 4-0.6 3.9-0.9 4-1.1 4 0.4M356.4 523.1l-3.2 3.6 -3.8 3.2 -2.1 4.6M347.3 534.5l0.1 1.8 0.7 1.7M414.2 539.5l-0.6-0.7 0.3-0.8M585.4 521.3l-3.3 0.9 -3.3 0.9M597.4 549.5l-1 0.6 -0.1 1.1M571.3 547.2l-0.8-2.6 -1.1-2.4M578.8 523.1l-1.7 3.9 -2 3.8 -1.8 3.8 -2.4 3.5 -1.5 4.1M478.1 576.8l1-4.3 1.8-4.1 2.2-3.9M483.1 564.5l2.9-0.5 2.9-1M500.5 589.1l1.7-4.4 2.6-4 1.3-4.6 3.2-3.7M509.3 572.4l-4.1-1.8 -4.4-1.3 -3.9-2.4 -4-2.1 -4-1.8M127.7 377.6l-1.9 3.8 -1.1 4 -1.1 4.1M157.6 403.2l-0.6-4.5 -1.1-4.5 0.9-4.6 0.1-4.5 -0.2-4.5 0.7-4.6M148.4 365.4l2.4 4.1 2.9 3.7 3.7 2.8M187.4 387.8l-2-4.2 -1.7-4.2 -2.6-3.8M478.6 397.6l-2-3.6 -1.1-4.1 -2.6-3.3 -2.7-3.2M478.6 397.6l2.7 0.9 2.8 1M470.2 383.4l1.8-3.9 1.8-3.9 2.3-3.6M490.6 393l-0.4-4.6 -0.2-4.7 -1-4.5 -1.1-4.5 -1.4-4.4M476.1 372l5.1-1.2 5.3-0.5M476.1 372l-4.1-2.2 -3.8-2.9 -3.7-2.9 -3.4-3.2M486.6 353.8l-2.1-2.7 -2.7-2.2M486.6 353.8l0.2 5.1 0.1 5.2 0.6 5.2M481.8 348.9l-4.4 1.9 -4.4 1.5 -4.2 2.2 -3.8 3.1 -4.9 0.4M487.5 369.3l-1 0 0 1M461.1 360.8l0.1-1.7 -1.1-1.1M470.2 383.4l-4.3 1.2 -4.3 0.8 -4.4-1.1 -4.4 0M461.1 360.8l-0.5 4.2 -1.2 4 -1.3 4 -2 3.7 -1.9 3.7 -1.4 3.9M351.5 254.6l0.8 4.7 -0.4 4.8 0.2 4.8 0.6 4.8M351.5 254.6l4.3-1.7 4.3-1.2 4.6 0.5M364.7 252.2l1.9 4.9 2.7 4.5M352.7 273.7l4.4 0.9 4.5 0.4M361.6 275l3.3-4.1 1.7-4.9 2.7-4.4M520.5 608.7l2.7-4.3 1.3-4.8 1.8-4.6 1.3-4.9M512.3 571.3l4.9 1.4 4.7 1.6M521.9 574.3l0.8 4.2 0.3 4.3 1 4.2 3.6 3.1M519 764.6l2.1-4.1 2.7-3.8 2.2-4.1 1.2-4.5 1.5-4.3M528.7 743.8l-1.1-5.8 -2.5-5.3M525.1 732.7l-3.7-1.8 -3.2-2.8 -3.3-2.7 -4.1-1.2 -3.6-2.1 -3.3-2.5M503.9 719.6l-4.2 1.8 -3.5 2.5 -3.9 2.2 -2.1 4.1 -3.4 2.6 -3 3.1 -2.3 3.9M481.5 739.8l0.9 4.5 1.4 4.4 1.5 4.4 1 4.5M515.8 688l3.5 2.3 4 1.3 4 1.4 3 3 3.8 1.6 2.9 3.2 3.6 2.1 3.5 2.2 3.3 2.4M501.7 702.6l0.1 4.3 1.1 4.2 0.7 4.2 0.3 4.3M547.4 707.5l-2.2 3.6 -3.4 2.6 -1.8 4.1 -3.4 2.6 -2.3 3.6 -3.6 2.4 -2.5 3.4 -3.1 2.9M458.2 726.7l0.9 1.7 0.8 1.6M459.9 730l4.2 2.2 4.7 1.1 4.3 2 4.1 2.5 4.3 2M444.3 756l0.9-4.5 2.3-3.7 2.4-3.6 3.1-3.2 2.6-3.4 2.3-3.7 2-3.9M444.3 756l2.5 3.2 3.9 1.8 3 2.6 3.7 2 3.2 2.3 1.3 4.6 2.7 2.9 2.1 3.6 4 1.6M470.7 780.6l2.1-4.2 2.2-4.1 2.9-3.6 2.4-4 3-3.5 3-3.6M567.9 592l-2.9-3.2 -3.7-2.2M561.3 586.6l-5.7 0.9 -5.7 0.6M549.9 588.1l-0.1 4.5 -0.9 4.5 -0.6 4.5 -0.3 4.6 0.1 4.5 0.1 4.6M568.1 615.8l-4.5 1.7 -4.7 0.9 -4.6 1.1M554.3 619.5l-3-2.2 -3.1-2M585.6 619.6l-4.4-0.8 -4.3-1.2 -4.6-0.2 -4.2-1.6M568 568.4l-2.4 4.3 -0.4 5 -2.9 4.1 -1 4.8M547.6 586.3l-4 1 -3.8 1.6 -4.2-0.1 -3.8 1.4 -4.2-0.1M550.5 648l4.2-0.9 3.9 1.4 4 1.3 4.1-0.3 3.9 1.1 4.1 0.2M550.5 648l-0.1-4.1 0.3-4.1 0.6-4.1 1.5-4 -0.1-4.1 1.2-4 0.4-4.1M621.6 543.2l0.4 4.1 0.4 4.1 1.4 3.9 -0.3 4.2 1.4 3.9M625 541.2l4.3 1.6 4.1 2 4.8 0.2 4.3 1.6 3.9 2.5M624.9 563.4l4.8 0.3 4.7 0.3 4.5 2.4 4.8 0.3M643.7 566.7l0.7-4.4 1.6-4.3 -0.4-4.5 0.8-4.4M610.7 542l5.4 1.1 5.5 0.1M632.5 522.1l-3 3.3 -1.2 3.9 -1.2 4 -0.6 4.1 -1.5 3.8M618.7 568.6l3.1-2.5 3.1-2.7M653.9 542.8l-3.5 3.4 -4 2.9M646.5 571.7l-1.8-2.3 -1-2.7M41.5 476.6l2.4 3.8 0.8 4.6 2.6 3.7 2.5 3.8M81.9 469l-0.7 5.2 -1.9 4.9 -2.1 4.8M77.2 483.9l-3.8 1.4 -4 1 -4.2 0.3 -3.9 1.4 -3.6 2.3 -4.1 0.5 -3.8 1.7M97 503l-4.5-0.2 -4.4-0.8 -4.4-1.2M77.2 483.9l0.9 4.5 2.2 4 0.9 4.5 2.5 3.9M17.5 514.7l4.1-2 4.4-0.7 4.3-1.4 4.1-1.6 4.2-1.7 4.4-0.8 4.3-1M49.8 492.5l-0.2 4.5 -0.5 4.4 -1.8 4.1M80.8 527.5l-1-4.1 -1.3-4.1 -1.6-3.9 -1-4.1M80.8 527.5l-3.6 2.8 -2.8 3.5 -3.1 3.2 -2.4 3.9 -3.1 3.3M65.8 544.2l-3.4-3 -3.7-2.6 -3.6-2.7M55.1 535.9l-0.2-4.1 -0.5-4.2 -0.3-4.1 -0.5-4.2 -1.1-4.1 0.5-4.2M75.9 511.3l-4.6 0.1 -4.6 0.5 -4.5 0.4 -4.6-1.7 -4.6 0.4M96 529.8l-5.2 0 -5-1.2 -5-1.1M66.7 547.9l0.1-2 -1-1.7M36.2 539.3l4.6-1.2 4.8-0.7 4.7-1 4.8-0.5M97 382.2l0.8-4.9 -0.1-5.1 1.1-4.8M74.6 354.4l4 0.8 4-0.6M98.8 367.4l-3.5-2.2 -3.5-2.3 -3.2-2.6 -3.2-2.6 -2.8-3.1M127.7 377.6l-2.5-3.4 -3.1-2.9 -3.4-2.7 -2.8-3.1 -2.9-3.1M98.8 367.4l4.7-1.8 5.1-0.8 4.4-2.4M132.9 635.4l-0.6-5.2 -1.9-4.8M130.4 625.4l-3.4-3.3 -3.9-2.5 -4.5-1.4 -4.4-1.6 -3.8-2.6M96.5 633.1l2.9-3.6 3.2-3.5 1.7-4.5 2.5-3.8 3.1-3.6M96.5 633.1l1.4 4.5 1 4.7 2 4.3M109.9 614.1l0.4 0.6 0.1-0.7M100.9 646.6l3.4 0.7 3.1 1.5M119.7 674.2l-0.6-4.2 -1.8-3.6 -1.8-3.6 -2.3-3.4 -2.5-3.2 -1.6-3.7 -1.7-3.7M136.4 638.2l-2.2-0.8 -1.3-2M91.8 602.7l3.6 2.4 3.7 2.1 4.1 1.4 3.2 2.9 3.5 2.6M78.8 626.1l4.8 1 3.9 2.8 4.7 1 4.3 2.2M89.1 655.7l4-2.9 3.5-3.6 4.3-2.6M120.4 592.4l-2.6-3.9 -2.3-4M230.8 734.3l1.6 4.1 2.1 4 2.6 3.7 0.9 4.4 1.4 4.3 1.8 4 2 4M230.8 734.3l3.2-2.7 2.6-3.4 3.5-2.3 2.8-3.2 4-1.7M246.9 721l4.4 0.9 4 2.1 4.2 1.4 4.5 0.8 3.9 2.3M246.5 761.9l-1.9-0.6 -1.4 1.5M246.5 761.9l2.6-3.2 2.5-3.3 3.4-2.6 1.8-3.7 2.4-3.3 2.3-3.4 2.2-3.5 2.1-3.5 2.4-3.3M267.9 728.5l0.2 1.8 0.1 1.8M210.7 730.8l4 1 4 0.7 4 0.9 3.9 1.5 4.2-0.6M240.1 765.8l1.3-1.7 1.8-1.3M240.5 706.1l1.5 3.8 1.1 3.9 1.8 3.6 2 3.6M274.4 720.7l-3.1 4 -3.4 3.8M272.9 773.1l-3.9-1.3 -3.9-1.3 -4.1-0.8 -3.7-1.6 -3.4-2.7 -3.8-1.5 -3.6-2M172.5 590.8l1.9 5 -0.2 5.2 -0.5 5.3M172.5 590.8l-3.7-1.8 -3.7-1.9 -3.6-2.1 -3.6-2 -3.7-1.8 -3.5-2.1M163.3 613.1l-4.3-0.1 -4.1-0.9 -4-1.2 -4-1.2 -3.8-2.1M150.2 579.2l0.2-0.2 0.3 0.1M150.2 579.2l-2.6 4.1 -2.4 4.2 -3.2 3.7 -2.6 4.2M139.4 595.4l0.8 4.2 0.8 4.2 2.1 3.8M189.3 614l-4.1-1.5 -3.7-2.4 -3.6-2.6 -4.2-1.2M189.5 574.6l-3.5 3.1 -3.6 3 -3.4 3.3 -3.4 3.2 -3.1 3.6M166.8 555.8l-2.1 3.5 -2.1 3.5 -1.8 3.7 -2.4 3.2 -3.6 2.4 -2.4 3.3 -1.7 3.7M160.8 633.7l1.8-4 -0.5-4.2 1-4.1 0.5-4.1 -0.3-4.2M130.4 625.4l3-3.3 2.2-3.7 2.5-3.7 2.8-3.3 2.2-3.8M127.3 558.7l3.9 2.3 3.4 2.7 2.2 4.1 3.2 3 3.1 3.2 3.5 2.6 3.6 2.6M120.4 592.4l5-0.5 4.7 0.8 4.7 0.7 4.6 2M259.8 550.8l-4.2-0.1 -4.3-0.2 -4.3 0.3 -4.1 1 -4.3 0 -4.1 1.5M259.8 550.8l2.5 4.3 2.7 4.3 2.4 4.3M267.4 563.7l-2.4 3.4 -3 2.8 -2.6 3.1 -3.3 2.6 -2.6 3.2 -3.4 2.4M250.1 581.2l-3.5-2.3 -3.3-2.5 -3.7-1.7 -3.7-2 -3.4-2.3 -3.5-2.2M234.5 553.3l-2.5 3.3 -3 2.9 -2.3 3.6M226.7 563.1l1.5 2.4 0.8 2.7M264.8 528.9l-1.4 4.3 -1.1 4.4 -1.1 4.3 -0.4 4.5 -1 4.4M232.3 525.6l0.5 4.6 -0.2 4.7 0.1 4.6 -0.1 4.6 -0.1 4.7 2 4.5M268.6 564l-0.7 0.1 -0.5-0.4M268.6 564l4.2-1.7 3.9-2.1 3.8-2.6 3.8-2.6 4.6-0.6 4.4-1.2M252.5 602.2l-0.1-0.5 0.5 0.1M217.1 601.2l1.7-4 2.1-3.9 1.7-4.1 1.5-4.1 1.2-4.3 1-4.3 1.6-4.1 1.1-4.2M252.9 601.8l-1.3-4 -1.8-4 1.2-4.3 -0.3-4.2 -0.6-4.1M209.1 559.3l4.5 0.5 4.5 0.7 4.3 1.2 4.3 1.4M325.8 525.8l4.3 1.8 4.1 2 4.4 1.6 4.2 2 4.5 1.3M348.1 538l-2.1 3.5 -1.2 4.2 -2.1 3.6 -2.1 3.6 -2.4 3.5 -2.2 3.5 -2 3.7M312.9 548.1l2.8 3.6 2.5 3.8 3.7 2.8 2.7 3.7 3.1 3.3M334 563.6l-3 1.4 -3.3 0.3M366 568.8l-4.7 1.6 -4.6 1.8 -4.2 2.6M334 563.6l3.4 2.6 4.2 1.5 3.5 2.6 3.8 2 3.6 2.5M470.3 966.5l-3-4.3 -3.3-4 -2.6-4.5M470.3 966.5l4.3-1.8 4.3 1.3 4.4 0.9 4.3-0.1 4.3 0.2 4.3-0.3 4.3-0.9 4.3-0.6M461.4 953.7l3.8-2.3 3.6-2.7 3.7-2.4 2.6-3.7 3.7-2.5 1.9-4.4 3.1-3.1 3.3-2.9M504.8 965.2l-2-3.7 -0.6-4.1 -2-3.8 -1-4 -1-4 -1.3-3.9 -1-4.1 -0.8-4.1M495.1 933.5l-4.2-1.4 -3.8-2.4M455.1 951.9l3.1 1 3.2 0.8M466.4 998.6l1-4 0.4-4 0.4-4 0.7-4 0.5-4 -0.2-4.1 1.3-3.9 -0.2-4.1M510.7 969.6l-2.8-2.5 -3.1-1.9M479.7 910.8l1.8 3.7 0.4 4.2 1.9 3.6 1.5 3.7 1.8 3.7M479.7 910.8l-2.7-3.3 -3.9-1.6 -3.8-1.8M469.3 904.1l-3.6 1.2 -3.7 1.3M515.7 970.1l2.1-3.5 2.4-3.3 2.2-3.4 2.1-3.5 3-2.9 1.6-3.8 2-3.6 3.4-2.6M534.5 943.5l-3-3.6 -3.3-3.4 -2.9-3.7 -2.4-4.1 -3-3.6M519.9 925.1l-4 1.6 -4 1.9 -4.4 0.7 -4.5 0.3 -3.9 2.1 -4 1.8M479.7 910.8l4-1.5 3.8-2 3.9-1.6 3.8-2 3.8-2 3.8-1.9 3.9-1.7 3.9-1.7 3.4-2.8M524.4 905.9l-2.8-2.9 -1.6-3.9 -3.5-2.3 -2.5-3.2M647.5 925.9l-2.1-4.1 -2.1-4.2 -2.5-4 -3.9-3.2 -1.7-4.4 -0.6-4.9M647.5 925.9l4.5 0.8 4.6 0.7 4.6-0.1 4.6-0.3 4.6 0.9M634.6 901.1l4.1-0.7 4.2-0.2 3.8-1.3 4.1-0.4 3.4-2.8 3.9-1.3 3.6-2.2 3.8-1.6 4.2-0.1M670.4 927.9l1.1-4 0.5-4 0.2-4.2 1.8-3.8 0.5-4.1 0.4-4.1 1.3-3.9M676.2 899.8l-3.1-4.8 -3.4-4.5M630.9 946.3l2.4-3.6 2.1-4 3.4-2.9 3-3.2 3.2-3.1 2.5-3.6M617.1 948.7l-0.9-1.1 -0.6-1.3M625.2 896.7l-3.2 3.6 -3.7 3.2 -2.9 3.9M625.2 896.7l4.3 3 5.1 1.4M677.9 938.2l-2.2-3.7 -1.9-3.9 -3.4-2.7M698 900.8l-4.4-0.3 -4.3-0.4 -4.4-0.8 -4.3 0.2 -4.4 0.3M670.3 878.9l-0.5 5.8 -0.1 5.8M670.3 878.9l2.9-4 4.4-2.2 3.3-3.5 3.6-3.2 3.9-2.9M580.5 921.8l0.9 3.8 1.3 3.6M580.5 921.8l-3.9-1.4 -3.9-0.6 -4.1-0.3 -3.9-0.4 -4.1 0.2 -4-0.3M582.7 929.2l-2.1 4.1 -1.3 4.5 -2.9 3.8 -1.1 4.6 -2.8 3.8M556.6 919l-1.5 4.3 -2.4 3.7 -2.8 3.6 -1.5 4.3 -1.8 4.1 -2.2 3.9M572.5 950l-5.3 0.6 -5.3 0 -5 2.1M556.9 952.7l-4.4-3 -4.5-2.8 -3.6-4M615.6 946.3l-3.9-1.4 -3.4-2.6 -3.8-1.6 -3.4-2.2 -4.3-0.8 -3.7-1.7 -3.5-2.2 -3.9-1.6 -3-3M586.1 911.6l4.1-1.1 4.2-0.5 4.2-0.8 4.2 0.1 4.3-0.3 4.1-0.8 4.2-0.8M586.1 911.6l-2.7 5.2 -2.9 5M590 969.1l-2.1-4 -2.2-3.8 -3.3-2.8 -2.5-3.6 -3.8-2.4 -3.6-2.5M534.5 943.5l5 0 4.9-0.6M524.4 905.9l4.4-1.3 4.6 0.3 4.5-0.9 4.5 0.1 4.5 0M546.9 904.1l2.9 3.4 2.7 3.6 1.7 4.1 2.4 3.8M553.4 980.6l-0.5-4.1 1.1-3.9 0.5-4 0.2-4 0.7-4 0.2-4 1.3-3.9M625.2 896.7l-1.2-4.9 -1.5-4.8 -1.2-4.8M621.3 882.2l3.7-2.1 2.3-3.8 3.4-2.4 3.4-2.5 2.7-3.3 3.7-2.1 3.3-2.5 3.4-2.4M669.9 837.9l-3.1 2.7 -2.5 3.4 -3.6 2 -3 2.8 -3.3 2.3 -3.5 2.1 -3.6 2M639.7 820.1l-2.4 3.7 -2.9 3.4 -2 3.9 -2.5 3.7M629.9 834.8l2.5 3.8 3.5 2.8 3.2 3.2 2.4 3.8 2.9 3.4 2.9 3.4M603.9 806.1l1.3 4.4 0.6 4.5 1.1 4.5 0.6 4.5 1.5 4.4 0.2 4.6 0.3 4.6M546.9 904.1l2.2-4.4 2.9-4 1.9-4.6 2.9-4M586.1 911.6l-1.3-4.2 -1.1-4.2 -1.6-4.1 -1.1-4.3M514 893.6l-0.6-4.2 0.4-4.4 -0.5-4.3 -0.3-4.2M513 876.5l1.9-1.4 1.7-1.7M556.8 887.1l-1.2-5 -1.1-5 -0.8-5.1M625.5 772.7l-3.4-2.8 -3.5-2.7 -4.4-1.3 -3.5-2.6 -3.8-2.3M603.9 806.1l-4.4-1 -3.9-1.8 -3.5-2.8 -3.6-2.4M588.5 798.1l-0.4-4.2 1.3-3.8 0.4-4 1.4-3.8 -0.5-4.2 1.8-3.7 1.5-3.8M594 770.6l2.4-3.5 3.9-1.5 3.4-2.1 3.2-2.5M630.6 729.3l-2.9 3.1 -1.7 4 -3.7 2.5 -2.1 3.7 -2.8 3.1 -1.9 3.9 -3.4 2.6 -2.8 3.2 -2.4 3.4M606.9 758.8l0.1 1.1 -0.1 1.1M461.3 849.3l-0.3-0.1 0.1 0.3M461.3 849.3l4.2-0.2 3.9 1.1 3.7 2.3 4.2-0.5 4.2-0.3 4 1.1 3.9 1M461.1 849.5l-1.8 4.1 -1.5 4.1 -1.2 4.2 -1.3 4.2M455.3 866.1l1.6 4.1 3.2 2.7 2.5 3.3 2.2 3.6 2.6 3.2 3.3 2.7M470.7 885.7l4-2 3.8-2 3.9-2.1 3.7-2.2 3.5-2.7 3.2-3.1 3.8-2.1M496.6 869.5l-1.7-4 -0.9-4.3 -2.7-3.5 -1.9-3.9M471.7 817.5l3.9 1.2 3.3 2.4 2.8 3.2 3.8 1.5 3.6 1.8 3.7 1.6 2.9 2.9 4.1 0.9M471.7 817.5l-1.8 3.9 -0.1 4.3 -1.9 3.8 -1.1 4 -1.3 4 -1.8 3.8 -0.9 4.1 -1.5 3.9M499.8 833l-1.9 4.2 -2.2 4.1 -1.7 4.4 -2.4 4.1 -2.2 4M430.3 874.4l4.3-1 4-1.9 3.8-2.6 4.1-1.4 4.1-1.7 4.7 0.3M430.3 874.4l-2.1-3.6 -0.8-3.9 -0.4-4.1 -1.7-3.7 -0.4-4 -2.1-3.6 -1.5-3.7 0-4.2M421.3 843.6l2.9-3.7 2.9-3.7 2.3-4.2M429.4 832l3.7 1.6 3.7 1.6 4.1 0.8 3.3 2.5 4 1 3.3 2.3 3 2.9 3.7 1.6 2.9 3.2M469.3 904.1l0-4.6 0.4-4.6 0.3-4.7 0.7-4.5M427.2 879.2l1.2-2.7 1.9-2.1M513 876.5l-4.4-1.2 -4.1-1.7 -4.1-1.7 -3.8-2.4M340.6 870.1l2.5-3.2 1.7-3.7 2.2-3.4 2.9-2.8 2.8-2.9 1.8-3.7 3-2.7 4-1.9 1.8-3.7M366.4 892.9l1.1-4.1 1.4-4 1.9-3.8 2.5-3.5 2.3-3.5 2.3-3.6 2.6-3.4 1.8-3.8 1.8-3.8 1.5-4 0.3-4.5M363.3 842.1l3.7 1.6 3.7 1.7 3.6 2 4 0.8 3.5 2.2 4.1 0.5M421.3 843.6l-4.1 0.6 -4.1 0.8 -4 1.2 -4 1 -4.2 0.5 -4.2-0.4 -4.1 0.9 -4.1 0.6M408 879.7l-3.1-2.6 -1.6-3.9 -3-2.8 -1.9-3.5 -2.5-3.2 -2-3.6 -3.5-2.3 -2.3-3.4 -1.9-3.5M388.5 848.8l-0.7 1.5 -1.6 0.6M386.2 850.9l0 0.6 -0.3-0.6M333.6 794.3l-1.5 3.9 -2 3.6 -2.5 3.4 -0.7 4.3 -2.7 3.3 -3.5 2.8 -1 4.1 -2.2 3.6 -2 3.6 -1.8 3.7M313.7 830.6l1.2 1.8 0.8 2.1M315.7 834.5l4.2-0.2 4.2-0.7 4.3 0.8 4.2 0.2 4.2-0.3 4.2-0.6 4.1-1.8 4.2-0.4 4.3 1 4.2 0M357.8 832.5l0.5-4.3 -0.1-4.4 0-4.4 1.7-4.1 0.6-4.3 0.5-4.4M330.3 787.3l2.3 3.2 1 3.8M315.5 839.2l0.3-2.4 -0.1-2.3M363.3 842.1l-2.4-5 -3.1-4.6M656.5 438.3l-1-2 -2.1-0.4M652.2 422.6l-0.1 4.4 1.2 4.4 0.1 4.5M634.7 383.4l3.6 2.8 4.3 1.4 3.8 2.6 3.9 2.2 4.1 1.8M634.7 383.4l-4 2.7 -3.8 3.1 -3.7 3.2 -3.7 3.1M654.4 394.2l-3.4 3 -3.1 3.2 -3.8 2.6 -2.4 4 -3.7 2.6M638.7 414.6l-0.1-2.5 -0.6-2.5M654.5 248.3l-0.5 4.9 -1.3 4.9 -1.3 4.8M673.8 260.5l-4.1 2.1 -4.2 1.8 -4.4 1.5 -4.2 1.9M656.9 267.8l-2.7-2.5 -2.8-2.4M673.4 283.7l-3.9-1.3 -4.1-0.5 -4.2-0.3 -3.9-1.2M656.9 267.8l0.4 4.2 -0.7 4.2 0.7 4.2M634.2 245.9l-0.2 0.8 -0.2 0.7M656.1 297.1l-0.2-4.7 -1.3-4.6 -0.9-4.5M656.1 297.1l3.5 2.1 3.7 1.4 3.8 1.6 3.7 1.5M657.3 280.4l-1.7 1.6 -1.9 1.3M610.1 239.7l-0.8 4.9 -1.1 4.8 0.2 4.9M633.8 247.4l-3.4 3 -3.7 2.5 -4.1 2 -3.6 2.9M608.4 254.3l5.3 1.8 5.3 1.7M639 264.4l-0.4 1.4 -1.1 0.9M637.5 266.7l-4.8-0.7 -4.7 0.1 -4.7 0.3M619 257.8l2.6 4.1 1.7 4.5M695.1 344.9l-0.9 2.9 -0.8 3M698.3 362.5l-1.4-4 -1.5-4 -2-3.7M690.9 384.4l-1.7-2.6 -0.7-3.1M661.7 382.9l-2.1 5.1 -1.1 5.5M661.7 382.9l3.8-2.7 4.4-1.2 4.3-1.7 3.9-2.4M678.1 374.9l4.9 2.7 5.5 1.1M671 304.8l-2.1 3.8 -2.2 3.7 -2.2 3.7 -2 3.8M685.4 330.1l-4 1 -4.1-0.2 -4 0.5 -4.1-0.1M669.2 331.3l-3.1-3.4 -1.6-4.2 -2-3.9M564.7 689.1l5.1-2 5.1-1.7M564.7 689.1l-1.7 4.4 -2.3 4.2 -2 4.2 -2.5 4.1M556.2 706l1.9 3.6 1.9 3.7 1.7 3.8 3 3 2.2 3.5 3.2 2.8 1.8 3.7M586.8 729.7l-5 0.1 -4.9 0.1 -5 0.2M586.8 729.7l3.6-3.1 2.6-4.2 3.2-3.5 2.9-3.8 4-2.9M603.1 712.2l-0.7-5 -0.7-5M618.4 681.6l-2.6 3.6 -3 3.2 -2.8 3.4 -3.1 3.2 -2.1 4 -3.1 3.2M561 747.1l2.1-3.5 2.9-2.9 2-3.5 1.4-3.9 2.5-3.2M564.7 762.2l4.3 0.8 4.2 1.2 4.2 1.1 4.4 0.3 4.1 1.5 3.9 2.4 4.2 1.1M564.7 762.2l-1.5-5 -0.3-5.3 -1.9-4.8M606.9 758.8l-3.2-3.2 -2.2-3.8 -2.7-3.5 -2.6-3.6 -2.6-3.6 -1.2-4.5 -2.1-3.9 -3.5-3M628.7 723.2l-4-2.4 -4.3-1.8 -4.5-1.3 -3.7-3.1 -4.9-0.3 -4.2-2.1M615.7 92l-0.8 4.1 -0.8 4 -1 3.9 -1.7 3.8M634.4 103.3l-2.8-4.4 -1.7-5M634.4 103.3l-3.3 3.9 -3.6 3.5 -3.8 3.3M623.7 114l-4.4-1.5 -3.8-2.7 -4.1-2M637.5 84.2l-2.3 3.4 -3.1 2.8 -2.2 3.5M612.2 87.9l1.4 2.4 2.1 1.7M643.9 108.5l1.1 0.1 0.8-0.7M643.9 108.5l-4.5-2.9 -5-2.3M318.2 222.1l1.9 4.5 2.8 3.9M318.2 222.1l3.7-3.2 3-4.1 3.8-3.2 3.9-3.2M332.6 208.4l2.9-0.4 2.9 0.4M338.4 208.4l1.9 4.1 1.7 4.2 2 4.1M322.9 230.5l4.1 1.4 4.1 1.1M344 220.8l-2.9 3.4 -3.4 2.8 -2.9 3.4 -3.7 2.6M336 187.2l-4.3 0.4 -4.3-0.4 -4.3 0.5M336 187.2l2.9-3.3 1.8-4.1 3-3.3M321.1 185.2l1.1 1.2 0.9 1.3M321.1 185.2l1.1-4 0.5-4.2 2.3-3.6 1.5-3.8M326.5 169.6l2-0.8 1.8-1.2M330.3 167.6l4.2 0.6 4.3 0.3M343.7 176.5l-2.2-4.1 -2.7-3.9M332.6 208.4l-3.3-3.4 -3.2-3.6 -3.4-3.3M344 202.2l-2.9 3 -2.7 3.2M322.7 198.1l1-5.2 -0.6-5.2M309.8 163.8l4.1 1.7 4.4 0.9 4.3 1 3.9 2.2M309.8 163.8l2.4-3.7 1.9-4 2.2-3.9 2.8-3.5M319.1 148.7l3.4 0.6 3.3 1.1M325.8 150.4l1 4.3 1.7 4.2 0.4 4.5 1.4 4.2M181.9 148.2l-2.2 3.7 -1.6 3.9 -2.3 3.7 -1.4 4 -1.8 3.9 -1 4.2M175.1 178.4l4.4 0.2 4.4-0.7 4.4 0.1 4.4 0.6 4.4 0 4.4 0.3 4.4-0.2M205.9 178.7l0.7-0.2 0-0.7M314.8 97.5l-1.2 4.8 -1 4.8 -1.1 4.7M335.8 111.3l-4.4 2.1 -4.4 2.2 -4.1 2.9M311.5 111.8l4.2 1.6 3.3 3.1 3.9 2M333.2 132.1l3.4-3.3 3.1-3.7M333.2 132.1l-4-2 -4.5-0.3M339.7 125.1l-1.1-4.3 -0.7-4.3 -0.6-4.4M337.3 112.1l-0.9-0.1 -0.6-0.7M324.7 129.8l-0.6-5.7 -1.2-5.6M42 199.2l3.7 0 3.6-0.7M49.3 198.5l2.5-3.5 2.5-3.4 2.1-3.7 1.8-3.8 2.5-3.4 2.1-3.7 1.9-3.8M45.1 160l4.6 1.8 4.5 2.1 4.4 2.2 4.4 2.2M64.7 173.2l-1.1-2.3 -0.6-2.6M41.3 151.1l3.3-2.5 2.9-2.9 2.9-2.9 3.5-2.3 2.8-3.1 3.3-2.5M63 168.3l3-3.7 2.5-4.1 3.2-3.5 1.6-4.7 3.3-3.5M60 134.9l4.1 1.8 3.1 3.1 3.2 2.9 2.6 3.6 3.6 2.5M50.1 239l4.5-2.8 4.9-1.9 4.7-2.5M64.2 231.8l2.5-3.5 1.9-3.7 0.9-4.1 0.3-4.3 1.6-3.8M64.7 173.2l3.9 2.7 4.4 1.4 4.6 1 4 2.4 3.9 2.5 4.2 1.8M89.7 185l-1.2 4.6 -3.2 3.6 -2.5 4 -2.5 4 -1.4 4.5 -1.1 4.6M77.8 210.3l-3.3 0.7 -3.1 1.4M104.1 130.7l-4.8-1.2 -4.9-0.1 -4.9 0.4M114.3 120.6l-2.7-3.7 -2.3-4 -2.8-3.6 -2.3-4 -3.7-2.9 -3.1-3.3M89.5 129.8l-2.1-4.1 -3-3.4 -2.4-3.9 -2.8-3.5 -2.6-3.7M97.4 99.1l-3.5 2.3 -3.7 1.8 -4.1 0.8 -3.9 1.2 -3.8 1.5M78.4 106.7l-1.4 2 -0.4 2.5M135.2 111.6l-3.5 4 -3.8 3.8M127.9 119.4l-4.4 1.4 -4.6 0.3 -4.6-0.5M102.2 89.9l-2.6 4.5 -2.2 4.7M78.6 148.4l-0.8 1.1 -1.2-0.7M78.6 148.4l2.2-3.7 2.7-3.4 2.1-3.8 2.1-3.8 1.8-3.9M159.2 141.2l-4 3.8 -4.8 2.7M171.6 171.6l-4.3-0.1 -3.9-1.4 -4.2-0.7 -3.7-2.5 -4.3 0.1M150.4 147.7l-0.4 4.9 0.4 4.8 0.1 4.8 0.7 4.8M127.9 119.4l0.6 4.7 2.1 4.4 1.5 4.5 1.2 4.6 0.4 4.8M150.4 147.7l-4.3-1 -4-1.8 -4.5-0.5 -3.9-2M462 107l-0.5-4.8 -1.4-4.7 0.3-4.7 1.1-4.8M462 107l-5 1.4 -4.5 2.5 -4.9 1.6M451.4 85.6l-1.5 3.9 -1.1 4.1 -1.8 3.8 -2 3.7 -1.8 3.8 -1.2 4M451.4 85.6l4.9 2 5.2 0.4M447.6 112.5l-3.2-1.1 -2.4-2.5M358 89.4l0 4.6 0.6 4.5M353.9 108.5l1.8-5.2 2.9-4.8M354.1 198.9l1.8-3.2 0.1-3.6M354.1 198.9l-5.4 0.7 -4.7 2.6M343.7 176.5l2.4 0.8 2.4 0.8M348.5 178.1l2.7 4.5 1.6 5.2 3.2 4.3M497.4 195.6l1.5 4.5 2.1 4.2M514.9 188.4l-4.6-0.6 -4.6-0.4 -4.7 0M622.1 220.7l0.8-4.4 -0.4-4.5 -0.2-4.4 -0.3-4.4M640 206.5l-4.3-1.3 -4.3-1.5 -3.7-2.6M622 203l2.8-1.2 2.9-0.7M647.1 203.5l-1.5-4.5 -1.3-4.6 -0.3-4.8 -0.1-4.8M643.9 184.8l-3.9 1 -3.4 2.5 -4.1 0.4M627.7 201.1l3-3.5 0.9-4.4 0.9-4.5M506.6 219.2l-2.8 5.3 -2.9 5.2M521.4 224.5l-0.7 3.8 -2 3.4M500.9 229.7l2.6 2.9 3.5 1.8M518.7 231.7l-4 0.2 -3.9 1 -3.8 1.5M547.2 212.8l-0.4-4.1 0.2-4 0.8-4 0.8-3.9M528.2 204.1l3.5-3.6 1-5M548.6 196.8l0.1-0.2 -0.1 0.1M548.6 196.7l-5.3-0.3 -5.3-0.6 -5.3-0.3M590.4 93.3l1.6 3.5 0.1 3.8M590.4 93.3l-4.6-2.5 -3.9-3.5M592.1 100.6l-2.2 4.7 -2.4 4.6 -1.8 4.8M581.9 87.3l-4.7 0.7 -4.4 1.2M585.7 114.7l-3.5 0.7 -3.1 1.6M579.1 117l-1.4-4.6 -2-4.2 -2.6-4 -2.2-4.2M572.8 89.2l-0.5 5.5 -1.4 5.3M612.2 87.9l-4.5 0.5 -4.6 0.3 -4.2 1.8 -4 2.2 -4.5 0.6M607 110.9l2-1.8 2.4-1.3M607 110.9l-4.9-0.9 -2.7-4.1 -3.9-2.3 -3.4-3M553.2 63l2.2 3.4 2.7 3.1 2.2 3.4 2.4 3.3 3.1 2.8 2.5 3.2 1.6 4 2.8 3M572.7 89.2l-0.2 0.4 0.3-0.4M575.5 122.7l2-2.7 1.6-3M558.6 110.6l3.2-2.4 2.9-2.9 3.2-2.6 3-2.7M223.7 896.3l-4.2-1 -3.8-2 -4-1.5 -4.1-1.3 -4-1.5M203.6 889l-2.4 3.3 -2.1 3.5 -2 3.5 -1.1 4.1 -1.4 3.8 -2.2 3.4 -1.8 3.7 -1.7 3.7M156 923l2.4-3.7 2.7-3.6 2.3-3.8 2.8-3.4M188.9 918l-3.4-2.3 -4.1-1 -4.2-0.6 -3.4-2.4 -3.6-2.1 -4-1.1M147.2 890.4l4.2 1.7 3.6 2.8 4.5 1.1 3.8 2.5M166.2 908.5l-1.8-4.9 -1.1-5.1M322 384.2l3.4-3.1 4.3-1.6 3.9-2.3 3.8-2.5M322 384.2l0.2 3.4 0.4 3.4M344.1 376.2l-3.3-0.7 -3.4-0.8M356.5 394.6l-0.6 2.9 -1 2.8M354.9 400.3l-3.9 1.9 -3.8 1.9 -3.6 2.4 -3.6 2.3M322.6 391l3.2 2.7 2.2 3.7 2.6 3.2 2.4 3.5 3.5 2.4 3.5 2.3M289.7 396.4l3.4 3.3 3.3 3.4 2.7 4 3 3.7 3.3 3.4M315.3 380.2l3.1 2.5 3.6 1.5M322.6 391l-3 2.8 -2.3 3.5 -2.2 3.5 -2.1 3.6 -1.7 3.9 -3.1 2.8 -2.8 3.1M281.8 429.8l3.9-1.7 3.7-2.1 3.9-1.3 3.9-1.2 4.3-0.1 4.2-0.7M305.4 414.2l0.1 4.3 0.2 4.2M308.4 356.2l4.2-1.4 4.3-1 3.7-2.8 4.4-0.8 4.3-1.3 4.3-1M337.4 374.7l-1.2-4.4 -0.5-4.4 -0.7-4.4 -0.3-4.5 -0.2-4.5 0-4.5M333.6 347.9l0.4 0.4 0.5-0.3M295.5 460l3.3-2.6 3.4-2.3 3.6-2.2 3.8-1.8M305.7 422.7l2.1 2 2.5 1.8M309.6 451.1l-0.7-4.1 0.9-4.1 0.7-4.1 0.8-4.1 -0.8-4.1 -0.2-4.1M340 408.8l-0.5 4.6 -0.6 4.6 -1.2 4.4 -1.3 4.4M310.3 426.5l4.3-0.8 4.4 1.2 4.3 0 4.4-0.2 4.3-0.2 4.4 0.3M356.4 523.1l-0.9-3.9 -0.4-4 -0.1-4.1 -1.2-3.9 -0.8-3.9M389.3 506.3l-4.4-1.8 -4.1-2.3 -4.2-2.2 -3.9-2.6 -4.2-2.2M325.6 507.1l3.4-2.9 4.2-1.1 4-1.6 4.1-1.5 4-1.4M345.3 498.6l4 2.1 3.7 2.6M396.8 500.7l-1-4.5 -0.4-4.4 -0.4-4.5 -1.2-4.4 -1-4.4 0.7-4.6 -0.1-4.5M366.8 468.7l0.7 4.4 -0.1 4.4 0.4 4.4 -0.3 4.5 0.8 4.3 0.2 4.5M366.8 468.7l2.5-1.9 2.6-1.5M371.9 465.3l4.3 1.1 4.4 0.3 4.3 0.6 4.3 1.2 4.2 0.9M408.4 502.3l3.3-2.4 2.6-3.2 3.5-2.1 3.5-2.1 2.7-3 2.7-3.1M411.9 463.6l-3.5-1 -3.5-1M393.4 469.4l3.6-3 3.6-2.9 4.3-1.9M450.8 465.2l2.3 3.8 2.3 3.8 1.9 4 1.8 4M450.8 465.2l-5.1 1.7 -5.4 0.1M458.7 482.4l-1.1-1.1 1.5-0.5M458.7 482.4l-4.6 1.3 -4.7 0.6 -4.5 1.5 -4.2 2.4 -4.8 0.5M435.9 488.7l-1.2-0.8 -1.2-0.9M474.7 470.2l-3.8 2.8 -3.9 2.7 -3.9 2.6 -4 2.5M466.4 454.7l-4.1-2.1 -4.5-0.3M457.8 452.3l-2.4 4.3 -3 3.9 -1.6 4.7M457.8 452.3l-1.6-4.2 -2.7-3.5M429.3 457.3l4.3 2.5 2.7 4.4 4 2.8M429.3 457.3l-4.3 1.6 -4.4 1.6 -4.4 1.4 -4.3 1.7M426.7 486.4l3.4 0.5 3.4 0.1M464.4 493.1l5.1-1.1 5.3-0.2 4.9-2M464.4 493.1l-1.8-3.7 -1.3-3.8 -2.6-3.2M480.3 471.6l1.2 3.1 2.4 2.4M479.7 489.8l1.1-4.3 1.6-4.2 1.5-4.2M592 513.6l-3.2-3.6 -2-4.3 -2.6-3.9 -2.9-3.8 -1.7-4.5M578.8 523.1l-4-1.5 -3.9-1.6 -3.7-2.1M567.2 517.9l-2-4 -1.1-4.1 -0.9-4.2 -0.5-4.4M562.7 501.2l4.7-0.8 4.1-2.2 4.1-2.3 4-2.4M490.4 458.4l5 0.6 5 0.3M483.9 477.1l4.3 0.3 4 1.2 4.1 1.2M500.4 459.3l1.5 4 1.7 4 3.4 2.8M500.4 459.3l2.2-4.2 1.7-4.4 3.1-3.8M507.4 446.9l3.9 1.3 3.9 1.4 4.1 0 4.1-0.1M523.4 449.5l0.1 1.6 1 1.4M524.5 452.5l-1.9 3.9 -1.2 4.2 -3.1 3.4 -1.5 4 -1.5 4.1M507 470.1l4.2 0.8 4.1 1.2M464.4 493.1l-0.2 4 -0.9 3.9 -1.1 3.9M435.9 488.7l1.3 5.2 1.9 5 2 4.9M462.2 504.9l-4.2 0 -4.2-0.3 -4.2-0.9 -4.2 0.1 -4.3 0M417.6 513.2l4.2-1.2 4.2-0.9 4.4 0 4.4-0.4 3.9-2.2M441.1 503.8l-0.8 2.5 -1.6 2.2M419.1 528.3l4.8-0.6 4.8 0.3 4.7-1 4.8 0.2 4.8-0.9M438.7 508.5l1 4.5 0.2 4.6 1.5 4.4 1.6 4.3M445.6 535.3l-1.6-4.3 -0.8-4.5M443 526.3l0.3-0.2 -0.1 0.4M483.1 564.5l-3.3-5 -4.6-4M451.8 560.7l3.2-4 3.1-4.2M475.2 555.5l-4.3-0.5 -4.2-1 -4.2-1.4 -4.4-0.1M445.6 535.3l3.6 2.5 3.6 2.6 3.5 2.8M479.7 489.8l3.2 3.5 3.4 3.3 2.5 4.1M488.8 500.7l-1.4 2.5 -1.4 2.6M462.2 504.9l1.4 2.5 1.5 2.5M443.2 526.5l4.7-1.1 4.3-2.1 4.1-2.4 4.1-2.5 4.4-1.9M465.1 509.9l-0.6 3.3 0.3 3.3M456.3 543.2l2.9-3.2 2.1-4 3.7-2.4 2.8-3.3 4-2.1M464.8 516.5l1.7 4.3 2.8 3.6 2.5 3.8M475.2 555.5l0.8-4.1 0.6-4.1 0.7-4.1 1.8-3.7 1.8-3.8 1.7-3.8M471.8 528.2l5.2 2.6 5.6 1.1M517.7 474.9l-1.1-1.4 -1.3-1.4M517.7 474.9l-0.8 4.7 -0.9 4.6 -1.4 4.5 -1.9 4.4M488.8 500.7l4-1.2 3.9-1.1 3.8-1.7M500.5 496.7l0-0.1 0.1 0M512.7 493.1l4.2 3.2 4.4 3 4.7 2.5M526 501.8l1 1.7 -0.1 2.1M526.9 505.6l-4.4 2.2 -3.7 3 -2.7 4.2M500.5 496.7l1.4 4.3 2 4 2.4 3.8 0.7 4.5M507 513.3l4.7 0.3 4.4 1.4M540.6 513.5l-4.9-2.1 -4.6-2.5 -4.2-3.3M540.6 513.5l0.6 3.5 1 3.4M518.7 527.7l-1-4.2 -0.6-4.3 -1-4.2M542.2 520.4l-3.6 2.2 -4 1.8 -2.7 3.5 -3.4 2.4M567.2 517.9l-4 2.8 -4.4 2.1 -4.7 1.8 -4.3 2.2M562.7 501.2l-4.3-1.4 -4.2-1.5M540.6 513.5l2.7-3 2.9-2.9 2.7-3.1 2.8-3 2.5-3.2M569.4 542.2l-4.6-1.4 -4.5-1.7 -4.3-2.3 -4.4-2M549.8 526.8l0.7 4 1.1 4M232.9 340.6l-4.7-0.1 -4.7-0.8 -4.8 0.3 -4.6-1.3 -4.8-0.2M218.9 308.7l-3 3 -3.1 2.9 -3.7 2.1 -2.9 3.1M507.9 347.1l-4.4 1 -4.2 1.4 -4.5 0.7 -4 2.1 -4.2 1.5M507.9 347.1l3.4 4.9 4.4 4.1M487.5 369.3l4.9 0.7 5-0.1 5 0.4 5-0.4M515.7 356.1l-1.9 3.5 -1.6 3.8 -2.7 3.1 -2.1 3.4M507.6 390.7l-4.3 0.8 -4.2 0.3 -4.4 0 -4.1 1.2M507.6 390.7l2.2-3.1 1.7-3.4M507.4 369.9l1.9 4.6 0.8 4.9 1.4 4.8M568.7 251.8l2.4-4.6 1.7-4.9M568.7 251.8l0.5 2.3 0.6 2.4M572.8 242.3l3.7-1.7 3.8-1.5 3.9-1.1 4.2-0.1M588.4 237.9l0.7 5.3 0.3 5.4M569.8 256.5l5.4 0.1 5.4 0.4M589.4 248.6l-3.3 2.4 -2.7 3.1 -2.8 2.9M568.1 339.5l-4.6 0.1 -4.5-1 -4.4-1.1M568.1 339.5l2.5-1.6 2.2-1.9M554.6 337.5l-1.9-3.5 -1.8-3.6M572.8 336l-0.1-2.1 0.2-2.2M550.9 330.4l1.6-4.1 3.2-2.9 3.2-2.8 2.3-3.6M572.9 331.7l-2.8-3.8 -2.5-4 -3.8-3 -2.6-3.9M587.4 359.5l1.6 4.9 1 5.1 3.3 4.1M587.4 359.5l-4.5 0.4 -4.6 0.4 -4.5 0.6M593.3 373.6l-3 2.9 -4.1 1.2 -3.7 1.7 -3.1 2.8 -3.7 1.7M573.8 360.9l-1.6 4.6 -1.3 4.7 -1.7 4.5 -1.4 4.7M575.7 383.9l-4.3-1.7 -3.6-2.8M568.1 339.5l0.1 4.2 0.9 4.3 -1.4 4.2 -0.4 4.3M572.8 336l4.4 0.4 4.1 1.1 3.4 3.1 3.7 2.2 4 1.2M567.3 356.5l3 2.6 3.5 1.8M587.4 359.5l1.8-4.5 2.7-3.9 2.2-4.3M592.4 344l1 1.4 0.7 1.4M604.6 381.1l-3.5-2.8 -3.9-2.3 -3.9-2.4M604.6 381.1l2.1-4.2 3-3.6 2.5-3.9 3.3-3.4 3-3.6 2.4-4M620.9 358.4l-2-3.6 -2.4-3.5 -1.4-4M594.1 346.8l4.2-0.1 4.2 0.5 4.2 0.3 4.2-0.4 4.2 0.2M604.6 381.1l0.4 0.9 0.1 0.9M580.5 401.3l2.9 0.1 2.9-0.2M580.5 401.3l-2-4.2 -1.4-4.2 -0.4-4.6 -1-4.4M636.9 364.5l-0.8 4.7 -1 4.7 -0.2 4.7 -0.2 4.8M636.9 364.5l-3.9-1.7 -3.8-2.2 -4-1.4 -4.3-0.8M619.5 395.5l-0.2-0.4 -0.2 0.5M605.1 382.9l3.7 2.9 3.4 3.4 3.3 3.3 3.6 3.1M641.3 493.4l-3-3.1 -2.1-3.7 -2-3.8 -2.6-3.4M656.3 462.8l-4.2-0.5 -4.1 0.8 -4.2 0.7 -4.1-0.5 -4.2-0.3M631.6 479.4l1.4-4 0.7-4.1 1.1-4.1 0.7-4.2M529.8 432.1l0.1 1.8 0.5 1.8M530.4 435.7l-1.8 4.8 -2.1 4.8 -3.1 4.2M507.4 446.9l-1.5-4.1 -3.3-3.1 -1.6-4.1 -1.2-4.1M507.6 390.7l0.9 4.4 2.1 3.8 2.4 3.8 1 4.3M484.1 399.5l-0.5 2.2 1.3 1.8M514 407l-3.4 3.7 -3 4.1 -2.7 4.3M504.9 419.1l-3.9-1.8 -3.9-2 -3.5-2.4 -3.1-2.9 -2.7-3.3 -2.9-3.2M529.8 432.1l1.9-4.3 2.7-3.8M514 407l4.2 0.7 4.2 0.2 4.2-0.6M504.7 424.8l0.1-2.9 0.1-2.8M534.4 424l-2.1-4.1 -2.3-4 -1.2-4.6 -2.2-4M569.7 409.2l-1.2 4.1 -2.2 3.6 -1.6 3.9 -2 3.6 -2.4 3.5 -2.4 3.5M569.7 409.2l-4.1-1.8 -3.8-2.3 -4-1.8 -4.1-1.5M557.9 431.4l-3.5-2.4 -3.4-2.6 -3.1-3 -3.8-2M544.1 421.4l2.3-3.7 1.6-4.1 1-4.3 1.9-4 2.8-3.5M529 277.8l-3.5-1.9 -3.8-1.4M529 277.8l0.3 4.1 -0.2 4.2 1 4.1 0.6 4.1 -1.2 4.2M510 293.2l4.5 1.6 4.9 0.6 4.1 2.5 4.1 2.5M529.5 298.5l-0.8 1.1 -1.1 0.8M538.7 275.9l-0.6-5.2 0.3-5.2 0.8-5.2M538.7 275.9l-4.9 1 -4.8 0.9M520.6 272.8l1.1 0.5 0 1.2M520.6 272.8l1.7-3.7 2.5-3.3 1.1-3.9 1.6-3.8M527.5 258.1l5.9 1.1 5.8 1.1M520.6 272.8l-4.1-2.6 -4.7-1.4M511.8 268.8l-0.3-4.5 -0.4-4.5 -1.9-4.2 -0.1-4.6M509.1 251l4.7-1.1 4.8 0 4.6-1.4M527.5 258.1l-2.4-4.7 -1.9-4.9M518.7 231.7l2.6 4 2.1 4.3 2.9 3.8M507 234.4l0.9 4.1 0.9 4 0.1 4.2 0 4.2M509.1 251l0.4-0.9 -0.6 0.8M523.2 248.5l1-2.7 2.1-2M502.4 334.1l1.8 1.7 2.1 1.4M506.3 337.2l3.7-3.3 4.3-2.5 3.8-3.2 4-2.8M501.6 315.5l2-2 2.3-1.6M505.9 311.9l4.9 1.4 4.6 2.1 4.9 1.5M522.1 325.4l-0.3-4.4 -1.5-4.1M507.9 347.1l-1.2-4.9 -0.4-5M490.2 332.8l-4.7 3.2 -4.6 3.4M527.5 306.4l-2 3.7 -3.3 2.9 -1.9 3.9M527.5 306.4l3.4 2.3 4.1 1 3.5 2 3 2.9M429.4 241.4l0.7-0.3 -0.3 0.7M429.4 241.4l3.6-2.9 3.3-3.1 2.6-3.8 2.4-4M429.8 241.8l4.5 0.7 4.6 0.5 4.1 2 4 2.6 4.7 0M446 227.7l-2.3 0 -2.4-0.1M446 227.7l2.3 3.6 0.8 4.2 2.1 3.6 2.2 3.6M453.4 242.7l-0.7 2.5 -1 2.4M416.6 227.5l2.4-4 4-2.4 3.8-2.6 3.1-3.2M416.6 227.5l2.8 3.8 3 3.4 3.3 3.3 3.2 3.3M429.9 215.3l3.3 2.7 2.6 3.3 3 2.9 2.5 3.4M428.9 241.3l0.3 0.1 0.2 0M452.5 221.1l-2.2 4.3 -4.3 2.3M452.5 221.1l3.7 2.3 4 1.8 3.7 2.2M463.9 227.4l-0.6 5.1 -1.2 5.1M462.1 237.6l-4.1 3 -4.6 2.1M452.4 250.8l-0.2-1.6 -0.5-1.6M452.4 250.8l4.3 0.9 3.9 1.8 3.8 2.4 4.2 1.3M468.6 257.2l3.2-1.9 3.5-1.1M475.3 254.2l-0.9-5.9 0.4-5.9M474.8 242.4l-4.1-2 -4.3-1.3 -4.3-1.5M432.8 256.7l-3.5 4.2 -4.3 3.3M432.8 256.7l4.7 1 4.4 2 4.6 1M446.5 260.7l0.8 5.6 -0.1 5.6M447.2 271.9l-2.6 1.7 -2.9 1M428.9 241.3l-4.1 2.9 -3.6 3.5 -4.1 3M417.1 250.7l0.6 4 1.8 3.9 0.2 4.2M419.7 262.8l2.4 1.5 2.9-0.1M429.8 241.8l0.5 5.1 1.5 4.9 1 4.9M452.4 250.8l-2.3 5.3 -3.6 4.6M423.2 281.7l2.4 3.7 2.9 3.3 2.2 3.8 3 3.2M435.3 295.8l-0.9 0.7 -0.7-0.8M559.4 562l-3.1 3.3 -4.2 1.9 -3.9 2.4 -2.8 3.7M545.4 573.3l-3.9-2.6 -4.2-2.2 -4.4-1.7M532.9 566.8l0.8-4 0.2-4.1 0.4-4 1.1-4M543 548.6l-4 0.5 -3.6 1.6M563.5 562.1l-2 0.1 -2.1-0.2M547.6 586.3l0.1-4.4 -1.4-4.3 -0.9-4.3M551.6 534.8l-3 2.9 -2.2 3.4 -1.3 4 -2.1 3.5M521.9 574.3l3.7-2.6 3.9-2.1 3.4-2.8M512.3 571.3l-0.1-4.5 -0.6-4.4 0.3-4.5 0.3-4.4 1.1-4.4M513.3 549.1l4.5-0.5 4.4-0.7 4.5 0.5 4.5-0.3M531.2 548.1l2.3 1 1.9 1.6M528.5 530.3l-0.2 4.6 1 4.4 1.1 4.3 0.8 4.5M471.2 816.1l0.4-4.7 1.3-4.3 1.8-4.3 1.3-4.3 1.7-4.3M471.2 816.1l-4.5 0.2 -4.4 0 -4.5 0.2 -4.4-0.3 -4.5-0.1 -4.4-0.5 -4.4-0.6M438.4 791.6l1.1 4.7 0.3 4.6 0 4.7 0.3 4.7 0 4.7M438.4 791.6l4.3-0.6 3.8-2.1 4.1-0.9 3.9-1.9 4.2-0.7 3.9-1.9 4.1-1.2 4-1.3M470.7 781l2.3 4.4 2.3 4.4 2.4 4.4M429.4 832l0.4-2.7 -0.6-2.7M471.7 817.5l0-0.8 -0.5-0.6M429.2 826.6l4.3-3.2 3.6-4 3-4.4M519 764.6l0.1 2.1 1.3 1.7M477.7 794.2l4.2 0.9 4.3 0.5 4.4-0.7 4.2 1.3 4.3-0.1 4.2 1.5 4.2 0.9 4.4-0.8M511.9 797.7l1.4-4.1 1-4.3 1.8-4 0.7-4.3 0.2-4.5 0.8-4.4 2.6-3.7M564.7 762.2l-2.5 3.4 -2.5 3.6 -1.6 4 -2.8 3.3 -1.8 3.9M520.4 768.4l3.9 2 4.5 0.7 4 1.8 4.3 0.9 4.4 0.8 3.8 2.6 3.8 2.4 4.4 0.8M573.3 804.1l3.8-1.4 3.7-1.8 3.7-1.8 4-1M573.3 804.1l-4.5-2.1 -3.7-3.5 -4.1-2.8 -4.6-2M556.4 793.7l-0.4-4.6 -1.5-4.3 -1-4.4M503.3 831.8l1.2-4.2 0.9-4.3 1.4-4.1 1.3-4.2 1.4-4.1 0.4-4.4 1.3-4.1 0.9-4.3M538.8 835.2l-4.8 1.7 -4.9 1.5 -4.4 2.4M538.8 835.2l-0.7-4.5 -0.3-4.5 -0.8-4.5 -1-4.5 -0.8-4.5 -0.4-4.6M534.8 808.1l-4-1.1 -4.2-0.7 -3.8-1.6 -4-1.3 -3.3-2.8 -3.4-2.5M499.8 833l2 0.1 1.5-1.3M511.9 797.7l0.3 0.1 -0.1 0.3M516.6 873.4l0.3-4.2 0.7-4.2 0.9-4.1 0.9-4.1 0.8-4.1 1.4-4 1.2-4 1.9-3.9M553 841l1.4 3.9 0.5 4.1 0.4 4.1 1 4 0.2 4.2 0.6 4M553 841l-5.1-1 -4.1-3.6 -5-1.2M553 841l3.9-1.4 3.1-2.8 3.5-2 3.3-2.3 3.2-2.5M570 830l-1-4.5 1.5-4.2 1-4.3 -0.4-4.4 0.8-4.3 1.4-4.2M556.4 793.7l-3.9 2 -3.4 2.7 -3.3 2.9 -4 1.8 -3.7 2.3 -3.3 2.7M66.5 293.4l3.3 3.6 4.3 2.1 4 2.5 4.5 1.8M66.5 293.4l-4.6 2.5 -5.2 1.1M69.5 332.3l3.8-2.4 4.1-2.2 3.3-3.2 3.5-2.8M82.6 303.4l0.8 4.6 0.3 4.5 0.1 4.6 0.4 4.6M378.3 594.7l-3.7 3.7 -2.9 4.3 -3.9 3.4M352.5 574.8l-0.3 4.7 -1.5 4.4 -1.2 4.6 0.4 4.7 -0.4 4.6M349.5 597.8l4.1 0.6 3.5 2.1 3.2 2.7 3.7 1.5 3.8 1.4M401.7 619.4l-4.3-0.3 -4.2 1 -4.2 1.1 -4.2 1 -4.2 0.9 -4.4-0.8 -4.3 1M367.8 606.1l0 4.6 1.9 4 1.1 4.3 1.1 4.3M386.8 655.1l-2.1-4 -2.8-3.5 -2.5-3.7 -2.9-3.5 -2-4.1 -3-3.4 -1.8-4.2M371.9 623.3l-0.8 2.8 -1.4 2.6M269.2 672.6l3-2.9 1.8-3.5 2-3.5 1.1-4 2.3-3.3 1.5-3.7 1.5-3.7 1.8-3.6M252.6 635.9l4-0.4 4.1-0.3 4.1 0.5 4.1 0.8 4-0.5 4.1-0.2 4.1-0.1M281.1 635.7l2.1 4.1 1 4.6M284.2 644.4l3.9 1.9 3.8 2.2 4.3 1.1 3.9 1.9 4.1 1.5 4 1.9 3.9 2M268.6 564l1.9 3.8 2.5 3.4 2.6 3.2 2 3.8 2.8 3.1 2.5 3.4M282.9 584.7l-2.9 3.7 -3.4 3.5 -3.9 2.8 -2.4 4.2 -3.3 3.5M281.1 635.7l2.5-4.6 1.6-5.1 1.9-4.8M267 602.4l3.5 2.9 3.1 3.4 3.6 2.9 3.1 3.4 3.9 2.6 2.9 3.6M621 882l-4-1.3 -4.2 1.1 -4.1-0.5 -4.2 0.2 -4.1-0.1 -4.1-0.7 -4.1-0.9M592.2 879.8l-2.5-3.3 -1.9-3.7 -1.6-3.9 -1.9-3.6M584.3 865.3l1.1-4.2 2.6-3.5 1.7-3.9 3-3.3 1.5-4 2.2-3.6M596.4 842.8l5.1-1.4 5.1-0.8M621.3 882.2l-0.2 0 -0.1-0.2M609.5 837.6l-1.7 1.2 -1.2 1.8M581 894.8l1.8-4.5 3.7-3.1 2.7-3.8 3-3.6M557.1 865.3l4.5-0.5 4.5 0.1 4.6-0.3 4.5 0.2 4.5 0.4 4.6 0.1M570 830l3.9 1.6 3.8 1.7 3.7 2.1 3.9 1.6 4 1.4 3.3 2.7 3.8 1.7M361 806.6l4.7-3.7 5.7-1.9M371.4 801l4.4 1.2 3.8 2.6 4.2 1.5 3.7 2.7 4.1 1.7 4.2 1.6M364.7 759.5l3.6 2.7 4.2 1.8 3.7 2.5 3.9 2.4M371.4 801l0.5-4.1 1.3-4 1.1-4 1.4-3.9 2-3.8 1-4 1-4.1 0.4-4.2M429.2 826.6l-3.6-2.2 -2.9-3.1 -3.7-2.1 -3.1-2.9 -3.4-2.5 -3.4-2.5 -3.8-1.9M405.3 809.4l-4.8 1.4 -4.7 1.5M637.5 266.7l0.3 3.4 0 3.5M653.7 283.3l-2.7 0.2 -2.7-0.1M648.3 283.4l-3.7-3.1 -3.5-3.2 -3.3-3.5M589.4 248.6l3.6 2.2 3.1 3.3 3.6 2.4 4.1 1.6M580.6 257l2.8 3.3 2.8 3.4 2.8 3.4M603.8 258.1l-1 3.8 -1.6 3.5M589 267.1l4-1.1 4.2 0.2 4-0.8M666.4 337.6l-4.1 0.2 -3.8 1.3 -3.8 1.6 -3.7 1.7 -3.9 1.1M666.4 337.6l2.3 4.2 0.7 4.6 1.4 4.5 0.8 4.6M671.3 356l-0.2-0.4 0.5-0.1M647.1 343.5l-0.6 4.5 -0.2 4.6 -0.6 4.6 -1.4 4.4M669.2 331.3l-1.8 3 -1 3.3M678.1 374.9l-1.9-3.6 -0.3-4.1 -2-3.5 -1.4-3.8 -1.2-3.9M661.7 382.9l-3-3.4 -2-3.8 -1.8-4 -2.1-3.8 -1.8-4M636.9 364.5l3.8-1.2 3.6-1.7M656.1 297.1l-4.6 3.5 -4.7 3.5M656.9 319l-3.2-3.3 -2.4-3.8 -1.7-4.3 -2.8-3.5M345.9 241.4l-5.3-1.3 -5.5-1M335.1 239.1l-1.6 4.5 -1.4 4.6 -2.7 4 -1.4 4.6M349.4 253.5l-3.8 1.9 -3.8 1.9 -4.2 1 -4.1 1.3M333.5 259.6l-2.9-1.1 -2.6-1.7M344 220.8l3.6 1.7 3.4 1.9M353.3 233l-3.9 4 -3.5 4.4M331.1 233l1.9 3.2 2.1 2.9M351.5 254.6l-1.1-0.4 -1-0.7M364.7 252.2l2.3-3.7 1.7-4.1M368.7 244.4l-0.9-3.1 -1.3-2.9M366.5 238.4l-5.2 0.2 -3.8-3.3 -4.2-2.3M322.9 230.5l-1.6 4.7 -3.2 3.8 -2.5 4.3M327.1 256.9l-2.3-4 -3.8-2.6 -3.2-3.1 -2.2-3.9M327.1 256.9l0.4-0.6 0.5 0.5M345.6 277.3l3.9-1.2 3.2-2.4M339 274.6l-2.3-4.8 -1-5.3 -2.2-4.9M326.1 281.7l-0.8-0.3 -0.8-0.1M324.5 281.3l-1.5-4.2 -3.1-3.2 -3.4-3 -1.9-3.9M354.1 198.9l0.5 1.2 1.3 0.4M351 224.4l5.1-3 4.5-3.9M355.9 200.5l0.3 4.5 1.9 4 1 4.4 1.5 4.1M366.5 238.4l2.7-5.4 2.9-5.2M372.1 227.8l-2.5-4.7 -2.8-4.5M360.6 217.5l3.1 0.3 3.1 0.8M209.2 141.3l3 3.5 3.2 3.5 3.5 3 3.9 2.7M235.9 127.7l1.5 4.1 0.1 4.4 1.1 4.1 0.7 4.3M222.8 154l4.3-2 4.2-2.3 4.5-1.7 3.5-3.4M206.6 177.8l4.1-1.7 4.1-1.2 4-2M318.2 222.1l-1.3 0 -1.1-0.7M315.6 243.3l-3.5 0.8 -3.6 0.4M308.5 244.5l-4.1-2.8 -2.7-4.1M301.7 237.6l1.9-4 0.5-4.5 2.1-4M315.8 221.4l-4.5 2.7 -5.1 1M283 96.3l0.5 2.2 -0.1 2.2M246.8 112.2l3.7 2.5 4.1 1.9 3.6 2.7 3.9 2.2 4.1 1.9 3.4 2.9M269.6 126.3l2.3-0.8 1.6-1.9M441.4 77.2l3.1 3.1 4.2 1.8 2.7 3.5M442 108.9l-3.1 0.2 -3 0.3M435 108.8l0.4 0.4 0.5 0.2M339.7 125.1l5.2 1.2 5.3 0.8M353.9 108.5l1.6 5.7 1.8 5.6M350.2 127.1l3.8-3.4 3.3-3.9M384.4 226.2l-1-4.5 0-4.7 -1.1-4.5M384.4 226.2l-4.1 0.4 -4 1.5 -4.2-0.3M366.8 218.6l2.9-4 3.5-3.4M382.3 212.5l-4.6-0.2 -4.5-1.1M388 228.5l3.9-2.5 3.1-3.4 3.3-3.3 3.8-2.6M402.1 216.7l-2.6-3.3 -3.3-2.7 -2-3.7M394.2 207l-3.1 0.6 -3.1-0.8M382.3 212.5l2.6-3.1 3.1-2.6M373.2 211.2l-1.4-4.2 -1.6-4.2M444.9 190.6l-3.7 3.2 -3.9 3.2 -3.9 2.9M444.9 190.6l4.7 3.8 3.8 4.6M453.4 199l-1.3 5.3 1 5.5M453.1 209.8l-4.2-0.4 -4.3-0.2 -4.1-1.8 -4.2-0.1 -4.3 0.4M433.4 199.9l0.1 4.1 -1.5 3.7M452.5 221.1l1.2-5.4 -0.3-5.6M429.9 215.3l0.6-3.4 0.6-3.4M453.1 209.8l0.3 0 0 0.3M414.4 227.4l-3.7-2.7 -2.6-3.6 -2.6-3.7M405.5 217.4l2.3-3.7 2.4-3.5 2.8-3.3 1.9-3.9M431.1 208.5l-3.9-1.9 -4.3-0.5 -4.1-1.3 -3.9-1.8M402.1 216.7l1.6 0.6 1.8 0.1M394.2 207l2.7-5.3 3-5M399.9 196.7l5.8-0.8 5.7-0.5M414.9 203l-1.6-3.9 -1.9-3.7M624.8 182.1l-4.3 0.6 -4 1.6 -3.9 2M624.8 182.1l1.8-4.4 1.4-4.6 0.3-4.7M608.6 168.5l0.1 4.7 1.4 4.3 0.9 4.5 1.6 4.3M608.6 168.5l4.2-1.2 4.3-0.7 4.3-0.8 4.3-0.8M625.7 165l1 1.9 1.6 1.5M594.4 186.5l-2.7 4.1 -2.9 3.9 -2.6 4.1M589.6 205.1l-1.7-3.3 -1.7-3.2M603 206.5l3.6-2.3 3.1-2.9 3.6-2.4M613.3 198.9l-1.2-4.9 -0.8-5M592.3 177.3l1.8 4.4 0.3 4.8M592.3 177.3l3.8-2.5 3.9-2.1 3.7-2.4 3.7-2.4M607.4 167.9l0.3 0.8 0.9-0.2M612.6 186.3l-0.1 1.6 -1.2 1.1M606.8 218.6l-1.8-3.9 -1.6-3.9 -0.4-4.3M622 203l-4.2-2.3 -4.5-1.8M632.5 188.7l-3.8-3.4 -3.9-3.2M474.8 242.4l2.5-3 2.3-3M463.9 227.4l2.7-2.2 3.3-0.7M479.6 236.4l0.1-2.4 -0.4-2.4M469.9 224.5l4.5 3.7 4.9 3.4M453.4 210.1l4.8-1.2 4.8 0.4 4.8-0.1 4.9 0.4M469.9 224.5l1.4-4.9 0.3-5 1.1-5M500.3 229.7l-3.6 3 -2.3 3.9 -2.6 3.7M500.3 229.7l-3.4-3.4 -4.2-2.1 -4.2-2.1M491.8 240.3l-3.8-2.2 -4.1-1.2 -4.3-0.5M479.3 231.6l2.7-3.6 3.8-2.4 2.7-3.5M500.9 229.7l-0.4-0.5 -0.2 0.5M500 207.1l-4.3 2.5 -4.6 1.9 -3.9 3.2M487.2 214.7l1.3 3.6 0 3.8M476.7 254.8l3 3.3 2.4 3.6 2.7 3.5 1 4.5M494.2 249.8l1.6 1.2 1.8 1.1M497.6 252.1l-1.1 4.7 -1.5 4.5 -0.8 4.8M485.8 269.7l3.9-2.4 4.5-1.2M475.3 254.2l0.5 0.8 0.9-0.2M491.8 240.3l0.5 4.9 1.9 4.6M508.9 250.9l-5.5 2.3 -5.8-1.1M504.7 271.5l3.9-0.4 3.2-2.3M504.7 271.5l-5.5-2.3 -5-3.1M504.7 271.5l-2.4 5.2 -1.4 5.6M500.9 282.3l3.1 3.6 2.6 3.9 3.2 3.4M527.6 300.4l0.3 3 -0.4 3M505.9 311.9l0.6-4.3 -0.5-4.3 -1.2-4.1M504.8 299.2l2.2-3.2 2.8-2.8M485.8 269.7l-0.5 3.2 -1.7 2.6M500.9 282.3l-5.4 0.2 -5.3 0.6M483.6 275.5l3.5 3.6 3.1 4M451.6 274.5l1.5 4.2 0.2 4.4 1.5 4.3 0.1 4.5 0.6 4.4M451.6 274.5l4.4-0.3 4.3-1.1 4.3-0.7M455.5 296.3l4.5-2 3.8-3.2 4.3-2.4 3.5-3.5M464.6 272.4l4.4 3.1 3.9 3.7M472.9 279.2l-1.5 2.8 0.2 3.2M455.3 296.8l0.7 0 -0.5-0.5M455.3 296.8l-4 0.4 -4 0.8 -4 0.4 -4 0.1M439.3 298.5l-1.8-1.6 -2.2-1.1M447.2 271.9l2.2 1.3 2.2 1.3M468.6 257.2l-0.5 5.3 -1.9 4.9 -1.6 5M483.6 275.5l-5.4 1.8 -5.3 1.9M501.6 315.5l-4-0.7 -4-0.3 -4.1 0 -4 0.2M504.8 299.2l-4.5-0.5 -4.4-0.6 -4.5 0.1M485.5 314.7l0.8-4.4 1.9-3.9 1.9-4 1.3-4.2M485.5 314.7l-0.4-0.5 0.3 0.5M490.2 283.1l-1.3 5.7 -0.6 5.8M471.6 285.2l3.6 4.8 2.9 5.2M478.1 295.2l5.1-1 5.1 0.4M460.1 358l-1.5-0.5 -0.8-1.4M480.9 339.4l-3.8-2.3 -3.6-2.4M473.5 334.7l-4.7 1.6 -4.5 1.7 -4.7 1.4M587.2 211.3l-3.5 2.7 -3.7 2.3 -3.7 2.5 -3.6 2.6M587.2 211.3l0.8 4.7 2.3 4 2.1 3.9 2.4 3.9 2.7 3.7M572.7 221.4l4.1 2.1 2.8 3.5 3.1 3.2 3 3.3 3.8 2.5M597.5 231.5l-4 2.3 -4 2.2M598.1 231.5l-0.3 0.5 -0.3-0.5M589.6 205.1l-1.4 3 -1 3.2M588.4 237.9l0.4-1 0.7-0.9M567.1 230.8l1.7-4.5 0.9-4.8M569.7 221.5l1.5 0.2 1.5-0.3M608.4 254.3l-2.1 2.2 -2.5 1.6M570.7 163l-2.9-4.3 -3.2-4.1M548.8 165.9l0.4-4.6 0.6-4.6M548.8 165.9l4 0.7 3.4 2.4 3.7 1.7 4 1M564.6 154.6l-5 0.3 -4.9 1.1 -4.9 0.7M570.2 166l-2.6 3.4 -3.7 2.3M197.9 880.2l-5-1.2 -5-1 -5.1-0.2M197.9 880.2l1.7-4.1 1.8-4 3.7-3 1.6-4.1 1.9-4 2.3-3.8M182.8 877.8l-2-3.5 -2.2-3.4 -2.3-3.3 -2.4-3.1 -2.4-3.2 -1.8-3.7 -2.4-3.2M209 853.2l1.6 1.7 0.3 2.3M209 853.2l-3.9-2.2 -3.9-2.1 -3.6-2.8 -3.8-2.4 -4.1-2 -4.6-0.7 -4.3-1.4M180.8 839.6l-1.6 0.2 -1.6 0.3M203.6 889l-2.8-4.5 -2.9-4.3M163.3 898.5l2.3-3.4 3.4-2.4 2.4-3.3 2.8-2.9 2.9-2.9 2.6-3.1 3.1-2.7M150.7 856.7l4.4 1.1 4-1.4 4.2-0.3 4-1.7M216.3 829.7l-1.1 4 -0.5 4.1 -2.5 3.5 -1.2 4 -0.9 4 -1.1 3.9M202.9 816.2l-2.7 3 -2.2 3.5 -2.7 2.9 -2.7 3.1 -2.5 3.1 -2.8 2.9 -2.2 3.4 -4.3 1.5M167.6 821.9l1.6 3.9 2.3 3.5 1.4 4 2.5 3.3 2.2 3.5M447.3 383.8l2.5 1.4 2.7-0.7M447.3 383.8l-2.8-3.1 -1.6-3.7 -2.3-3.3 -2-3.5 -2.2-3.3 -0.9-4.1M452.8 384.3l-0.4-0.2 0.1 0.4M457.8 356.1l-4.4 0.2 -4.3 0.9 -4.4 0.2 -4.4-0.8M435.5 362.8l2.2-3.2 2.6-3M418.9 393.3l0.9-4.4 0.2-4.5 0.7-4.3 0.2-4.5 1.3-4.3 1.1-4.3M418.9 393.3l2.1 2.1 0.1 3M421.1 398.4l3.3-2.9 4.6-0.5 3.8-2 3.9-1.8 3.2-3 3.6-2.4 3.8-2M435.5 362.8l-4 1.4 -4.1 1.3 -4.1 1.5M338.7 345.4l4.3-0.5 4.2-0.5 4.3-0.4M351.5 344l2-3.9 0.7-4.4 2.2-3.8 1.3-4.2M357.7 327.7l-3.2-4.2 -2.2-4.8M352.3 318.7l-3.7-1.6 -4-1M344.6 316.1l-3.9 2.3 -4.1 2M333.6 347.9l-1.9-4.2 -3-3.2 -3.3-2.9 -2.7-3.4 -2.7-3.5 -3.7-2.5M334.5 348l2.3-0.9 1.9-1.7M325 317.6l6 0.7 5.6 2.1M366.2 362.9l-0.7-4.2 -0.2-4.2M365.3 354.5l-3.2-2.9 -3.8-2.2 -3.4-2.7 -3.4-2.7M346.5 294.7l5.3 0.6 5.2 1.1M342.4 298l1 4.5 -0.3 4.6 0.8 4.5 0.7 4.5M357 296.4l2.3 3.3 1.9 3.6 1.5 3.7M362.7 307l-3.2 4.1 -3.4 4 -3.8 3.6M343.1 481.7l2.9-3.3 3.4-2.8 3.1-3.1 2.9-3.2M343.1 481.7l-4-0.6 -4-0.5 -3.8-1.9 -3.9-1.2 -4.2 0.2M355.4 469.3l-2.9-3 -3.5-2.4 -2.4-3.4 -2.8-3.1 -2.4-3.5 -3.4-2.4M323.2 477.7l0.4-4.8 -0.1-4.7 0.9-4.7 0.2-4.8M324.6 458.7l4.2-2.9 4.7-1.9 4.5-2.4M366.8 468.7l-5.7 0.6 -5.7 0M345.3 498.6l-0.4-4.2 0.4-4.4 -0.7-4.2 -1.5-4.1M315.9 483.6l4-2.5 3.3-3.4M309.6 451.1l3.5 2.4 3.7 2 3.9 1.5 3.9 1.7M341.9 433.2l-1.1 4.5 -1.2 4.5 -1.1 4.6 -0.5 4.7M341.9 433.2l-2.7-3.3 -2.8-3.1M380.3 382.5l0.6 4.5 1 4.4 1.2 4.3 1.3 4.3 1.4 4.4M354.9 400.3l3.2 2.9 3 3.1 2.3 3.8 4.1 2 2.6 3.5M385.8 404.4l-3.4 3.5 -4 2.7 -4.1 2.5 -4.2 2.5M341.9 433.2l4.3-0.5 4.3-0.1 4.3 0.8 4.3 0.1 4.3-0.7 4.3 0.4M371.9 465.3l-0.8-4.3 0.4-4.3 -1-4.2 -0.6-4.3 0-4.3 0.4-4.3 -0.4-4.3M367.7 433.2l1 1.2 1.2 0.9M482.4 445.5l1.3-4.8 0.9-4.8M453.5 444.6l1.4-4.2 0.6-4.4 1.7-4M457.2 432l4.5 0.6 4.6 0.5 4.7 0.2 4.6 0.4 4.7 0 4.3 2.2M499.8 431.5l-4.7 0.9 -4.6 1.4 -4.7 0.8M478.1 417.2l0.5 5 3.4 3.7 1.1 4.7 2.7 4M484.6 435.9l0.7-0.6 0.5-0.7M439.7 410.8l4.3-2.5 4.2-2.6 4.3-2.6 4.6-1.8M443.5 421.1l4.3 2.6 4.2 2.6 4.3 2.5M460.5 403.1l1.1 5 0.9 5 1.3 5M463.8 418.1l-2 3.9 -2.9 3.3 -2.6 3.5M421.1 398.4l-0.2 0.5 0.1 0.5M452.5 384.5l0.8 4.3 2.1 4 0.9 4.2 0.8 4.3M434.9 445.7l-1.6-4 -3.1-3.1 -2.1-3.7M428.1 434.9l3.7-2.1 3.1-2.7 2.5-3.5 2.9-2.9 3.2-2.6M478.6 397.6l-4.6 1 -4.4 1.9 -4.6 1.2 -4.5 1.4M478.1 417.2l-4.8 0.1 -4.7 0.5 -4.8 0.3M511.6 547.5l-1.4-4.4 0.4-4.4 0.7-4.4M511.3 534.3l-4.5-2.1 -4.3-2.7 -4.2-2.6 -4.8-1.6M486.1 531.2l3.5-2.3 2.5-3.4M488.9 563l2.9-3.1 1.6-3.9 2.2-3.5 1.9-3.7M513.3 549.1l-0.6-1 -1.1-0.6M518.7 527.7l-4.1 2.8 -3.3 3.8M507 513.3l-3.2 3.2 -3.5 2.9 -3 3.4 -3.8 2.5M482.6 531.9l2 0.6 1.5-1.3M486 505.8l1.8 3.7 1.3 4 0.9 4 0.4 4.2 1.7 3.8M171.8 341.8l2.7 3.7 1.9 4.2 1.2 4.6 3 3.5 2 4.2 2.8 3.7M171.8 341.8l2.8-2.3 2.6-2.4M177.2 337.1l4.3 1.3 4.6 0.5 4.3 1.2 4.1 1.9 4.3 1.3 4.4 1.1M185.4 365.7l4.8-0.9 5.1 0.2 4.4-2.6 4.8-1.1M204.5 361.3l-0.6-4.2 0.6-4.3 -0.4-4.2 -0.9-4.2M148.4 365.4l0.3-0.2 -0.2-0.4M181.1 375.6l2.8-4.7 1.5-5.2M148.5 364.8l3.3-2.9 3.2-3.1 2.7-3.5 3.1-3.1 2.7-3.5 2.7-3.5 3.2-3M169.4 342.2l1.1-0.5 1.3 0.1M209.3 338.5l-3.3 2.7 -2.8 3.2M206.2 319.8l-4.4-1.6 -4.6 0 -4.7 0 -4.6-0.2 -4.5-0.7M183.4 317.3l0 4.4 -2.1 3.7 -1.2 3.9 -2.2 3.7 -0.7 4.1M217.4 378.4l-0.2-4.2 -1.6-3.8M215.6 370.4l-3.8-3 -3.7-3 -3.6-3.1M215.6 370.4l2.8-3.2 3-3 2.8-3.2 3.1-2.9 3.8-2.4 2.7-3.3 1.1-4.6 2.4-3.5M232.9 340.6l1.2 1.1 1.5 0.4M237.3 344.3l-1.1-0.9 -0.6-1.3M175.1 178.4l-2.2 4 -1.6 4.2 -0.9 4.4 -1.1 4.3 -0.6 4.6M151.2 167l-4.7 3 -3.3 4.5M144.7 185.8l-1.5-5.5 0-5.8M144.7 185.8l3.4 2.7 4 1.8 3.7 2.3 3.5 2.7 3.7 2.3 3.3 2.8M168.7 199.9l-1.5-0.9 -0.9 1.4M144.7 185.8l-3.2 3.3 -2.7 3.7 -3.3 3.2 -3 3.5 -3.4 3.2M166.3 200.4l-3 3.7 -4 2.9 -3 3.7 -3.1 3.7 -2.8 3.9M571.3 409.1l3.4-2.3 2.5-3.2 3.3-2.3M571.3 409.1l-0.8 0.5 -0.8-0.4M567.8 379.4l-4.3 0.8 -4.3 1.1 -4.4 0.6M553.7 401.8l0.3-0.2 -0.4 0.2M554.8 381.9l-0.6 4.9 0.7 5.1 -1.5 4.9 0.2 5M511.5 384.2l4.4 0.6 4.5 0 4.4-0.6 4.5-0.1M526.6 407.3l2.9-3.8 3.5-3.3M534.4 424l4.7-1.9 5-0.7M553.6 401.8l-4.1 0.2 -4.2 0 -4.1-0.2 -4.1-1.2 -4.1-0.4M538.7 275.9l2.5 1.9 3.1 0.6M555.9 263.4l-1.5 3.9 -1.1 4 -1.3 4M555.9 263.4l-2.9-3.6 -3.5-2.7 -4.2-1.9M545.3 255.2l-3.4 2.1 -2.7 3M544.3 278.4l3.7-2 4-1.1M544.3 278.4l0.3 4.2 -0.6 4.3 1.7 4 0.3 4.1M572.9 331.7l2.6-3.7 3.4-3.1 2.7-3.7M592.4 344l1.4-4.7 -0.3-4.9 0.8-4.7 0.1-4.9M581.6 321.2l4 2 4.2 1.7 4.6-0.1M610.5 320.5l-4.5 0.7 -4.5 0.2 -4.4 0.8M610.5 320.5l2.5 3.6 3 3.2 3.1 3.1 2.2 3.9M621.3 334.3l-1.9 4.4 -2.4 4.2 -1.9 4.4M594.4 324.8l2.1-0.6 0.6-2M609.5 495.6l-0.6-3.3 -0.1-3.3M631.6 479.4l-4.4 1.2 -4.5 0.7 -4.5 0.4 -4.4 0.8M608.8 489l2.3-3.4 2.7-3.1M638.7 414.6l-4.7 2.5 -3.3 3.7 -2.9 4.1 -2.7 4.3M619.1 395.6l-0.6 4.6 -2.3 3.7 -3 3.4 -2.5 3.7 -1.5 4.1M625.1 429.2l-3.3-2.8 -2.5-3.5 -2.7-3.3 -4.3-1.6 -3.1-2.9M586.3 401.2l3.5 3 3 3.5 3.6 3 3.4 3.1 3.6 3M609.2 415.1l-3.2 0 -2.6 1.7M538 233.4l5.4-1.5 5.6-0.4M538 233.4l-1.9 3.6 -1.2 3.9M534.9 240.9l3.1 3.8 3.6 3.2 3.9 3M545.5 250.9l4.8-3.6 4.7-3.5M549 231.5l3.1 3 3.1 2.9M555 243.8l0.1-3.2 0.1-3.2M553.5 216.5l-1.5 5 -0.8 5.2 -2.2 4.8M553.5 216.5l-3.1-2 -3.2-1.7M532.8 222l2 3.6 2 3.8 1.2 4M526.3 243.8l4.3-1.5 4.3-1.4M545.3 255.2l-1.1-2.2 1.3-2.1M568.7 251.8l-4.2-3.2 -4.4-3 -5.1-1.8M569.8 256.5l-0.6 1.7 -1.2 1.3M555.9 263.4l4.1-1 4.1-1.1 3.9-1.8M567.1 230.8l-4.3 1.6 -3.8 2.5 -3.8 2.5M563.5 216l2.5 3.4 3.7 2.1M423.2 281.7l-3.2 0.5 -3.2-0.2M433.7 295.7l-4.1 1.1 -3.6 2.3 -3.6 2.2M422.4 301.3l-4-1.5 -3.4-2.7 -3.5-2.5M411.5 294.6l2.5-3.9 1.9-4.1 0.9-4.6M410.1 248.5l-3.5 5 -5.2 3.2M401.4 256.7l-4.5-2.7 -3.9-3.7 -4.7-2.4M405.9 237.4l-4.8 1.2 -4.9 0.6 -5-0.5M391.2 238.7l-2.6 3.1 -0.9 3.9M387.7 245.7l0.1 1.1 0.5 1.1M414.4 227.4l-3.8 2.5 -2.2 3.9 -2.5 3.6M417.1 250.7l-3.5-1.2 -3.5-1M388 228.5l1.2 5.2 2 5M368.7 244.4l4.8-0.5 4.8 0 4.7 0.5 4.7 1.3M382 264.7l-4.2-0.8 -4.2-1.3 -4.3-1M382 264.7l0.6-4.6 2.1-4 2.8-3.8 0.8-4.4M96.8 325.4l3.3-3.5 3.8-2.8 4.2-2.4 4-2.5M96.8 325.4l1.2 5.2 1.5 5.1 1 5.2M112.1 314.2l4 1.5 3.1 2.7 2.9 2.8 2.8 2.9 2.5 3.2 3.2 2.5M100.5 340.9l3.7 2 3.9 1.2 4 1 3.9 1.2M116 346.3l3.6-3 4.6-1.2 3.7-2.9M127.9 339.2l1.5-4.7 1.2-4.7M82.6 303.4l3.8-2 3.7-2.3 4.2-1 3.8-1.9 4.5-0.3M84.2 321.7l4.3 0.8 4.2 1.4 4.1 1.5M102.6 295.9l4.2 2.4 4.3 2.2M111.1 300.5l0.7 4.6 0.4 4.5 -0.1 4.6M113 362.4l1-4 0.9-4 -1.1-4.3 2.2-3.8M148.5 364.8l-3.1-2.7 -2.7-3.1 -2.8-3.1 -2.5-3.3 -2.4-3.3 -2.2-3.5 -2.9-3 -2-3.6M169.4 342.2l-3.1-2.6 -3-2.8 -3.1-2.6 -3.1-2.6 -3.3-2.4 -3.2-2.6 -2.8-3 -4-1.4M143.8 322.2l-4.6 2.2 -4.1 2.9 -4.5 2.5M392.9 765.2l-0.2-0.2 0.2 0.2M392.9 765.2l4.2-0.5 4-1.1 3.9-1.2 4.2-0.6 3.6-2.6 4-1.2 4.1-0.6 4.1-0.7M392.9 765.2l3.5 2.6 1.5 4.1 2.9 3.1 2.3 3.5 1.7 3.9 2.2 3.5 1.9 3.8 2.9 3.1M429.7 759.2l-2.2-1.6 -2.5-0.9M429.7 759.2l0 4.6 -0.1 4.7 -0.5 4.7 0.9 4.6 0.4 4.6 1 4.6M431.4 787l-3.9 1.4 -3.6 2.1 -4.1 0.5 -4 0.9 -4 0.9M395.2 726.8l0.3 4.3 -0.2 4.3 -1.5 4.2 -0.1 4.2 0.1 4.3 -0.3 4.3 -0.2 4.2 0.7 4.4 -1.1 4.2M380.1 768.9l4.3-0.9 4.4-0.9 4.1-1.9M420.2 726.7l1.3 4.2 0.1 4.4 1.6 4.1 -0.1 4.4 1.6 4.2 0.7 4.2 -0.4 4.5M405.3 809.4l1.8-4.1 1.8-4 1.2-4.3 1.7-4.2M444.3 756l-5.2-0.3 -4.7 1.9 -4.7 1.6M438.4 791.6l-4-1.6 -3-3M623.3 266.4l-2.6 5.2 -3 5M601.2 265.4l0.9 0.1 -0.5 0.7M601.6 266.2l3.9 2.7 4.2 2.4 3.6 3.3 4.4 2M637.8 273.6l-2.9 2.9 -3 2.6 -2.8 2.9 -3 2.8M626.1 284.8l-3.8-0.4 -3.3-1.9M617.7 276.6l0.6 3 0.7 2.9M641.7 336.3l2.2-4 1.1-4.5 1.9-4.2M641.7 336.3l-4-1.1 -4-0.3 -4-0.6 -4.1 0.1 -4-0.3M646.9 323.6l-3.7-1.7 -2.9-2.7 -3.2-2.5 -3.5-2M621.6 334.1l2.9-3.6 2.6-3.7 2.1-4.1 2-4.1 2.4-3.9M647.1 343.5l-2.8-3.5 -2.6-3.7M656.9 319l-5 2.3 -5 2.3M621.3 334.3l0.2 0.1 0.1-0.3M625.4 305.6l1.2-5.2 2.3-4.8 1.4-5.1M625.4 305.6l3.9 2.7 3.8 2.7M633.1 311l3.7-2.4 3.7-2.4 3.7-2.6M639.6 291.9l-4.7-0.4 -4.6-1M646.8 304.1l-1.3-0.6 -1.3 0.1M633.6 314.7l-0.3-1.8 -0.2-1.9M648.3 283.4l-2.8 3 -2.8 2.8 -3.1 2.7M626.1 284.8l1.9 2.9 2.3 2.8M332.5 297.3l-4.8 3 -4.3 3.8M325 317.6l-1.4-4.7 -1.4-4.8M323.4 304.1l-0.1 2.2 -1.1 1.8M218.9 308.7l0.2-1.7 1.1-1.3M235.6 342.1l1.4-4.5 0.3-4.9 1.3-4.5 1.6-4.5 2.1-4.4M220.2 305.7l5.2 1.1 5.4 0.7M242.3 319.3l-2.8-3.1 -3.3-2.5 -2.4-3.3 -3-2.9M291.3 127.1l3.2-3.9 4-2.9 3.7-3.4M291.3 127.1l2 3.8 1.8 3.9 0.9 4.2 1.7 3.9M297.7 142.9l5-1.1 4.8-1.4 4.6-2.3M305 116.9l0.7 4.4 1 4.3 1.5 4.2 1.7 4 2.4 3.8M305 116.9l-1.4-0.4 -1.4 0.4M312.1 138.1l0.5-0.1 -0.3-0.4M283.4 100.7l2.5 3.5 3.1 2.7 3.4 2.4 3.6 2.2 4 1.7 2.2 3.7M273.5 123.6l4.7-0.1 4.5 0.4 4.3 1.5 4.3 1.7M309.8 163.8l-2.7 1.1 -2.7 0.8M319.1 148.7l-2.6-3.3 -2.7-3.3 -1.7-4M304.4 165.7l-1.4-4.1 -1.1-4.3 -1.4-4.2 -2.6-3.6 -2.2-3.9M295.7 145.6l0.6-1.6 1.4-1.1M311.5 111.8l-3.5 2.3 -3 2.8M324.7 129.8l-4.6 1.9 -3.6 3.4 -4.2 2.5M337.8 144.3l-3.6 2.9 -4.3 1.5 -4.1 1.7M337.8 144.3l-1.8-3.9 -1.5-4.1 -1.3-4.2M94.5 183l1-4.6 0.1-4.7 0.8-4.6 -0.4-4.7 0.6-4.7M94.5 183l5 1.7 5.1 1.5 5 1.9M109.6 188.1l3.2-2.7 2.5-3.2 2.4-3.4 2.8-3 3.1-2.8 2.8-3M96.6 159.7l4.7-1.7 3.8-3.1 3.8-3.2M126.4 170l-2.3-3.5 -1.1-3.9 -1.5-3.8 -0.7-4.2M108.9 151.7l4.1 0.6 4 0.9 3.8 1.4M89.7 185l2.3-1.2 2.5-0.8M78.6 148.4l4 1.7 3.5 2.3 3.2 3 3.7 2 3.6 2.3M95.1 221l-3.6-1.8 -3.1-2.8 -3.7-1.7 -3.7-1.7 -3.2-2.7M95.1 221l4.4-1.3 4.5-0.7 4.6-0.3 4.4-1.2M113 217.5l1.3-5 2.5-4.5 2.3-4.6M119.1 203.4l-2.5-3.8 -2.7-3.6 -1.9-4.1 -2.4-3.8M143.2 174.5l-3.9-2.2 -4.1-1.7 -4.5-0.1 -4.3-0.5M119.1 203.4l5-0.5 5-0.2M104.1 130.7l0 4.4 1.3 4.1 1.9 4 0.9 4.2 0.7 4.3M133.7 142.4l-2.9 3.4 -3.1 3.2 -3.2 3 -3.7 2.6M415.7 87.2l-0.9 4.9 -1.4 4.8 0 5.1M435 108.8l-5.3 0.2 -5.3-0.3 -5.2-0.4M413.4 102l2.1 3.9 3.7 2.4M337.8 144.3l0.5 0.6 0.7-0.1M350.2 127.1l1 4.5 0.7 4.5M351.9 136.1l-3.8 3.6 -4.5 2.6 -4.6 2.5M338.8 168.5l2.8-4 2.6-4.2 2.4-4.2M346.6 156.1l-2-4.1 -2.7-3.6 -2.9-3.6M449.9 120.7l-1.4 4 -2.4 3.4 -2.4 3.4M449.9 120.7l5 1.3 4.7 2.4 5 1.3M464.6 125.7l-0.1 4.3 -1.9 3.8M462.6 133.8l-3.9 1.6 -4 1.5 -4.3 0.3M443.7 131.5l3 3.3 3.7 2.4M462 107l2.9 2.7 3.1 2.5M447.6 112.5l1.5 4 0.8 4.2M464.6 125.7l0.2-0.1 0.1-0.2M468 112.2l-1.7 4.3 -1.5 4.2 0.1 4.7M464.1 147.6l0.4-3.8 2.1-3.1M466.6 140.7l4.8-0.5 4.9-0.3 4.9 0.7M470 155.7l4.1-0.2 4.2 0.4M478.3 155.9l2.8-2.7 2.6-2.9M483.7 150.3l1.5-3.4 -1.3-3.4M483.9 143.5l-2-0.9 -0.7-2M462.6 133.8l2.2 3.3 1.8 3.6M464.9 125.4l5.2 0.3 5 1.2 5 1.2M480.1 128.1l1.6 4 0.9 4.2 -1.4 4.3M461.5 88l4.9-1.1 5-1.2 4.4-2.7M463.2 164.6l3.9-4.1 2.9-4.8M463.2 164.6l3.3 4.1 3.2 4.2M478.3 155.9l0.5 4 0.9 4 0.7 4M469.7 172.9l5.5-2.2 5.2-2.8M492.8 173.6l1.6-4.8 1.5-4.9 1.7-4.8M492.8 173.6l-0.9-0.7 -0.7 0.9M497.6 159.1l-3.5-2.2 -3.3-2.5 -3.5-2.1 -3.6-2M491.2 173.8l-3.5-2.2 -3.8-1.6 -3.5-2.1M514.9 188.4l1.5-2.5 2.5-1.4M501 187.4l-1.6-4.9 -1.6-5M497.8 177.5l4.7-1.2 4.3-2 4.9-0.6 4.1-2.8M515.8 170.9l0.9 4.6 0.5 4.7 1.7 4.3M547.2 182.1l-0.5-4.1 0.4-4 1.7-3.9 -0.1-4.1M548.7 166l-4.2 0.6 -4.2 0.4 -4.2-0.1 -4 1.6M532.1 168.5l0.8 4.6 1 4.6 0 4.7M532.7 195.5l-1-4.5 -1.1-4.4M518.9 184.5l5.8 1.6 5.9 0.5M548.6 196.7l-0.6-4.1 0.8-4.1 0.6-4.1M547.2 182.1l1.1 1.2 1.1 1.1M530.6 186.6l1.6-2.2 1.7-2M570.7 163l4.2-2.7 4-3.3 4.8-2.1M567.8 142.8l5.5 1.2 5.4 1.2M586.7 174l-2.1 0.3 -2 0.4M586.7 174l-0.1-4.4 0.9-4.3 -0.2-4.3 1.4-4.3M582.6 174.7l-4.3-2.7 -4.1-2.9 -4-3.1M583.7 154.9l2.7 0.4 2.3 1.4M592.3 177.3l-2.7-1.9 -2.9-1.4M607.4 167.9l-2.4-2.6 -0.4-3.5M604.6 161.8l-4.7-2.1 -4.7-1.9 -4.9-1.5M641.3 122.3l-4 0.7 -3.6 1.9 -4 0.7 -3.7 1.6M623.7 114l1 4.3 0.7 4.5 0.6 4.4M626 127.2l-0.2 0.3 0.2-0.3M662.9 113.4l-1.2 4.3 -1.1 4.3 -1.1 4.3 -0.7 4.5M669.1 141.2l-3.3-3.6 -2.9-4.1 -4.1-2.7M641.3 122.3l4.2 3.9 3.9 4.2M649.4 130.4l4.7 0.3 4.7 0.1M690.9 167.1l-4.5-0.7 -4.5-1.3 -4.6 0.1 -4.7 0.4 -4.6-0.3M669.1 141.2l-0.9 2 -0.9 2M668 165.3l0.7-4.1 -0.2-4 -0.4-4 -0.8-4 0-4M644.4 184.2l4.6 0.1 4.7-0.2 4.6 0.6 4.5 0.7 4.4 2M643.4 173.2l2.8-3.3 3.3-2.9M649.5 167l4.3 0.5 4.3-0.3 4.2-0.4 4.3 0M667.2 187.4l0.8-4.1 0.1-4.2 0.3-4.1 -0.8-4.1 -1-4.1M643.9 184.8l0.4-0.2 0.1-0.4M628.3 168.4l5 1.6 4.9 2 5.2 1.2M668.3 189.2l-0.4-1 -0.7-0.8M668 165.3l-1.2 0.3 -0.2 1.2M667.3 145.2l-4.7 1.1 -4.8 0.4 -4.5 1.7 -4.6 1.4 -4.5 1.4M644.2 151.2l0.4 4.3 1.3 4 1.9 3.7 1.7 3.8M477 208.8l-1.8 0.1 -1.8 0.2M477 208.8l3.4-4.2 2.3-4.9 2.6-4.6M473.4 209.1l-1.7-3.8 -1.7-3.7 -0.6-4.2 -1.8-3.8 -1.5-3.8M485.3 195.1l-2.9-4.2 -2.5-4.5M479.9 186.4l-4.1-1.4 -4.3 0.5 -4.2-0.5M466.1 189.8l1.3-2.2 -0.1-2.6M472.7 209.6l0.3-0.3 0.4-0.2M497.4 195.6l-4-0.5 -4-0.2 -4.1 0.2M453.4 199l3.9-3.5 4.5-2.7 4.3-3M492.8 173.6l2.8 1.6 2.2 2.3M469.7 172.9l-1.4 3.9 -0.7 4 -0.3 4.2M467.3 185l0.1-0.1 -0.1 0.1M473.4 303.6l1.7 5.5 2.2 5.3M473.4 303.6l-4.4-1.1 -3.9-2.6 -4.3-1.5 -4.6-0.2M456.2 298.2l0.9 4.2 -1 4.4 0 4.2 0.9 4.3M477.3 314.4l-2.7 2.4 -2.8 2.2M471.8 319l-5.8 0.3 -5.8-1.1M457 315.3l0.8 2.3 2.4 0.6M485.4 314.7l-4-0.6 -4.1 0.3M478.1 295.2l-2.6 4 -2.1 4.4M455.3 296.8l-0.3 1.1 1.2 0.3M473.5 334.7l0.1-5.3 -0.9-5.2 -0.9-5.2M455.1 334.5l0.1-4.5 2.7-3.6 1.1-4.2 1.2-4M563.4 182.2l0.3-0.3 0.2-0.3M563.4 182.2l1.3 5.2 -0.3 5.2 -0.5 5.3M563.9 181.6l3.9 1.6 4.3-0.4 3.9 1.3M576 184.1l2 4.2 2.1 4.2 1.5 4.4M581.6 196.9l-4.7 2.3 -5.1 0.6 -5 1.1M549.4 184.4l4.7-0.6 4.6-0.9 4.7-0.7M548.6 196.8l5.1 0 5.1 0.3 5.1 0.8M582.6 174.7l-3.5 4.6 -3.1 4.8M586.2 198.6l-2.1-1.4 -2.5-0.3M563.5 216l1.6-5 0.7-5 1-5.1M435.7 344l-4.3-1.8 -4.4-1.6 -3.9-2.5 -4.4-1.5M435.7 344l2.6-3.9 3-3.6 3.1-3.6M418.7 336.6l1.2-4.3 2.1-3.8 1.6-4.1 2.9-3.5M444.4 332.9l-1.3-4.7 -1.3-4.8 -2.8-4.2M426.5 320.9l4-1 4.1-0.3 4-0.6M439 319.2l0.3-0.9 -0.7 0.7M455.1 334.5l-5.6 0.7 -5.1-2.3M440.3 356.6l-1.9-4 -1.7-4.2 -1-4.4M457 315.3l-4.6 0.3 -4.3 1.9 -4.5 1.1 -4.6 0.6M439.3 298.5l-0.4 4.1 0.2 4.1 -0.5 4.1 -0.3 4.1 0.3 4.1M422.4 301.3l0.4 6 -2.7 5.3M420.1 312.6l3.3 4.1 3.1 4.2M413.9 338.4l-2.6-4 -3.6-3.1 -3.8-2.8 -3.4-3.2M401.8 356.8l2.6 0 2.1-1.7M401.8 356.8l-3.5-2.5 -3.8-2.1 -3-3.1 -3.4-2.6 -3.3-2.7 -3.3-2.6M381.8 336.1l-0.3 2.5 0 2.6M381.8 336.1l3.4-2.7 3.3-2.7 3.5-2.4 2.9-3.2M394.9 325.1l2.8 0.1 2.8 0.1M423.3 367l-3.4-2.2 -2.9-3.1 -3.5-2.3 -3.4-2.2 -3.6-2.1M418.7 336.6l-2.5 0.7 -2.3 1.1M420.1 312.6l-4.1 1.2 -4.3-0.6 -4.2 0.5M407.5 313.7l-2.9 3.5 -2.6 3.8 -1.5 4.3M418.9 393.3l-3.9-1.9 -3.2-3 -3.5-2.6 -3.3-2.8 -3.4-2.6 -4.1-1.7 -4.1-1.5 -4-1.7M389.4 375.5l1.8-4.2 2.6-3.7 2.7-3.5 3.1-3.4 2.2-3.9M381.8 378.4l3.8-1.5 3.8-1.4M365.3 354.5l3.1-2.9 3-2.9 3.8-2 3.1-2.8 3.2-2.7M371.6 326.2l-4.7 0.1 -4.6 1.1 -4.6 0.3M371.6 326.2l3.7 2.9 3.3 3.5 3.2 3.5M371.6 326.2l1.2-5.1 0.1-5.4 2-5M394.9 325.1l-2.3-3.3 -1.9-3.6 -1.2-4 -2.6-3.1M386.9 311.1l-6-0.3 -6-0.1M362.7 307l5.5 0.2 5.2 1.8M374.9 310.7l-0.8-0.9 -0.7-0.8M415.8 405.6l2.2 3.6 1.1 3.8 0.2 4.1 1.5 3.8 1.7 3.7 0 4.2 0.2 4M415.8 405.6l-4 1.1 -3.6 1.8 -3.7 1.5 -3.8 1.6M400.7 411.6l-1.4 4.2 -0.6 4.6 -1.4 4.3 -0.5 4.5 -1.9 4.2M422.7 432.8l-3.5 2.5 -3.3 3.1 -3.9 1.8 -4.4 0.9 -3.6 2.4M404 443.5l-2.1-4.2 -3.5-3 -3.5-2.9M421 399.4l-2.4 3.3 -2.8 2.9M428.1 434.9l-2.9-0.5 -2.5-1.6M385.8 404.4l4 1.1 4 1.3 3.5 2.3 3.4 2.5M369.9 435.3l4.1-0.8 4.2 0.5 4.3 0.1 4.2 0.6 4.1-1.5 4.1-0.8M404.9 461.6l-1.2-4.5 0.6-4.6 -0.7-4.5 0.4-4.5M541.9 468l3.7 3.4 3.4 3.7 4 2.9M541.9 468l-3.6 2.4 -4.5 1.2 -3.1 3.3 -3.8 2.1M532.7 490.1l4.5 0.6 4.5-0.4 4.5 0 4.3-1.5M524.5 452.5l4.3 2.3 4.3 2.2 4.2 2.5 4.1 2.6M517.7 474.9l4.5 1.4 4.7 0.7M541.4 462.1l0 2.9 0.5 3M526 501.8l2.2-3.9 2.6-3.7 1.9-4.1M554.2 498.3l-1.5-4.9 -2.2-4.6M113 217.5l1.7 4.4 2.8 3.7 2.9 3.7 2.4 4 1.2 4.6M150.4 218.3l-0.5 1.6 0.4 1.6M150.3 221.5l-3.6 2.4 -3.4 2.8 -4 1.7 -4.1 1.8 -3.1 3.2 -3.8 2.1 -3.6 2.4M124 237.9l0.3 0.4 0.4-0.4M91.3 243.5l-4.5 1.6 -4.3 2.1M91.3 243.5l4.7 0.2 4 2 3.9 2 3.4 3.1 4.2 1.5M82.5 247.2l-2 3.8 -1.6 3.9 -0.8 4.2 -0.8 4.3 -1.6 3.9M111.5 252.3l0.6 5.1 -0.1 5.2M112 262.6l-2.9 2.9 -2.5 3.3 -4 1.5 -3.4 2.2 -3 2.7M77.3 271l-1.1-1.7 -0.5-2M64.2 231.8l3.7 2.9 3.9 2.9 2.7 4.2 4.2 2.5 3.8 2.9M95.1 221l-0.6 4.5 0.2 4.7 -1.9 4.3 -0.8 4.5 -0.7 4.5M124 237.9l-3.4 3.4 -2.9 3.8 -3.1 3.6 -3.1 3.6M57.1 260.3l4.6 1.9 4.6 1.8 4.9 1 4.5 2.3M102.6 295.9l-1.7-4 -0.8-4.3 -1.3-4.1 -2-3.9 -0.6-4.4M111.1 300.5l4-1.9 3.8-2.3 3.6-2.6M122.5 293.7l-0.7-4.5 0.6-4.4 1.5-4.3 -0.5-4.4 0.6-4.4M124 271.7l-4-3 -4.2-2.8 -3.8-3.3M66.5 293.4l2.3-3.5 2.3-3.5 2.6-3.4 2.2-3.5 0.4-4.4 1-4.1M547.4 374.8l-3.8 1.4 -4.2-0.3 -3.8 1.2M547.4 374.8l0.1-5.2 1.5-5 1.2-5M535.6 377.1l-2.9-3.3 -2.2-4 -1.8-4.2 -3.3-3 -2.1-4 -3.9-2.6M546 352.8l1.8 3.6 2.4 3.2M546 352.8l-4.8-0.9 -4.5-1.9 -4.5-1.8M532.2 348.2l-3.8 3.4 -4.7 1.8 -4.3 2.6M554.8 381.9l-3.2-4.1 -4.2-3M529.3 384.1l2.8-3.8 3.5-3.2M567.3 356.5l-4.3 0.2 -4.4 0.4 -4.3 0.6 -4.1 1.9M515.7 356.1l1.9 0.1 1.8-0.2M554.6 337.5l-2.3 3.8 -2.3 3.7 -1.2 4.4 -2.8 3.4M550.9 330.4l-5.4-1.4 -5.3-1.8M532.2 331.2l-0.5 4.2 1.8 4.3 0.3 4.2 -1.6 4.3M561.2 317l-0.4-1.3 0.6-1.3M541.5 314.6l3.3-3.3 4.3-1.8M549.1 309.5l4.4 0.8 4 1.9 3.9 2.2M546 295l0 0.3 0.3 0M549.1 309.5l0-4.9 -1.6-4.7 -1.2-4.6M579.6 493.5l0.2-3.8 1.6-3.4M553 478l4.5-1 4.1-2.1 4.1-1.9M581.4 486.3l-3-2.8 -3.2-2.6 -2.8-3 -3.5-2.2 -3.2-2.7M608.8 489l-4.3-0.7 -3.9-2.1 -4.3-0.7 -3.9-2.1 -4.3-1M581.4 486.3l3.3-2 3.4-1.9M653.4 435.9l-4.1 1 -4.2 0.9 -4.3 0.5 -4 1.4 -3.9 1.7M625.1 429.2l0.5 3.2 0.3 3.4M632.9 441.4l-3.5-2.8 -3.5-2.8M635.5 463l-1.2 0.2 0.6-1.1M632.9 441.4l0.6 4.1 1.9 4 -0.2 4.2 -1 4.3 0.7 4.1M634.9 462.1l-4.1-0.5 -4.1-0.5 -4.3 1.1 -4-1 -4.3 1.2 -4-1.6 -4-1.3M571.3 409.1l2.1 3.9 2 4 3.4 3.2 2.5 3.6 1.7 4.3M603.4 416.8l-3.5 3.7 -2.3 4.4M583 428.1l4.9-1.1 4.8-1.2 4.9-0.9M597.6 424.9l1.3 4.6 2.1 4.2 1.7 4.5 1.3 4.6 1.4 4.5M588.1 482.4l1.3-4.2 1.8-4.1 0.6-4.3 1.6-4.1 0.8-4.3 1.1-4.3M606.1 459.5l-2.1-2.2 -2.6-1.6M595.3 457.1l3.2 0 2.9-1.4M601.4 455.7l1.6-4.4 2.4-4M403.1 303.9l-5.7-0.3 -5.7 0.4M403.1 303.9l1.4-4.9 3.7-3.6M408.2 295.4l-3.9-3.7 -4.1-3.3M387.9 291.7l1.3 4.1 0.5 4.4 2 3.8M407.5 313.7l-1.7-5.1 -2.7-4.7M386.9 311.1l2.3-3.7 2.5-3.4M411.5 294.6l-1.7 0.4 -1.6 0.4M402.3 261.5l4 1.6 4.1 1.4 4.1 1.3M402.3 261.5l-1.9 3.7 -2.6 3.2 -2.7 3.1M395.1 271.5l3.2 3.3 3.4 3.3M401.7 278.1l5.4 0.1 5.2-1M414.5 265.8l-1.6 5.6 -0.6 5.8M419.7 262.8l-2.9 1 -2.3 2M401.4 256.7l1.3 2.3 -0.4 2.5M382 264.7l1.4 4.1 2.8 3.3M386.2 272.1l4.4-0.1 4.5-0.5M416.8 282l-2.8-1.9 -1.7-2.9M400.2 288.4l1.2-5.1 0.3-5.2M335.4 622.1l-4.2 0.6 -4.1 0.3 -4.2 0.2 -4.2 0.5 -3.9 1.7M335.4 622.1l2.7 3.2 2.5 3.4 2.7 3.2 3.5 2.5 2.5 3.5M346.5 644.7l0.8-3.7 2-3.1M346.5 644.7l-3.9 0.7 -3.8 1.5 -3.7 1.5 -4 0.6 -4 0.5 -4 0.5 -4 0.6 -3.7 1.7M369.7 628.7l-4.1 1.7 -3.9 2.2 -4.1 1.8 -4.2 1.6 -4.1 1.9M340.4 600.9l-0.9 4.3 -0.1 4.4 -1.4 4.2 -1.4 4.1 -1.2 4.2M353.4 667.1l-1.7-4.4 -1.7-4.4 -2.2-4.2 -0.9-4.6 -0.4-4.8M312.1 656.9l1.9-2.1 1.4-2.5M287.1 621.2l3.7-2.1 4-1.4 4.4-0.4 3.5-2.5M302.7 614.8l3.4 2.2 3.1 2.6 3.1 2.5 2.5 3.3M322.1 574l0.5 4.9 0 4.9 0.6 4.9 1.6 4.8M322.1 574l-4.4-0.1 -4.4 0 -4.5 1.1 -4.4-0.2 -4.5 0.1M324.8 593.5l-3.7 2.7 -4.1 2.1 -3.4 3.2 -4.2 1.9 -4 2.2M305.4 605.6l-1.3-4 -1.5-3.9 -3.3-2.7 -1.5-3.9 -3.5-2.6 -1.7-3.8M299.9 574.9l-3.2 2.7 -2 3.6 -2.1 3.5M327.7 565.3l-2.8 4.3 -2.8 4.4M340.4 600.9l-3.9-1.9 -4.3-0.9 -4-1.9 -3.4-2.7M293.3 553.2l0.8 4.5 0.2 4.7 1.9 4.1 1.6 4.3 2.1 4.1M302.7 614.8l1-4.7 1.7-4.5M282.9 584.7l4.8-0.7 4.9 0.7M599.3 286.8l5.1 0.2 5.2 0 5.1-0.8M599.3 286.8l1.6 5.1 1.2 5.1 0.2 5.3M614.7 286.2l-0.2 4 0.1 4.1 -0.5 4 0 4.1 0.1 4M602.3 302.3l3.5 2.2 4 1 4 1.2M613.8 306.7l0.2-0.1 0.2-0.2M598.3 286.2l0.4 0.5 0.6 0.1M625.4 305.6l-5.6 0.7 -5.6 0.1M610.5 320.5l1-4.6 1.6-4.5 0.7-4.7M597.1 322.2l-1.1-5.2 -1.2-5.2 -2.1-4.9M592.7 306.9l4.9-2.1 4.7-2.5M279.9 305.5l4.7 1 4.6 1.5M279.9 305.5l1.6-4.6 -0.4-4.9 0.6-4.7M281.7 291.3l4.1-0.7 4.1-0.2 4.1 0M289.2 308l3.6-2.6 2.8-3.3 3.5-2.7M294 290.4l2.6 4.5 2.5 4.5M324.5 281.3l-3.6 3.3 -3.6 3.3 -4.5 2.1M312.8 290l-0.8 0.9 0.6 1.1M322.2 308.1l-5-0.7 -5 0.8 -5 0.4M307.2 308.6l-3.2-4 -2.3-4.6M312.6 292l-3.2 3.2 -4.5 1.5 -3.2 3.3M249.7 380.2l0-4.3 1.1-4.1 0.2-4.3 0.6-4.2 -0.4-4.2 0.1-4.2 -0.5-4.3M283.1 361.1l-3.4-3 -2.1-4 -2.8-3.5M274.8 350.6l-4-0.6 -4 0.1 -4 0.3 -4-0.3 -4 0.9 -4-0.4M237.3 344.3l5.2 2.2 5.5 1.5M250.8 350.6l-1.3-1.4 -1.5-1.2M272.6 309.4l-0.4 4.1 -0.3 4.2 -0.4 4.1M272.6 309.4l-3.9-1.6 -2.5-3.5 -3.6-2M251.2 316.7l0.6-4.5 1.1-4.4 1.5-4.3M251.2 316.7l4.3 4 4.1 4.2M259.6 324.9l4.1-0.4 4-1 3.8-1.7M230.8 307.5l4.5-1.8 4.5-1.8 4.8-1.2 3.9-3.2M248.5 299.5l2.7 2.3 3.2 1.7M314.6 267l-2.6-0.3 -2.5 0.2M312.8 290l-3.9-2.3 -3-3.3 -2.1-4M309.5 266.9l-2 4.5 -2.3 4.3 -1.4 4.7M294 290.4l1.9-3.6 1.3-3.9M299.1 299.4l1.4-0.1 1.2 0.7M303.8 280.4l-3.4 1.2 -3.2 1.3M309.5 266.9l-3.6-2.6 -3.2-3.1M297.2 282.9l-3-2.8 -3.5-2.1 -2.9-2.9 -2.6-3.1M287.2 239.8l1-0.3 0.5-0.9M287.2 239.8l-1 4.3 -0.6 4.3M288.7 238.6l4.4-0.2 4.3 0.2 4.3-1M308.5 244.5l-2.4 4.7 -2.3 4.7 -1.9 4.9M285.6 248.4l3.8 2.9 4.1 2.6 4.6 1.9 3.8 3M216.9 294.8l1.4 5.5 1.9 5.4M248.5 299.5l-2-3.7 0.2-4.2 -0.7-3.9M246 287.7l-3.8-2 -4-1.4 -3.7-2.2M269.6 126.3l-0.3 4.5 -1 4.4 0.1 4.4M239.3 144.6l4.1 2.8 4.3 2.1 4.8 1.4 4.2 2.5M256.7 153.4l3.2-3.2 2.8-3.5 3.4-3 2.3-4.1M295.7 145.6l-3.8 1 -3.9 0.8M268.4 139.6l4 1.2 4 1.6 3.7 1.9 3.9 1.7 4 1.4M433.4 199.9l-2.3-3.7 -2.5-3.7 -2.6-3.6 -1.5-4.2M467.3 185l-4-1.2 -3.9-1.3 -3.9-1.7 -3.9-1.2 -3.9-1.5M447.7 178.1l-1.3 1.2 -1.1 1.5M424.5 184.7l0.3-2.1 1.5-1.6M445.3 180.8l-4.8 0.5 -4.7-1.2 -4.8 0.8 -4.7 0.1M553.2 63l-2.1 3.8 -2.7 3.6 -2.8 3.4 -2 4 -3.3 3.1 -1.7 4.2 -2.2 3.8M546.7 96.2l-2.8-3.3 -3.8-1.9 -3.7-2.1M558.6 110.6l-3.8 0.1 -3.7-0.7M546.7 96.2l1.5 4.6 2.7 4.2 0.2 5M575.5 122.7l2.8 3.1 2.9 3.1 3.2 2.7 2.6 3.3M569.8 124.7l-3.8 3.6 -2.8 4.4M567.8 142.8l-1.9-3.6 -2.7-3.1M587 134.9l-2.2 3.9 -3.1 3.1 -3 3.3M563.2 132.7l0 1.7 0 1.7M607.6 142.9l1-4.9 1-4.8 0.4-5M607.6 142.9l-5.4-0.2 -5.3 0.2M590 135l3.2 4.1 3.7 3.8M590 135l2.2-3.6 2.9-3 2.3-3.4 3.4-2.7M610 128.2l-3.9-2.6 -2.8-3.8M600.8 122.3l1.1-0.9 1.4 0.4M604.6 161.8l1.6-3.7 2.1-3.5 0.4-4.3 2.1-3.5M590.3 156.3l1.9-4.6 3.5-3.8 1.2-5M610.8 146.8l-1.1-2.4 -2.1-1.5M587 134.9l1.5 0.6 1.5-0.5M585.7 114.7l3.4 2.6 4.1 1.2 3.5 2.6 4.1 1.2M607 110.9l-2.7 5.2 -1 5.7M626 127.2l-5.3 0.3 -5.3 0.9 -5.4-0.2M625.7 165l3-3.3 3.1-3 3.1-3.1 3.2-3 2.3-3.8M625.7 165l-1.7-4.4 -2-4.2 -2.6-4 -0.8-4.8M618.6 147.6l3.6-2.1 3.1-2.9 3.3-2.4M628.6 140.2l5.1 3.3 5.5 2.4M639.2 145.9l0.9 1.4 0.3 1.5M625.7 165l0 0 0 0M644.2 151.2l-2.1-0.9 -1.7-1.5M610.8 146.8l3.9 0.8 3.9 0M649.4 130.4l-2 4.2 -4 2.9 -1.9 4.4 -2.3 4M385.3 273.7l0.5 4.4 -0.5 4.5 0.3 4.3 1.4 4.3M385.3 273.7l-4.9 1.2 -4.6 1.8 -4.4 2.5 -4.3 2.4M387 291.2l-5.2 1.5 -5.4 1M376.4 293.7l-4.3-3.8 -4.8-3.1M386.2 272.1l-0.7 0.7 -0.2 0.9M387.9 291.7l-0.5-0.2 -0.4-0.3M361.6 275l2.9 3.1 2.6 3.5M373.4 309l1.5-5 0.6-5.2 0.9-5.1M357 296.4l3-3.7 3.3-3.4 4-2.5M153.9 282.3l-3.8 2.7 -3.1 3.6 -3.8 2.7 -3.8 2.8 -3.6 3M153.9 282.3l2.9 3.4 2.7 3.5 0.1 4.6 1.5 3.9 1.6 4 0.8 4.2M135.8 297.1l1.3 3.8 1.3 3.8 1.7 3.7 2.1 3.6 1.2 3.8 1.2 3.9M163.5 305.9l-3.8 2.8 -3.8 2.7 -3.7 2.8 -4 2.5 -3.6 3M143.8 322.2l1.3-1 -0.5-1.5M122.5 293.7l4.5 0.7 4.4 1.3 4.4 1.4M180.3 309.4l-4.1-1.3 -4.4-0.1 -4.1-1.4 -4.2-0.7M180.3 309.4l2.5 3.6 0.6 4.3M124 271.7l4.7-0.8 4.6-1.1 4.5-1.7 4.8 0.1 4.6-1M153.9 282.3l1.2-2.5 0.2-2.8M155.3 277l-2.6-3.4 -3.2-2.8 -2.3-3.6M124.7 237.9l2.6 3.4 3.7 2 2.8 3.2 3.3 2.6 3.9 1.8 3.8 1.9 2.7 3.3M147.2 267.2l-0.1-5.6 0.4-5.5M147.5 256.1l3.8-2.9 2.6-4.1 3.4-3.2 3.2-3.4 3.2-3.5M205.9 178.7l0.2 5 -1.3 4.9 -0.5 4.9M231 206.3l1.8-3.9 1.4-3.9 1-4.2 2.1-3.7 1.6-3.9 1.8-3.8M218.8 172.9l3.6 1.6 3.7 1.7 3.7 1.4 3.8 1.3 3.4 2.3 3.7 1.7M204.3 193.5l2.6 3.8 3 3.4 3 3.4 4.1 2.2 3.5 2.9M168.7 199.9l3.6 3.3 4.4 2 3.9 2.8 4.6 1.8M204.3 193.5l-3.3 2.6 -2.7 3.3 -3.2 2.7 -3 2.9 -3.2 2.8 -3.7 2M163.7 239l1.3-0.3 1.3 0.5M166.3 239.2l3.6-2.2 2.8-3.1 3.9-1.9 1.8-4.1 3.2-2.8 2.7-3.1 3.3-2.6M185.2 209.8l2.1 4.6 0.3 5M568 259.5l1.9 4.2 1.5 4.3 0.5 4.7M552 275.3l3.9 2.6 4 2.5 4.3 1.8M564.2 282.2l2.2-3.5 2.9-2.9 2.6-3.1M589 267.1l-3.1 4.3 -3.1 4.3M598.3 286.2l-5.7 1 -5.9 0M586.7 287.2l-1.6-3.7 -1-4 -1.3-3.8M571.9 272.7l5.4 1.7 5.5 1.3M577.8 310.3l2.7-3.4 2.2-3.7M577.8 310.3l-4.9 1.2 -5 0.8 -5 0.7M582.7 303.2l-0.9-4.4 -0.9-4.4M580.9 294.4l-5-1.3 -5.1-1.2 -5-1.5M562.8 293.2l1.2-1.7 1.8-1.1M581.6 321.2l-2.4-5.3 -1.4-5.6M592.7 306.9l-5-1.9 -5-1.8M561.4 314.4l1.1-0.3 0.4-1.1M586.7 287.2l-2.6 3.8 -3.2 3.4M564.2 282.2l0.1 4.3 1.5 3.9M577.7 438.6l1.6 3.8 2.2 3.4 1.6 3.8 1.8 3.6M577.7 438.6l-4.6-0.3 -4.5-0.6 -4.5-1.2 -4.6 0.8M584.9 453.2l-4.4 2 -4.1 2.5 -3.9 2.8 -4 2.6M568.5 463.1l-3.5-2.9 -3.1-3.2 -4.1-2.2 -2.9-3.4 -2.3-4.1M559.5 437.3l-3.2 4.9 -3.7 4.6M552.6 446.8l-0.1 0.2 0.1 0.3M583 428.1l-2.9 5.1 -2.4 5.4M557.9 431.4l0.2 3.1 1.4 2.8M565.7 473l1.1-5 1.7-4.9M530.4 435.7l3.9 1.6 3.6 2 4.1 0.9 3.6 2 3.4 2.5 3.6 2.1M293.3 317.2l4.8 0.7 4.8 0.6M293.3 317.2l-2.8 3.9 -3.3 3.5 -2.8 3.9 -2.8 3.9M281.9 333.5l4.4 0.4 4.5 0.2 4.1 2.3 4.4 0.5 4.4 0.3M302.9 318.5l1.6 4.1 3.1 3.1 2.5 3.5M303.7 337.2l3.4-3.8 3-4.2M307.2 308.6l-2.5 4.8 -1.8 5.1M289.2 308l2.2 4.5 1.9 4.7M279.9 305.5l-3.8 1.6 -3.5 2.3M271.5 321.8l3.9 3 3.3 3.6 2.9 4M274.8 350.6l1.4-4.5 2.2-4 1.7-4.3 1.8-4.3M306.7 355.3l-0.7-4.6 -0.7-4.5 -0.9-4.5 -0.7-4.5M316.3 328.2l-3 1 -3.2 0M281.7 291.3l-1.8-2 -1.7-2.1M285.2 272l-0.1 0.1 -0.1-0.2M278.2 287.2l1.2-4 0.9-4.2 2.3-3.5 2.4-3.6M262.6 302.3l1.5-3.9 0.8-4.1 0.5-4.1 1.6-3.9M278.2 287.2l-5.6-0.2 -5.6-0.7M288.7 238.6l0.9-4.1 0.8-4.1 0.6-4.2 0-4.2M306.2 225.1l-3.9-1.6 -3.2-3.2 -4.5-0.3M291 222l1.3-2 2.3 0M287.2 239.8l-4.6-2.4 -4.2-3.2 -4.5-2.6M273.9 231.6l2.6-4.1 1-4.7 1.9-4.4M291 222l-3.9-1 -3.5-2.3 -4.2-0.3M387 86.6l0.2 4.5 0.9 4.4M358.6 98.5l3.5 3 3.2 3.4 4.4 1.7 4.1 2.1 3.6 2.8M377.4 111.5l2.2-4.3 2.6-4.1 3.4-3.5 2.5-4.1M413.4 102l-4.2 2.3 -4.2 2.2 -4.4 1.9M388.1 95.5l2.9 3.5 2.9 3.4 3.9 2.4 2.8 3.6M357.3 119.8l3.6 2.1 4.1 0.8 3.7 1.8M377.4 111.5l-0.1 3.4 1.1 3.2M368.7 124.5l4.6-3.6 5.1-2.8M400.6 108.4l-0.4 1.4 -0.2 1.5M400 111.3l-3.4 2.7 -3.8 2.2 -3.9 2 -2.5 3.9M378.4 118.1l4.2 1.6 3.8 2.4M413.6 190.4l-2.1-3.8 -2.9-3.1 -2.6-3.3M426.3 181l-1.3-4.9 -1.7-4.7M423.3 171.4l-4.5-1.2 -4.5-0.2 -4.5 0.4M406 180.2l0.9-5.3 2.9-4.5M348.5 178.1l3.8-2.4 4.2-1.6 3.8-2.5 3.7-2.5M356 192.1l3.6-2.2 3.9-1.7 3.5-2.3M364 169.1l1.7 0.3 0.3 1.7M367 185.9l0.8-5 -1-4.9 -0.8-4.9M438.1 151.4l-4.1 4.1 -3.9 4.3M438.1 151.4l6 0.8 5.9-1.3M430.1 159.8l3.8 2.1 3.1 3.1 3.5 2.6 3.5 2.6 3.8 2.2M450.9 151.5l0-0.8 -0.9 0.2M450.9 151.5l1.8 4 0.3 4.4 1.3 4.1M454.3 164l-3 4.3 -3.5 4.1M447.7 178.1l-0.4-2.9 0.5-2.8M429.2 160l0.4-0.4 0.5 0.2M429.2 160l-1.8 3.9 -2.4 3.6 -1.7 3.9M450.4 137.2l-0.4 4.6 -0.6 4.5 0.6 4.6M464.1 147.6l-4.3 1.4 -4.4 1.6 -4.5 0.9M463.2 164.6l-4.4-0.4 -4.5-0.2M478.5 109.8l1.7 0.7 1.5 0.9M478.5 109.8l0.3-4.4 -1.4-4.3 -0.1-4.4 0.8-4.5 -1.2-4.3 -0.8-4.4M481.7 111.4l3.8-1.9 3.7-2 3.8-1.7M476.1 83.5l3.1 3.4 4.4 1.8 3.1 3.4 3.5 2.9 3 3.6M493.2 98.6l-0.8 3.5 0.6 3.7M468 112.2l5.1-1.8 5.4-0.6M480.1 128.1l2.8-2.3 1.9-3M484.8 122.8l-0.6-5.9 -2.5-5.5M475.8 83l0.1 0.3 0.2 0.2M563.2 136.1l-4.2 1.8 -3.5 2.8 -3.1 3.5 -4.2 1.9M518.2 165.8l4.4-0.4 4.3-0.9M518.2 165.8l-3.7-3.1 -2.6-4.2M511.9 158.5l1.2-4.8 1.7-4.7 2.3-4.4 2.2-4.4M526.9 164.5l1.3-4.4 1.2-4.5 2.6-4M532 151.6l-3-4 -2.1-4.6M519.3 140.2l3.8 1.3 3.8 1.5M515.8 170.9l1.7-2.3 0.7-2.8M532.1 168.5l-2.4-2.1 -2.8-1.9M497.6 159.1l2.1-1.5 2.4-0.9M502.1 156.7l4.8 1.7 5 0.1M546.8 151.4l-4.9-0.3 -5-0.1 -4.9 0.6M539.7 133.3l2.4 4.6 2.5 4.5 3.6 3.7M539.7 133.3l-3 2.7 -3.5 2 -2.9 2.8 -3.4 2.2M563.2 132.7l-4.2-1.2 -4.1-1.4 -3.3-3.1M539.7 133.3l0.1-0.3 0-0.3M539.8 132.7l3.7-2.4 4.1-1.5 4-1.8M551.1 110l-1.2 1.7 -1.2 1.7M155.3 277l4-0.9 4.1-0.2 4-0.6 3.8-1.7 4.2 0.5M166.3 239.2l2.9 3.3 2.5 3.7 3.2 3 3.1 3.1 3.6 2.6M180.3 309.4l2.4-4.1 1.8-4.4 2.3-4.2 1.7-4.5 2.1-4.2M175.4 274.1l3.1 2.7 3.2 2.6 4.3 1.4 3 2.8 1.6 4.4M216.9 294.8l-3.4-4.3 -4.9-2.2 -4.5-2.7M204.1 285.6l-4.6 0.4 -4.4 1.1 -4.5 0.9M246 287.7l3.5-2.3 3.2-2.8 3.7-1.9 3.6-2.1M235.4 265.7l4.2 2.1 4.7-0.5 4.5 0.9 4.5 0.7M267 286.3l-3.2-3.5 -2.7-4M260 278.6l0.5 0.5 0.6-0.3M304 195.4l-4.2 0.3 -4.2 0.6 -4.2-0.2M304 195.4l2.3 4.6 2.8 4.3M309.1 204.3l-0.1 0.9 -0.3 0.8M308.7 206l-4.1 2.2 -4 2 -4.6 0.6M296 210.8l-3.3-3.6 -3.6-3.5M322.7 198.1l-4.3 2.7 -5 1 -4.3 2.5M321.1 185.2l-4.2-0.6 -4.3-0.1 -4.2-1.2M308.4 183.3l-1.4 4 -1.6 4 -1.4 4.1M315.8 221.4l-2.3-3.6 -1.9-3.8 -1.5-4 -1.4-4M279.4 218.4l-2.3-4.5 -2.4-4.6M274.7 209.3l4.7-2.1 4.9-1.8 4.8-1.7M282 166.5l-1.6 1.5 -2 0.8M282 166.5l4.3 0.1 4.3 1 4.3-0.7 4.3 0.1 4.3 0.2M278.4 168.8l1.7 4.4 2.3 4 2.9 3.6 2.2 4.1M287.5 184.9l4-2.1 4.1-1.7 3.9-2.2 4.2-1.6M303.5 167.2l-1.1 5.1 1.3 5M256.7 153.4l0.5 4.8 0.8 4.8 1.1 4.7M288 147.4l-1 3.9 -1.9 3.6 -1.1 3.8 -1 3.9 -1 3.9M259.1 167.7l4.7 1.2 4.9-0.5 4.8 0.5 4.9-0.1M304.4 165.7l-0.2 0.9 -0.7 0.6M308.4 183.3l-2.7-2.7 -2-3.3M286.6 187.8l1.4-1.2 -0.5-1.7M286.6 187.8l1.6 4.6 3.2 3.7M245.6 181.7l2.9-3 3-2.8 2.9-3 3.3-2.5M261.9 208l3.7-0.4 3.7-0.9M240.7 182.9l2.6 0.2 2.3-1.4M259.1 167.7l-0.2 1.6 -1.2 1.1M248.6 222.1l1.7-0.8 1.7-0.5M248.6 222.1l-4.1-2.6 -3.5-3.1 -4.1-2.5 -3.4-3.3 -2.5-4.3M252 220.8l2.5-3.1 2.8-3 1.8-3.8 2.8-2.9M274.7 209.3l-2.8-1 -2.6-1.6M252 220.8l3.3 2.4 2.8 3 3 2.8 3 2.6 4.1 1.3M273.9 231.6l-2.7 1.2 -3 0.1M351.9 136.1l3.4 1.7 3.4 1.7M346.6 156.1l4.5 0.2 4.6 0 4.5-0.4M360.2 155.9l-1-4.1 0.4-4.1 0-4.1 -0.9-4.1M364 169.1l-0.3-5.9 -1-5.7M360.2 155.9l1.1 1 1.4 0.6M368.7 124.5l0.1 4.5 -0.6 4.4M358.7 139.5l4.8-2.9 4.7-3.2M387.6 170.6l2.6 3.8 3.1 3.3 2.2 4M383.1 173.1l-1.5 4.2 -1.5 4.2 -1.1 4.4 -1.6 4.2M393.9 188.9l2.2-3.3 -0.6-3.9M377.4 190.1l1.4 1.1 0.3 1.8M379.1 193l0.4-0.4 0 0.6M367 185.9l5.2 2.2 5.2 2M366 171.1l4.3 1 4.1 1.3 4.4-0.6 4.3 0.3M399.9 196.7l-3.9-3.2 -2.1-4.6M388 206.8l-2.2-3.3 -2.2-3.4 -2.4-3.2 -1.7-3.7M406 180.2l-5.2 0.9 -5.3 0.6M370.2 202.8l3-3.3 2.3-3.8 3.6-2.7M419.2 108.3l-0.1 4.1 -1.2 3.9 -0.8 3.9M400 111.3l2.5 3.7 2.1 4 3.2 3.2M417.1 120.2l-4.7 1.2 -4.6 0.8M362.7 157.5l3.6-2 3.7-1.7 3.9-1.4 3.9-1.2M368.2 133.4l2.5 3.7 3.3 3.1 4.1 2.1 2.8 3.5M377.8 151.2l1-3 2.1-2.4M387.6 170.6l0.6-0.2 -0.3-0.5M377.8 151.2l3.2 3.1 3.1 3.2 2 3.7 0.9 4.4 0.9 4.3M409.8 170.4l-3.6-4.7 -3.8-4.6M387.9 169.9l4.5-0.7 3.4-2.6 3.7-2.1 2.9-3.4M429.2 160l-3.3-3.5 -3.5-3.2 -4.1-2.3M418.3 151l-4.1 0.8 -3.6 1.9 -3.6 1.8 -3.7 1.7M498.7 109.6l5.1-1.3 4.7-2.4M498.7 109.6l-3.1-1.6 -2.6-2.2M508.5 105.9l-0.2-4.3 -0.4-4.3 0.7-4.3 -0.1-4.3M536.4 88.9l-2.5 1.2 -2.8-0.1M531.1 90l-3.1-2.8 -3.7-1.8 -4.1-1.2 -4.1-1 -3.2-2.9M512.9 80.3l-2.9 3.8 -1.5 4.6M484.8 122.8l4.2 2 4.5 0.2 4.4 0.5M498.7 109.6l0.8 4.6 -0.4 4.7 1.1 4.6M497.9 125.5l1.5-0.6 0.8-1.4M497.9 125.5l-0.3 4.1 0.5 4.1 -0.1 4.1M502.1 156.7l1.6-4.1 0-4 -1.3-4 -0.8-4M498 137.8l1.5 1.8 2.1 1M519.3 140.2l-0.1-0.7 -0.6-0.3M196.1 250.8l4.5 1.8 3.5 3 2.9 3.7 3.2 3.3M196.1 250.8l1.4-4.2 1.6-4.1 -0.1-4.5 0.8-4.3 1.6-4.2M213.1 227.2l-5.8 1.5 -5.9 0.8M213.1 227.2l3.5 2.8 3.7 2.5 3.3 2.9 3.2 3.1 3 3.5 4.2 1.7M210.2 262.6l4-1.1 3.5-2.6 3.7-2 4.5 0.3 3.7-1.9M204.1 285.6l0.8-4.7 1.4-4.6 2.4-4.3 0.8-4.7 0.7-4.7M181.6 254.9l4.8-1.4 4.8-1.5 4.9-1.2M187.6 219.4l3.5 2.4 3.9 1.9 3 3.1 3.4 2.7M237.1 242.1l-1 1.7 -2.1-0.1M237.1 242.1l2.3-4 2.2-4.1 1.8-4.3 2.5-3.9 2.7-3.7M235.4 265.7l-3.4-4.9 -2.4-5.5M237.1 242.1l3.7 2.4 3.9 1.8 4 1.6 4 1.5 4.3 0.7 4.1 1.4M253.3 268.9l2.3-4.2 1.3-4.6 1.9-4.4 2.3-4.2M280 267.6l-3.9-0.2 -3.9 0.4M280 267.6l1-4.3 1.1-4.4 1.1-4.3 0.2-4.5M272.2 267.8l-2.8-4 -2.7-4.1 -2.4-4.2 -2.7-4M283.4 250.1l-4.9 0 -4.8 0.6 -4.8 0 -4.8-1.2M264.1 249.5l-1.6 0.6 -0.9 1.4M285 271.9l-2.6-2 -2.4-2.3M285.6 248.4l-1.6 0.3 -0.6 1.4M261.1 251.5l0.2 0.1 0.3-0.1M268.2 232.9l-2 3.9 -2.2 3.9 0.2 4.4 -0.1 4.4M423.5 126.4l-1.2 5.2 -0.8 5.4M423.5 126.4l4.2-1.6 3.9-2.1M421.5 137l4.4 1 4.2 1.8 4.7 0M431.6 122.7l3.3 3.3 3.8 2.5 3.4 3.2M442.1 131.7l-3.5 4.2 -3.8 3.9M435.9 109.4l-1.3 4.5 -1.4 4.5 -1.6 4.3M417.1 120.2l2.9 3.4 3.5 2.8M418.3 151l0.6-5.8 -0.1-5.9M438.1 151.4l-1.3-3.8 -1-3.9 -1-3.9M418.8 139.3l1-1.6 1.7-0.7M443.7 131.5l-0.8 0.6 -0.8-0.4M383 144.8l4.7 1 4.7 0.6 4.7 1.2M383 144.8l2.2-4.3 1.4-4.5 -0.1-5 1.9-4.4M388.4 126.6l3.9 1.4 4 0.7 3.9 1.1 3.6 2.2M403.8 132l0.1 1.5 1 1.1M380.9 145.8l0.8-1.1 1.3 0.1M386.4 122.1l1.4 2.1 0.6 2.4M418.8 139.3l-4.7-1.4 -4.5-2.1 -4.7-1.2M407.8 122.2l-1.9 4.9 -2.1 4.9M514.2 109.8l4.4-2.6 4.5-2.7 4.8-2M514.2 109.8l-1.2 4.4 0.2 4.2 1.2 4.3M518.4 125.9l-2-1.6 -2-1.6M518.4 125.9l4.5-1.8 4.4-2.3 4.6-1.5M527.9 102.5l1.6 5 1.8 4.9 2 4.8M531.9 120.3l1.4-1.2 0-1.9M508.5 105.9l3.1 1.6 2.6 2.3M531.1 90l-1 4.2 -1.4 4.1 -0.8 4.2M500.2 123.5l4.7 0 4.8-0.6 4.7-0.2M518.6 139.2l0.9-4.5 0-4.4 -1.1-4.4M539.8 132.7l-2.7-4.1 -2.4-4.2 -2.8-4.1M548.7 113.4l-5.1 1.5 -5 1.9 -5.3 0.4" fill="none" stroke="rgba(0,0,0,0.17)" stroke-width="0.65"/>
</g>
<path d="M293 100 L664 100 L664.4 263.8 L665.5 266.5 L663.6 267.7 L664.2 270.2 L663.7 272.7 L664.1 275.2 L663.1 277.3 L663.9 279.5 L664.5 282 L665.8 284 L666.1 286.5 L666.6 288.9 L665.6 291.5 L664.3 293.9 L663.3 296.2 L661.9 298.2 L660.2 300.1 L659 301.9 L658 303.8 L656.1 305.2 L655.2 307.1 L654 308.7 L652.6 310.1 L651.3 311.7 L650 313.2 L648.6 314.6 L646.6 315.5 L645.3 317 L643.9 318.4 L642.4 319.8 L640.6 320.7 L639.2 322.4 L637.8 324.2 L635.5 325 L634.4 327 L632.8 328.6 L630.8 328.6 L628.7 328 L626.7 328.9 L624.8 330 L622.7 329.8 L620.7 330.1 L618.8 330.4 L616.7 330.5 L614.7 330.8 L612.6 331.1 L610.7 331.7 L608.6 331.6 L606.5 331.6 L604.2 332.4 L602.8 334.4 L601 336.1 L599.3 337.9 L598 340 L596.9 341.7 L595.4 343.1 L594.3 344.7 L593.2 346.4 L591.9 348 L591.6 350 L591.2 352 L591.4 354.1 L590.3 356 L590.2 358.2 L590.6 360.4 L590.2 362.5 L589.1 364.1 L588 365.9 L586.6 367.4 L585 368.7 L584.1 370.3 L582.5 371.6 L580.8 372.7 L580 374.7 L578.9 376.5 L577.3 377.8 L576.5 379.7 L575.3 381.6 L573.7 383.2 L572.3 385 L571.1 386.8 L570.6 389.1 L568.6 390.6 L567.5 392.6 L566.3 394.5 L565.2 396.5 L564.8 398.9 L564.2 400.7 L564.9 402.7 L564.5 405.1 L565.2 407.1 L565.7 409.2 L566.2 411.3 L566.4 413.5 L567.4 415.3 L568.5 417 L570 418.4 L572 419.6 L572.8 422.1 L572.2 424.3 L571.4 426.5 L571.2 428.8 L571.2 431.1 L570.7 433.3 L569.7 435.5 L568.4 437.5 L567.3 438.9 L567.3 441 L566.7 443.3 L566.9 445.4 L567 447.5 L567.5 449.6 L568 451.7 L568.6 453.8 L569.2 455.9 L570.8 457.6 L571.7 459.6 L572.7 461.5 L572.9 463.8 L573.4 465.9 L573.8 468.1 L574.2 470.3 L575.4 472.2 L576.1 474.3 L576.5 476.5 L577.8 478.3 L578.5 479.9 L578.5 482.4 L578.9 484.9 L578.6 487.4 L578.5 489.9 L577.9 491.8 L577.5 493.8 L576.8 495.7 L577 497.8 L575.6 499.5 L573.6 500.6 L572.1 502.3 L570.7 504.1 L569 505.5 L567.1 506.8 L565.7 508.4 L564.5 510 L563.9 512.1 L562.8 513.9 L561.1 515.1 L559.7 516.7 L559 518.9 L557.9 521 L557 523.1 L555.8 525.1 L554 526.5 L554.1 528.6 L553.8 530.8 L553.9 533 L554.6 535.1 L554.9 537.3 L554 539.5 L554.6 541.7 L555.1 543.8 L554.7 546 L554.9 548.1 L555.2 550.2 L554.9 552.4 L555.8 554.4 L555.8 556.5 L556.4 558.6 L556.8 560.2 L558.2 561.8 L559.2 563.9 L560.6 565.5 L562.4 566.7 L564 568.3 L564.8 570.4 L566.2 571.9 L568.1 572.8 L569.2 574.7 L571 575.7 L573 576.5 L574.7 577.8 L574.7 580.3 L574.6 582.9 L574.8 585 L574.8 587 L574.6 589.1 L574.7 591.2 L574.1 593.1 L573.7 595 L573.3 597.1 L573.5 599.2 L573.4 601.3 L573.3 603.4 L573.3 605.5 L573.3 607.6 L572.9 610.3 L571.5 612.1 L569.6 613.5 L567.9 615 L566.7 617 L565 618.4 L563.2 620.2 L561.1 621.7 L559.9 623.6 L557.4 623.1 L554.9 622.6 L552.5 621.9 L550.5 622.2 L548.5 622.7 L546.6 623.3 L544.6 623.6 L542.7 624.1 L540.6 624.5 L538.7 625.3 L536.6 625.6 L534.6 626.3 L532.6 626.9 L530.6 627 L527.9 627 L525.3 627.7 L523.3 628.8 L521.3 628 L519.5 626.7 L517.7 625.5 L515.8 624.3 L513.7 623.7 L511.5 622.9 L509.3 622.3 L507.1 621.6 L504.9 621 L502.8 620.2 L500.4 620 L498.7 619.3 L496.2 618.8 L493.8 619 L491.3 618.5 L489.1 618.9 L487.1 619.3 L485.1 619.4 L483.2 620.2 L481.2 620.8 L479.1 620.2 L476.7 620.6 L474.3 621 L471.8 621.2 L469.6 621.1 L468 622.5 L466.2 623.8 L464.5 625.1 L463.1 626.9 L461.7 628.5 L461 630.7 L460.2 632.8 L459 634.7 L457.5 636.3 L456.2 638.1 L454.5 639.8 L452.8 641.5 L451.5 643.6 L449.4 645.3 L449.2 647.4 L448.9 649.4 L448.4 651.4 L446.5 652.2 L444.8 653.4 L443.1 654.7 L441.2 655.6 L439.2 656.3 L437.5 657.5 L435.8 658.7 L433.8 659.4 L431.8 660.3 L430.1 661.5 L428.9 663.3 L427.3 664.6 L425.7 666 L424.7 667.9 L422.8 668.8 L421.2 670.2 L419.5 671.5 L417.2 671.9 L415.5 673.2 L413.9 674.7 L412.2 675.9 L410.4 676.8 L408.1 676.8 L405.8 677.2 L403.6 677.8 L401.4 678.3 L399.1 678.7 L397.3 679 L395.5 680.2 L393.9 681.5 L392.2 682.8 L390.7 684.3 L388.9 685.9 L386.8 686.2 L384.7 686.7 L382.6 686.7 L380.6 687.5 L378.5 687.9 L376.5 688.4 L374.6 689.3 L372.4 689.4 L370.2 690.1 L368.3 691.7 L366 692.1 L363.6 692.5 L361.6 693.6 L359.5 693.9 L357.7 694.9 L356.2 696.2 L354.3 696.9 L352.5 698 L351 699.2 L349.7 701 L347.7 702.1 L346.1 703.4 L344.2 704.3 L343.1 706.4 L342.5 708.6 L341.8 710.9 L340.3 712.8 L338.9 714.9 L338.5 717.2 L338.4 719.5 L338.5 721.9 L338.1 724.2 L337.1 726.3 L336.6 728.5 L336.2 730.9 L335.9 733.3 L335.1 735.5 L334.7 737.9 L333.9 740.1 L333 742.3 L332 744.6 L331.6 746.9 L330.7 749.2 L329.6 751.3 L328 753.1 L327.1 755.3 L326.6 757.7 L325.2 759.7 L324.4 761.9 L322.5 763.7 L322.1 766.2 L321.8 768.4 L321.5 770.5 L320.9 772.6 L320.6 774.8 L320.6 777 L320.5 779.3 L319.3 781.4 L318.4 783.6 L317.5 785.8 L315.8 787.5 L314.3 789.2 L312.8 790.8 L311.8 792.8 L310.5 794.5 L308.8 795.8 L307.1 797.1 L305.2 798.1 L303.9 799.8 L302.7 801.6 L301.5 803.5 L301.5 806 L301.1 808.4 L300.3 810.6 L300.5 813.1 L300.8 815.5 L300.7 817.9 L301.6 819.9 L302.4 821.8 L302.6 824 L303.2 826 L303.1 828.1 L303.6 830.1 L304 832.5 L304.4 834.9 L305.8 836.7 L306.2 838.8 L307 840.8 L307.4 842.9 L307.7 845 L307.5 847.2 L308 849.3 L308.8 851.6 L310.3 853.4 L311.6 855.3 L312.8 857.2 L313.8 859.4 L315.1 861.1 L315.3 863.1 L315.2 865.2 L315.6 867.3 L314.8 869.3 L314.4 871.3 L314.2 873.3 L314.1 875.4 L314.3 877.4 L314.3 879.5 L313.8 881.5 L313.8 883.7 L313.6 886 L312.6 888.1 L311.8 890.2 L311.6 892.4 L311.2 894.6 L311 896.8 L310.3 899 L310.3 901.1 L310.1 903.1 L309.6 905.2 L309 907 L308.4 909.2 L307.7 911.2 L307.1 913.4 L306.6 915.6 L305.9 917.7 L305 919.7 L303.7 921.3 L303.1 923.3 L302.3 925.2 L301 927.2 L299 926.2 L297.1 925.2 L295.1 924.8 L293 925 L291 925.7 L288.9 925.7 L286.8 925.9 L284.8 925.9 L282.7 925.8 L280.7 925.4 L278.7 925.4 L276.6 924.9 L274.6 924.3 L272.6 923.8 L270.6 923.3 L268.6 922.5 L266.5 922.5 L264.5 922 L263.4 920.3 L261.7 918.9 L261 917 L259.8 915.3 L258.7 913.6 L257.6 911.9 L256.7 909.9 L256.5 907.4 L256.3 904.9 L255.6 902.5 L255.4 899.9 L252.7 899 L251.3 897.3 L250.1 895.6 L249.2 893.7 L248.1 891.9 L247 890 L245.8 888.3 L244.8 886.4 L244.2 884.3 L242.8 882.7 L240.9 881.6 L242.8 880.2 L244 878.2 L245 876.1 L245.9 873.9 L247.5 872.9 L247.7 870.6 L247.7 868.3 L247.1 866.2 L247 863.6 L245.4 862.3 L243.7 861 L242.2 859.6 L240.8 858 L239.3 856.6 L237.9 855 L235.4 854.6 L233.8 852.7 L231.6 851.8 L229.7 850.4 L227.4 849.4 L226.4 847.2 L225.3 845 L223.7 843.1 L222.9 840.8 L222 838.6 L220.4 836.9 L218.7 835.2 L217.5 833.2 L216.3 831.3 L215.7 829.4 L213.8 828.5 L212.1 827.1 L210.2 826.3 L208.2 825.8 L206.2 825 L203.4 824.2 L204 822 L204.9 819.4 L206.7 818.1 L208.4 816.9 L210.1 815.5 L212 814.3 L212.9 811.8 L214.2 809.5 L215.3 807.1 L215.9 804.9 L216.7 802.7 L217.2 800.5 L218 798.3 L217.7 796.2 L217.8 794.1 L217.4 792 L217.2 790 L218.2 788.1 L218.3 786 L218.3 784.3 L219.7 782.5 L220.5 780.3 L222 778.5 L223 776.8 L223.9 775 L225 773.2 L225.9 771.4 L227 769.7 L227.4 767.8 L229.4 766.4 L231.2 764.8 L233.2 764.3 L235 763.3 L236.6 761.8 L239.3 761.3 L241.9 760.3 L244.7 760.4 L247.4 759.9 L248.9 757.7 L250.8 756.5 L251.8 754.3 L252.5 752.1 L252.7 749.8 L253.6 747.1 L254.5 744.4 L255.3 742.2 L255.9 740 L256.3 737.4 L255.1 735.3 L254.5 733 L253.8 730.6 L252.1 728.8 L250.6 726.9 L248.7 725.5 L246.4 723.9 L244 722.6 L241.9 722.7 L239.9 723 L237.9 723.4 L235.6 723.9 L233.3 724.3 L231.1 725.2 L228.8 726 L226.6 727.2 L224.3 728 L222.1 728.7 L220 729.8 L217.5 730 L215.9 731.4 L214 732.5 L212.5 733.9 L210.7 736 L207.7 737.3 L205.5 735.8 L203 734.3 L201.8 732.3 L200.3 730.6 L199.2 728.6 L198.5 726.2 L197.1 724.5 L195.8 722.6 L194.1 720.7 L192.4 718.8 L190.5 717.1 L189.6 714.8 L188 712.9 L186.7 711.1 L185.2 709.3 L183.4 707.8 L182.2 706.1 L180.9 704.4 L179.7 702.5 L178.5 700.7 L177 698.9 L174.6 698 L173.3 696.1 L172.1 694.2 L170.7 692.3 L169.8 690.2 L168.5 688.6 L167.2 687.1 L165.4 685.9 L164.1 684.6 L162.2 683.1 L160.1 681.8 L157.8 680 L158.1 678 L158.3 676 L158.2 674 L159.1 671.9 L156.9 670.1 L155.1 667.9 L153.5 666.6 L152 665.2 L150.1 664.3 L148.1 663.7 L146.3 662.5 L144.6 661.5 L144 658.7 L143.9 655 L145.8 653.4 L147.6 651.7 L149.7 649.8 L151.8 649.1 L153.7 648 L156.3 647.8 L158.1 646.3 L160 644.9 L161.5 643.1 L162.5 641 L163.1 638.7 L163.3 636.4 L164 634.1 L164.3 632.1 L164.9 630.1 L165 628 L165.2 626 L165.7 624 L165.9 621.9 L166.2 619.9 L166.9 617.7 L168 615.5 L168.1 613.2 L168.7 611 L168.6 608.6 L168.9 606.5 L169.6 604.5 L170.3 602.5 L170.5 600.4 L171.2 598.4 L171.8 596.4 L172.7 594.5 L173.4 592.5 L173.8 590.4 L174 588.3 L174.5 586.2 L174.6 584.1 L174.2 582.1 L173.5 580.1 L173.2 578.1 L173 576.1 L173.1 574 L173.3 572 L172.9 570.1 L172.6 568 L172.5 565.9 L172.5 563.8 L172 561.7 L171.7 559.7 L171.1 557.7 L171 555.6 L170.4 553.6 L170.5 551.5 L169.8 549.5 L170.6 547.5 L171 545.4 L170.2 543.5 L169.6 541.5 L168.8 539.5 L167.9 537.6 L167.6 535.4 L167.2 533.4 L167.5 531.2 L167 529.2 L166.3 527.2 L166.1 525 L166.4 522.8 L166.7 520.5 L166.9 518.3 L166.3 516 L166.3 514.2 L164.3 512.8 L162.2 511.6 L160.4 509.8 L158.3 508.6 L156.3 507.3 L154.2 506.1 L152.3 504.8 L150.1 504.6 L148.3 503.1 L146.2 502.8 L144.1 502.5 L141.8 502.3 L139.9 501.4 L137.7 500.9 L135.8 499.8 L134 498.5 L133.5 496.4 L132.6 494.4 L132.1 492 L130 491.2 L127.9 490.3 L125.8 489.3 L123.2 489.6 L120.6 489.5 L118.1 490.1 L115.5 491.1 L112.7 490.9 L110.1 490.8 L107.6 490.4 L105 489.9 L102.7 488.9 L100.4 488.1 L98.2 486.9 L96.2 486.2 L94.5 485.1 L92.5 484.3 L90.6 483.4 L88.9 482.1 L86.5 483.1 L84 484 L81.3 484 L78.9 483.6 L76.4 483.9 L73.8 485.6 L72.5 487.3 L71.4 489.2 L70.6 491 L70.7 493.2 L70 495.1 L66.7 497.8 L64.6 496.2 L63.2 494.3 L59.4 494.5 L57.8 495.9 L56 497.2 L54.4 498.6 L56.1 497.4 L57.6 496 L59.2 494.8 L60.8 493.5 L62 491.9 L63.6 490.5 L65.3 489.4 L67 488.4 L68.4 486.8 L69.9 485.4 L71.4 484.1 L72.8 482.6 L74.8 481.8 L76.5 480.8 L78.4 479.9 L79.5 477.9 L81 476.6 L83.1 475.9 L84.3 474.3 L85.6 472.6 L87.4 471.6 L89.5 470.9 L91.2 469.8 L92.5 468.2 L94.2 467.1 L95.9 465.9 L97.5 464.7 L99.1 463.5 L100.8 462.4 L102.6 461.3 L104.3 460.3 L106 459.1 L107.4 457.6 L108.4 455.6 L110.2 454.6 L111.4 452.9 L113.6 452.4 L114.9 450.7 L116.1 449 L117.4 447.4 L119.3 446.5 L121.1 445.5 L122.9 444.5 L124.6 443.3 L126 441.8 L127.8 440.8 L129.2 439.4 L130.5 437.8 L132.4 436.9 L134.2 435.8 L135.5 434.3 L137.1 433 L138.9 432.2 L141.3 432.4 L143.8 431.9 L146.2 432.3 L148.2 431.5 L150 430.3 L151.7 429.2 L153.4 427.8 L155.1 426.5 L156.4 424.8 L158 423.7 L159.2 422 L159.9 420 L160.9 418.2 L161.9 416.4 L162.2 414.2 L163.2 412.4 L164.6 410.6 L165.8 408.9 L167.4 407.6 L169.1 406.3 L170.3 404.6 L171.8 403.2 L173.6 402.1 L175.2 400.8 L176.4 399.1 L178.2 397.8 L178.8 395.7 L179.3 393.5 L180.2 391.5 L180.8 389.3 L181.3 387.1 L181.7 385.3 L183.2 383.9 L184.8 382.5 L186.1 380.8 L187 378.8 L188.9 377.7 L190.5 376.3 L192 374.8 L193.3 373.2 L194.7 371.6 L196.2 370.1 L197.3 368.4 L198.5 366.8 L199.4 364.9 L200 363 L201.1 361.2 L201.9 359.4 L202.8 357.6 L204 355.9 L205.7 354.5 L206 352.2 L206.3 350.1 L206.7 347.9 L207 345.7 L207.6 343.6 L207.5 341.3 L207.5 339.2 L208.6 337.3 L209.3 335.2 L210.9 333.6 L211.7 331.5 L213.1 329.8 L214.6 328.2 L215.5 326.1 L216.9 324.4 L218.3 322.7 L220.2 321.5 L221.5 319.8 L222.4 317.7 L224.2 316.4 L225.8 314.9 L226.6 312.8 L227.4 310.7 L229.8 310 L230.6 308.1 L230.8 305.8 L232.2 304 L233.8 302.6 L234.2 300.3 L235.9 298.8 L237.2 296.6 L238.3 294.2 L239.2 291.8 L239.6 289.6 L239.5 287.4 L239.9 285.2 L240 283 L240.2 280.8 L240.6 278.6 L241.2 276.4 L241.6 274 L240.3 271.3 L239.4 269 L239.1 266.3 L239.4 263.8 L241.8 262.6 L244.3 261.8 L246.2 259.8 L247.9 258.6 L249.6 257.4 L251.4 256.5 L253.3 255.2 L254.4 253.4 L255.3 251.6 L257.5 250.8 L260.2 249.6 L260 247.2 L260.4 244.9 L259.8 242.4 L259.2 240 L258.4 237.6 L257.6 235.8 L258.8 233.6 L259.3 231.1 L260.2 228.8 L261.4 226.1 L262.3 223.3 L263.9 221.9 L265.5 220.5 L267.5 219.7 L269.2 217.3 L270.9 216 L271.8 213.7 L273 211.5 L273.6 209.1 L274.7 207 L275.2 204.8 L275.6 202.5 L275.8 200.2 L276.3 197.9 L277.2 195.7 L277.4 193.3 L277.4 190.6 L278.1 187.9 L276 186.5 L274.2 185.1 L272.3 183.7 L270.2 182.7 L271.2 180.4 L273.8 179.1 L276.4 177.7 L278.4 176.5 L280.4 175.2 L282.8 174.1 L282.7 171.8 L282.5 169.4 L282.9 167.2 L283.9 165.2 L283.6 163 L282.7 160.9 L283.8 158.6 L283.2 156.3 L284 154.1 L285.1 152 L286.1 149.9 L286.9 147.6 L286 145.3 L286 142.9 L285.5 140.6 L284.7 138 L284.2 135.3 L285.4 132.6 L286.2 129.5 L287.8 127.6 L290 126 Z" fill="none" stroke="#333" stroke-width="1.1" stroke-linejoin="round"/>
<path d="M54.1 498.4 L57.3 500.7 L59.7 501.2 L61.7 501.7 L63.7 502.8 L65.9 503.9 L68.8 504.6 L71.9 505.1 L74.4 504.3 L76.8 503.6 L79.3 503 L81.9 503 L84.5 503 L86.5 503.1 L88 504.5 L89.3 505.6 L90.2 507.9 L91.3 510.1 L92.8 511.9 L95 513.7 L97.5 515 L99.4 515.8 L101.3 516.3 L102.6 517.9 L104.9 519.4 L106.9 519.9 L108 522.2 L108.4 524.2 L107.8 526.3 L106.5 528 L106 530.3 L103.8 530.9 L101.5 531.2 L99.4 532.1 L97.5 533.5 L95.5 535 L94.6 537.3 L94.4 539.8 L95.6 541.8 L96.3 543.9 L98.1 545.6 L99.4 547.4 L100.2 549.5 L99.9 551.6 L99.5 554.1 L97.2 554.1 L95.1 554.4 L92.5 555.2 L91.3 557.2 L90.3 560.2 L91.8 561.9 L93.6 564.1 L91.2 565.8 L89.3 568.2 L86.6 569.1 L84 569.9 L84.1 572 L83.7 574 L82.6 576.1 L83.1 578.2 L84.5 580 L85.2 582.1 L85.8 584.1 L86.2 586.2 L87.1 587.7 L85 587.8 L83 588 L81 587.7 L79 588.3 L76.7 588.9 L74.7 589.9 L72.7 591.1 L70.8 592.3 L69.2 593.8 L68.1 595.7 L67 597.7 L65.3 598.6 L64 600.4 L63.6 602.4 L63 604.4 L62.5 606.5 L61.8 608.6 L60.6 610.4 L59.3 612.2 L58.5 614.1 L56.3 615.1 L54.5 616.8 L52.4 618 L50.4 619.5 L48.4 620.2 L46.3 620.7 L44.3 621.2 L42.1 621.4 L40.1 621.9 L38.2 623 L36 623 L34.2 624.2 L32.2 624.7 L30.1 625.1 L28.1 625.8 L26 626.2 L24 627" fill="none" stroke="#333" stroke-width="1.1" stroke-linejoin="round"/>
<path d="M301.1 926.9 L303.6 929.3 L306 933 L304.8 939.1 L299.9 937.9 L296.2 930.6 L295 924.5" fill="none" stroke="#333" stroke-width="1" stroke-linejoin="round"/>
<path d="M305.8 932.5 L308.4 931.9 L310.8 931.1 L313.3 930.2 L315.9 929.9 L318.3 929 L320.7 928.1 L322.5 926.9 L323.4 925 L324.2 923 L325.7 921.4 L327.4 920.2 L329.3 919.3 L331.3 918.5 L332.4 917.4 L333.1 920.1 L334.2 922.8 L335.5 924.6 L336.6 926.5 L338 928.2 L339.7 929.7 L340.8 931.4 L342.2 932.9 L343.6 934.4 L344.3 936.5 L345.5 938.1 L347 939.3 L347.8 941.4 L347.6 943.7 L348.6 945.8 L349.2 947.4 L348.4 949.4 L347.6 951.5 L346.8 953.9 L347.5 956.3 L348.1 958.7 L348.5 961.2 L348.9 963.5 L350.1 965.6 L351.2 967.8 L353.2 969.2 L354.6 971.2 L356.4 972.3 L358.1 973.6 L359.5 975.1 L360.9 976.7 L362.4 978.1 L364.8 977.8 L366.6 979.4 L368.7 980.1 L370.8 980.7 L372.8 981.8 L375 982.3 L377.3 982.5 L379.2 983.8 L381.2 984.9 L383.4 985.5 L385.3 986.8 L387.3 987.8 L389.6 988.2 L391.8 989.8 L393.9 989 L395.8 987.7 L398 987.2 L400.1 986.4 L401.9 985.2 L402.9 983.2 L404.7 982 L406.5 980.8 L408 979.3 L409.6 977.9 L411.3 976.6 L412.8 975.1 L414.1 973.4 L415.2 971.5 L416.9 970.3 L418.6 969 L420 967.4 L421.4 965.8 L422.9 964.4 L423.8 961.9 L425.9 961.7 L427.6 960.3 L429.7 960.3 L431.9 960.4 L434.1 960.7 L436 959.8 L438 959.3 L440 958.7 L442.1 957.3 L443.9 958.3 L445.9 958.8 L447.9 959.4 L449.9 959.5 L451.9 960.1 L453.9 960.8 L455.7 961.8 L457.7 962.3 L461.3 963.4 L461.9 961.2 L462.7 959.2 L463.8 957.3 L464.6 955.2 L466.3 953.8 L467.6 952 L468.1 949.8 L469.4 948 L471 946.5 L471.6 944.3 L473.3 943 L474.9 941.6 L477.2 941 L478.8 939.6 L480.1 938 L481.6 936.3 L483.7 935.6 L485.1 933.9 L487.2 933.2 L488.2 931.1 L489.8 929.5 L490.5 927.6 L491 925.7 L491.7 923.8 L492.8 922 L493.3 920.1 L493.6 918 L495 916.4 L496.3 914.9 L497.1 912.8 L498.3 911.1 L498.6 908.7 L500.3 907.3 L501 905.6 L501 903.6 L502.1 901.6 L501.4 899.6 L501.5 897.6 L501.1 895.6 L500.8 894.4 L499.3 892.9 L498.1 891.1 L496.4 889.8 L495 888.3 L493.9 886.3 L492.4 884.7 L491.3 883 L491.3 880.8 L490.6 879 L490.3 876.9 L489 875.3 L488.9 873.1 L487.5 871.6 L486.1 869.4 L487.1 867.6 L488.2 865.9 L489.5 864.3 L490.3 862.5 L491.7 860.9 L492.9 859.7 L494.7 858.6 L496.5 857.3 L498.5 856.5 L500.6 856.2 L502.7 855.8 L504.7 854.8 L506.1 853.2 L507.8 851.9 L509.8 851 L511.2 849.4 L513.2 848.5 L514.9 847.1 L516.5 845.8 L518 844.2 L519.3 843.3 L521.1 844.4 L523.3 845 L524.9 846.5 L526.8 847.6 L528.3 849.1 L530.1 850.6 L532.1 851.8 L533.9 853.3 L535.8 854.6 L537.4 855.8 L539.4 855.5 L541.5 855.4 L543.5 854.9 L545.5 854.3 L547.5 853.6 L549.5 853.3 L551.6 854.1 L553.6 855 L555.7 855.7 L557.6 857 L560.1 856.7 L562.2 857.2 L564.1 857.9 L565.3 859.6 L567.2 860.6 L568.9 861.8 L570.2 863.4 L571.1 865.3 L572.2 867.1 L574.1 868.1 L575.4 869.7 L576.3 871.5 L577.8 872.9 L579.3 874.1 L580.9 872.4 L582.4 870.6 L584.7 869.7 L586.4 868.1 L588.3 866.5 L590.3 865.8 L592.5 865.5 L594.6 864.8 L596.7 864.2 L598.9 864 L601.1 863.7 L603.2 863.6 L605 862.5 L606.9 861.7 L608.5 860.4 L610.2 859.2 L611.8 858 L613.3 856.4 L615.2 855.6 L616.7 854.2 L618 852.4 L620.1 851.8 L621.9 850.8 L623.3 849.3 L625.2 848.4 L627.1 847.4 L628.8 846.3 L630 844.5 L631.7 843.4 L633.2 841.8 L634.7 840.5 L636.4 839.2 L637.9 837.9 L639.8 837 L641.4 835.6 L643.3 834.8 L645 833.6 L646.5 832.2 L648.3 831.2 L650.1 830.2 L652.1 829.4 L653.6 828 L655.6 827.3 L657.3 826.1 L659.1 825.1 L660.3 823.2 L661.7 821.6 L663.7 820.9 L665.3 819.6 L667.1 818.5 L669 817.7 L670.2 815.9 L672.1 814.9 L674.2 814.3 L675.9 813.2 L677.5 811.8 L679.2 810.7 L680.7 809.4 L682.5 808.3 L684.4 807.4 L685.9 805.9 L687.6 804.8 L689.2 803.6 L691 802.5 L692.7 801.4 L694 799.7 L696 798.9 L697.8 797.8 L699.1 796.1 L700.9 795.1 L702.5 793.8 L704.4 793 L706.3 792.4 L708 791.2 L709.8 790.2 L712 790" fill="none" stroke="#333" stroke-width="1" stroke-linejoin="round"/>
<path d="M324.4 923.2 L323.4 925.1 L323.5 927.2 L323.8 929.5 L322.9 931.8 L321.9 934.2 L319.8 934.9 L317.7 935.5 L315.6 936.7 L315.4 939.1 L315.3 941.6 L314.8 944.1 L313.6 946.6 L312 948.7 L309.8 949.8 L307.9 951.5 L305.6 952.4 L303.5 953.6 L301.4 954 L299.3 954.3 L297.4 955.1 L295.7 956.7 L293.6 957.2 L292.3 959 L290.1 959.6 L288.6 961.1 L286.9 962.4 L284.4 963.4 L284.5 966.1 L283.6 968.5 L283.1 971.1 L282 973.2 L280.8 975.3 L279.2 977.1 L277.4 978.4 L275.4 979.5 L274.5 981.5 L274.6 983.9 L273.3 985.8 L272.9 987.8 L271.2 989.7 L269.2 991 L266.9 991.7 L265.7 993.6 L265.2 995.9 L264.5 998" fill="none" stroke="#333" stroke-width="1" stroke-linejoin="round"/>
<path d="M79.7 70 L79.7 76 L79.7 76 L79.5 77.4 L79.4 78.9 L79.2 80.3 L79.1 81.7 L79 83.2 L78.8 84.6 L78.5 86 L78.1 87.4 L77.8 88.9 L77.4 90.3 L77.1 91.7 L76.9 93.5 L76.7 95.2 L77.2 96.5 L77.8 97.8 L78.3 99.2 L78.8 100.5 L79.7 101.6 L80.6 102.7 L81.5 103.8 L82.4 104.9 L83.7 105.5 L85.1 106.1 L86.4 106.6 L87.7 107.2 L89.1 107.3 L90.5 107.4 L91.9 107.4 L93.3 107.5 L94.7 107.6 L96.2 107 L97.6 106.4 L99.1 105.8 L100 104.3 L100.9 102.9 L101.8 101.4 L103.3 100.5 L104.7 99.6 L106.2 98.7 L107.3 97.4 L108.4 96.1 L109.5 94.7 L110.6 93.4 L111.7 92.3 L112.7 91.3 L113.8 90.2 L114.8 89.2 L115.9 88.1 L117.1 87.2 L118.3 86.4 L119.5 85.5 L121.2 87.2 L122.1 85.9 L123 84.6 L123.9 83.3 L124.8 82 L127.4 82 L128.3 80.3 L128.2 78.4 L132 78.7 L128.1 77.7 L128.3 76.6 L129.8 77.1 L131.2 76.8 L132.7 76.6 L133.1 78.1 L134 79.6 L133.9 81.2 L129.7 82.2 L133.5 82.2 L133.9 82.7 L134.3 84.6 L134.8 86.3 L135.1 84.5 L135.7 83.6 L136.8 81.9 L137.1 80.2 L137.1 78.3 L138.3 79.3 L139.8 79.4 L142.1 78.1 L144.2 76.4 L146.1 76 L148 76.3 L149.3 78.2 L152.1 78.1 L151.4 80 L152.8 81.3 L153 82.9 L153.5 84.4 L154 86.2 L154.4 88.1 L156 86.7 L157.3 84.7 L157 82.9 L157.9 81.2 L160.4 81.4 L157.2 80.5 L157.4 79.6 L160.2 79.1 L162.3 78.8 L163 80.3 L160.7 83.8 L162.9 81.3 L163.9 81.8 L164 83.6 L164 85.4 L164.9 86.8 L165.6 88.3 L166.6 89.9 L166.8 91.6 L166.8 90.1 L167.9 88.9 L167.9 87.4 L168.3 86 L169 84.7 L169.1 83.2 L169.4 81.7 L169.6 80.8 L172.1 81.3 L173.4 82.3 L173.9 83.3 L175.1 82.5 L176.8 83.9 L176.1 82.3 L176 81.2 L177.7 80.6 L179.5 81.4 L181.2 81 L182.9 81.3 L184.2 82 L185.2 83.2 L183.9 85.7 L186.2 83.4 L186.6 83.8 L188.3 84.5 L189.8 84.8 L190.4 86.6 L191.8 88.1 L192.1 89.7 L192.7 91.2 L193.6 92.5 L195.3 91.4 L196 89.6 L197 87.9 L198.2 87.1 L199.5 86.3 L201.4 87.5 L201.4 89.2 L201.9 91 L201.7 92.7 L203.1 94 L203.7 95.2 L205.5 94.5 L207.8 94.1 L208.5 92.3 L209 89.8 L210.7 90.2 L212.2 89.7 L213.7 90.8 L214.2 92.6 L213.8 94.2 L210.8 95.1 L214.1 94.9 L214.1 95.7 L214.5 97.2 L213.9 98.8 L215 100.2 L215.6 102.3 L217.8 100.4 L217.9 98.9 L218.1 97.4 L218.6 96.1 L219.3 94.6 L220 93.1 L222.2 92.4 L223.7 93.1 L224.8 94.8 L224.1 96.8 L225 98.3 L221.7 99.6 L225.1 99.4 L225 100.1 L225.5 101.9 L227.6 102.2 L229 100.9 L230.4 101.6 L229.2 100.4 L230 99.5 L231 98.1 L232.6 97.6 L233.4 96.6 L234.7 97.9 L234.9 99.6 L236.5 101 L237.4 99.3 L237.6 97.4 L239 96.5 L241.1 96 L241.4 97.6 L242.2 98.8 L243.7 99.5 L245.2 101.2 L244.2 102.8 L243.8 104.6 L243 106.2 L242.2 107.9 L242 109.6 L241.9 111.9 L243.9 112.3 L245.8 112.9 L247.6 112.3 L248.7 110.7 L249.5 109.4 L250.9 108.1 L251.6 106.4 L253.2 105.2 L254.8 104.8 L255.6 106.5 L255.3 104.7 L256.4 104.6 L257.9 108.1 L256.9 104.2 L257.9 103.8 L259.6 104.7 L261.6 106.8 L260.2 107.7 L259.1 108.9 L258 109.9 L257.7 111.6 L256.8 113.2 L256.4 114.9 L256.3 116.7 L257.8 117 L259.3 116.8 L260.6 116.3 L262.1 115.4 L264.2 118.3 L263.4 115.3 L263.8 115.2 L265.2 115.7 L266.8 115.9 L267.9 116.5 L268.1 114.9 L269.1 113.6 L272.9 114.2 L269.6 112.5 L269.5 112 L270.1 110.4 L271.6 109.5 L272.8 108.5 L274.3 108.2 L275.2 106.9 L276.5 105.1 L278.4 104.9 L280.4 106.1 L281 108 L281.7 109.9 L280.5 111.3 L279.3 112.6 L277.6 114.1 L276.7 115.5 L278 117.4 L277.4 118.8 L277.8 120.5 L277.1 121.9 L276.6 123.1 L277.7 123.3 L279.3 122.5 L281 121.9 L281.5 120.7 L283.2 121.5 L284.9 122.8 L286.5 121.9 L287.4 120.4 L289 119.8 L290.2 117.5 L290.9 118.9 L291.2 120.4 L291 121.9 L290.6 123.3 L290.7 124.8 L290.6 126.3 L290.1 127.5 L289.6 130.1 L290.5 128.8 L292.1 128.1 L293.3 126.9 L294.2 125.4 L294.7 123.6 L295.5 122 L297.1 121.8 L298.1 120.7 L298.4 120.1 L299.8 121.3 L300.6 122.7 L300.6 124.4 L301.1 126.1 L300.9 127.8 L300.6 128.8 L301.9 130.5 L302.5 132.2 L303.1 130.6 L304.7 129.5 L305 127.8 L305.5 126.2 L307 125.1 L307.9 123.7 L308.4 122.1 L308.9 120.2 L311.3 120.5 L311.1 122 L310.7 123.5 L310.8 125.1 L310.9 126.8 L310.2 128.2 L309.1 129.5 L307.2 129.4 L308.8 130.4 L308.5 130.9 L308 132.5 L308.9 133.9 L309.8 135.2 L310.8 135.9 L311.7 134.6 L313 133.5 L314 132.3 L315.1 131.2 L316.3 130.4 L316.7 128.5 L317.7 127.4 L319.3 126.6 L321.1 126.5 L322.8 126.1 L325.4 126.7 L324.9 128.2 L324.3 129.6 L323.8 131.3 L322.6 132.5 L319.5 131.5 L321.9 133.3 L321.3 133.7 L321.7 135.1 L322.3 136.6 L322.3 138.3 L319.7 139.6 L322.2 139 L323.2 139.6 L319.8 141.5 L322.9 141 L323.9 141.2 L323.1 143 L323.3 144.5 L324.4 145.9 L324.6 147.3 L326.3 146.2 L328.4 145.9 L328.4 144.3 L329 142.9 L331.2 143.1 L329.2 142.3 L329.5 141.4 L329.7 139.9 L329.4 138.3 L329.7 136.8 L330.5 135.4 L331 134 L331.7 132.5 L331 130.9 L331.4 129.5 L331.7 128 L331 126.4 L331.6 127.9 L331.5 129.4 L331.9 130.9 L329.8 131.3 L331.7 131.5 L331.7 132.4 L331.8 133.9 L331.9 135.4 L332.1 136.9 L334 137.5 L336.9 138.7 L336.9 137.1 L339.1 137.3 L336.3 136.3 L336.6 135.4 L336.7 133.8 L340.6 134.5 L337.1 133.2 L337.3 132.4 L339.3 134.1 L338.5 135.5 L337.5 136.8 L337.1 138.4 L336.5 140 L337.3 141.4 L335.9 142.5 L337.6 142 L338.1 142.9 L336.8 144.1 L338.5 143.8 L338.6 144.5 L339.4 145.9 L339.7 147.5 L341.3 148.6 L338.4 150.2 L340.9 149.8 L340.9 150.4 L341.3 148.9 L342 147.6 L343.1 146.7 L343.3 145.3 L343.4 146.9 L342.8 148.4 L343.1 150 L342.9 151.4 L342.8 153.3 L343 155.2 L343 157.1 L344.2 158.4 L344.9 159.4 L346.2 158.2 L347.3 156.8 L348.4 155.5 L349.4 154.1 L350.1 152.5 L350.8 150.9 L352.7 150.2 L352.8 148.5 L353.9 147.2 L354.5 145.7 L354.7 144.1 L355.5 142.6 L356.8 143.4 L358 144.1 L358.3 145.6 L358.5 147.1 L358.5 148.7 L358.2 150 L358.4 152 L357.8 154.1 L356.2 154.7 L354.6 155.4 L352.6 157.3 L355.1 158.4 L356.4 159.1 L357.4 159 L358.3 160.7 L358.7 162.8 L357.7 163.9 L356 164.4 L355.2 166.4 L355.3 168.5 L355.6 170.3 L355.4 172.2 L352.4 172.5 L354.9 173 L354.6 174 L354.3 175.8 L354.7 177.6 L354.8 178.9 L355.5 180.4 L356.7 181.2 L358.3 180.9 L360.2 180.4 L360.9 178.7 L359.3 177.2 L358.9 175.7 L359 173.9 L360 172.2 L360 170.3 L361.3 168.8 L361.3 166.9 L361.5 165.4 L363.7 164.1 L364.7 162.7 L366.9 166.3 L365.5 162.8 L366 162.3 L366.4 160.5 L367.8 159.2 L369.3 158 L370.5 156.7 L371.9 156.3 L373.7 155.6 L375 154.7 L375.3 153 L375.9 151.5 L376.9 150 L377.4 148.1 L377.1 149.7 L377.3 151.2 L378.8 152.2 L379.2 153.6 L380.4 154.9 L381.7 156.1 L380.2 158.1 L382.1 157.1 L382.8 157.6 L383.4 159.5 L385.4 160.6 L386.4 159.4 L387.5 158.4 L388.9 157.6 L389.9 156.4 L390.8 155.2 L392.1 154.7 L393.6 154 L394.9 153 L395.8 152.6 L397.7 152.3 L399.2 152.8 L399.7 154.4 L399.3 155.9 L398.7 157.5 L397.8 159.1 L397 160.6 L395.9 161.9 L395.3 162.9 L394.7 164.6 L393.5 166.3 L393.1 167.4 L395 167.3 L396.2 168.5 L397.1 170.1 L398.4 168.7 L399.3 167 L399.4 165.2 L400.9 164.1 L401.5 162.6 L402.7 163.6 L403.8 164.4 L405.4 165.2 L407.1 166.3 L408.6 166.1 L410.2 166.3 L411.3 164.7 L412.7 165.4 L414.2 165.5 L415.8 165.8 L416.5 167.6 L417.9 169.1 L416.4 170.5 L415.7 172.2 L414.2 171 L412.8 171.7 L411.1 171.9 L409.6 172.6 L408.5 174.1 L406.8 172 L407.4 174.4 L406.8 174.5 L405.7 176.1 L404.8 177.8 L406.4 178.9 L407.8 180.6 L409.3 181.6 L411.2 180.9 L409.9 182.6 L407.3 179.2 L409.1 182.5 L408 183.2 L406.2 183 L404.7 179.7 L405.6 184.1 L404.8 184.6 L406.2 184.6 L407.7 184.4 L409.2 184.6 L410.4 183.2 L412 185.2 L411.6 183.1 L412.3 183.4 L413.9 182.7 L415.1 181.3 L416 179.6 L417.9 178.7 L419.7 179.6 L420.8 181.3 L422.5 182.3 L423.3 183.9 L424.2 185.5 L425.2 186.8 L425.7 188.4 L426.7 189.9 L425.3 191.4 L424.2 193.3 L425.8 194.1 L427.4 194.2 L427.8 196.3 L429.2 197.5 L430.1 198.9 L431 200.2 L427.6 201.4 L430.7 201.1 L430.8 201.6 L429.3 203 L428.7 205 L427.2 204.7 L425.8 203.8 L424 205.3 L425.4 206.1 L426.9 208.3 L428.1 206.5 L429.9 206.1 L431.1 208.5 L429 209.1 L429 211.4 L427.8 212.9 L426.5 214.2 L424.1 211.5 L425.1 214.1 L424.6 214.6 L422.4 215.1 L420.7 216.4 L420.1 218 L419 219 L418.8 220.8 L417.2 221.4 L416.4 222.7 L414.8 223.3 L414.1 224.9 L413.2 226.4 L411.8 226.6 L412.1 229.3 L413.2 230.3 L414.3 230.7 L414.9 232.7 L414.2 234.2 L412.9 235.7 L414.6 235.9 L415.1 237.2 L415.5 235.5 L415.4 233.2 L416.8 232.5 L418 231.5 L419.5 232.1 L418.4 230.9 L418.3 230 L422.2 232.3 L419.1 229.8 L419.3 228.9 L420.6 227.9 L420.9 226.3 L421.5 224.9 L426 227.1 L422.5 224.4 L422.9 224 L423.8 222.8 L424.6 221.5 L425.4 220.2 L426.7 219.3 L426.8 217.6 L427.6 216.2 L429.3 215.2 L430.9 216.2 L431.4 220.4 L431.8 216.1 L432.6 216.5 L433.8 216.4 L434.9 217.6 L436.4 218.5 L437.4 219.7 L438.7 220.9 L439.1 222.6 L439.1 224.3 L439.4 226 L439.8 227.6 L441.3 229 L441.1 230.7 L441.2 232.4 L441.3 234 L440.8 235.5 L441.3 236.9 L442 238 L440.5 239.3 L439 239.2 L437.5 240.1 L435.8 239.4 L434.3 240.1 L432.7 240 L431 239.6 L428.7 239.4 L429.6 240.8 L430.1 242.3 L431.4 243.7 L433.8 244.7 L432.4 245.9 L430.9 247 L430.5 249 L429.2 250 L426.7 246.4 L428 250.1 L427.9 251.1 L426.4 251.4 L425.2 252.4 L424.3 253.5 L424.1 255.2 L421.8 255.9 L421.5 257.5 L421.4 259.3 L420.4 260.8 L419.7 262.3 L420.2 264.3 L419.6 265.9 L419.4 267.7 L418.8 269.3 L414.2 268.3 L417.7 269.9 L418.2 270.8 L416.6 272.2 L415.8 273.8 L416.1 275.5 L415.4 277 L415.5 278.7 L416.1 280.5 L415.6 282.1 L415.6 283.6 L415.9 285.3 L416.2 286.9 L415.6 288.6 L416 290.4 L416.5 291.9 L417.1 293.5 L417.9 294.5 L417.8 296.3 L417.4 298.1 L417 299.6 L416.4 301.4 L414.3 300.2 L415.8 301.9 L415.1 302.6 L414.1 304.1 L413.1 305.7 L411.7 306.1 L410.6 307.2 L409.3 307.8 L407.6 307.5 L406.4 308.6 L405 309.3 L403.8 310.4 L404.1 311.9 L403.7 313.8 L403.7 315.7 L404.1 318.1 L406 317.7 L408.1 318.7 L408.2 316.9 L408.4 315 L408.9 313.4 L409.9 312.2 L412.3 313.1 L410.8 311.7 L411.1 311.1 L412.5 310.3 L413.6 309.3 L414 307.5 L416.8 309.5 L414.9 306.9 L415.4 306.7 L416.3 305.4 L417.4 304.3 L418.1 302.9 L418.9 301.6 L420.2 300.6 L421.8 300.1 L423.2 299.3 L424.2 298.1 L425.1 296.9 L425.3 294.8 L427 294.7 L428.2 293.9 L429.3 293 L430.4 292.2 L431.6 291.4 L432.8 290.1 L433.8 288.7 L435 287.4 L435.6 285.8 L436.3 284.2 L437.4 282.7 L437.7 281 L439.9 281.3 L437.7 280.1 L438.6 279.3 L438 277.9 L439.6 277.5 L438 277.1 L437.8 276.4 L437.6 275 L437.6 273.6 L437.4 272.1 L437.1 270.5 L437.9 269.1 L438.6 267.8 L439.9 266.5 L440.4 265.1 L440.1 263.5 L440.4 262 L439.5 260.2 L441.5 258.8 L441.1 257.1 L441.4 255.4 L441.8 253.6 L444.9 253 L441.3 252.5 L441.6 251.8 L441.5 250.8 L442.9 250.2 L444.3 249.4 L446 249.2 L446.8 247.8 L447.8 246.7 L449.3 246 L450.7 245.3 L452.2 244.6 L453.6 243.9 L455.1 243.1 L456.5 242.4 L458.1 241.8 L459.8 241.3 L461.4 240.8 L463 240.2 L464.6 239.8 L466.3 239.4 L468 239 L469.6 238.6 L471.7 239.1 L471.2 240.8 L470.7 242.4 L470 243.8 L469.2 245.3 L468.5 246.7 L467.9 248.1 L467.4 249.4 L466.9 250.8 L466.3 252.2 L465.2 253.6 L464.1 255.1 L463 256.5 L461.9 257.9 L460.9 259.2 L459.8 260.6 L458.7 262 L457.4 263.1 L456 264.1 L454.6 265.2 L453.3 266.3 L451.9 267.1 L450.6 268 L449.2 268.8 L447.8 269.6 L446.2 270.6 L444.4 272.9 L446.4 272.1 L448.2 272.4 L450 272.8 L451.4 273.6 L452.7 274.5 L454 275.3 L455.4 276.1 L456.9 275.4 L458.3 274.6 L459.8 273.9 L461.1 272.8 L462.5 271.8 L463.9 270.7 L465.2 269.6 L466.3 270.6 L467.4 271.7 L467.9 270.4 L468.5 269 L469.1 267.6 L469.6 266.3 L470.4 264.9 L471.2 263.6 L472 262.2 L472.8 260.9 L473.9 259.4 L475 258 L476.1 256.5 L477.3 255.6 L478.4 254.6 L479.6 253.7 L481 252.6 L482.5 251.5 L483.9 250.4 L485 249.3 L486.1 248.2 L487.2 247.2 L488.3 246.1 L489.7 245.7 L491.2 245.4 L492.6 245 L494.4 245.4 L496.2 245.7 L498 246.1 L499.8 246.1 L501.7 246.1 L503.5 246.1 L504.9 246.8 L506.4 247.6 L507.8 248.3 L508.9 247.2 L510 246.1 L511.1 245 L512.2 243.9 L513.2 242.8 L514.3 241.7 L515.8 242.8 L517.2 243.9 L518.7 245 L520.4 246.1 L522 247.2 L522.2 245.4 L522.3 243.5 L522.5 241.7 L522 240.3 L521.4 238.8 L520.9 237.4 L522 235.8 L523 234.1 L524.5 233.7 L525.9 233.4 L527.4 233 L529 233.2 L530.6 233.3 L532.3 233.4 L533.9 233.6 L535.3 233.7 L536.8 233.8 L538.2 233.8 L539.6 233.9 L541.1 234.3 L542.5 234.7 L544 235.1 L545.4 235.5 L546.9 235.9 L548.3 236.4 L549.8 236.8 L551.2 237.2 L552.6 237.6 L554.1 238 L555.9 238.5 L557.6 239.1 L559.4 239.6 L560.8 240.2 L562.1 240.8 L563.5 241.5 L564.9 242.1 L566.3 242.7 L567.6 243.3 L569 244 L570.4 244.6 L571.6 245.5 L572.9 246.4 L574.1 247.3 L575.3 248.2 L576.5 249.1 L577.8 250 L579 250.9 L580.5 251.5 L582 252.1 L583.5 252.7 L585.1 253.2 L586.8 253.7 L588.4 254.2 L590 254.7 L591.3 255.7 L592.6 256.7 L593.9 257.6 L595.2 258.6 L596.5 259.6 L597.8 260.4 L599.1 261.2 L600.4 262 L601.7 262.8 L603 263.6 L604.4 264 L605.7 264.4 L607.1 264.9 L608.5 265.3 L609.8 265.7 L611.2 266.1 L612.8 266.3 L614.4 266.4 L616.1 266.6 L617.7 266.7 L619.3 266.9 L620.7 266.2 L622 265.5 L623.4 264.9 L624.8 264.2 L626.1 263.5 L627.5 262.8 L629.1 263.4 L630.8 263.9 L632.4 264.5 L633.8 264.5 L635.2 264.5 L636.7 264.5 L638.1 264.5 L639.5 264.5 L640.9 264.5 L642.4 264.5 L643.8 264.5 L644.6 265.7 L645.4 266.9 L647 266.5 L648.7 266.1 L650.2 266.1 L651.7 266.1 L653.1 266.1 L654.6 266.1 L656.1 266.1 L657.6 266.1 L659.1 266.1 L660.6 266.1 L662 266.1 L663.5 266.1 L665 266.1 L665.8 267.7 L666.6 269.3 L668.2 269.9 L669.9 270.4 L671.5 271 L672.7 271.8 L674 272.6 L675.2 273.4 L676.4 274.2 L677.6 275 L678.8 275.9 L680.1 276.7 L681.3 277.5 L682.6 278.5 L683.9 279.5 L685.2 280.4 L686.5 281.4 L687.8 282.4 L689.4 282.6 L691.1 282.7 L692.7 282.9 L694.4 283 L696 283.2 L697.6 283.1 L699.2 283 L700.9 282.9 L702.5 282.8 L704.1 282.7 L712 284 L712 70 Z" fill="#cde6e6" stroke="#333" stroke-width="1.15" stroke-linejoin="round"/>
<path d="M386.3 138.7 L391.7 138.2 L396.1 140.3 L397.2 144.1 L395 145.2 L391.7 144.1 L389.6 147.4 L386.3 150.1 L383.6 147.9 L384.1 144.1 L387.4 142 Z" fill="#f09860" stroke="#333" stroke-width="0.9" stroke-linejoin="round"/>
<path d="M405 156 L407.5 155.8 L408.2 158.5 L406.5 160.4 L404.8 158.8 Z" fill="#f09860" stroke="#333" stroke-width="0.9" stroke-linejoin="round"/>
<path d="M432.6 267.4 L431.5 276.1 L430.4 285.9 L426.1 290.2 L421.7 293.5 L418.5 289.1 L421.7 279.3 L426.1 270.7 Z" fill="#fff" stroke="#333" stroke-width="0.9" stroke-linejoin="round"/>
<path d="M488.9 243.5 L495.4 236.2 L502 230.5 L505 226.6 L509.3 226.2 L509.8 228.4 L506.9 231.3 L503.6 236.2 L498.7 241.9 L492.2 246.3 L488.3 247.2 Z" fill="#fff" stroke="#333" stroke-width="0.9" stroke-linejoin="round"/>
<path d="M509.5 236.3 L512.2 234.7 L514.9 236.3 L513.8 240.1 L510.5 240.1 Z" fill="#fff" stroke="#333" stroke-width="0.9" stroke-linejoin="round"/>
<path d="M430 242 L433 241.5 L434.5 245 L432 249 L429.5 247 Z" fill="#fff" stroke="#333" stroke-width="0.9" stroke-linejoin="round"/>
<circle cx="270.6" cy="185.7" r="3.2" fill="#fff" stroke="#8a8a8a" stroke-width="0.9"/><circle cx="270.6" cy="185.7" r="1.25" fill="#111"/>
<circle cx="353.2" cy="174" r="3.2" fill="#fff" stroke="#8a8a8a" stroke-width="0.9"/><circle cx="353.2" cy="174" r="1.25" fill="#111"/>
<circle cx="358.5" cy="224.7" r="3.2" fill="#fff" stroke="#8a8a8a" stroke-width="0.9"/><circle cx="358.5" cy="224.7" r="1.25" fill="#111"/>
<circle cx="450.4" cy="253.7" r="3.2" fill="#fff" stroke="#8a8a8a" stroke-width="0.9"/><circle cx="450.4" cy="253.7" r="1.25" fill="#111"/>
<circle cx="539.4" cy="247.2" r="3.2" fill="#fff" stroke="#8a8a8a" stroke-width="0.9"/><circle cx="539.4" cy="247.2" r="1.25" fill="#111"/>
<circle cx="666" cy="278.1" r="3.2" fill="#fff" stroke="#8a8a8a" stroke-width="0.9"/><circle cx="666" cy="278.1" r="1.25" fill="#111"/>
<circle cx="230.4" cy="286.1" r="3.2" fill="#fff" stroke="#8a8a8a" stroke-width="0.9"/><circle cx="230.4" cy="286.1" r="1.25" fill="#111"/>
<circle cx="328.3" cy="314.5" r="3.2" fill="#fff" stroke="#8a8a8a" stroke-width="0.9"/><circle cx="328.3" cy="314.5" r="1.25" fill="#111"/>
<circle cx="383.7" cy="319.7" r="3.2" fill="#fff" stroke="#8a8a8a" stroke-width="0.9"/><circle cx="383.7" cy="319.7" r="1.25" fill="#111"/>
<circle cx="362.8" cy="334.3" r="3.2" fill="#fff" stroke="#8a8a8a" stroke-width="0.9"/><circle cx="362.8" cy="334.3" r="1.25" fill="#111"/>
<circle cx="422.2" cy="340.5" r="3.2" fill="#fff" stroke="#8a8a8a" stroke-width="0.9"/><circle cx="422.2" cy="340.5" r="1.25" fill="#111"/>
<circle cx="363.5" cy="356.2" r="3.2" fill="#fff" stroke="#8a8a8a" stroke-width="0.9"/><circle cx="363.5" cy="356.2" r="1.25" fill="#111"/>
<circle cx="241.5" cy="350.3" r="3.2" fill="#fff" stroke="#8a8a8a" stroke-width="0.9"/><circle cx="241.5" cy="350.3" r="1.25" fill="#111"/>
<circle cx="480.1" cy="339.1" r="3.2" fill="#fff" stroke="#8a8a8a" stroke-width="0.9"/><circle cx="480.1" cy="339.1" r="1.25" fill="#111"/>
<circle cx="612.2" cy="323.8" r="3.2" fill="#fff" stroke="#8a8a8a" stroke-width="0.9"/><circle cx="612.2" cy="323.8" r="1.25" fill="#111"/>
<circle cx="530.9" cy="357.1" r="3.2" fill="#fff" stroke="#8a8a8a" stroke-width="0.9"/><circle cx="530.9" cy="357.1" r="1.25" fill="#111"/>
<circle cx="433.7" cy="397.4" r="3.2" fill="#fff" stroke="#8a8a8a" stroke-width="0.9"/><circle cx="433.7" cy="397.4" r="1.25" fill="#111"/>
<circle cx="257.9" cy="407.5" r="3.2" fill="#fff" stroke="#8a8a8a" stroke-width="0.9"/><circle cx="257.9" cy="407.5" r="1.25" fill="#111"/>
<circle cx="374" cy="429.7" r="3.2" fill="#fff" stroke="#8a8a8a" stroke-width="0.9"/><circle cx="374" cy="429.7" r="1.25" fill="#111"/>
<circle cx="406.6" cy="434.6" r="3.2" fill="#fff" stroke="#8a8a8a" stroke-width="0.9"/><circle cx="406.6" cy="434.6" r="1.25" fill="#111"/>
<circle cx="443.5" cy="412.6" r="3.2" fill="#fff" stroke="#8a8a8a" stroke-width="0.9"/><circle cx="443.5" cy="412.6" r="1.25" fill="#111"/>
<circle cx="479" cy="402" r="3.2" fill="#fff" stroke="#8a8a8a" stroke-width="0.9"/><circle cx="479" cy="402" r="1.25" fill="#111"/>
<circle cx="571.4" cy="394.3" r="3.2" fill="#fff" stroke="#8a8a8a" stroke-width="0.9"/><circle cx="571.4" cy="394.3" r="1.25" fill="#111"/>
<circle cx="574.3" cy="431.6" r="3.2" fill="#fff" stroke="#8a8a8a" stroke-width="0.9"/><circle cx="574.3" cy="431.6" r="1.25" fill="#111"/>
<circle cx="531.4" cy="451.4" r="3.2" fill="#fff" stroke="#8a8a8a" stroke-width="0.9"/><circle cx="531.4" cy="451.4" r="1.25" fill="#111"/>
<circle cx="84" cy="475.1" r="3.2" fill="#fff" stroke="#8a8a8a" stroke-width="0.9"/><circle cx="84" cy="475.1" r="1.25" fill="#111"/>
<circle cx="167.2" cy="514.6" r="3.2" fill="#fff" stroke="#8a8a8a" stroke-width="0.9"/><circle cx="167.2" cy="514.6" r="1.25" fill="#111"/>
<circle cx="365" cy="511.7" r="3.2" fill="#fff" stroke="#8a8a8a" stroke-width="0.9"/><circle cx="365" cy="511.7" r="1.25" fill="#111"/>
<circle cx="282.8" cy="539.6" r="3.2" fill="#fff" stroke="#8a8a8a" stroke-width="0.9"/><circle cx="282.8" cy="539.6" r="1.25" fill="#111"/>
<circle cx="459.5" cy="532.4" r="3.2" fill="#fff" stroke="#8a8a8a" stroke-width="0.9"/><circle cx="459.5" cy="532.4" r="1.25" fill="#111"/>
<circle cx="451.7" cy="558.5" r="3.2" fill="#fff" stroke="#8a8a8a" stroke-width="0.9"/><circle cx="451.7" cy="558.5" r="1.25" fill="#111"/>
<circle cx="553.7" cy="527.8" r="3.2" fill="#fff" stroke="#8a8a8a" stroke-width="0.9"/><circle cx="553.7" cy="527.8" r="1.25" fill="#111"/>
<circle cx="559.8" cy="623.8" r="3.2" fill="#fff" stroke="#8a8a8a" stroke-width="0.9"/><circle cx="559.8" cy="623.8" r="1.25" fill="#111"/>
<circle cx="281.4" cy="640.8" r="3.2" fill="#fff" stroke="#8a8a8a" stroke-width="0.9"/><circle cx="281.4" cy="640.8" r="1.25" fill="#111"/>
<circle cx="248.5" cy="674.9" r="3.2" fill="#fff" stroke="#8a8a8a" stroke-width="0.9"/><circle cx="248.5" cy="674.9" r="1.25" fill="#111"/>
<circle cx="424.3" cy="663.7" r="3.2" fill="#fff" stroke="#8a8a8a" stroke-width="0.9"/><circle cx="424.3" cy="663.7" r="1.25" fill="#111"/>
<circle cx="169" cy="673.7" r="3.2" fill="#fff" stroke="#8a8a8a" stroke-width="0.9"/><circle cx="169" cy="673.7" r="1.25" fill="#111"/>
<circle cx="181.8" cy="706.5" r="3.2" fill="#fff" stroke="#8a8a8a" stroke-width="0.9"/><circle cx="181.8" cy="706.5" r="1.25" fill="#111"/>
<circle cx="303.2" cy="828.6" r="3.2" fill="#fff" stroke="#8a8a8a" stroke-width="0.9"/><circle cx="303.2" cy="828.6" r="1.25" fill="#111"/>
<text class="lb" x="180.6" y="182.9" textLength="87.2" lengthAdjust="spacingAndGlyphs">BOA VISTA DO GURUPI</text>
<text class="lb" x="360.2" y="170.4" textLength="32" lengthAdjust="spacingAndGlyphs">TURIAÇU</text>
<text class="lb" x="362.6" y="222.1" textLength="58.7" lengthAdjust="spacingAndGlyphs">SANTA HELENA</text>
<text class="lb" x="454.7" y="251.2" textLength="36" lengthAdjust="spacingAndGlyphs">SÃO LUÍS</text>
<text class="lb" x="543.7" y="243.7" textLength="84.8" lengthAdjust="spacingAndGlyphs">SANTO AMARO DO MA</text>
<text class="lb" x="599.8" y="275.4" textLength="62.9" lengthAdjust="spacingAndGlyphs">ILHA GRANDE-PI</text>
<text class="lb" x="234.7" y="283.6" textLength="69.1" lengthAdjust="spacingAndGlyphs">PARAGOMINAS-PA</text>
<text class="lb" x="332.5" y="312" textLength="33.6" lengthAdjust="spacingAndGlyphs">ZÉ DOCA</text>
<text class="lb" x="387.3" y="316.2" textLength="26.1" lengthAdjust="spacingAndGlyphs">CAJARI</text>
<text class="lb" x="325.3" y="331.9" textLength="33.9" lengthAdjust="spacingAndGlyphs">MONÇÃO</text>
<text class="lb" x="363.5" y="338.1" textLength="79.2" lengthAdjust="spacingAndGlyphs">MIRANDA DO NORTE</text>
<text class="lb" x="367.7" y="353.7" textLength="71.4" lengthAdjust="spacingAndGlyphs">BELA VISTA DO MA</text>
<text class="lb" x="245.4" y="347.5" textLength="46.3" lengthAdjust="spacingAndGlyphs">TUFILÂNDIA</text>
<text class="lb" x="484" y="336" textLength="66.8" lengthAdjust="spacingAndGlyphs">VARGEM GRANDE</text>
<text class="lb" x="616.1" y="321.3" textLength="56.1" lengthAdjust="spacingAndGlyphs">SÃO BERNADO</text>
<text class="lb" x="535.5" y="354.4" textLength="49.2" lengthAdjust="spacingAndGlyphs">CHAPADINHA</text>
<text class="lb" x="319.9" y="393.9" textLength="109.9" lengthAdjust="spacingAndGlyphs">ALTO ALEGREDO MARANHÃO</text>
<text class="lb" x="262.2" y="403.7" textLength="47" lengthAdjust="spacingAndGlyphs">BURITICUPU</text>
<text class="lb" x="307.8" y="426.6" textLength="62.6" lengthAdjust="spacingAndGlyphs">LAGO DA PEDRA</text>
<text class="lb" x="410.5" y="431.4" textLength="86.1" lengthAdjust="spacingAndGlyphs">BERNADO DO MEARIM</text>
<text class="lb" x="447.3" y="415.9" textLength="40.8" lengthAdjust="spacingAndGlyphs">PERITORÓ</text>
<text class="lb" x="483.3" y="399.2" textLength="37.2" lengthAdjust="spacingAndGlyphs">TIMBIRAS</text>
<text class="lb" x="575.4" y="391.3" textLength="66.4" lengthAdjust="spacingAndGlyphs">MIGUEL ALVEZ-PI</text>
<text class="lb" x="578.2" y="428.3" textLength="35.6" lengthAdjust="spacingAndGlyphs">UNIÃO-PI</text>
<text class="lb" x="535.8" y="448.7" textLength="26.4" lengthAdjust="spacingAndGlyphs">CAXIAS</text>
<text class="lb" x="88.3" y="472.3" textLength="105.9" lengthAdjust="spacingAndGlyphs">S. PEDRO DA ÁGUA BRANCA</text>
<text class="lb" x="171.1" y="511.4" textLength="47.6" lengthAdjust="spacingAndGlyphs">IMPERATRIZ</text>
<text class="lb" x="369.2" y="508.7" textLength="69.8" lengthAdjust="spacingAndGlyphs">BARRA DO CORDA</text>
<text class="lb" x="287.7" y="536.4" textLength="29.3" lengthAdjust="spacingAndGlyphs">GRAJAÚ</text>
<text class="lb" x="463.8" y="529.3" textLength="36.5" lengthAdjust="spacingAndGlyphs">FORTUNA</text>
<text class="lb" x="455.6" y="555" textLength="33" lengthAdjust="spacingAndGlyphs">COLINAS</text>
<text class="lb" x="557.8" y="525.1" textLength="46" lengthAdjust="spacingAndGlyphs">PARNARAMA</text>
<text class="lb" x="563.9" y="621.1" textLength="39" lengthAdjust="spacingAndGlyphs">FLORIANO</text>
<text class="lb" x="285.5" y="637.9" textLength="111.4" lengthAdjust="spacingAndGlyphs">FORTALEZA DOS NOGUEIRAS</text>
<text class="lb" x="252.8" y="671.5" textLength="35" lengthAdjust="spacingAndGlyphs">RIACHÃO</text>
<text class="lb" x="428.4" y="660.4" textLength="63.9" lengthAdjust="spacingAndGlyphs">BENEDITO LEITE</text>
<text class="lb" x="172.7" y="670.8" textLength="38.5" lengthAdjust="spacingAndGlyphs">CAROLINA</text>
<text class="lb" x="186.1" y="703" textLength="43.1" lengthAdjust="spacingAndGlyphs">GOIATINS-TO</text>
<text class="lb" x="307.7" y="825.7" textLength="60.2" lengthAdjust="spacingAndGlyphs">ALTO PARNAÍBA</text>
<text x="86.6" y="274.1" style="font-family:'Liberation Sans',Arial,sans-serif;font-weight:bold;fill:#111" font-size="10.9" textLength="31.6" lengthAdjust="spacingAndGlyphs">PARÁ</text>
<text x="55.5" y="674.6" style="font-family:'Liberation Sans',Arial,sans-serif;font-weight:bold;fill:#111" font-size="10.9" textLength="67.7" lengthAdjust="spacingAndGlyphs">TOCANTINS</text>
<text x="495.8" y="716.3" style="font-family:'Liberation Sans',Arial,sans-serif;font-weight:bold;fill:#111" font-size="10.9" textLength="30.4" lengthAdjust="spacingAndGlyphs">PIAUÍ</text>
<text x="609" y="106.2" style="font-family:'Liberation Sans',Arial,sans-serif;font-weight:bold;fill:#111;font-style:italic" font-size="9.3" textLength="78.2" lengthAdjust="spacingAndGlyphs">OCEANO ATLÂNTICO</text>
<rect x="58.6" y="717.6" width="123" height="135.4" fill="none" stroke="#444" stroke-width="0.9"/>
<path d="M61.7 771.3 L62.4 769.2 L64.5 764.5 L70.1 762.1 L73.1 761.5 L73.2 752.3 L74.7 752 L74.1 747.3 L72.9 747 L72.9 744.3 L75.3 745.8 L80.2 743.2 L82 744 L82.5 745.5 L84.9 746.4 L86.4 747 L90.4 744.6 L90.4 742 L92.8 742.6 L94.1 738.4 L95 737.2 L100.2 735.8 L101.1 733.7 L103.2 734.3 L104.4 736.6 L104.3 739 L103.4 741.4 L105.1 744.3 L107.2 745.2 L109.1 744.6 L113.6 743.4 L115.4 741.7 L118.1 741.7 L121.1 742.6 L124.4 742.6 L128.4 736.1 L130.2 737.5 L131.7 743.2 L133.2 744 L133.1 747.6 L131.3 749.1 L134.7 749.7 L137.7 751.4 L140.7 750.8 L143.7 752 L146.7 752.9 L149.7 756.2 L152.7 756.2 L157.2 757.4 L163.3 757.4 L167.8 760 L171.7 763.3 L175.9 763.9 L177.7 764.8 L178.8 770.1 L178.1 775.1 L176.3 777.5 L173.8 780.1 L170.5 783.4 L167.8 787.2 L166.3 789.3 L166 793.5 L166.2 797.9 L165.3 801.4 L163.8 805.3 L162.3 809.1 L160.1 813 L157.5 816.8 L153.9 816.8 L150.1 818 L144.9 820.1 L141.1 823 L139.4 826.6 L139.7 832.8 L137.3 836.1 L135.7 839.3 L133.4 842.6 L130.5 844.9 L128.7 848.8 L128.1 845.5 L124.9 842.6 L122.1 840.5 L120.8 838.1 L116.6 838.4 L120.2 833.4 L122.5 830.7 L125.6 829.3 L125.8 826 L123 824.8 L123.4 820.4 L119.4 815.9 L112.9 814.5 L112 808.8 L112.2 805.3 L110.7 800.9 L104.6 797.3 L104.3 793.8 L103.1 789.9 L99.2 789 L94 786.1 L89.4 784 L87.8 778.7 L84.5 778.4 L80.3 780.7 L75.6 781.6 L72.7 781.6 L72.3 777.2 L67.6 778.7 L64.5 776.9 L64.9 774.2 Z" fill="none" stroke="#111" stroke-width="1.25" stroke-linejoin="round"/>
<path d="M62.2 770.1 L83.6 778.1M83.6 778.1 L96.1 772.7 L99.2 775.1 L108.7 774.8 L109.4 771 L112.7 759.1 L107.6 756.5 L106.3 750.5 L105.1 744.3M88.6 746.1 L95.5 747 L100 747.6 L103 752 L106.3 750.5M118.7 742 L122.6 747.6 L126.2 751.4 L130.1 750.5M108.7 774.8 L121.6 776.6 L132.9 778.1M132.9 778.1 L134.8 771.3 L137.2 766.8 L138 764.5 L140.7 764.5M99.2 775.1 L101 780.1 L104.3 786.1 L103.9 789.3M132.9 778.1 L132 786.9 L129.7 794.9 L125.4 801.7 L111.9 801.1M132 786.9 L139.6 787.8 L145.5 787.5 L144.6 783.1 L146 779.3M125.4 801.7 L131.7 806.8 L131.8 809.1 L129.1 815.6 L123.4 820.1M131.7 806.8 L138.8 807.1 L142.6 809.1 L144.4 814.8 L150 815.9 L155.9 814.2 L160.1 812.1M145.5 787.5 L144.7 793.5 L141.9 794.9 L141.6 797 L137.2 802.3 L131.7 806.8M144.7 793.5 L151.4 791.4 L157.2 792.9 L161.6 796.7 L162.4 802M162.4 802 L157.8 809.1 L160.1 812.1M150 815.9 L149.5 818M129.1 815.6 L135 816.8 L138.1 821.6 L140.6 823.6M125.3 826.6 L132.9 826 L139.4 826M125.6 829.3 L131.9 831.3 L137 835.8M146 779.3 L151.3 778.7 L154.3 779.8 L160.2 776.3 L161.7 775.1 L168.6 775.1 L168.6 776.6 L170.5 783.4M158.2 757.9 L160.6 763.9 L160.5 771.3 L161.7 775.1M171.7 763.3 L167.4 768 L165.3 772.2 L160.5 771.3M178.2 768.3 L173.7 768.6 L167.4 768M178.8 771.3 L173.7 770.7 L168.3 771.6 L165.3 772.2M177.8 775.7 L173.6 776.3 L168.6 776.6M173.8 780.1 L170.6 779 L168.6 776.6" fill="none" stroke="#111" stroke-width="1.1" stroke-linejoin="round"/>
<path d="M144.9 752.5 L146 752.7 L147 753.2 L148.7 753.7 L149.7 754.9 L150.1 756.1 L150.2 756.6 L151.1 756.2 L152.8 756 L154.2 756.2 L155.5 756.9 L156.9 757.1 L157.8 757.1 L157.8 757.1 L157.8 757.7 L157.6 758.2 L156.7 759.2 L155.5 759.6 L155.2 760.3 L154.5 761.3 L154.6 762.3 L154.4 763.2 L154.8 764.3 L154.4 765.2 L154 766.5 L154.7 767.6 L154.6 768.6 L153.9 769.1 L152.9 769.3 L151.8 768.9 L150.9 769.3 L150.4 770 L149.5 770.7 L148.4 771.2 L147.1 771.6 L146.6 772.6 L146.3 773.6 L145.9 774.6 L145.5 775.2 L145.5 775.8 L145.7 776.7 L145.8 778.4 L145.5 779.3 L144.7 779.2 L143.9 778.4 L143.4 777.8 L143.3 776.9 L142.6 776 L142.4 775.5 L142.6 774.7 L142.8 774.1 L143.3 773.8 L143.8 773.6 L143.9 772.9 L143.5 772.4 L142.8 772.6 L142.3 772.9 L141.9 772.4 L141.4 771.9 L141 771.3 L140.6 770.7 L140.1 770.4 L140.5 769.9 L140.8 769 L141.1 767.8 L140.9 766.4 L140.8 765.4 L139.9 765 L139.4 764.6 L138.7 764.6 L138.1 764.4 L137.6 764.5 L137.4 764.9 L136.9 764.9 L140.5 762.4 L141.2 761.1 L142.1 759.6 L142.9 758.6 L143.2 758 L143.2 757.2 L143.6 756.8 L143.9 756.3 L144 755.7 L144.4 755.2 L144.5 754.5 L144.3 754.2 L144.7 753.7 L144.8 752.9 L144.9 752.4 Z" fill="#ff8000" stroke="#111" stroke-width="0.6" stroke-linejoin="round"/>
<g fill="#111"><path d="M123.3 881.9 L122.1 876.3 L120.8 881.9 Z"/><rect x="121.4" y="873.4" width="1.3" height="1.3"/><path d="M120.8 890.5 L122.1 896.1 L123.3 890.5 Z"/><rect x="121.4" y="897.8" width="1.3" height="1.3"/><path d="M117.8 885.0 L112.2 886.2 L117.8 887.5 Z"/><rect x="109.2" y="885.6" width="1.3" height="1.3"/><path d="M126.4 887.5 L132.0 886.2 L126.4 885.0 Z"/><rect x="133.6" y="885.6" width="1.3" height="1.3"/></g><circle cx="122.1" cy="886.2" r="4.4" fill="none" stroke="#3a3a3a" stroke-width="0.85"/>
<rect x="72.9" y="918.2" width="107.3" height="6" fill="#fff" stroke="#111" stroke-width="0.8"/>
<rect x="72.9" y="918.2" width="13.7" height="3" fill="#111"/>
<rect x="86.6" y="921.2" width="13.3" height="3" fill="#111"/>
<rect x="99.9" y="918.2" width="26.7" height="3" fill="#111"/>
<rect x="126.6" y="921.2" width="26.6" height="3" fill="#111"/>
<rect x="153.2" y="918.2" width="27" height="3" fill="#111"/>
<text x="73.3" y="914" style="font-family:'Liberation Sans',Arial,sans-serif;fill:#222;stroke:#222;stroke-width:0.2px" font-size="8.5" text-anchor="middle" textLength="7.6" lengthAdjust="spacingAndGlyphs">33</text>
<text x="99.8" y="914" style="font-family:'Liberation Sans',Arial,sans-serif;fill:#222;stroke:#222;stroke-width:0.2px" font-size="8.5" text-anchor="middle" textLength="3.9" lengthAdjust="spacingAndGlyphs">0</text>
<text x="126.6" y="914" style="font-family:'Liberation Sans',Arial,sans-serif;fill:#222;stroke:#222;stroke-width:0.2px" font-size="8.5" text-anchor="middle" textLength="7.6" lengthAdjust="spacingAndGlyphs">33</text>
<text x="153.2" y="914" style="font-family:'Liberation Sans',Arial,sans-serif;fill:#222;stroke:#222;stroke-width:0.2px" font-size="8.5" text-anchor="middle" textLength="7.6" lengthAdjust="spacingAndGlyphs">66</text>
<text x="176.2" y="914" style="font-family:'Liberation Sans',Arial,sans-serif;fill:#222;stroke:#222;stroke-width:0.2px" font-size="8.5" textLength="19" lengthAdjust="spacingAndGlyphs">99 km</text>
<text x="122.8" y="932.9" style="font-family:'Liberation Sans',Arial,sans-serif;fill:#222;stroke:#222;stroke-width:0.2px" font-size="8.4" text-anchor="middle" textLength="136" lengthAdjust="spacingAndGlyphs">SISTEMA DE COORDENADAS GEOGRÁFICAS</text>
<text x="123" y="942" style="font-family:'Liberation Sans',Arial,sans-serif;fill:#222;stroke:#222;stroke-width:0.2px" font-size="8.4" text-anchor="middle" textLength="106" lengthAdjust="spacingAndGlyphs">DATUM HORIZONTAL: SIRGAS 2000</text>
<text x="123" y="960.4" style="font-family:'Liberation Sans',Arial,sans-serif;fill:#222;stroke:#222;stroke-width:0.2px" font-size="8.4" text-anchor="middle" textLength="127" lengthAdjust="spacingAndGlyphs">FONTE: IBGE (2022); NUGEO/UEMA (2024).</text>
<rect x="55.3" y="967.4" width="46.4" height="14.7" fill="#fff"/>
<text x="56.3" y="978.8" style="font-family:'DejaVu Sans',sans-serif;font-weight:bold" font-size="9.6" textLength="44.5" lengthAdjust="spacingAndGlyphs"><tspan fill="#d0202e">MA</tspan><tspan fill="#2a9a3a">R</tspan><tspan fill="#1f5fb0">A</tspan><tspan fill="#e0262a">N</tspan><tspan fill="#f08a00">H</tspan><tspan fill="#f6b800">ÃO</tspan></text>
<rect x="72" y="968.6" width="13" height="1.1" fill="#777"/><rect x="66" y="980.2" width="24" height="0.9" fill="#999"/>
<ellipse cx="112" cy="975.3" rx="7.8" ry="9.1" fill="#e4e6e4" stroke="#9fb8d4" stroke-width="0.9"/>
<path d="M106.6 969.2 H117.2 V978 Q117.2 982.6 111.9 983.2 Q106.6 982.6 106.6 978 Z" fill="#e9a23a"/>
<rect x="107.6" y="970.2" width="8.6" height="2.6" fill="#c73c3c"/><rect x="107.6" y="972.8" width="8.6" height="2" fill="#f4f0f0"/><rect x="107.6" y="974.8" width="4.6" height="3.4" fill="#3a8a45"/><rect x="112.2" y="974.8" width="4" height="3.4" fill="#f0b030"/><path d="M108 978.2 H116 Q115.5 982 112 982.5 Q108.5 982 108 978.2 Z" fill="#5aa040"/>
<text x="122.4" y="975.9" style="font-family:'Liberation Sans',Arial,sans-serif;font-weight:bold;fill:#1a3c78" textLength="31.4" lengthAdjust="spacingAndGlyphs"><tspan font-size="9.6">U</tspan><tspan font-size="13.3">ema</tspan></text>
<rect x="122.8" y="978.7" width="30.6" height="1.1" fill="#8c9bb8"/><rect x="122.8" y="980.9" width="18" height="1.1" fill="#8c9bb8"/>
<rect x="156.7" y="964.2" width="22.3" height="22.4" fill="#fff"/>
<path d="M158.7 975.6 A9.1 9.1 0 0 0 176.9 975.6 Z" fill="#4b48a0"/><path d="M159.2 975.5 Q167.8 981.5 176.4 975.5 L176.2 977.2 Q167.8 983.2 159.4 977.2 Z" fill="#2ab0e2"/>
<circle cx="167.8" cy="973.7" r="9.1" fill="none" stroke="#4b4aa2" stroke-width="1.1"/>
<path d="M164.6 970.6 L166 968 L167.3 969.2 L168.6 967.4 L170.6 970.6 Z" fill="#4b4aa2"/>
<text x="167.8" y="975.4" style="font-family:'Liberation Sans',Arial,sans-serif;font-weight:bold;fill:#2aaee0" font-size="5.2" text-anchor="middle" textLength="18.6" lengthAdjust="spacingAndGlyphs">FAPEAD</text>
<rect x="157.5" y="984.2" width="20.5" height="0.8" fill="#8d8fb5"/><rect x="160.5" y="985.6" width="14" height="0.6" fill="#bbb"/>
<rect x="604" y="498" width="95" height="464" fill="#fff"/>
<text x="626" y="525.2" style="font-family:'DejaVu Sans',sans-serif;fill:#111" font-size="15.5" textLength="50.4" lengthAdjust="spacingAndGlyphs">mm/dia</text>
<rect x="609.3" y="532" width="26.5" height="26.4" rx="1.2" fill="#374873" stroke="rgba(0,0,0,0.6)" stroke-width="0.9"/>
<text x="640.5" y="550.6" style="font-family:'DejaVu Sans',sans-serif;fill:#111" font-size="12.9" textLength="32.8" lengthAdjust="spacingAndGlyphs">&gt; 120</text>
<rect x="609.3" y="564.2" width="26.5" height="26.4" rx="1.2" fill="#6a5aa8" stroke="rgba(0,0,0,0.6)" stroke-width="0.9"/>
<text x="640.5" y="582.8" style="font-family:'DejaVu Sans',sans-serif;fill:#111" font-size="12.9" textLength="52.7" lengthAdjust="spacingAndGlyphs">100 - 120</text>
<rect x="609.3" y="596.5" width="26.5" height="26.4" rx="1.2" fill="#8273bc" stroke="rgba(0,0,0,0.6)" stroke-width="0.9"/>
<text x="640.5" y="615.1" style="font-family:'DejaVu Sans',sans-serif;fill:#111" font-size="12.9" textLength="46.9" lengthAdjust="spacingAndGlyphs">80 - 100</text>
<rect x="609.3" y="628.7" width="26.5" height="26.4" rx="1.2" fill="#708a82" stroke="rgba(0,0,0,0.6)" stroke-width="0.9"/>
<text x="640.5" y="647.3" style="font-family:'DejaVu Sans',sans-serif;fill:#111" font-size="12.9" textLength="40.3" lengthAdjust="spacingAndGlyphs">70 - 80</text>
<rect x="609.3" y="660.9" width="26.5" height="26.4" rx="1.2" fill="#23a055" stroke="rgba(0,0,0,0.6)" stroke-width="0.9"/>
<text x="640.5" y="679.5" style="font-family:'DejaVu Sans',sans-serif;fill:#111" font-size="12.9" textLength="40.3" lengthAdjust="spacingAndGlyphs">60 - 70</text>
<rect x="609.3" y="693.1" width="26.5" height="26.4" rx="1.2" fill="#2daa4b" stroke="rgba(0,0,0,0.6)" stroke-width="0.9"/>
<text x="640.5" y="711.8" style="font-family:'DejaVu Sans',sans-serif;fill:#111" font-size="12.9" textLength="40.3" lengthAdjust="spacingAndGlyphs">50 - 60</text>
<rect x="609.3" y="725.4" width="26.5" height="26.4" rx="1.2" fill="#73be4b" stroke="rgba(0,0,0,0.6)" stroke-width="0.9"/>
<text x="640.5" y="744" style="font-family:'DejaVu Sans',sans-serif;fill:#111" font-size="12.9" textLength="40.3" lengthAdjust="spacingAndGlyphs">40 - 50</text>
<rect x="609.3" y="757.6" width="26.5" height="26.4" rx="1.2" fill="#8cc869" stroke="rgba(0,0,0,0.6)" stroke-width="0.9"/>
<text x="640.5" y="776.2" style="font-family:'DejaVu Sans',sans-serif;fill:#111" font-size="12.9" textLength="40.3" lengthAdjust="spacingAndGlyphs">30 - 40</text>
<rect x="609.3" y="789.8" width="26.5" height="26.4" rx="1.2" fill="#a8d28c" stroke="rgba(0,0,0,0.6)" stroke-width="0.9"/>
<text x="640.5" y="808.4" style="font-family:'DejaVu Sans',sans-serif;fill:#111" font-size="12.9" textLength="40.3" lengthAdjust="spacingAndGlyphs">20 - 30</text>
<rect x="609.3" y="822.1" width="26.5" height="26.4" rx="1.2" fill="#d7c487" stroke="rgba(0,0,0,0.6)" stroke-width="0.9"/>
<text x="640.5" y="840.7" style="font-family:'DejaVu Sans',sans-serif;fill:#111" font-size="12.9" textLength="40.3" lengthAdjust="spacingAndGlyphs">10 - 20</text>
<rect x="609.3" y="854.3" width="26.5" height="26.4" rx="1.2" fill="#f09860" stroke="rgba(0,0,0,0.6)" stroke-width="0.9"/>
<text x="640.5" y="872.9" style="font-family:'DejaVu Sans',sans-serif;fill:#111" font-size="12.9" textLength="33.7" lengthAdjust="spacingAndGlyphs">5 - 10</text>
<rect x="609.3" y="886.5" width="26.5" height="26.4" rx="1.2" fill="#b9411e" stroke="rgba(0,0,0,0.6)" stroke-width="0.9"/>
<text x="640.5" y="905.1" style="font-family:'DejaVu Sans',sans-serif;fill:#111" font-size="12.9" textLength="26.8" lengthAdjust="spacingAndGlyphs">2 - 5</text>
<rect x="609.3" y="918.8" width="26.5" height="26.4" rx="1.2" fill="#ffffff" stroke="rgba(0,0,0,0.6)" stroke-width="0.9"/>
<text x="640.5" y="937.4" style="font-family:'DejaVu Sans',sans-serif;fill:#111" font-size="12.9" textLength="28.8" lengthAdjust="spacingAndGlyphs">&lt;= 2</text>
</g>
<rect x="28.5" y="76.5" width="679" height="919" fill="none" stroke="#505050" stroke-width="1.2"/>
<path d="M121.7 76.5 V81 M121.7 995.5 V991" stroke="#444" stroke-width="1.1"/>
<text x="121.7" y="75.1" style="font-family:'Liberation Sans',Arial,sans-serif;fill:#333;stroke:#333;stroke-width:0.12px" font-size="8.4" text-anchor="middle" textLength="24.2" lengthAdjust="spacingAndGlyphs">-48°0'0&quot;</text>
<text x="121.7" y="1004.5" style="font-family:'Liberation Sans',Arial,sans-serif;fill:#333;stroke:#333;stroke-width:0.12px" font-size="8.4" text-anchor="middle" textLength="24.2" lengthAdjust="spacingAndGlyphs">-48°0'0&quot;</text>
<path d="M297.6 76.5 V81 M297.6 995.5 V991" stroke="#444" stroke-width="1.1"/>
<text x="297.6" y="75.1" style="font-family:'Liberation Sans',Arial,sans-serif;fill:#333;stroke:#333;stroke-width:0.12px" font-size="8.4" text-anchor="middle" textLength="24.2" lengthAdjust="spacingAndGlyphs">-46°0'0&quot;</text>
<text x="297.6" y="1004.5" style="font-family:'Liberation Sans',Arial,sans-serif;fill:#333;stroke:#333;stroke-width:0.12px" font-size="8.4" text-anchor="middle" textLength="24.2" lengthAdjust="spacingAndGlyphs">-46°0'0&quot;</text>
<path d="M473.9 76.5 V81 M473.9 995.5 V991" stroke="#444" stroke-width="1.1"/>
<text x="473.9" y="75.1" style="font-family:'Liberation Sans',Arial,sans-serif;fill:#333;stroke:#333;stroke-width:0.12px" font-size="8.4" text-anchor="middle" textLength="24.2" lengthAdjust="spacingAndGlyphs">-44°0'0&quot;</text>
<text x="473.9" y="1004.5" style="font-family:'Liberation Sans',Arial,sans-serif;fill:#333;stroke:#333;stroke-width:0.12px" font-size="8.4" text-anchor="middle" textLength="24.2" lengthAdjust="spacingAndGlyphs">-44°0'0&quot;</text>
<path d="M650.2 76.5 V81 M650.2 995.5 V991" stroke="#444" stroke-width="1.1"/>
<text x="650.2" y="75.1" style="font-family:'Liberation Sans',Arial,sans-serif;fill:#333;stroke:#333;stroke-width:0.12px" font-size="8.4" text-anchor="middle" textLength="24.2" lengthAdjust="spacingAndGlyphs">-42°0'0&quot;</text>
<text x="650.2" y="1004.5" style="font-family:'Liberation Sans',Arial,sans-serif;fill:#333;stroke:#333;stroke-width:0.12px" font-size="8.4" text-anchor="middle" textLength="24.2" lengthAdjust="spacingAndGlyphs">-42°0'0&quot;</text>
<path d="M28.5 203 H33 M708 203 H703.5" stroke="#444" stroke-width="1.1"/>
<text transform="translate(26.2 203) rotate(-90)" style="font-family:'Liberation Sans',Arial,sans-serif;fill:#333;stroke:#333;stroke-width:0.12px" font-size="8.4" text-anchor="middle" textLength="21" lengthAdjust="spacingAndGlyphs">-2°0'0&quot;</text>
<text transform="translate(715.6 203) rotate(-90)" style="font-family:'Liberation Sans',Arial,sans-serif;fill:#333;stroke:#333;stroke-width:0.12px" font-size="8.4" text-anchor="middle" textLength="21" lengthAdjust="spacingAndGlyphs">-2°0'0&quot;</text>
<path d="M28.5 379.4 H33 M708 379.4 H703.5" stroke="#444" stroke-width="1.1"/>
<text transform="translate(26.2 379.4) rotate(-90)" style="font-family:'Liberation Sans',Arial,sans-serif;fill:#333;stroke:#333;stroke-width:0.12px" font-size="8.4" text-anchor="middle" textLength="21" lengthAdjust="spacingAndGlyphs">-4°0'0&quot;</text>
<text transform="translate(715.6 379.4) rotate(-90)" style="font-family:'Liberation Sans',Arial,sans-serif;fill:#333;stroke:#333;stroke-width:0.12px" font-size="8.4" text-anchor="middle" textLength="21" lengthAdjust="spacingAndGlyphs">-4°0'0&quot;</text>
<path d="M28.5 555.6 H33 M708 555.6 H703.5" stroke="#444" stroke-width="1.1"/>
<text transform="translate(26.2 555.6) rotate(-90)" style="font-family:'Liberation Sans',Arial,sans-serif;fill:#333;stroke:#333;stroke-width:0.12px" font-size="8.4" text-anchor="middle" textLength="21" lengthAdjust="spacingAndGlyphs">-6°0'0&quot;</text>
<text transform="translate(715.6 555.6) rotate(-90)" style="font-family:'Liberation Sans',Arial,sans-serif;fill:#333;stroke:#333;stroke-width:0.12px" font-size="8.4" text-anchor="middle" textLength="21" lengthAdjust="spacingAndGlyphs">-6°0'0&quot;</text>
<path d="M28.5 731.8 H33 M708 731.8 H703.5" stroke="#444" stroke-width="1.1"/>
<text transform="translate(26.2 731.8) rotate(-90)" style="font-family:'Liberation Sans',Arial,sans-serif;fill:#333;stroke:#333;stroke-width:0.12px" font-size="8.4" text-anchor="middle" textLength="21" lengthAdjust="spacingAndGlyphs">-8°0'0&quot;</text>
<text transform="translate(715.6 731.8) rotate(-90)" style="font-family:'Liberation Sans',Arial,sans-serif;fill:#333;stroke:#333;stroke-width:0.12px" font-size="8.4" text-anchor="middle" textLength="21" lengthAdjust="spacingAndGlyphs">-8°0'0&quot;</text>
<path d="M28.5 908 H33 M708 908 H703.5" stroke="#444" stroke-width="1.1"/>
<text transform="translate(26.2 908) rotate(-90)" style="font-family:'Liberation Sans',Arial,sans-serif;fill:#333;stroke:#333;stroke-width:0.12px" font-size="8.4" text-anchor="middle" textLength="25" lengthAdjust="spacingAndGlyphs">-10°0'0&quot;</text>
<text transform="translate(715.6 908) rotate(-90)" style="font-family:'Liberation Sans',Arial,sans-serif;fill:#333;stroke:#333;stroke-width:0.12px" font-size="8.4" text-anchor="middle" textLength="25" lengthAdjust="spacingAndGlyphs">-10°0'0&quot;</text>
</svg></body></html>
